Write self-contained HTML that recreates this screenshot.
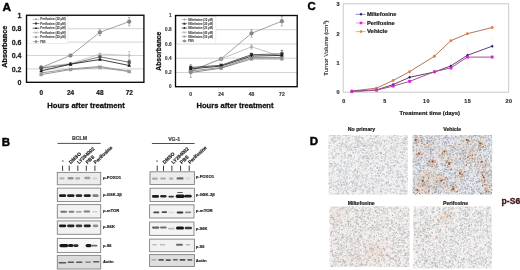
<!DOCTYPE html>
<html><head><meta charset="utf-8"><style>
html,body{margin:0;padding:0;background:#fff;width:520px;height:270px;overflow:hidden}
svg{display:block;opacity:0.999}
text{font-family:"Liberation Sans", sans-serif}
</style></head><body>
<svg width="520" height="270" viewBox="0 0 520 270" font-family='"Liberation Sans", sans-serif'>
<defs><filter id="bl" x="-30%" y="-80%" width="160%" height="260%"><feGaussianBlur stdDeviation="0.45"/></filter><filter id="bl4" x="-5%" y="-5%" width="110%" height="110%"><feGaussianBlur stdDeviation="0.3"/></filter><filter id="bl3" x="-50%" y="-50%" width="200%" height="200%"><feGaussianBlur stdDeviation="3"/></filter><filter id="bl2" x="-50%" y="-50%" width="200%" height="200%"><feGaussianBlur stdDeviation="1.2"/></filter></defs>
<rect width="520" height="270" fill="#fff"/>
<text x="2.6" y="11" font-size="11.8" font-weight="bold" text-anchor="start" fill="#000" stroke="#000" stroke-width="0.44" >A</text>
<text x="1.8" y="146" font-size="11.5" font-weight="bold" text-anchor="start" fill="#000" stroke="#000" stroke-width="0.43" >B</text>
<text x="307.5" y="9.9" font-size="11.4" font-weight="bold" text-anchor="start" fill="#000" stroke="#000" stroke-width="0.43" >C</text>
<text x="309.8" y="144.6" font-size="11.5" font-weight="bold" text-anchor="start" fill="#000" stroke="#000" stroke-width="0.43" >D</text>
<line x1="26.5" y1="68.9" x2="143.9" y2="68.9" stroke="#c8c8c8" stroke-width="0.8"/>
<line x1="26.5" y1="55.5" x2="143.9" y2="55.5" stroke="#c8c8c8" stroke-width="0.8"/>
<line x1="26.5" y1="42.1" x2="143.9" y2="42.1" stroke="#c8c8c8" stroke-width="0.8"/>
<line x1="26.5" y1="28.7" x2="143.9" y2="28.7" stroke="#c8c8c8" stroke-width="0.8"/>
<rect x="27.8" y="16.6" width="40.2" height="27" fill="#fff" stroke="#dadada" stroke-width="0.5"/>
<line x1="32.6" y1="19.3" x2="39.4" y2="19.3" stroke="#999" stroke-width="0.6"/>
<path d="M36.0,18.0L37.0,19.3L36.0,20.6L35.0,19.3Z" fill="#999"/>
<text x="40.2" y="20.4" font-size="3.3" font-weight="bold" fill="#4a4a4a" stroke="#4a4a4a" stroke-width="0.1" textLength="25.5" lengthAdjust="spacingAndGlyphs">Perifosine (10 µM)</text>
<line x1="32.6" y1="23.5" x2="39.4" y2="23.5" stroke="#333" stroke-width="0.6"/>
<rect x="35.0" y="22.5" width="2.0" height="2.0" fill="#333"/>
<text x="40.2" y="24.6" font-size="3.3" font-weight="bold" fill="#4a4a4a" stroke="#4a4a4a" stroke-width="0.1" textLength="25.5" lengthAdjust="spacingAndGlyphs">Perifosine (20 µM)</text>
<line x1="32.6" y1="28.2" x2="39.4" y2="28.2" stroke="#111" stroke-width="0.6"/>
<path d="M36.0,26.9L37.2,28.9L34.8,28.9Z" fill="#111"/>
<text x="40.2" y="29.3" font-size="3.3" font-weight="bold" fill="#4a4a4a" stroke="#4a4a4a" stroke-width="0.1" textLength="25.5" lengthAdjust="spacingAndGlyphs">Perifosine (25 µM)</text>
<line x1="32.6" y1="32.6" x2="39.4" y2="32.6" stroke="#aaa" stroke-width="0.6"/>
<path d="M35.0,31.6L37.0,33.6M37.0,31.6L35.0,33.6" stroke="#aaa" stroke-width="0.9"/>
<text x="40.2" y="33.8" font-size="3.3" font-weight="bold" fill="#4a4a4a" stroke="#4a4a4a" stroke-width="0.1" textLength="25.5" lengthAdjust="spacingAndGlyphs">Perifosine (40 µM)</text>
<line x1="32.6" y1="37.0" x2="39.4" y2="37.0" stroke="#999" stroke-width="0.6"/>
<rect x="35.0" y="36.0" width="2.0" height="2.0" fill="#999"/>
<text x="40.2" y="38.1" font-size="3.3" font-weight="bold" fill="#4a4a4a" stroke="#4a4a4a" stroke-width="0.1" textLength="25.5" lengthAdjust="spacingAndGlyphs">Perifosine (50 µM)</text>
<line x1="32.6" y1="41.6" x2="39.4" y2="41.6" stroke="#999" stroke-width="0.6"/>
<circle cx="36.0" cy="41.6" r="1.15" fill="#999" stroke="#666" stroke-width="0.4"/>
<text x="40.2" y="42.8" font-size="3.3" font-weight="bold" fill="#4a4a4a" stroke="#4a4a4a" stroke-width="0.1" textLength="5.4" lengthAdjust="spacingAndGlyphs">PBS</text>
<polyline points="41.2,67.5 70.5,55.5 99.9,32.3 129.2,21.6" fill="none" stroke="#8a8a8a" stroke-width="0.8"/>
<polyline points="41.2,66.9 70.5,63.5 99.9,54.1 129.2,55.5" fill="none" stroke="#b4b4b4" stroke-width="0.7"/>
<polyline points="41.2,68.2 70.5,64.2 99.9,56.8 129.2,62.2" fill="none" stroke="#555" stroke-width="0.8"/>
<polyline points="41.2,70.9 70.5,64.2 99.9,59.5 129.2,65.5" fill="none" stroke="#111" stroke-width="0.8"/>
<polyline points="41.2,72.9 70.5,68.9 99.9,66.5 129.2,71.2" fill="none" stroke="#9a9a9a" stroke-width="1.0"/>
<polyline points="41.2,74.6 70.5,69.6 99.9,67.5 129.2,71.6" fill="none" stroke="#9a9a9a" stroke-width="1.0"/>
<circle cx="41.2" cy="67.5" r="1.84" fill="#8a8a8a" stroke="#666" stroke-width="0.4"/>
<circle cx="70.5" cy="55.5" r="1.84" fill="#8a8a8a" stroke="#666" stroke-width="0.4"/>
<path d="M99.9,29.1V35.6M98.7,29.1h2.4M98.7,35.6h2.4" stroke="#8a8a8a" stroke-width="0.6"/>
<circle cx="99.9" cy="32.3" r="1.84" fill="#8a8a8a" stroke="#666" stroke-width="0.4"/>
<path d="M129.2,17.4V25.8M128.0,17.4h2.4M128.0,25.8h2.4" stroke="#8a8a8a" stroke-width="0.6"/>
<circle cx="129.2" cy="21.6" r="1.84" fill="#8a8a8a" stroke="#666" stroke-width="0.4"/>
<path d="M41.2,65.0L42.8,66.9L41.2,68.8L39.6,66.9Z" fill="#b4b4b4"/>
<path d="M70.5,61.6L72.1,63.5L70.5,65.4L68.9,63.5Z" fill="#b4b4b4"/>
<path d="M99.9,52.2L101.5,54.1L99.9,56.0L98.3,54.1Z" fill="#b4b4b4"/>
<path d="M129.2,51.5V59.5M128.0,51.5h2.4M128.0,59.5h2.4" stroke="#b4b4b4" stroke-width="0.6"/>
<path d="M129.2,53.6L130.8,55.5L129.2,57.4L127.6,55.5Z" fill="#b4b4b4"/>
<path d="M41.2,66.2V70.2M40.0,66.2h2.4M40.0,70.2h2.4" stroke="#555" stroke-width="0.6"/>
<rect x="39.6" y="66.6" width="3.2" height="3.2" fill="#555"/>
<rect x="68.9" y="62.6" width="3.2" height="3.2" fill="#555"/>
<rect x="98.3" y="55.2" width="3.2" height="3.2" fill="#555"/>
<path d="M129.2,60.2V64.2M128.0,60.2h2.4M128.0,64.2h2.4" stroke="#555" stroke-width="0.6"/>
<rect x="127.6" y="60.6" width="3.2" height="3.2" fill="#555"/>
<path d="M41.2,69.0L43.0,72.2L39.4,72.2Z" fill="#111"/>
<path d="M70.5,62.3L72.3,65.5L68.7,65.5Z" fill="#111"/>
<path d="M99.9,57.6L101.7,60.8L98.1,60.8Z" fill="#111"/>
<path d="M129.2,63.6L131.0,66.8L127.4,66.8Z" fill="#111"/>
<path d="M39.6,71.3L42.8,74.5M42.8,71.3L39.6,74.5" stroke="#9a9a9a" stroke-width="0.9"/>
<path d="M68.9,67.3L72.1,70.5M72.1,67.3L68.9,70.5" stroke="#9a9a9a" stroke-width="0.9"/>
<path d="M98.3,64.9L101.5,68.1M101.5,64.9L98.3,68.1" stroke="#9a9a9a" stroke-width="0.9"/>
<path d="M127.6,69.6L130.8,72.8M130.8,69.6L127.6,72.8" stroke="#9a9a9a" stroke-width="0.9"/>
<rect x="39.6" y="73.0" width="3.2" height="3.2" fill="#9a9a9a"/>
<rect x="68.9" y="68.0" width="3.2" height="3.2" fill="#9a9a9a"/>
<rect x="98.3" y="65.9" width="3.2" height="3.2" fill="#9a9a9a"/>
<rect x="127.6" y="70.0" width="3.2" height="3.2" fill="#9a9a9a"/>
<rect x="26.5" y="15.25" width="117.4" height="67.05" fill="none" stroke="#0a0a0a" stroke-width="1.35"/>
<text x="21.4" y="84.9" font-size="7.0" font-weight="bold" text-anchor="end" fill="#222" stroke="#222" stroke-width="0.26" >0</text>
<text x="21.4" y="71.5" font-size="7.0" font-weight="bold" text-anchor="end" fill="#222" stroke="#222" stroke-width="0.26" >0.2</text>
<text x="21.4" y="58.1" font-size="7.0" font-weight="bold" text-anchor="end" fill="#222" stroke="#222" stroke-width="0.26" >0.4</text>
<text x="21.4" y="44.7" font-size="7.0" font-weight="bold" text-anchor="end" fill="#222" stroke="#222" stroke-width="0.26" >0.6</text>
<text x="21.4" y="31.2" font-size="7.0" font-weight="bold" text-anchor="end" fill="#222" stroke="#222" stroke-width="0.26" >0.8</text>
<text x="21.4" y="17.8" font-size="7.0" font-weight="bold" text-anchor="end" fill="#222" stroke="#222" stroke-width="0.26" >1</text>
<text x="41.2" y="95.0" font-size="6.4" font-weight="bold" text-anchor="middle" fill="#222" stroke="#222" stroke-width="0.24" >0</text>
<text x="70.5" y="95.0" font-size="6.4" font-weight="bold" text-anchor="middle" fill="#222" stroke="#222" stroke-width="0.24" >24</text>
<text x="99.9" y="95.0" font-size="6.4" font-weight="bold" text-anchor="middle" fill="#222" stroke="#222" stroke-width="0.24" >48</text>
<text x="129.2" y="95.0" font-size="6.4" font-weight="bold" text-anchor="middle" fill="#222" stroke="#222" stroke-width="0.24" >72</text>
<text x="86" y="107.5" font-size="8.0" font-weight="bold" text-anchor="middle" fill="#111" textLength="77.5" lengthAdjust="spacingAndGlyphs" stroke="#111" stroke-width="0.30" >Hours after treatment</text>
<text x="0" y="0" font-size="7.2" font-weight="bold" text-anchor="middle" fill="#111" textLength="42" lengthAdjust="spacingAndGlyphs" stroke="#111" stroke-width="0.27" transform="translate(6.6,46.7) rotate(-90)">Absorbance</text>
<line x1="175.5" y1="72.5" x2="297.2" y2="72.5" stroke="#c8c8c8" stroke-width="0.8"/>
<line x1="175.5" y1="58.2" x2="297.2" y2="58.2" stroke="#c8c8c8" stroke-width="0.8"/>
<line x1="175.5" y1="44.0" x2="297.2" y2="44.0" stroke="#c8c8c8" stroke-width="0.8"/>
<line x1="175.5" y1="29.7" x2="297.2" y2="29.7" stroke="#c8c8c8" stroke-width="0.8"/>
<rect x="176.3" y="16.5" width="39.6" height="27.3" fill="#fff" stroke="#dadada" stroke-width="0.5"/>
<line x1="181.6" y1="19.5" x2="187.2" y2="19.5" stroke="#999" stroke-width="0.6"/>
<path d="M184.4,18.2L185.4,19.5L184.4,20.8L183.4,19.5Z" fill="#999"/>
<text x="188.2" y="20.6" font-size="3.3" font-weight="bold" fill="#4a4a4a" stroke="#4a4a4a" stroke-width="0.1" textLength="24.7" lengthAdjust="spacingAndGlyphs">Miltefosine (10 µM)</text>
<line x1="181.6" y1="23.7" x2="187.2" y2="23.7" stroke="#333" stroke-width="0.6"/>
<rect x="183.4" y="22.7" width="2.0" height="2.0" fill="#333"/>
<text x="188.2" y="24.8" font-size="3.3" font-weight="bold" fill="#4a4a4a" stroke="#4a4a4a" stroke-width="0.1" textLength="24.7" lengthAdjust="spacingAndGlyphs">Miltefosine (20 µM)</text>
<line x1="181.6" y1="28.0" x2="187.2" y2="28.0" stroke="#111" stroke-width="0.6"/>
<path d="M184.4,26.7L185.6,28.7L183.2,28.7Z" fill="#111"/>
<text x="188.2" y="29.1" font-size="3.3" font-weight="bold" fill="#4a4a4a" stroke="#4a4a4a" stroke-width="0.1" textLength="24.7" lengthAdjust="spacingAndGlyphs">Miltefosine (25 µM)</text>
<line x1="181.6" y1="32.4" x2="187.2" y2="32.4" stroke="#aaa" stroke-width="0.6"/>
<path d="M183.4,31.4L185.4,33.4M185.4,31.4L183.4,33.4" stroke="#aaa" stroke-width="0.9"/>
<text x="188.2" y="33.5" font-size="3.3" font-weight="bold" fill="#4a4a4a" stroke="#4a4a4a" stroke-width="0.1" textLength="24.7" lengthAdjust="spacingAndGlyphs">Miltefosine (40 µM)</text>
<line x1="181.6" y1="36.6" x2="187.2" y2="36.6" stroke="#999" stroke-width="0.6"/>
<rect x="183.4" y="35.6" width="2.0" height="2.0" fill="#999"/>
<text x="188.2" y="37.8" font-size="3.3" font-weight="bold" fill="#4a4a4a" stroke="#4a4a4a" stroke-width="0.1" textLength="24.7" lengthAdjust="spacingAndGlyphs">Miltefosine (50 µM)</text>
<line x1="181.6" y1="41.0" x2="187.2" y2="41.0" stroke="#999" stroke-width="0.6"/>
<circle cx="184.4" cy="41.0" r="1.15" fill="#999" stroke="#666" stroke-width="0.4"/>
<text x="188.2" y="42.1" font-size="3.3" font-weight="bold" fill="#4a4a4a" stroke="#4a4a4a" stroke-width="0.1" textLength="5.8" lengthAdjust="spacingAndGlyphs">PBS</text>
<polyline points="190.7,71.0 221.1,58.9 251.5,33.3 281.9,21.2" fill="none" stroke="#8a8a8a" stroke-width="0.8"/>
<polyline points="190.7,71.0 221.1,58.9 251.5,46.8 281.9,56.8" fill="none" stroke="#a8a8a8" stroke-width="0.7"/>
<polyline points="190.7,67.5 221.1,65.3 251.5,54.7 281.9,53.9" fill="none" stroke="#333" stroke-width="0.8"/>
<polyline points="190.7,68.9 221.1,66.1 251.5,56.1 281.9,55.4" fill="none" stroke="#111" stroke-width="0.8"/>
<polyline points="190.7,71.0 221.1,67.5 251.5,57.5 281.9,57.5" fill="none" stroke="#999" stroke-width="1.0"/>
<polyline points="190.7,72.5 221.1,68.2 251.5,58.9 281.9,58.9" fill="none" stroke="#8c8c8c" stroke-width="1.0"/>
<path d="M190.7,64.6V77.4M189.5,64.6h2.4M189.5,77.4h2.4" stroke="#8a8a8a" stroke-width="0.6"/>
<circle cx="190.7" cy="71.0" r="1.84" fill="#8a8a8a" stroke="#666" stroke-width="0.4"/>
<circle cx="221.1" cy="58.9" r="1.84" fill="#8a8a8a" stroke="#666" stroke-width="0.4"/>
<path d="M251.5,29.6V37.0M250.3,29.6h2.4M250.3,37.0h2.4" stroke="#8a8a8a" stroke-width="0.6"/>
<circle cx="251.5" cy="33.3" r="1.84" fill="#8a8a8a" stroke="#666" stroke-width="0.4"/>
<path d="M281.9,16.4V26.0M280.7,16.4h2.4M280.7,26.0h2.4" stroke="#8a8a8a" stroke-width="0.6"/>
<circle cx="281.9" cy="21.2" r="1.84" fill="#8a8a8a" stroke="#666" stroke-width="0.4"/>
<path d="M190.7,69.1L192.3,71.0L190.7,72.9L189.1,71.0Z" fill="#a8a8a8"/>
<path d="M221.1,57.0L222.7,58.9L221.1,60.8L219.5,58.9Z" fill="#a8a8a8"/>
<path d="M251.5,44.7V49.0M250.3,44.7h2.4M250.3,49.0h2.4" stroke="#a8a8a8" stroke-width="0.6"/>
<path d="M251.5,44.9L253.1,46.8L251.5,48.7L249.9,46.8Z" fill="#a8a8a8"/>
<path d="M281.9,54.9L283.5,56.8L281.9,58.7L280.3,56.8Z" fill="#a8a8a8"/>
<path d="M190.7,66.1V68.9M189.5,66.1h2.4M189.5,68.9h2.4" stroke="#333" stroke-width="0.6"/>
<rect x="189.1" y="65.9" width="3.2" height="3.2" fill="#333"/>
<rect x="219.5" y="63.7" width="3.2" height="3.2" fill="#333"/>
<path d="M251.5,53.2V56.1M250.3,53.2h2.4M250.3,56.1h2.4" stroke="#333" stroke-width="0.6"/>
<rect x="249.9" y="53.1" width="3.2" height="3.2" fill="#333"/>
<path d="M281.9,50.4V57.5M280.7,50.4h2.4M280.7,57.5h2.4" stroke="#333" stroke-width="0.6"/>
<rect x="280.3" y="52.3" width="3.2" height="3.2" fill="#333"/>
<path d="M190.7,67.0L192.5,70.2L188.9,70.2Z" fill="#111"/>
<path d="M221.1,64.2L222.9,67.4L219.3,67.4Z" fill="#111"/>
<path d="M251.5,54.2L253.3,57.4L249.7,57.4Z" fill="#111"/>
<path d="M281.9,53.5L283.7,56.7L280.1,56.7Z" fill="#111"/>
<path d="M189.1,69.4L192.3,72.6M192.3,69.4L189.1,72.6" stroke="#999" stroke-width="0.9"/>
<path d="M219.5,65.9L222.7,69.1M222.7,65.9L219.5,69.1" stroke="#999" stroke-width="0.9"/>
<path d="M249.9,55.9L253.1,59.1M253.1,55.9L249.9,59.1" stroke="#999" stroke-width="0.9"/>
<path d="M280.3,55.9L283.5,59.1M283.5,55.9L280.3,59.1" stroke="#999" stroke-width="0.9"/>
<rect x="189.1" y="70.9" width="3.2" height="3.2" fill="#8c8c8c"/>
<rect x="219.5" y="66.6" width="3.2" height="3.2" fill="#8c8c8c"/>
<rect x="249.9" y="57.3" width="3.2" height="3.2" fill="#8c8c8c"/>
<rect x="280.3" y="57.3" width="3.2" height="3.2" fill="#8c8c8c"/>
<rect x="175.5" y="15.5" width="121.7" height="71.2" fill="none" stroke="#0a0a0a" stroke-width="1.35"/>
<text x="171.5" y="88.4" font-size="4.6" font-weight="bold" text-anchor="end" fill="#444" stroke="#444" stroke-width="0.17" >0</text>
<text x="171.5" y="74.2" font-size="4.6" font-weight="bold" text-anchor="end" fill="#444" stroke="#444" stroke-width="0.17" >0.2</text>
<text x="171.5" y="59.9" font-size="4.6" font-weight="bold" text-anchor="end" fill="#444" stroke="#444" stroke-width="0.17" >0.4</text>
<text x="171.5" y="45.7" font-size="4.6" font-weight="bold" text-anchor="end" fill="#444" stroke="#444" stroke-width="0.17" >0.6</text>
<text x="171.5" y="31.4" font-size="4.6" font-weight="bold" text-anchor="end" fill="#444" stroke="#444" stroke-width="0.17" >0.8</text>
<text x="171.5" y="17.2" font-size="4.6" font-weight="bold" text-anchor="end" fill="#444" stroke="#444" stroke-width="0.17" >1</text>
<text x="190.7" y="96.4" font-size="5.0" font-weight="bold" text-anchor="middle" fill="#444" stroke="#444" stroke-width="0.19" >0</text>
<text x="221.1" y="96.4" font-size="5.0" font-weight="bold" text-anchor="middle" fill="#444" stroke="#444" stroke-width="0.19" >24</text>
<text x="251.5" y="96.4" font-size="5.0" font-weight="bold" text-anchor="middle" fill="#444" stroke="#444" stroke-width="0.19" >48</text>
<text x="281.9" y="96.4" font-size="5.0" font-weight="bold" text-anchor="middle" fill="#444" stroke="#444" stroke-width="0.19" >72</text>
<text x="235" y="107.7" font-size="8.0" font-weight="bold" text-anchor="middle" fill="#111" textLength="77" lengthAdjust="spacingAndGlyphs" stroke="#111" stroke-width="0.30" >Hours after treatment</text>
<text x="0" y="0" font-size="6.8" font-weight="bold" text-anchor="middle" fill="#111" textLength="39" lengthAdjust="spacingAndGlyphs" stroke="#111" stroke-width="0.26" transform="translate(161.0,51.2) rotate(-90)">Absorbance</text>
<rect x="343.2" y="3.8" width="165.5" height="88.4" fill="none" stroke="#c4c4c4" stroke-width="0.9"/>
<line x1="450.9" y1="55.6" x2="450.9" y2="76.1" stroke="#ece8e0" stroke-width="0.5"/>
<line x1="467.4" y1="43.6" x2="467.4" y2="67.0" stroke="#ece8e0" stroke-width="0.5"/>
<line x1="492.2" y1="36.0" x2="492.2" y2="56.5" stroke="#ece8e0" stroke-width="0.5"/>
<line x1="409.6" y1="72.9" x2="409.6" y2="81.7" stroke="#ece8e0" stroke-width="0.5"/>
<line x1="434.4" y1="53.3" x2="434.4" y2="59.1" stroke="#ece8e0" stroke-width="0.5"/>
<polyline points="351.9,91.0 376.6,88.1 393.1,80.5 409.6,71.7 434.4,56.2 450.9,40.7 467.4,33.7 492.2,27.5" fill="none" stroke="#b07858" stroke-width="1.0"/>
<polyline points="351.9,91.3 376.6,89.9 393.1,84.6 409.6,77.3 434.4,72.0 450.9,65.9 467.4,55.3 492.2,46.2" fill="none" stroke="#604070" stroke-width="1.0"/>
<polyline points="351.9,91.6 376.6,90.2 393.1,86.1 409.6,81.4 434.4,71.7 450.9,67.9 467.4,57.1 492.2,57.1" fill="none" stroke="#a85090" stroke-width="1.0"/>
<circle cx="351.9" cy="91.0" r="1.45" fill="#e4803a"/>
<circle cx="376.6" cy="88.1" r="1.45" fill="#e4803a"/>
<circle cx="393.1" cy="80.5" r="1.45" fill="#e4803a"/>
<circle cx="409.6" cy="71.7" r="1.45" fill="#e4803a"/>
<circle cx="434.4" cy="56.2" r="1.45" fill="#e4803a"/>
<circle cx="450.9" cy="40.7" r="1.45" fill="#e4803a"/>
<circle cx="467.4" cy="33.7" r="1.45" fill="#e4803a"/>
<circle cx="492.2" cy="27.5" r="1.45" fill="#e4803a"/>
<path d="M351.9,89.8l1.5,1.5l-1.5,1.5l-1.5,-1.5z" fill="#1a1a7a"/>
<path d="M376.6,88.4l1.5,1.5l-1.5,1.5l-1.5,-1.5z" fill="#1a1a7a"/>
<path d="M393.1,83.1l1.5,1.5l-1.5,1.5l-1.5,-1.5z" fill="#1a1a7a"/>
<path d="M409.6,75.8l1.5,1.5l-1.5,1.5l-1.5,-1.5z" fill="#1a1a7a"/>
<path d="M434.4,70.5l1.5,1.5l-1.5,1.5l-1.5,-1.5z" fill="#1a1a7a"/>
<path d="M450.9,64.4l1.5,1.5l-1.5,1.5l-1.5,-1.5z" fill="#1a1a7a"/>
<path d="M467.4,53.8l1.5,1.5l-1.5,1.5l-1.5,-1.5z" fill="#1a1a7a"/>
<path d="M492.2,44.7l1.5,1.5l-1.5,1.5l-1.5,-1.5z" fill="#1a1a7a"/>
<rect x="350.4" y="90.2" width="2.9" height="2.9" fill="#dd22dd"/>
<rect x="375.2" y="88.7" width="2.9" height="2.9" fill="#dd22dd"/>
<rect x="391.7" y="84.6" width="2.9" height="2.9" fill="#dd22dd"/>
<rect x="408.2" y="79.9" width="2.9" height="2.9" fill="#dd22dd"/>
<rect x="433.0" y="70.3" width="2.9" height="2.9" fill="#dd22dd"/>
<rect x="449.5" y="66.5" width="2.9" height="2.9" fill="#dd22dd"/>
<rect x="466.0" y="55.6" width="2.9" height="2.9" fill="#dd22dd"/>
<rect x="490.7" y="55.6" width="2.9" height="2.9" fill="#dd22dd"/>
<text x="339.5" y="94.2" font-size="5.5" font-weight="bold" text-anchor="end" fill="#333" stroke="#333" stroke-width="0.21" >0</text>
<text x="339.5" y="64.9" font-size="5.5" font-weight="bold" text-anchor="end" fill="#333" stroke="#333" stroke-width="0.21" >1</text>
<text x="339.5" y="35.6" font-size="5.5" font-weight="bold" text-anchor="end" fill="#333" stroke="#333" stroke-width="0.21" >2</text>
<text x="339.5" y="6.3" font-size="5.5" font-weight="bold" text-anchor="end" fill="#333" stroke="#333" stroke-width="0.21" >3</text>
<text x="343.9" y="102.9" font-size="5.4" font-weight="bold" text-anchor="middle" fill="#333" stroke="#333" stroke-width="0.20" letter-spacing="0.5">0</text>
<text x="385.1" y="102.9" font-size="5.4" font-weight="bold" text-anchor="middle" fill="#333" stroke="#333" stroke-width="0.20" letter-spacing="0.5">5</text>
<text x="426.4" y="102.9" font-size="5.4" font-weight="bold" text-anchor="middle" fill="#333" stroke="#333" stroke-width="0.20" letter-spacing="0.5">10</text>
<text x="467.7" y="102.9" font-size="5.4" font-weight="bold" text-anchor="middle" fill="#333" stroke="#333" stroke-width="0.20" letter-spacing="0.5">15</text>
<text x="509.0" y="102.9" font-size="5.4" font-weight="bold" text-anchor="middle" fill="#333" stroke="#333" stroke-width="0.20" letter-spacing="0.5">20</text>
<line x1="355.8" y1="14.3" x2="365.6" y2="14.3" stroke="#6a5aa0" stroke-width="0.7"/>
<path d="M361,12.8l1.5,1.5l-1.5,1.5l-1.5,-1.5z" fill="#1a1a7a"/>
<text x="366.9" y="16.1" font-size="5.6" font-weight="bold" text-anchor="start" fill="#222" textLength="29.5" lengthAdjust="spacingAndGlyphs" stroke="#222" stroke-width="0.21" >Miltefosine</text>
<line x1="355.8" y1="23.0" x2="365.6" y2="23.0" stroke="#e070e0" stroke-width="0.7"/>
<rect x="359.7" y="21.7" width="2.6" height="2.6" fill="#dd22dd"/>
<text x="366.9" y="24.8" font-size="5.6" font-weight="bold" text-anchor="start" fill="#222" textLength="27.8" lengthAdjust="spacingAndGlyphs" stroke="#222" stroke-width="0.21" >Perifosine</text>
<line x1="355.8" y1="31.6" x2="365.6" y2="31.6" stroke="#d09070" stroke-width="0.7"/>
<circle cx="361" cy="31.6" r="1.3" fill="#e4803a"/>
<text x="366.9" y="33.4" font-size="5.6" font-weight="bold" text-anchor="start" fill="#222" textLength="20.7" lengthAdjust="spacingAndGlyphs" stroke="#222" stroke-width="0.21" >Vehicle</text>
<text x="0" y="0" font-size="6.1" font-weight="normal" text-anchor="middle" fill="#222" stroke="#222" stroke-width="0.12" transform="translate(327.9,48.1) rotate(-90)">Tumor Volume (cm<tspan font-size="3.8" dy="-2.2">3</tspan><tspan dy="2.2">)</tspan></text>
<text x="429.8" y="114.5" font-size="5.7" font-weight="bold" text-anchor="middle" fill="#222" textLength="60.5" lengthAdjust="spacingAndGlyphs" stroke="#222" stroke-width="0.21" >Treatment time (days)</text>
<text x="79.5" y="140.1" font-size="5.2" font-weight="bold" text-anchor="middle" fill="#444" textLength="15.2" lengthAdjust="spacingAndGlyphs" stroke="#444" stroke-width="0.20" >BCLM</text>
<line x1="57.5" y1="143.4" x2="100.7" y2="143.4" stroke="#222" stroke-width="0.8"/>
<line x1="62.6" y1="165.6" x2="62.6" y2="170.9" stroke="#222" stroke-width="0.9"/>
<line x1="69.2" y1="165.6" x2="69.2" y2="170.9" stroke="#222" stroke-width="0.9"/>
<line x1="77.8" y1="165.6" x2="77.8" y2="170.9" stroke="#222" stroke-width="0.9"/>
<line x1="86.3" y1="165.6" x2="86.3" y2="170.9" stroke="#222" stroke-width="0.9"/>
<line x1="94.9" y1="165.6" x2="94.9" y2="170.9" stroke="#222" stroke-width="0.9"/>
<rect x="61.9" y="160.6" width="1.7" height="0.9" fill="#333"/>
<text x="0" y="0" font-size="4.85" font-weight="bold" text-anchor="start" fill="#222" stroke="#222" stroke-width="0.18" transform="translate(70.8,164.2) rotate(-43)">DMSO</text>
<text x="0" y="0" font-size="4.85" font-weight="bold" text-anchor="start" fill="#222" stroke="#222" stroke-width="0.18" transform="translate(78.9,164.2) rotate(-43)">LY294002</text>
<text x="0" y="0" font-size="4.85" font-weight="bold" text-anchor="start" fill="#222" stroke="#222" stroke-width="0.18" transform="translate(87.5,164.2) rotate(-43)">PBS</text>
<text x="0" y="0" font-size="4.85" font-weight="bold" text-anchor="start" fill="#222" stroke="#222" stroke-width="0.18" transform="translate(95.6,164.2) rotate(-43)">Perifosine</text>
<rect x="57.3" y="172.4" width="43.4" height="12.4" fill="#ececec" stroke="#808080" stroke-width="0.9"/>
<rect x="59.4" y="177.3" width="5.2" height="2.2" rx="1.1" fill="#b5b5b5" filter="url(#bl)"/>
<rect x="67.6" y="177.0" width="6.0" height="2.4" rx="1.2" fill="#959595" filter="url(#bl)"/>
<rect x="75.2" y="177.3" width="5.0" height="2.2" rx="1.1" fill="#aaaaaa" filter="url(#bl)"/>
<rect x="84.2" y="176.8" width="6.2" height="2.4" rx="1.2" fill="#9f9f9f" filter="url(#bl)"/>
<rect x="92.5" y="177.4" width="5.0" height="2.0" rx="1.0" fill="#d1d1d1" filter="url(#bl)"/>
<rect x="57.3" y="188.1" width="43.4" height="13.5" fill="#f4f4f4" stroke="#808080" stroke-width="0.9"/>
<rect x="59.0" y="194.2" width="7.2" height="2.9" rx="1.4" fill="#1e1e1e" filter="url(#bl)"/>
<rect x="67.1" y="194.2" width="7.4" height="2.9" rx="1.4" fill="#232323" filter="url(#bl)"/>
<rect x="75.7" y="194.2" width="6.6" height="2.9" rx="1.4" fill="#2d2d2d" filter="url(#bl)"/>
<rect x="83.8" y="194.2" width="7.0" height="2.9" rx="1.4" fill="#232323" filter="url(#bl)"/>
<rect x="92.4" y="194.2" width="6.2" height="2.9" rx="1.4" fill="#7f7f7f" filter="url(#bl)"/>
<rect x="57.3" y="204.6" width="43.4" height="13.4" fill="#f2f2f2" stroke="#808080" stroke-width="0.9"/>
<rect x="60.3" y="210.8" width="6.7" height="2.0" rx="1.0" fill="#747474" filter="url(#bl)"/>
<rect x="68.6" y="210.8" width="5.8" height="2.0" rx="1.0" fill="#7f7f7f" filter="url(#bl)"/>
<rect x="75.9" y="210.9" width="5.9" height="1.8" rx="0.9" fill="#a6a6a6" filter="url(#bl)"/>
<rect x="83.6" y="210.6" width="6.5" height="2.0" rx="1.0" fill="#7f7f7f" filter="url(#bl)"/>
<rect x="92.0" y="211.0" width="5.5" height="1.6" rx="0.8" fill="#d1d1d1" filter="url(#bl)"/>
<rect x="57.3" y="220.9" width="43.4" height="13.4" fill="#f2f2f2" stroke="#808080" stroke-width="0.9"/>
<rect x="58.9" y="224.4" width="7.4" height="2.8" rx="1.4" fill="#1e1e1e" filter="url(#bl)"/>
<rect x="67.1" y="224.4" width="7.4" height="2.8" rx="1.4" fill="#252525" filter="url(#bl)"/>
<rect x="75.7" y="224.4" width="6.6" height="2.8" rx="1.4" fill="#3a3a3a" filter="url(#bl)"/>
<rect x="83.7" y="224.4" width="7.2" height="2.8" rx="1.4" fill="#232323" filter="url(#bl)"/>
<rect x="92.75" y="224.4" width="5.5" height="2.8" rx="1.4" fill="#909090" filter="url(#bl)"/>
<rect x="57.3" y="238.4" width="43.4" height="14.2" fill="#f8f8f8" stroke="#808080" stroke-width="0.9"/>
<rect x="59.4" y="243.9" width="8.9" height="3.4" rx="1.7" fill="#141414" filter="url(#bl)"/>
<rect x="68.0" y="244.1" width="5.5" height="3.0" rx="1.5" fill="#1e1e1e" filter="url(#bl)"/>
<rect x="73.3" y="244.3" width="5.2" height="2.6" rx="1.3" fill="#2d2d2d" filter="url(#bl)"/>
<rect x="85.6" y="244.0" width="6.0" height="3.2" rx="1.6" fill="#1e1e1e" filter="url(#bl)"/>
<rect x="91.4" y="244.7" width="6.0" height="1.9" rx="0.9" fill="#6a6a6a" filter="url(#bl)"/>
<rect x="57.3" y="255.4" width="43.4" height="13.6" fill="#dcdcdc" stroke="#808080" stroke-width="0.9"/>
<rect x="58.5" y="261.9" width="7.8" height="1.5" rx="0.8" fill="#545454" filter="url(#bl)"/>
<rect x="67.6" y="261.6" width="6.5" height="1.5" rx="0.8" fill="#545454" filter="url(#bl)"/>
<rect x="76.0" y="261.4" width="6.5" height="1.5" rx="0.8" fill="#545454" filter="url(#bl)"/>
<rect x="85.1" y="261.4" width="5.9" height="1.3" rx="0.7" fill="#747474" filter="url(#bl)"/>
<rect x="92.9" y="261.1" width="6.5" height="1.5" rx="0.8" fill="#5f5f5f" filter="url(#bl)"/>
<text x="102.9" y="178.8" font-size="4.2" font-weight="bold" text-anchor="start" fill="#222" textLength="18.3" lengthAdjust="spacingAndGlyphs" stroke="#222" stroke-width="0.16" >p-FOXO1</text>
<text x="102.9" y="195.9" font-size="4.2" font-weight="bold" text-anchor="start" fill="#222" textLength="18.9" lengthAdjust="spacingAndGlyphs" stroke="#222" stroke-width="0.16" >p-GSK-3β</text>
<text x="102.9" y="211.8" font-size="4.2" font-weight="bold" text-anchor="start" fill="#222" textLength="16.5" lengthAdjust="spacingAndGlyphs" stroke="#222" stroke-width="0.16" >p-mTOR</text>
<text x="102.9" y="228.4" font-size="4.2" font-weight="bold" text-anchor="start" fill="#222" textLength="12.0" lengthAdjust="spacingAndGlyphs" stroke="#222" stroke-width="0.16" >p-S6K</text>
<text x="102.9" y="246.5" font-size="4.2" font-weight="bold" text-anchor="start" fill="#222" textLength="8.7" lengthAdjust="spacingAndGlyphs" stroke="#222" stroke-width="0.16" >p-S6</text>
<text x="102.9" y="263.0" font-size="4.2" font-weight="bold" text-anchor="start" fill="#222" textLength="10.6" lengthAdjust="spacingAndGlyphs" stroke="#222" stroke-width="0.16" >Actin</text>
<text x="174.2" y="141.0" font-size="5.2" font-weight="bold" text-anchor="middle" fill="#444" textLength="12.1" lengthAdjust="spacingAndGlyphs" stroke="#444" stroke-width="0.20" >VG-1</text>
<line x1="151.9" y1="143.5" x2="194.6" y2="143.5" stroke="#222" stroke-width="0.8"/>
<line x1="157.2" y1="165.6" x2="157.2" y2="170.9" stroke="#222" stroke-width="0.9"/>
<line x1="163.5" y1="165.6" x2="163.5" y2="170.9" stroke="#222" stroke-width="0.9"/>
<line x1="171.9" y1="165.6" x2="171.9" y2="170.9" stroke="#222" stroke-width="0.9"/>
<line x1="180.6" y1="165.6" x2="180.6" y2="170.9" stroke="#222" stroke-width="0.9"/>
<line x1="189.2" y1="165.6" x2="189.2" y2="170.9" stroke="#222" stroke-width="0.9"/>
<rect x="156.2" y="160.6" width="1.7" height="0.9" fill="#333"/>
<text x="0" y="0" font-size="4.85" font-weight="bold" text-anchor="start" fill="#222" stroke="#222" stroke-width="0.18" transform="translate(164.5,164.2) rotate(-43)">DMSO</text>
<text x="0" y="0" font-size="4.85" font-weight="bold" text-anchor="start" fill="#222" stroke="#222" stroke-width="0.18" transform="translate(173.2,164.2) rotate(-43)">LY294002</text>
<text x="0" y="0" font-size="4.85" font-weight="bold" text-anchor="start" fill="#222" stroke="#222" stroke-width="0.18" transform="translate(181.8,164.2) rotate(-43)">PBS</text>
<text x="0" y="0" font-size="4.85" font-weight="bold" text-anchor="start" fill="#222" stroke="#222" stroke-width="0.18" transform="translate(189.9,164.2) rotate(-43)">Perifosine</text>
<rect x="150.0" y="171.8" width="44.4" height="12.7" fill="#ececec" stroke="#808080" stroke-width="0.9"/>
<rect x="152" y="177.4" width="5.7" height="2.4" rx="1.2" fill="#aaaaaa" filter="url(#bl)"/>
<rect x="160.2" y="177.6" width="5.7" height="2.0" rx="1.0" fill="#aaaaaa" filter="url(#bl)"/>
<rect x="169" y="177.5" width="4.4" height="2.2" rx="1.1" fill="#aeaeae" filter="url(#bl)"/>
<rect x="176.6" y="177.2" width="6.9" height="2.4" rx="1.2" fill="#6a6a6a" filter="url(#bl)"/>
<rect x="185.5" y="177.6" width="5.0" height="2.0" rx="1.0" fill="#d5d5d5" filter="url(#bl)"/>
<rect x="150.0" y="188.2" width="44.4" height="13.3" fill="#f4f4f4" stroke="#808080" stroke-width="0.9"/>
<rect x="152" y="195.1" width="7.0" height="2.6" rx="1.3" fill="#1e1e1e" filter="url(#bl)"/>
<rect x="160.2" y="195.0" width="6.3" height="2.4" rx="1.2" fill="#292929" filter="url(#bl)"/>
<rect x="168.4" y="195.7" width="5.6" height="1.8" rx="0.9" fill="#343434" filter="url(#bl)"/>
<rect x="175.7" y="194.5" width="9.1" height="3.4" rx="1.7" fill="#141414" filter="url(#bl)"/>
<rect x="184.5" y="194.8" width="7.2" height="2.8" rx="1.4" fill="#1e1e1e" filter="url(#bl)"/>
<rect x="177.2" y="192.0" width="5.7" height="0.9" rx="0.5" fill="#545454" filter="url(#bl)"/>
<rect x="149.6" y="204.8" width="44.4" height="13.2" fill="#f2f2f2" stroke="#808080" stroke-width="0.9"/>
<rect x="153.3" y="211.5" width="6.0" height="1.8" rx="0.9" fill="#494949" filter="url(#bl)"/>
<rect x="161.7" y="211.3" width="5.3" height="1.8" rx="0.9" fill="#494949" filter="url(#bl)"/>
<rect x="168.7" y="211.8" width="6.0" height="1.5" rx="0.8" fill="#d9d9d9" filter="url(#bl)"/>
<rect x="176.7" y="211.5" width="6.6" height="1.9" rx="0.9" fill="#343434" filter="url(#bl)"/>
<rect x="185" y="211.6" width="6.3" height="1.6" rx="0.8" fill="#8a8a8a" filter="url(#bl)"/>
<rect x="149.6" y="222.0" width="44.4" height="13.4" fill="#f4f4f4" stroke="#808080" stroke-width="0.9"/>
<rect x="152" y="226.5" width="7.3" height="2.2" rx="1.1" fill="#656565" filter="url(#bl)"/>
<rect x="160" y="226.5" width="6.7" height="2.1" rx="1.1" fill="#6e6e6e" filter="url(#bl)"/>
<rect x="168" y="227.7" width="6.7" height="1.8" rx="0.9" fill="#bbbbbb" filter="url(#bl)"/>
<rect x="176" y="226.5" width="8.0" height="3.0" rx="1.5" fill="#141414" filter="url(#bl)"/>
<rect x="184.7" y="226.8" width="7.3" height="2.4" rx="1.2" fill="#3a3a3a" filter="url(#bl)"/>
<rect x="149.6" y="239.1" width="44.8" height="12.6" fill="#f2f2f2" stroke="#808080" stroke-width="0.9"/>
<rect x="152" y="244.0" width="5.0" height="1.6" rx="0.8" fill="#c0c0c0" filter="url(#bl)"/>
<rect x="159.6" y="244.0" width="5.7" height="1.6" rx="0.8" fill="#bbbbbb" filter="url(#bl)"/>
<rect x="176" y="243.8" width="6.9" height="2.0" rx="1.0" fill="#6a6a6a" filter="url(#bl)"/>
<rect x="185.4" y="244.0" width="5.1" height="1.6" rx="0.8" fill="#bbbbbb" filter="url(#bl)"/>
<rect x="149.6" y="254.6" width="44.8" height="11.9" fill="#dedede" stroke="#808080" stroke-width="0.9"/>
<rect x="151.4" y="259.2" width="5.0" height="1.4" rx="0.7" fill="#9f9f9f" filter="url(#bl)"/>
<rect x="158.3" y="259.1" width="5.7" height="1.6" rx="0.8" fill="#545454" filter="url(#bl)"/>
<rect x="165.6" y="259.3" width="5.3" height="1.6" rx="0.8" fill="#545454" filter="url(#bl)"/>
<rect x="172.8" y="259.1" width="5.1" height="1.5" rx="0.8" fill="#5f5f5f" filter="url(#bl)"/>
<rect x="179.5" y="259.1" width="5.9" height="1.6" rx="0.8" fill="#505050" filter="url(#bl)"/>
<rect x="187.3" y="259.1" width="5.0" height="1.6" rx="0.8" fill="#5f5f5f" filter="url(#bl)"/>
<text x="195.8" y="178.1" font-size="4.2" font-weight="bold" text-anchor="start" fill="#222" textLength="18.2" lengthAdjust="spacingAndGlyphs" stroke="#222" stroke-width="0.16" >p-FOXO1</text>
<text x="195.8" y="196.1" font-size="4.2" font-weight="bold" text-anchor="start" fill="#222" textLength="18.9" lengthAdjust="spacingAndGlyphs" stroke="#222" stroke-width="0.16" >p-GSK-3β</text>
<text x="195.8" y="212.2" font-size="4.2" font-weight="bold" text-anchor="start" fill="#222" textLength="16.9" lengthAdjust="spacingAndGlyphs" stroke="#222" stroke-width="0.16" >p-mTOR</text>
<text x="195.8" y="229.8" font-size="4.2" font-weight="bold" text-anchor="start" fill="#222" textLength="11.7" lengthAdjust="spacingAndGlyphs" stroke="#222" stroke-width="0.16" >p-S6K</text>
<text x="195.8" y="247.8" font-size="4.2" font-weight="bold" text-anchor="start" fill="#222" textLength="8.7" lengthAdjust="spacingAndGlyphs" stroke="#222" stroke-width="0.16" >p-S6</text>
<text x="195.8" y="262.4" font-size="4.2" font-weight="bold" text-anchor="start" fill="#222" textLength="10.9" lengthAdjust="spacingAndGlyphs" stroke="#222" stroke-width="0.16" >Actin</text>
<text x="361.5" y="131.0" font-size="5.2" font-weight="bold" text-anchor="middle" fill="#222" stroke="#222" stroke-width="0.20" >No primary</text>
<text x="452.2" y="131.0" font-size="5.2" font-weight="bold" text-anchor="middle" fill="#222" stroke="#222" stroke-width="0.20" >Vehicle</text>
<text x="361.2" y="204.6" font-size="5.2" font-weight="bold" text-anchor="middle" fill="#222" stroke="#222" stroke-width="0.20" >Miltefosine</text>
<text x="455.5" y="205.2" font-size="5.2" font-weight="bold" text-anchor="middle" fill="#222" stroke="#222" stroke-width="0.20" >Perifosine</text>
<text x="501.6" y="203.6" font-size="9.0" font-weight="bold" text-anchor="start" fill="#3e1a1a" textLength="18.6" lengthAdjust="spacingAndGlyphs" stroke="#3e1a1a" stroke-width="0.34" >p-S6</text>
<rect x="328.5" y="135.1" width="79.5" height="59.4" fill="#f2f2f2"/>
<svg x="328.5" y="135.1" width="79.5" height="59.4" overflow="hidden">
<path d="M38.9 26.1h0.8v0.8h-0.8zM32.5 54.3h0.9v0.9h-0.9zM67.1 29.5h1.1v1.1h-1.1zM18.5 47.2h1v1h-1zM49.2 36.0h0.9v0.9h-0.9zM50.1 32.3h1.3v1.3h-1.3zM8.2 17.8h1v1h-1zM7.8 53.3h1.3v1.3h-1.3zM9.1 11.8h0.8v0.8h-0.8zM19.3 -0.5h1.3v1.3h-1.3zM65.0 57.1h1.3v1.3h-1.3zM40.0 21.8h1.3v1.3h-1.3zM53.3 25.2h1.1v1.1h-1.1zM17.9 42.8h0.9v0.9h-0.9zM29.6 58.9h1v1h-1zM8.2 34.5h1.3v1.3h-1.3zM6.4 6.0h0.9v0.9h-0.9zM18.3 58.7h1.1v1.1h-1.1zM12.5 13.6h1.1v1.1h-1.1zM24.8 22.6h1v1h-1zM77.1 57.6h1.3v1.3h-1.3zM19.9 31.7h1v1h-1zM18.7 0.2h1v1h-1zM22.4 46.8h0.8v0.8h-0.8zM70.9 7.6h1v1h-1zM19.1 25.5h1.1v1.1h-1.1zM18.2 28.9h1.1v1.1h-1.1zM64.0 37.0h0.9v0.9h-0.9zM76.3 30.9h1.3v1.3h-1.3zM18.5 14.7h1.3v1.3h-1.3zM15.5 48.0h0.8v0.8h-0.8zM53.5 44.8h1.1v1.1h-1.1zM38.6 38.1h1.3v1.3h-1.3zM23.4 26.9h1.1v1.1h-1.1zM4.6 3.0h1.3v1.3h-1.3zM62.2 10.5h1.3v1.3h-1.3zM38.6 5.0h1.3v1.3h-1.3zM38.8 21.8h0.9v0.9h-0.9zM65.0 26.9h1.1v1.1h-1.1zM56.6 18.9h0.8v0.8h-0.8zM67.3 16.3h0.9v0.9h-0.9zM71.9 1.1h0.8v0.8h-0.8zM74.1 46.2h0.8v0.8h-0.8zM39.2 6.9h1.1v1.1h-1.1zM18.8 34.5h1v1h-1zM33.5 41.2h1v1h-1zM19.3 58.0h1.1v1.1h-1.1zM39.3 5.0h1.3v1.3h-1.3zM58.2 14.7h1v1h-1zM6.6 49.8h1v1h-1zM67.8 47.0h1.3v1.3h-1.3zM16.7 11.1h1.1v1.1h-1.1zM35.4 21.2h1.1v1.1h-1.1zM33.3 20.3h0.9v0.9h-0.9zM56.7 4.5h0.9v0.9h-0.9zM57.8 5.2h1.1v1.1h-1.1zM13.4 47.6h0.9v0.9h-0.9zM22.7 29.7h1.3v1.3h-1.3zM68.9 37.3h1.3v1.3h-1.3zM31.8 37.1h1.3v1.3h-1.3zM47.2 13.6h1.3v1.3h-1.3zM54.6 38.0h1v1h-1zM49.1 28.0h1v1h-1zM17.1 37.4h1.3v1.3h-1.3zM52.1 17.6h1v1h-1zM20.7 42.4h1v1h-1zM26.9 5.8h1.3v1.3h-1.3zM2.3 3.7h1v1h-1zM24.5 15.3h0.8v0.8h-0.8zM27.4 47.5h1.3v1.3h-1.3zM71.3 37.2h1.3v1.3h-1.3zM11.5 54.2h1.1v1.1h-1.1zM31.7 26.9h0.8v0.8h-0.8zM7.5 56.5h0.8v0.8h-0.8zM51.9 59.1h1.3v1.3h-1.3zM63.3 13.4h0.8v0.8h-0.8zM37.7 11.6h1.1v1.1h-1.1zM66.6 8.1h0.8v0.8h-0.8zM42.3 22.6h1.1v1.1h-1.1zM72.0 39.0h0.8v0.8h-0.8zM61.4 55.5h1.1v1.1h-1.1zM46.1 30.0h1.3v1.3h-1.3zM12.5 22.9h1.1v1.1h-1.1zM21.5 27.3h1v1h-1zM42.7 42.3h1.3v1.3h-1.3zM36.1 42.0h0.9v0.9h-0.9zM52.3 58.6h0.9v0.9h-0.9zM40.4 17.1h1v1h-1zM64.4 56.8h0.8v0.8h-0.8zM67.7 37.3h1.3v1.3h-1.3zM65.0 22.2h1.3v1.3h-1.3zM19.5 -0.8h1.3v1.3h-1.3zM20.9 4.9h0.9v0.9h-0.9zM44.0 26.4h1.1v1.1h-1.1zM65.2 31.5h0.8v0.8h-0.8zM30.7 53.7h1.3v1.3h-1.3zM25.9 54.5h1v1h-1zM67.6 35.8h0.9v0.9h-0.9zM45.2 36.4h1v1h-1zM17.9 5.0h1.3v1.3h-1.3zM1.8 48.2h0.8v0.8h-0.8zM12.2 53.3h0.8v0.8h-0.8zM41.2 9.5h0.9v0.9h-0.9zM75.0 3.4h1.3v1.3h-1.3zM71.9 45.4h1v1h-1zM42.4 14.4h1.1v1.1h-1.1zM35.8 20.5h1.1v1.1h-1.1zM3.4 5.7h1v1h-1zM59.5 43.8h1v1h-1zM26.2 34.6h0.9v0.9h-0.9zM17.7 57.1h1.3v1.3h-1.3zM73.6 57.8h0.9v0.9h-0.9zM31.8 13.0h0.9v0.9h-0.9zM18.6 22.8h1v1h-1zM40.4 8.8h0.8v0.8h-0.8zM45.8 30.5h0.9v0.9h-0.9zM39.7 4.7h0.9v0.9h-0.9zM76.4 2.5h0.9v0.9h-0.9zM29.8 40.0h1.1v1.1h-1.1zM69.6 54.0h0.9v0.9h-0.9zM9.9 3.8h1v1h-1zM33.5 32.2h0.9v0.9h-0.9zM26.5 6.3h1v1h-1zM70.3 42.0h0.9v0.9h-0.9zM66.4 17.4h1v1h-1zM68.4 25.5h1.3v1.3h-1.3zM17.4 7.6h0.9v0.9h-0.9zM38.1 10.1h1.3v1.3h-1.3zM16.5 52.7h1v1h-1zM75.5 16.8h0.8v0.8h-0.8zM38.8 16.0h1v1h-1zM55.1 10.6h1.1v1.1h-1.1zM77.2 13.7h0.8v0.8h-0.8zM40.0 58.6h1v1h-1zM20.1 58.9h1.3v1.3h-1.3zM46.7 46.6h0.8v0.8h-0.8zM28.3 11.5h0.8v0.8h-0.8zM38.3 16.6h1.3v1.3h-1.3zM21.0 52.0h0.8v0.8h-0.8zM21.4 23.7h0.9v0.9h-0.9zM39.7 18.3h1.3v1.3h-1.3zM7.3 5.2h1v1h-1zM30.2 50.3h1.1v1.1h-1.1zM13.5 8.3h1.3v1.3h-1.3zM12.4 31.4h0.8v0.8h-0.8zM15.8 53.5h1v1h-1zM31.0 41.2h0.8v0.8h-0.8zM64.1 4.6h0.8v0.8h-0.8zM77.4 55.9h0.9v0.9h-0.9zM77.1 8.7h1.1v1.1h-1.1zM62.9 41.4h0.8v0.8h-0.8zM44.5 7.6h1v1h-1zM41.6 52.6h0.8v0.8h-0.8zM4.8 5.4h1.1v1.1h-1.1zM76.7 54.7h0.9v0.9h-0.9zM2.6 50.6h0.9v0.9h-0.9zM46.1 20.1h0.8v0.8h-0.8zM34.2 8.0h0.9v0.9h-0.9zM22.2 27.5h1.3v1.3h-1.3zM33.7 27.4h0.9v0.9h-0.9zM37.4 43.3h0.9v0.9h-0.9zM46.6 51.3h1v1h-1zM6.0 29.9h0.8v0.8h-0.8zM4.1 7.9h1v1h-1zM46.4 40.0h1.3v1.3h-1.3zM12.0 8.1h1.3v1.3h-1.3zM33.0 49.8h0.8v0.8h-0.8zM74.7 29.9h0.9v0.9h-0.9zM63.3 40.6h1.1v1.1h-1.1zM6.9 13.6h1.1v1.1h-1.1zM31.2 57.7h1.1v1.1h-1.1zM46.9 15.0h1v1h-1zM20.3 4.7h1.1v1.1h-1.1zM61.4 32.8h1.3v1.3h-1.3zM1.3 47.5h0.9v0.9h-0.9zM27.0 1.6h1.3v1.3h-1.3zM69.6 14.1h0.9v0.9h-0.9zM24.5 53.9h1.1v1.1h-1.1zM26.1 3.1h1.3v1.3h-1.3zM35.9 31.6h1v1h-1zM18.9 51.5h0.9v0.9h-0.9zM49.2 40.4h1.1v1.1h-1.1zM66.4 56.3h0.8v0.8h-0.8zM0.3 7.3h1.3v1.3h-1.3zM30.7 53.5h1.3v1.3h-1.3zM14.4 30.5h0.9v0.9h-0.9zM0.2 47.4h1.3v1.3h-1.3zM33.6 56.7h1.3v1.3h-1.3zM33.6 17.8h1.1v1.1h-1.1zM59.4 0.7h1v1h-1zM0.4 51.8h1v1h-1zM15.0 8.2h1.1v1.1h-1.1zM0.3 48.6h0.8v0.8h-0.8zM41.5 36.8h1v1h-1zM27.2 46.1h1v1h-1zM75.3 4.5h1v1h-1zM69.0 41.8h1v1h-1zM22.4 45.6h1.3v1.3h-1.3zM36.7 8.1h0.8v0.8h-0.8zM45.6 5.9h1v1h-1zM65.1 8.6h1v1h-1zM25.2 50.7h0.8v0.8h-0.8zM64.1 17.0h0.8v0.8h-0.8zM35.9 6.1h1v1h-1zM21.1 21.5h1v1h-1zM17.5 49.7h1.1v1.1h-1.1zM52.9 24.8h1v1h-1zM3.3 16.8h0.9v0.9h-0.9zM40.6 49.3h1.1v1.1h-1.1zM59.1 33.2h1v1h-1zM73.3 53.5h1v1h-1zM54.4 21.4h0.8v0.8h-0.8zM16.3 17.7h1v1h-1zM37.3 25.4h1v1h-1zM57.0 53.1h1.3v1.3h-1.3zM34.0 42.0h1v1h-1zM29.6 25.3h1v1h-1zM37.4 48.3h0.8v0.8h-0.8zM53.1 30.9h0.8v0.8h-0.8zM58.5 46.1h0.9v0.9h-0.9zM14.4 35.0h1v1h-1zM28.1 42.8h0.9v0.9h-0.9zM42.2 0.3h1v1h-1zM16.7 38.5h1.1v1.1h-1.1zM20.1 11.8h0.8v0.8h-0.8zM35.5 17.6h1.3v1.3h-1.3zM59.7 55.3h1.1v1.1h-1.1zM-0.6 16.2h1v1h-1zM51.9 7.9h1.3v1.3h-1.3zM32.7 45.2h0.9v0.9h-0.9zM47.6 47.5h0.9v0.9h-0.9zM18.7 10.4h1.3v1.3h-1.3zM52.9 59.3h1v1h-1zM16.2 49.6h1.1v1.1h-1.1zM52.6 22.5h1.3v1.3h-1.3zM49.5 57.3h1v1h-1zM64.0 13.2h1v1h-1zM8.9 45.5h1.3v1.3h-1.3zM5.5 42.6h0.9v0.9h-0.9zM72.4 11.8h0.9v0.9h-0.9zM34.1 14.9h1.1v1.1h-1.1zM14.6 7.3h0.9v0.9h-0.9zM62.1 20.1h1v1h-1zM62.1 3.8h0.9v0.9h-0.9zM16.9 50.5h0.9v0.9h-0.9zM8.8 47.5h1v1h-1zM33.7 20.5h1.3v1.3h-1.3zM5.4 26.5h1v1h-1zM14.4 41.6h1.3v1.3h-1.3zM72.1 55.2h1.1v1.1h-1.1zM40.9 2.7h1v1h-1zM76.6 38.6h0.8v0.8h-0.8zM15.5 16.8h1.3v1.3h-1.3zM38.7 55.7h1.3v1.3h-1.3zM30.2 24.4h1.1v1.1h-1.1zM51.7 17.7h1.1v1.1h-1.1zM32.4 15.7h1v1h-1zM40.0 54.0h1v1h-1zM56.0 48.8h1.1v1.1h-1.1zM30.5 -0.5h1.1v1.1h-1.1zM52.3 40.2h1.3v1.3h-1.3zM26.3 47.5h1v1h-1zM0.3 22.2h1v1h-1zM62.1 2.1h1v1h-1zM64.3 52.8h1.1v1.1h-1.1zM69.1 11.3h1v1h-1zM66.4 55.4h1v1h-1zM13.3 37.6h0.9v0.9h-0.9zM37.4 39.5h1v1h-1zM49.5 39.7h0.9v0.9h-0.9zM11.3 35.3h1.3v1.3h-1.3zM30.7 39.5h0.8v0.8h-0.8zM52.6 48.4h1.3v1.3h-1.3zM52.3 20.5h1.1v1.1h-1.1zM73.3 59.4h0.9v0.9h-0.9zM31.8 53.8h0.8v0.8h-0.8zM62.5 26.3h0.8v0.8h-0.8zM49.2 0.4h0.9v0.9h-0.9zM39.2 54.7h0.9v0.9h-0.9zM51.5 9.3h1v1h-1zM17.7 48.9h1v1h-1zM10.2 49.0h1v1h-1zM69.5 40.9h0.9v0.9h-0.9zM37.4 51.6h1.3v1.3h-1.3zM56.7 28.7h1v1h-1zM9.5 55.2h1.1v1.1h-1.1zM23.5 47.2h1v1h-1zM35.6 49.7h1.3v1.3h-1.3zM59.1 23.2h0.8v0.8h-0.8zM52.9 45.0h1.1v1.1h-1.1zM14.4 11.2h1.1v1.1h-1.1zM32.9 14.3h1v1h-1zM18.3 57.1h1.1v1.1h-1.1zM65.1 0.0h0.9v0.9h-0.9zM12.2 43.9h0.8v0.8h-0.8zM77.5 28.9h1.1v1.1h-1.1zM41.7 0.1h1.3v1.3h-1.3zM46.9 41.1h0.9v0.9h-0.9zM72.0 7.0h1v1h-1zM25.3 52.5h0.9v0.9h-0.9zM54.0 33.0h1.1v1.1h-1.1zM49.4 17.4h1.1v1.1h-1.1zM64.8 24.8h1v1h-1zM74.7 49.9h1.1v1.1h-1.1zM25.9 43.7h1.1v1.1h-1.1zM65.1 11.3h1.3v1.3h-1.3zM78.0 55.0h0.9v0.9h-0.9zM16.6 45.5h1.3v1.3h-1.3zM36.1 21.1h1v1h-1zM70.2 27.3h1.1v1.1h-1.1zM47.1 43.0h1.3v1.3h-1.3zM74.3 5.1h1.3v1.3h-1.3zM44.0 21.6h1.1v1.1h-1.1zM74.1 23.0h1.1v1.1h-1.1zM20.3 38.8h0.8v0.8h-0.8zM69.2 22.9h1.3v1.3h-1.3zM10.2 33.2h0.9v0.9h-0.9zM46.4 42.9h0.9v0.9h-0.9zM65.7 15.1h1.3v1.3h-1.3zM67.7 5.6h1.1v1.1h-1.1zM34.4 21.7h1.1v1.1h-1.1zM56.6 40.8h1.1v1.1h-1.1zM71.8 59.0h1v1h-1zM65.2 -0.3h0.9v0.9h-0.9zM26.1 14.1h0.9v0.9h-0.9zM59.3 35.5h0.8v0.8h-0.8zM34.1 9.4h1.1v1.1h-1.1zM48.8 20.6h1.3v1.3h-1.3zM75.1 53.3h0.8v0.8h-0.8zM35.4 28.7h1v1h-1zM0.5 -0.7h0.8v0.8h-0.8zM25.3 1.6h0.8v0.8h-0.8zM35.1 36.1h0.9v0.9h-0.9zM8.8 49.2h1.3v1.3h-1.3zM21.8 52.4h0.9v0.9h-0.9zM56.6 11.8h0.8v0.8h-0.8zM25.2 37.5h1.1v1.1h-1.1zM20.4 47.8h1v1h-1zM48.5 16.2h1v1h-1zM24.2 44.8h1.1v1.1h-1.1zM0.9 22.0h0.9v0.9h-0.9zM79.3 1.8h1.3v1.3h-1.3zM26.3 55.7h1.1v1.1h-1.1zM62.1 30.9h1v1h-1zM55.6 47.6h0.9v0.9h-0.9zM63.9 44.8h0.9v0.9h-0.9zM28.6 41.2h1.1v1.1h-1.1zM31.9 29.7h0.8v0.8h-0.8zM43.8 43.9h1.1v1.1h-1.1zM38.1 58.3h1.1v1.1h-1.1zM5.9 27.4h0.9v0.9h-0.9zM47.9 31.9h1.3v1.3h-1.3zM44.0 49.2h1.3v1.3h-1.3zM9.7 39.5h1.3v1.3h-1.3zM44.6 21.8h1.3v1.3h-1.3zM43.5 17.8h1.1v1.1h-1.1zM38.1 21.2h1v1h-1zM45.3 0.3h1.3v1.3h-1.3zM53.1 57.5h0.8v0.8h-0.8zM1.4 13.1h0.9v0.9h-0.9zM41.6 32.2h1v1h-1zM73.9 9.8h1v1h-1zM32.4 21.9h0.9v0.9h-0.9zM13.8 34.6h1.3v1.3h-1.3zM47.6 44.4h1.1v1.1h-1.1zM58.6 28.7h1.1v1.1h-1.1zM26.8 54.7h1v1h-1zM53.2 21.6h1.1v1.1h-1.1zM30.7 44.0h0.8v0.8h-0.8zM52.1 7.2h1.3v1.3h-1.3zM68.9 44.5h1.1v1.1h-1.1zM30.1 30.3h1.1v1.1h-1.1zM61.1 31.8h1v1h-1zM25.4 20.5h1.1v1.1h-1.1zM18.4 47.4h1v1h-1zM77.3 28.7h0.8v0.8h-0.8zM60.9 13.7h1v1h-1zM39.5 57.0h1v1h-1zM42.9 5.6h1.3v1.3h-1.3zM37.6 35.2h1.3v1.3h-1.3zM51.9 42.8h0.8v0.8h-0.8zM48.7 50.1h1v1h-1zM37.5 28.1h0.8v0.8h-0.8zM53.2 31.0h0.8v0.8h-0.8zM47.8 46.0h0.8v0.8h-0.8zM58.9 28.6h1.1v1.1h-1.1zM62.1 22.2h0.9v0.9h-0.9zM3.0 17.6h0.9v0.9h-0.9zM10.1 18.2h1.1v1.1h-1.1zM44.0 27.1h1.3v1.3h-1.3zM26.6 51.7h0.9v0.9h-0.9zM38.3 40.7h0.8v0.8h-0.8zM42.8 37.6h1.3v1.3h-1.3zM73.1 6.9h1.3v1.3h-1.3zM36.0 33.2h1v1h-1zM27.6 3.9h1.3v1.3h-1.3zM-0.6 22.8h0.9v0.9h-0.9zM7.3 51.2h1.3v1.3h-1.3zM46.4 17.4h1v1h-1zM26.8 48.5h0.9v0.9h-0.9zM57.4 36.6h1.1v1.1h-1.1zM41.6 28.0h0.8v0.8h-0.8zM39.2 26.2h1v1h-1zM62.2 12.8h1.1v1.1h-1.1zM19.3 30.1h1v1h-1zM58.4 46.5h0.8v0.8h-0.8zM0.3 39.9h1.1v1.1h-1.1zM58.9 29.5h1.3v1.3h-1.3zM2.4 41.9h1v1h-1zM25.4 0.9h1.3v1.3h-1.3zM26.6 13.8h0.8v0.8h-0.8zM37.2 22.3h1.3v1.3h-1.3zM9.7 48.4h1v1h-1zM70.1 51.0h1v1h-1zM30.0 4.8h1.3v1.3h-1.3zM55.6 47.7h0.8v0.8h-0.8zM51.2 3.7h0.9v0.9h-0.9zM17.1 16.3h0.8v0.8h-0.8zM74.2 12.1h0.8v0.8h-0.8zM70.2 35.9h1.1v1.1h-1.1zM39.7 12.9h1.3v1.3h-1.3zM1.3 27.8h1.1v1.1h-1.1zM15.5 27.9h1.1v1.1h-1.1zM33.1 48.3h1.3v1.3h-1.3zM46.9 36.5h0.8v0.8h-0.8zM31.3 51.3h1.1v1.1h-1.1zM42.4 48.0h1.1v1.1h-1.1zM30.0 36.1h1.1v1.1h-1.1zM13.0 50.6h0.8v0.8h-0.8zM32.7 8.5h1.3v1.3h-1.3zM29.9 4.6h1.3v1.3h-1.3zM9.6 52.7h1v1h-1zM76.8 52.3h0.8v0.8h-0.8zM37.1 42.7h1.3v1.3h-1.3zM25.5 33.4h1.1v1.1h-1.1zM17.2 2.6h1.1v1.1h-1.1zM35.5 34.2h0.9v0.9h-0.9zM9.8 48.6h1.1v1.1h-1.1zM16.3 12.4h1.1v1.1h-1.1zM24.5 56.3h1.1v1.1h-1.1zM3.1 32.6h0.8v0.8h-0.8zM10.7 54.2h0.9v0.9h-0.9zM26.3 38.9h1.1v1.1h-1.1zM52.8 26.2h0.8v0.8h-0.8zM43.4 15.5h1v1h-1zM77.6 28.6h0.9v0.9h-0.9zM34.0 26.6h1.3v1.3h-1.3zM30.8 10.4h0.8v0.8h-0.8zM61.9 41.6h1v1h-1zM74.1 41.2h1.3v1.3h-1.3zM66.0 21.4h0.9v0.9h-0.9zM42.9 42.7h0.9v0.9h-0.9zM67.4 10.7h0.8v0.8h-0.8zM36.5 49.2h1.3v1.3h-1.3zM63.5 42.0h1v1h-1zM17.4 6.2h1v1h-1zM68.3 22.3h0.9v0.9h-0.9zM4.8 -0.3h1.3v1.3h-1.3zM62.1 43.6h1.3v1.3h-1.3zM45.7 7.0h0.9v0.9h-0.9zM58.4 40.2h0.8v0.8h-0.8zM60.7 1.3h0.9v0.9h-0.9zM43.7 48.2h0.9v0.9h-0.9zM68.7 39.3h1.3v1.3h-1.3zM58.6 54.2h0.9v0.9h-0.9zM79.4 44.0h0.8v0.8h-0.8zM34.4 9.7h1.1v1.1h-1.1zM3.7 4.7h1.1v1.1h-1.1zM12.2 33.6h0.9v0.9h-0.9zM29.5 16.0h0.9v0.9h-0.9zM75.4 37.0h1.1v1.1h-1.1zM77.3 58.5h0.8v0.8h-0.8zM5.8 57.7h1.1v1.1h-1.1zM11.5 34.0h1.3v1.3h-1.3zM60.5 15.2h1.1v1.1h-1.1zM3.2 58.1h0.9v0.9h-0.9zM76.3 6.6h1.1v1.1h-1.1zM4.0 35.6h0.9v0.9h-0.9zM54.9 32.3h1.1v1.1h-1.1zM4.2 50.5h0.9v0.9h-0.9zM25.9 42.6h0.8v0.8h-0.8zM5.3 11.6h1.1v1.1h-1.1zM10.3 34.3h1v1h-1zM40.0 29.5h0.8v0.8h-0.8zM8.6 18.0h1.3v1.3h-1.3zM58.4 26.1h1.1v1.1h-1.1zM26.6 6.5h1.3v1.3h-1.3zM18.6 13.6h0.9v0.9h-0.9zM54.2 46.0h0.9v0.9h-0.9zM34.1 40.1h0.9v0.9h-0.9zM31.6 50.5h1.1v1.1h-1.1zM49.1 13.5h1v1h-1zM1.6 6.9h1v1h-1zM67.5 26.1h0.9v0.9h-0.9zM79.1 20.6h1v1h-1zM73.8 42.6h1.1v1.1h-1.1zM49.9 24.2h0.8v0.8h-0.8zM77.3 1.6h1v1h-1zM15.4 26.2h1v1h-1zM71.7 20.7h0.8v0.8h-0.8zM3.8 27.7h1.1v1.1h-1.1zM41.2 34.2h0.8v0.8h-0.8zM16.2 26.3h1.3v1.3h-1.3zM49.3 37.9h1.1v1.1h-1.1zM8.0 28.5h1.3v1.3h-1.3zM13.2 5.3h1v1h-1zM13.0 40.5h1v1h-1zM40.9 3.0h1.3v1.3h-1.3zM4.6 48.3h0.8v0.8h-0.8zM57.9 40.4h0.8v0.8h-0.8zM7.2 45.3h1v1h-1zM22.7 14.3h1.3v1.3h-1.3zM13.3 24.5h1v1h-1zM17.0 52.0h0.8v0.8h-0.8zM78.1 14.1h0.8v0.8h-0.8zM21.8 43.1h1v1h-1zM70.8 21.8h0.9v0.9h-0.9zM16.8 20.2h0.8v0.8h-0.8zM70.2 4.2h0.9v0.9h-0.9zM41.2 58.5h0.9v0.9h-0.9zM24.2 45.8h1v1h-1zM6.5 54.9h1.1v1.1h-1.1zM44.9 58.0h1.1v1.1h-1.1zM-0.9 10.5h0.8v0.8h-0.8zM69.7 48.7h1v1h-1zM2.4 49.4h1.1v1.1h-1.1zM75.7 7.8h1.3v1.3h-1.3zM43.6 44.3h1.1v1.1h-1.1zM73.7 45.0h1.1v1.1h-1.1zM15.1 30.3h0.9v0.9h-0.9zM31.1 35.5h1v1h-1zM5.0 14.2h1v1h-1zM37.5 -0.4h1.1v1.1h-1.1zM6.7 2.2h0.8v0.8h-0.8zM11.6 2.4h0.8v0.8h-0.8zM63.5 7.5h0.8v0.8h-0.8zM5.7 30.9h1v1h-1zM41.4 32.6h1.1v1.1h-1.1zM11.2 2.2h1.1v1.1h-1.1zM68.4 46.2h1.1v1.1h-1.1zM29.4 1.1h1v1h-1zM28.6 6.5h1.3v1.3h-1.3zM77.6 25.9h1v1h-1zM51.8 54.1h1.1v1.1h-1.1zM9.6 38.8h0.8v0.8h-0.8zM52.4 43.6h1.3v1.3h-1.3zM8.4 4.3h0.8v0.8h-0.8zM68.5 38.8h0.8v0.8h-0.8zM16.2 9.5h1.3v1.3h-1.3zM59.4 48.0h1.1v1.1h-1.1zM31.8 21.6h1v1h-1zM33.2 48.7h1.3v1.3h-1.3zM48.4 27.8h1.3v1.3h-1.3zM75.7 35.1h1v1h-1zM58.3 43.0h1v1h-1zM37.6 -0.7h1.3v1.3h-1.3zM73.5 41.2h0.9v0.9h-0.9zM39.2 30.0h0.8v0.8h-0.8zM74.9 47.5h0.8v0.8h-0.8zM24.9 55.9h1v1h-1zM45.1 57.0h1.1v1.1h-1.1zM15.3 27.0h1.1v1.1h-1.1zM50.6 25.1h1.3v1.3h-1.3zM69.9 39.0h1v1h-1zM38.2 55.3h0.9v0.9h-0.9zM38.2 19.8h0.9v0.9h-0.9zM61.6 57.2h1v1h-1zM32.5 50.1h1.3v1.3h-1.3zM38.2 0.2h1v1h-1zM16.5 21.1h1.3v1.3h-1.3zM64.1 32.4h0.9v0.9h-0.9zM55.5 19.1h1v1h-1zM39.1 28.4h0.8v0.8h-0.8zM70.2 20.9h0.9v0.9h-0.9zM58.9 8.6h0.8v0.8h-0.8zM10.2 11.1h1.1v1.1h-1.1zM60.0 6.8h0.8v0.8h-0.8zM40.0 56.0h1.3v1.3h-1.3zM61.1 55.7h0.8v0.8h-0.8zM65.0 0.4h0.8v0.8h-0.8zM7.9 9.1h0.9v0.9h-0.9zM33.0 13.1h1.3v1.3h-1.3zM36.6 28.7h1.1v1.1h-1.1zM37.6 -0.6h1v1h-1zM36.5 45.2h1v1h-1zM53.8 13.7h0.9v0.9h-0.9zM71.8 31.0h1.3v1.3h-1.3zM45.4 14.8h1.1v1.1h-1.1zM53.0 8.6h1.1v1.1h-1.1zM16.4 39.2h1v1h-1zM26.6 30.2h0.9v0.9h-0.9zM14.1 26.8h1v1h-1zM12.9 6.1h0.8v0.8h-0.8zM48.8 9.8h0.9v0.9h-0.9zM10.8 10.3h0.9v0.9h-0.9zM0.1 11.8h0.8v0.8h-0.8zM16.5 27.1h1.1v1.1h-1.1zM19.7 12.6h0.8v0.8h-0.8zM27.8 11.7h1v1h-1zM60.2 35.3h1.3v1.3h-1.3zM4.5 6.5h1v1h-1zM9.6 53.2h0.9v0.9h-0.9zM22.1 30.2h1.3v1.3h-1.3zM73.3 9.6h0.8v0.8h-0.8zM44.8 6.7h1.1v1.1h-1.1zM17.6 3.0h1.1v1.1h-1.1zM66.2 5.7h0.9v0.9h-0.9zM67.0 0.1h0.9v0.9h-0.9zM48.9 0.0h1.3v1.3h-1.3zM58.3 16.9h1.1v1.1h-1.1zM7.0 58.6h1v1h-1zM34.3 3.5h0.9v0.9h-0.9zM33.9 10.5h1v1h-1zM3.4 15.0h1.1v1.1h-1.1zM16.3 36.7h0.8v0.8h-0.8zM59.6 47.8h0.8v0.8h-0.8zM46.9 51.0h0.9v0.9h-0.9zM57.0 15.8h1v1h-1zM14.6 37.4h1.1v1.1h-1.1zM67.7 1.9h0.9v0.9h-0.9zM35.5 9.4h1.3v1.3h-1.3zM10.3 58.4h1v1h-1zM19.3 59.4h1.3v1.3h-1.3zM70.8 41.2h1.3v1.3h-1.3zM-0.5 39.0h1.1v1.1h-1.1zM0.0 9.9h1v1h-1zM15.3 39.3h0.9v0.9h-0.9zM4.3 49.0h0.8v0.8h-0.8zM49.3 14.1h1.3v1.3h-1.3zM71.9 40.2h1.3v1.3h-1.3zM45.3 4.3h0.9v0.9h-0.9zM59.1 23.1h0.9v0.9h-0.9zM41.3 3.7h0.8v0.8h-0.8zM49.2 18.0h1v1h-1zM31.0 9.7h0.8v0.8h-0.8zM67.9 56.4h0.9v0.9h-0.9zM38.0 21.0h1v1h-1zM72.9 40.7h0.8v0.8h-0.8zM27.4 16.1h1.1v1.1h-1.1zM28.6 47.4h1v1h-1zM79.0 44.4h1.3v1.3h-1.3zM79.2 30.4h0.9v0.9h-0.9zM74.4 54.4h1.1v1.1h-1.1zM44.0 19.2h0.9v0.9h-0.9zM79.1 55.7h1.1v1.1h-1.1zM68.0 18.9h0.9v0.9h-0.9zM8.5 32.6h1.1v1.1h-1.1zM75.9 23.4h0.8v0.8h-0.8zM-0.8 6.4h0.9v0.9h-0.9zM58.4 38.4h0.8v0.8h-0.8zM47.6 1.3h1.3v1.3h-1.3zM4.5 2.3h0.8v0.8h-0.8zM4.9 31.5h1.3v1.3h-1.3zM33.6 58.6h1v1h-1zM8.5 29.0h1v1h-1zM44.7 47.8h0.9v0.9h-0.9zM18.0 36.8h1v1h-1zM17.6 34.1h0.9v0.9h-0.9zM16.0 27.7h0.8v0.8h-0.8zM63.9 11.5h0.9v0.9h-0.9zM64.7 1.7h0.9v0.9h-0.9zM59.7 23.8h0.9v0.9h-0.9zM67.4 11.5h0.8v0.8h-0.8zM3.1 49.5h1v1h-1zM72.8 19.2h1.1v1.1h-1.1zM58.4 27.7h0.8v0.8h-0.8zM49.7 40.1h1.1v1.1h-1.1zM9.0 9.8h0.8v0.8h-0.8zM49.8 17.4h1v1h-1zM20.5 13.3h0.8v0.8h-0.8zM61.4 51.2h0.8v0.8h-0.8zM38.9 30.4h0.8v0.8h-0.8zM15.0 34.6h0.8v0.8h-0.8zM16.2 20.8h1.3v1.3h-1.3zM51.0 9.4h0.8v0.8h-0.8zM2.8 37.7h1v1h-1zM41.0 7.8h1v1h-1zM17.5 48.0h1v1h-1zM57.2 57.0h1.1v1.1h-1.1zM27.1 15.3h1.1v1.1h-1.1zM58.8 14.8h1v1h-1zM40.6 10.9h0.8v0.8h-0.8zM15.3 48.2h0.9v0.9h-0.9zM67.4 10.0h0.9v0.9h-0.9zM19.3 27.1h0.9v0.9h-0.9zM25.5 58.4h1v1h-1zM51.7 3.2h1v1h-1zM43.9 40.1h1.1v1.1h-1.1zM55.4 6.5h1.1v1.1h-1.1zM48.9 32.7h0.8v0.8h-0.8zM41.5 20.5h1.3v1.3h-1.3zM61.3 -0.4h0.8v0.8h-0.8zM46.8 1.3h0.8v0.8h-0.8zM23.6 49.0h0.8v0.8h-0.8zM47.9 -0.1h0.9v0.9h-0.9zM50.6 31.8h1v1h-1zM29.5 9.2h0.9v0.9h-0.9zM0.7 48.0h1.1v1.1h-1.1zM78.6 25.5h1.1v1.1h-1.1zM73.2 39.2h1v1h-1zM5.1 2.0h1v1h-1z" fill="#caccce" filter="url(#bl4)"/>
<path d="M9.8 50.2h0.8v0.8h-0.8zM74.6 22.0h0.8v0.8h-0.8zM26.8 39.9h0.8v0.8h-0.8zM71.1 57.8h1.3v1.3h-1.3zM43.2 41.5h0.8v0.8h-0.8zM28.8 43.3h1.3v1.3h-1.3zM31.6 19.8h1.1v1.1h-1.1zM64.1 30.3h0.8v0.8h-0.8zM5.7 0.0h0.9v0.9h-0.9zM20.6 47.2h0.8v0.8h-0.8zM51.2 16.8h1.1v1.1h-1.1zM33.7 57.9h0.9v0.9h-0.9zM24.0 55.7h1.3v1.3h-1.3zM22.8 29.2h1v1h-1zM26.3 11.9h1.3v1.3h-1.3zM26.7 52.3h1.3v1.3h-1.3zM66.7 21.2h0.9v0.9h-0.9zM68.8 35.5h0.9v0.9h-0.9zM45.7 45.5h0.8v0.8h-0.8zM43.3 33.2h1v1h-1zM44.4 54.9h0.8v0.8h-0.8zM72.3 21.8h1.3v1.3h-1.3zM2.2 -0.4h1.3v1.3h-1.3zM61.6 52.8h1v1h-1zM5.6 16.0h0.8v0.8h-0.8zM51.5 37.9h1v1h-1zM13.5 8.0h1v1h-1zM7.6 30.1h0.9v0.9h-0.9zM19.3 2.9h1.3v1.3h-1.3zM46.8 7.4h1.1v1.1h-1.1zM44.4 9.4h0.8v0.8h-0.8zM13.3 18.2h0.9v0.9h-0.9zM11.8 45.3h1v1h-1zM38.8 22.8h1.3v1.3h-1.3zM34.8 54.8h1.1v1.1h-1.1zM76.2 6.2h0.8v0.8h-0.8zM5.1 21.6h1.3v1.3h-1.3zM56.8 20.2h1.3v1.3h-1.3zM53.6 34.0h1.3v1.3h-1.3zM47.7 11.6h1v1h-1zM36.7 32.7h1.3v1.3h-1.3zM12.9 46.7h0.9v0.9h-0.9zM67.6 51.5h0.9v0.9h-0.9zM56.8 17.5h1v1h-1zM0.9 44.4h1.3v1.3h-1.3zM64.6 57.2h1v1h-1zM8.5 40.8h0.9v0.9h-0.9zM2.7 47.2h1.1v1.1h-1.1zM3.6 21.9h1v1h-1zM1.0 30.7h0.8v0.8h-0.8zM23.3 50.9h1v1h-1zM55.5 31.4h0.9v0.9h-0.9zM15.1 22.5h1v1h-1zM24.2 17.0h1.3v1.3h-1.3zM62.2 33.6h1.1v1.1h-1.1zM35.6 21.0h0.8v0.8h-0.8zM3.0 5.0h0.8v0.8h-0.8zM68.4 0.3h1v1h-1zM57.4 48.2h1.1v1.1h-1.1zM65.2 30.0h1.3v1.3h-1.3zM50.9 59.0h1.3v1.3h-1.3zM79.1 43.5h1.1v1.1h-1.1zM71.3 54.9h1v1h-1zM60.9 22.5h1v1h-1zM10.6 8.0h1v1h-1zM68.1 34.6h1v1h-1zM74.6 16.4h1.1v1.1h-1.1zM26.0 54.2h1.1v1.1h-1.1zM51.3 10.3h1.3v1.3h-1.3zM75.9 2.1h1v1h-1zM53.7 49.4h1v1h-1zM20.8 13.9h0.9v0.9h-0.9zM66.2 29.8h1v1h-1zM37.7 17.5h1v1h-1zM54.9 31.3h1.3v1.3h-1.3zM65.2 12.3h1v1h-1zM6.6 18.9h0.8v0.8h-0.8zM57.4 27.7h1v1h-1zM39.9 9.6h1v1h-1zM37.1 23.4h0.8v0.8h-0.8zM66.7 50.2h0.9v0.9h-0.9zM11.5 47.0h0.8v0.8h-0.8zM29.6 32.9h0.8v0.8h-0.8zM61.7 35.2h1.1v1.1h-1.1zM72.8 17.9h1v1h-1zM34.0 21.7h1.1v1.1h-1.1zM56.7 5.0h0.9v0.9h-0.9zM62.2 26.9h0.9v0.9h-0.9zM33.8 23.1h1v1h-1zM51.5 55.9h1.3v1.3h-1.3zM30.2 32.8h0.8v0.8h-0.8zM77.7 13.4h1.1v1.1h-1.1zM61.0 37.4h1.3v1.3h-1.3zM26.1 7.6h1.1v1.1h-1.1zM62.3 2.5h1.1v1.1h-1.1zM5.0 13.6h0.9v0.9h-0.9zM23.0 7.7h0.8v0.8h-0.8zM63.4 36.6h1.1v1.1h-1.1zM19.5 2.5h0.9v0.9h-0.9zM29.4 28.1h0.8v0.8h-0.8zM67.9 57.5h1.1v1.1h-1.1zM5.2 44.1h0.9v0.9h-0.9zM70.7 50.6h0.8v0.8h-0.8zM75.3 51.7h1.3v1.3h-1.3zM4.3 35.7h1.1v1.1h-1.1zM2.0 31.0h1v1h-1zM74.1 44.3h1.3v1.3h-1.3zM31.5 51.4h1v1h-1zM77.4 29.6h0.9v0.9h-0.9zM16.7 55.3h0.8v0.8h-0.8zM34.7 13.7h1.1v1.1h-1.1zM22.9 55.4h1v1h-1zM53.4 30.7h1.3v1.3h-1.3zM73.5 41.1h1.1v1.1h-1.1zM59.4 37.7h1.1v1.1h-1.1zM34.8 9.3h1.1v1.1h-1.1zM43.6 51.8h1.3v1.3h-1.3zM4.3 -0.5h0.8v0.8h-0.8zM48.2 32.8h1v1h-1zM23.5 47.7h0.9v0.9h-0.9zM6.0 46.5h1v1h-1zM73.1 55.2h1.1v1.1h-1.1zM35.7 20.3h1.3v1.3h-1.3zM69.2 42.0h0.9v0.9h-0.9zM50.9 9.4h0.8v0.8h-0.8zM78.3 42.9h1v1h-1zM68.6 10.8h0.9v0.9h-0.9zM18.1 41.0h0.9v0.9h-0.9zM52.5 55.4h1.3v1.3h-1.3zM24.6 46.3h1.1v1.1h-1.1zM0.5 9.9h1v1h-1zM66.2 14.2h1.1v1.1h-1.1zM33.7 55.0h1.3v1.3h-1.3zM23.4 4.3h0.9v0.9h-0.9zM12.0 25.7h1.3v1.3h-1.3zM26.1 47.8h0.8v0.8h-0.8zM45.4 52.4h0.9v0.9h-0.9zM41.7 13.1h1.1v1.1h-1.1zM42.3 7.3h1.1v1.1h-1.1zM77.5 32.2h1.1v1.1h-1.1zM14.6 46.5h0.9v0.9h-0.9zM44.1 55.6h1.1v1.1h-1.1zM61.8 53.7h1.1v1.1h-1.1zM30.0 41.9h0.8v0.8h-0.8zM42.0 43.3h0.9v0.9h-0.9zM46.1 6.8h1.3v1.3h-1.3zM27.9 9.5h1.3v1.3h-1.3zM70.9 20.1h0.8v0.8h-0.8zM56.2 28.2h1v1h-1zM51.2 55.3h1v1h-1zM55.0 38.9h1.3v1.3h-1.3zM30.6 1.5h1.3v1.3h-1.3zM37.5 12.2h1.1v1.1h-1.1zM47.0 27.8h0.8v0.8h-0.8zM10.2 29.3h0.8v0.8h-0.8zM9.1 58.0h1.3v1.3h-1.3zM57.4 29.3h0.8v0.8h-0.8zM8.4 1.6h0.9v0.9h-0.9zM27.4 40.7h1.3v1.3h-1.3zM3.6 58.9h1.1v1.1h-1.1zM73.9 58.3h1v1h-1zM17.5 55.9h1v1h-1zM37.0 14.9h0.9v0.9h-0.9zM35.8 51.2h0.8v0.8h-0.8zM75.1 7.5h1.1v1.1h-1.1zM48.6 37.6h1.1v1.1h-1.1zM62.0 8.2h0.8v0.8h-0.8zM44.2 43.3h1.1v1.1h-1.1zM24.0 58.9h1v1h-1zM10.9 13.6h1.1v1.1h-1.1zM16.4 46.7h0.9v0.9h-0.9zM16.2 35.6h1v1h-1zM2.4 3.6h0.8v0.8h-0.8zM77.7 0.7h0.9v0.9h-0.9zM42.4 10.8h1v1h-1zM41.9 15.8h1.3v1.3h-1.3zM3.2 18.2h0.8v0.8h-0.8zM42.8 34.7h1.1v1.1h-1.1zM6.1 28.0h1v1h-1zM69.3 2.8h1.1v1.1h-1.1zM67.2 25.8h1.1v1.1h-1.1zM13.6 51.4h0.8v0.8h-0.8zM1.1 51.9h0.8v0.8h-0.8zM49.4 45.2h1v1h-1zM40.2 52.6h1.3v1.3h-1.3zM16.6 43.7h1.1v1.1h-1.1zM52.5 50.1h1.3v1.3h-1.3zM5.7 39.5h0.8v0.8h-0.8zM58.2 54.6h1.3v1.3h-1.3zM12.1 49.6h1.3v1.3h-1.3zM32.0 29.9h1.3v1.3h-1.3zM57.7 36.6h1.1v1.1h-1.1zM22.0 20.0h1.3v1.3h-1.3zM17.2 0.2h1.1v1.1h-1.1zM11.9 59.2h1.1v1.1h-1.1zM62.2 2.5h0.9v0.9h-0.9zM27.6 25.4h1.1v1.1h-1.1zM46.3 10.3h1v1h-1zM76.9 3.1h1.3v1.3h-1.3zM41.8 27.8h1.3v1.3h-1.3zM12.8 44.3h1.1v1.1h-1.1zM21.0 35.0h1v1h-1zM9.8 35.5h0.8v0.8h-0.8zM34.3 34.3h1.1v1.1h-1.1zM67.8 40.7h0.8v0.8h-0.8zM32.1 38.0h1v1h-1zM61.7 22.6h0.9v0.9h-0.9zM11.8 37.3h0.8v0.8h-0.8zM28.5 41.8h0.9v0.9h-0.9zM17.5 43.4h0.8v0.8h-0.8zM79.3 45.6h0.8v0.8h-0.8zM12.0 15.5h1v1h-1zM76.5 55.3h1.1v1.1h-1.1zM26.6 34.5h1.3v1.3h-1.3zM21.2 20.3h0.9v0.9h-0.9zM61.2 31.3h1.1v1.1h-1.1zM66.8 27.6h0.8v0.8h-0.8zM2.2 29.3h1.1v1.1h-1.1zM23.1 8.6h0.9v0.9h-0.9zM9.4 -0.4h1.3v1.3h-1.3zM63.7 36.3h1v1h-1zM61.8 13.2h0.8v0.8h-0.8zM63.6 24.3h0.8v0.8h-0.8zM59.9 40.9h0.8v0.8h-0.8zM53.2 32.3h0.8v0.8h-0.8zM41.7 42.6h0.8v0.8h-0.8zM16.9 35.9h1v1h-1zM68.5 42.5h1v1h-1zM31.7 50.8h1v1h-1zM10.4 2.7h0.9v0.9h-0.9zM38.9 25.1h1.1v1.1h-1.1zM8.1 12.8h0.9v0.9h-0.9zM54.2 12.3h1v1h-1zM39.7 47.9h1.1v1.1h-1.1zM47.5 12.1h0.9v0.9h-0.9zM16.8 6.6h1.1v1.1h-1.1zM28.6 25.8h1v1h-1zM68.5 27.0h1.3v1.3h-1.3zM29.0 8.4h1.3v1.3h-1.3zM21.7 11.6h0.8v0.8h-0.8zM66.0 4.3h1.3v1.3h-1.3zM15.4 41.2h1.3v1.3h-1.3zM16.0 -0.2h1.1v1.1h-1.1zM75.2 55.3h1.1v1.1h-1.1zM35.4 7.7h0.8v0.8h-0.8zM40.3 3.3h1v1h-1zM15.9 31.0h0.9v0.9h-0.9zM12.6 10.9h1v1h-1zM24.4 46.9h1.3v1.3h-1.3zM24.7 39.3h0.9v0.9h-0.9zM70.9 27.0h1v1h-1zM6.6 47.1h0.9v0.9h-0.9zM47.4 18.6h1.3v1.3h-1.3zM70.0 51.2h1v1h-1zM20.7 52.3h0.8v0.8h-0.8zM56.0 54.8h0.8v0.8h-0.8zM61.4 35.0h0.8v0.8h-0.8zM71.3 41.3h1.1v1.1h-1.1zM56.5 17.7h1v1h-1zM-0.4 12.9h0.8v0.8h-0.8zM12.0 52.5h0.8v0.8h-0.8zM7.2 50.9h1.3v1.3h-1.3zM25.4 49.7h1.3v1.3h-1.3zM49.0 38.3h1v1h-1zM41.4 29.0h1v1h-1zM8.0 9.9h1.3v1.3h-1.3zM63.8 20.7h0.8v0.8h-0.8zM33.5 2.8h1.3v1.3h-1.3zM18.1 41.9h1.3v1.3h-1.3zM24.1 17.1h1v1h-1zM18.8 54.2h0.9v0.9h-0.9zM45.1 29.8h0.8v0.8h-0.8zM16.8 54.7h1.1v1.1h-1.1zM33.9 39.4h1v1h-1zM31.0 7.2h1.3v1.3h-1.3zM57.5 47.0h1.3v1.3h-1.3zM38.2 25.2h1v1h-1zM23.7 58.5h0.8v0.8h-0.8zM71.2 1.2h1v1h-1zM0.4 37.5h1.3v1.3h-1.3zM14.2 -0.5h1.1v1.1h-1.1zM30.1 30.6h0.9v0.9h-0.9zM73.1 46.7h1.3v1.3h-1.3zM43.1 22.8h1.3v1.3h-1.3zM76.0 29.4h1v1h-1zM48.1 7.5h1.1v1.1h-1.1zM22.0 45.8h1v1h-1zM19.2 11.6h1v1h-1zM5.5 6.0h1.3v1.3h-1.3zM41.1 45.6h0.8v0.8h-0.8zM58.4 31.3h0.9v0.9h-0.9zM15.0 58.5h0.9v0.9h-0.9zM23.4 48.2h0.9v0.9h-0.9zM57.7 8.3h1.1v1.1h-1.1zM27.3 4.0h0.9v0.9h-0.9zM22.2 21.5h0.8v0.8h-0.8zM74.1 5.9h0.8v0.8h-0.8zM66.7 12.3h1v1h-1zM32.1 27.2h1.3v1.3h-1.3zM32.3 5.5h0.8v0.8h-0.8zM68.3 35.3h1.3v1.3h-1.3zM28.4 37.0h1.1v1.1h-1.1zM50.4 41.0h1v1h-1zM28.8 17.7h1v1h-1zM55.4 14.1h1.1v1.1h-1.1zM75.8 8.1h0.8v0.8h-0.8zM27.8 49.2h1.1v1.1h-1.1zM10.9 43.4h0.9v0.9h-0.9zM5.5 0.6h1v1h-1zM18.8 48.9h1v1h-1zM65.3 44.1h0.8v0.8h-0.8zM64.6 14.6h0.8v0.8h-0.8zM31.1 26.8h0.9v0.9h-0.9zM38.6 5.3h0.8v0.8h-0.8zM24.2 11.3h1v1h-1zM79.2 7.6h1.1v1.1h-1.1zM68.2 50.2h1.1v1.1h-1.1zM47.7 22.4h0.9v0.9h-0.9zM-0.6 18.7h1.1v1.1h-1.1zM48.8 0.0h0.8v0.8h-0.8zM38.1 22.6h1.3v1.3h-1.3zM38.4 57.6h1.1v1.1h-1.1zM67.4 45.1h0.8v0.8h-0.8zM70.8 58.7h1.1v1.1h-1.1zM13.6 3.4h1.3v1.3h-1.3zM64.0 17.3h1.1v1.1h-1.1zM53.8 53.2h1.3v1.3h-1.3zM35.6 6.6h0.9v0.9h-0.9zM74.4 8.1h0.8v0.8h-0.8zM62.3 7.7h1.1v1.1h-1.1zM6.7 4.3h0.8v0.8h-0.8zM33.9 22.0h1v1h-1zM47.4 59.3h1.1v1.1h-1.1zM8.4 52.8h1.1v1.1h-1.1zM9.8 29.1h1v1h-1zM61.8 29.9h0.8v0.8h-0.8zM17.6 57.2h1v1h-1zM48.1 5.0h1.1v1.1h-1.1zM66.3 42.1h0.9v0.9h-0.9zM78.9 7.3h1.3v1.3h-1.3zM27.1 41.7h1.1v1.1h-1.1zM4.7 53.8h1v1h-1zM6.4 30.1h1v1h-1zM20.9 12.5h1v1h-1zM43.9 47.1h0.8v0.8h-0.8zM32.6 40.1h1.3v1.3h-1.3zM17.1 11.1h1.3v1.3h-1.3zM59.4 31.8h0.9v0.9h-0.9zM68.2 4.5h0.9v0.9h-0.9zM38.8 40.6h0.8v0.8h-0.8zM52.7 8.2h0.8v0.8h-0.8zM61.7 17.6h1.1v1.1h-1.1zM4.2 58.9h0.8v0.8h-0.8zM51.3 37.0h0.9v0.9h-0.9zM46.6 46.4h1.3v1.3h-1.3zM50.3 34.4h1v1h-1zM72.0 10.0h1v1h-1zM51.4 50.6h0.9v0.9h-0.9zM56.7 13.2h1.1v1.1h-1.1zM63.9 26.7h0.8v0.8h-0.8zM50.2 39.9h1v1h-1zM75.9 3.5h1.1v1.1h-1.1zM71.4 16.9h1.1v1.1h-1.1zM24.4 7.6h0.9v0.9h-0.9zM76.8 5.8h0.8v0.8h-0.8zM75.8 56.2h1.1v1.1h-1.1zM15.2 42.9h0.9v0.9h-0.9zM32.6 1.9h1.1v1.1h-1.1zM54.9 10.1h1.3v1.3h-1.3zM71.2 16.2h1.3v1.3h-1.3zM17.8 47.7h1.3v1.3h-1.3zM6.1 28.8h0.9v0.9h-0.9zM2.2 28.1h1.3v1.3h-1.3zM75.2 31.3h1.1v1.1h-1.1zM33.2 10.3h0.9v0.9h-0.9zM18.6 28.2h1v1h-1zM5.3 50.9h0.9v0.9h-0.9zM65.5 -0.1h1.1v1.1h-1.1zM71.9 44.6h0.8v0.8h-0.8zM49.8 7.4h1.3v1.3h-1.3zM42.4 19.5h1.1v1.1h-1.1zM74.2 5.7h0.8v0.8h-0.8zM10.3 41.3h1v1h-1zM31.1 9.8h1v1h-1zM36.0 51.2h1.1v1.1h-1.1zM19.7 20.1h1.3v1.3h-1.3zM60.5 2.1h1.1v1.1h-1.1zM14.1 49.7h0.8v0.8h-0.8zM18.8 53.7h1.3v1.3h-1.3zM44.2 25.2h0.8v0.8h-0.8zM26.7 16.7h1v1h-1zM54.6 19.0h1v1h-1zM59.7 -0.6h0.8v0.8h-0.8zM8.3 58.5h1.1v1.1h-1.1zM50.3 45.6h0.9v0.9h-0.9zM39.8 27.3h0.8v0.8h-0.8zM76.3 14.8h0.9v0.9h-0.9zM42.1 2.7h1.1v1.1h-1.1zM38.2 20.0h1.3v1.3h-1.3zM1.7 51.5h1.3v1.3h-1.3zM52.6 56.7h0.9v0.9h-0.9zM19.4 40.2h0.8v0.8h-0.8zM72.8 22.0h1v1h-1zM36.2 45.9h0.8v0.8h-0.8zM34.0 22.8h1.3v1.3h-1.3zM48.7 6.7h0.8v0.8h-0.8zM0.4 37.8h0.8v0.8h-0.8zM25.7 56.1h0.9v0.9h-0.9zM47.7 40.2h0.9v0.9h-0.9zM39.4 26.1h1.1v1.1h-1.1zM72.1 55.4h0.8v0.8h-0.8zM31.2 14.8h1.1v1.1h-1.1zM14.8 37.3h0.8v0.8h-0.8zM29.9 41.4h0.8v0.8h-0.8zM32.8 16.8h0.9v0.9h-0.9zM51.6 17.9h1.3v1.3h-1.3zM59.0 21.3h0.9v0.9h-0.9zM75.7 41.3h0.9v0.9h-0.9zM22.9 50.3h0.8v0.8h-0.8zM34.9 10.7h1.1v1.1h-1.1zM40.9 0.1h0.8v0.8h-0.8zM52.5 25.1h1v1h-1zM22.8 13.3h1v1h-1zM60.3 49.5h1.3v1.3h-1.3zM40.1 23.3h1v1h-1zM17.9 10.9h0.8v0.8h-0.8zM29.2 5.5h1.3v1.3h-1.3zM76.3 46.4h0.9v0.9h-0.9zM25.4 10.5h0.9v0.9h-0.9zM7.9 34.2h0.9v0.9h-0.9zM29.8 22.3h0.9v0.9h-0.9zM19.9 15.2h0.9v0.9h-0.9zM14.1 55.9h1v1h-1zM42.4 37.9h0.9v0.9h-0.9zM41.0 55.0h1.1v1.1h-1.1zM13.2 53.7h1v1h-1zM27.5 54.3h1.1v1.1h-1.1zM14.8 49.0h0.9v0.9h-0.9zM26.3 5.2h0.8v0.8h-0.8zM47.2 11.2h0.8v0.8h-0.8zM51.0 34.7h1.3v1.3h-1.3zM9.1 17.8h1.3v1.3h-1.3zM66.4 25.0h1v1h-1zM44.0 34.4h1.1v1.1h-1.1zM56.8 41.6h1v1h-1zM9.6 56.3h1.1v1.1h-1.1zM12.7 9.2h1v1h-1zM0.5 31.5h0.9v0.9h-0.9zM60.3 16.3h0.8v0.8h-0.8zM31.9 27.4h1.1v1.1h-1.1zM19.4 57.4h0.8v0.8h-0.8zM4.1 33.5h1.1v1.1h-1.1zM71.6 30.6h1v1h-1zM65.6 20.5h1.3v1.3h-1.3zM55.3 25.3h1.3v1.3h-1.3zM50.8 5.8h1v1h-1zM27.4 2.4h1.1v1.1h-1.1zM27.5 50.2h0.8v0.8h-0.8zM13.9 34.8h0.8v0.8h-0.8zM44.0 9.3h1.3v1.3h-1.3zM12.5 20.9h1.3v1.3h-1.3zM33.6 53.7h0.8v0.8h-0.8zM53.7 5.0h0.9v0.9h-0.9zM55.2 5.2h1.1v1.1h-1.1zM35.5 14.6h1.1v1.1h-1.1zM41.6 32.7h1v1h-1zM27.9 0.7h1v1h-1zM28.7 39.6h0.8v0.8h-0.8zM28.1 4.0h1.1v1.1h-1.1zM25.4 35.1h1.3v1.3h-1.3zM4.5 22.8h1v1h-1zM-0.3 47.3h1.3v1.3h-1.3zM3.1 38.3h1.1v1.1h-1.1zM48.6 12.7h0.9v0.9h-0.9zM48.3 20.8h1v1h-1zM41.8 19.5h0.9v0.9h-0.9zM20.1 25.4h0.9v0.9h-0.9zM2.5 -0.8h1.1v1.1h-1.1zM77.0 41.5h1v1h-1zM51.8 53.0h0.8v0.8h-0.8zM59.6 45.8h0.9v0.9h-0.9zM21.5 -0.6h1.1v1.1h-1.1zM14.5 46.5h1.3v1.3h-1.3zM12.3 33.9h1.1v1.1h-1.1zM4.2 53.5h1.1v1.1h-1.1zM59.0 29.4h1.1v1.1h-1.1zM34.2 42.8h1v1h-1zM23.5 36.6h0.9v0.9h-0.9zM10.5 36.5h1.3v1.3h-1.3zM0.9 27.9h1.3v1.3h-1.3zM7.8 58.6h0.9v0.9h-0.9zM51.1 22.3h0.8v0.8h-0.8zM52.5 35.6h1v1h-1zM47.0 1.2h1.3v1.3h-1.3zM18.4 51.7h1v1h-1zM6.7 1.9h0.9v0.9h-0.9zM36.4 10.1h1.3v1.3h-1.3zM47.4 27.3h1.1v1.1h-1.1zM72.4 24.8h1.1v1.1h-1.1zM20.7 42.5h1v1h-1zM48.9 55.8h0.8v0.8h-0.8zM71.6 53.4h0.9v0.9h-0.9zM25.3 11.9h1v1h-1zM48.3 44.5h1v1h-1zM15.6 54.8h0.9v0.9h-0.9zM2.3 19.1h0.9v0.9h-0.9zM28.4 35.9h1.1v1.1h-1.1zM79.3 37.6h1.3v1.3h-1.3zM27.0 42.3h0.9v0.9h-0.9zM59.7 5.6h1.1v1.1h-1.1zM15.7 19.5h0.8v0.8h-0.8zM76.3 20.2h1v1h-1zM38.3 40.5h0.9v0.9h-0.9zM16.0 8.8h0.8v0.8h-0.8zM63.2 14.7h0.8v0.8h-0.8zM73.0 45.0h1.1v1.1h-1.1zM17.9 35.1h0.8v0.8h-0.8zM71.4 30.8h0.8v0.8h-0.8zM75.8 45.7h1.3v1.3h-1.3zM15.1 18.3h1v1h-1zM60.1 31.7h1v1h-1zM24.6 37.0h0.9v0.9h-0.9zM46.1 17.7h1v1h-1zM37.5 51.9h0.9v0.9h-0.9zM47.6 12.0h0.8v0.8h-0.8zM78.3 33.9h0.8v0.8h-0.8zM39.2 9.5h0.8v0.8h-0.8zM23.8 15.6h0.8v0.8h-0.8zM15.5 49.2h1v1h-1zM55.5 7.1h0.8v0.8h-0.8zM75.9 59.0h1.1v1.1h-1.1zM9.0 2.2h0.9v0.9h-0.9zM42.9 9.5h1.3v1.3h-1.3zM25.9 13.9h0.9v0.9h-0.9zM49.7 48.0h1v1h-1zM18.2 14.5h1v1h-1zM50.4 45.4h0.8v0.8h-0.8zM25.7 22.3h0.8v0.8h-0.8zM0.5 54.5h0.9v0.9h-0.9zM61.6 12.0h1.3v1.3h-1.3zM73.8 33.8h0.8v0.8h-0.8zM79.3 19.9h1.1v1.1h-1.1zM20.2 20.5h0.9v0.9h-0.9zM29.1 10.9h1.3v1.3h-1.3zM43.2 15.2h0.9v0.9h-0.9zM30.3 16.7h1v1h-1zM48.5 31.4h1.3v1.3h-1.3zM37.3 44.9h1.1v1.1h-1.1zM56.9 21.5h0.8v0.8h-0.8zM57.9 46.5h1.3v1.3h-1.3zM63.7 3.8h0.8v0.8h-0.8zM13.7 57.0h1.3v1.3h-1.3zM61.7 49.6h1.3v1.3h-1.3zM67.0 45.3h1.1v1.1h-1.1zM77.0 13.4h1.3v1.3h-1.3zM2.0 42.0h0.8v0.8h-0.8zM22.8 23.1h1v1h-1zM4.2 20.7h1v1h-1zM69.1 7.4h1v1h-1zM-0.6 11.8h1.1v1.1h-1.1zM31.6 28.5h0.8v0.8h-0.8zM4.2 36.9h0.9v0.9h-0.9zM18.7 22.6h1v1h-1zM15.3 22.2h0.9v0.9h-0.9zM77.4 40.4h0.8v0.8h-0.8zM46.3 35.7h0.9v0.9h-0.9zM65.8 53.7h1.1v1.1h-1.1zM46.6 1.4h1.1v1.1h-1.1zM12.3 48.7h1.3v1.3h-1.3zM55.3 58.3h0.9v0.9h-0.9zM21.6 19.0h0.8v0.8h-0.8zM31.0 6.0h0.9v0.9h-0.9zM78.9 2.0h0.8v0.8h-0.8zM32.6 7.4h1.3v1.3h-1.3zM56.9 56.6h0.8v0.8h-0.8zM52.2 16.8h1.3v1.3h-1.3zM61.4 25.1h0.9v0.9h-0.9zM50.9 29.3h1.1v1.1h-1.1zM37.6 56.6h0.9v0.9h-0.9zM47.7 9.1h0.9v0.9h-0.9zM77.4 37.6h0.9v0.9h-0.9zM21.9 10.4h1v1h-1zM3.3 2.5h1.1v1.1h-1.1zM35.4 24.6h0.8v0.8h-0.8zM41.2 20.5h0.8v0.8h-0.8zM21.6 55.1h0.8v0.8h-0.8zM37.5 56.4h1.1v1.1h-1.1zM37.6 16.9h1.1v1.1h-1.1zM41.3 11.7h0.9v0.9h-0.9zM60.1 49.5h1v1h-1zM29.1 17.4h0.8v0.8h-0.8zM21.2 9.6h1.3v1.3h-1.3zM53.7 38.5h0.9v0.9h-0.9zM29.7 23.7h0.9v0.9h-0.9zM28.1 52.4h1.1v1.1h-1.1zM59.6 26.7h0.8v0.8h-0.8zM27.8 53.0h1v1h-1zM8.3 45.9h1.1v1.1h-1.1zM36.0 10.4h1.3v1.3h-1.3zM49.3 46.6h0.9v0.9h-0.9zM47.3 42.8h0.8v0.8h-0.8zM1.0 58.8h0.9v0.9h-0.9zM13.1 58.5h0.8v0.8h-0.8zM78.9 31.4h1v1h-1zM7.0 20.5h1.1v1.1h-1.1zM37.5 40.2h1.1v1.1h-1.1zM77.0 46.7h1v1h-1zM65.0 2.0h0.8v0.8h-0.8zM10.5 37.2h0.9v0.9h-0.9zM19.9 1.8h1.1v1.1h-1.1zM68.9 50.4h1.3v1.3h-1.3zM19.9 19.1h1.3v1.3h-1.3zM73.3 16.5h1.1v1.1h-1.1zM75.6 12.0h1.1v1.1h-1.1zM2.0 -0.8h1.1v1.1h-1.1zM17.5 30.7h1.1v1.1h-1.1zM55.4 57.9h0.8v0.8h-0.8zM69.9 30.8h0.8v0.8h-0.8zM57.7 40.1h1v1h-1zM44.1 52.6h1.1v1.1h-1.1zM12.6 34.5h0.8v0.8h-0.8zM29.4 50.3h0.9v0.9h-0.9zM44.0 20.4h1.1v1.1h-1.1zM46.8 22.3h1.1v1.1h-1.1zM43.2 54.2h1.1v1.1h-1.1zM48.9 23.1h0.9v0.9h-0.9zM22.3 13.8h1.3v1.3h-1.3zM44.6 51.2h1v1h-1zM74.8 16.1h1.3v1.3h-1.3zM25.4 27.6h1v1h-1zM28.0 12.1h0.9v0.9h-0.9zM43.5 3.5h1v1h-1zM63.1 5.0h1.1v1.1h-1.1zM68.6 7.7h1.1v1.1h-1.1zM76.7 34.8h1.1v1.1h-1.1zM28.9 34.0h0.9v0.9h-0.9zM15.9 29.1h0.9v0.9h-0.9zM52.4 45.6h0.9v0.9h-0.9zM76.8 3.7h1.3v1.3h-1.3zM-0.1 42.0h0.8v0.8h-0.8zM33.1 2.5h1v1h-1zM76.1 34.4h0.8v0.8h-0.8zM74.6 13.5h1.3v1.3h-1.3zM45.7 2.8h1.1v1.1h-1.1zM72.5 39.0h1.1v1.1h-1.1zM2.8 44.0h0.8v0.8h-0.8zM34.4 4.5h0.9v0.9h-0.9zM11.6 30.2h1.1v1.1h-1.1zM38.3 28.9h1.1v1.1h-1.1zM56.7 59.3h1.3v1.3h-1.3zM64.7 29.8h0.8v0.8h-0.8zM68.0 53.9h0.8v0.8h-0.8zM12.9 27.5h0.8v0.8h-0.8zM3.2 4.7h1.1v1.1h-1.1zM34.3 17.0h0.8v0.8h-0.8zM33.5 2.4h1.1v1.1h-1.1zM21.8 52.5h0.8v0.8h-0.8zM66.4 5.0h0.9v0.9h-0.9zM11.3 10.9h1v1h-1zM4.1 30.2h1v1h-1zM49.3 34.8h1.3v1.3h-1.3zM10.9 0.6h1.1v1.1h-1.1zM22.6 8.9h0.8v0.8h-0.8zM38.0 30.9h1v1h-1zM20.6 2.3h1v1h-1zM29.5 46.0h0.8v0.8h-0.8zM79.2 37.8h0.8v0.8h-0.8zM56.1 22.6h1.3v1.3h-1.3zM24.9 40.2h0.8v0.8h-0.8z" fill="#b8babe" filter="url(#bl4)"/>
<path d="M38.3 53.0h0.8v0.8h-0.8zM55.0 15.1h0.8v0.8h-0.8zM71.6 0.8h0.8v0.8h-0.8zM41.5 45.1h0.9v0.9h-0.9zM49.7 42.7h1v1h-1zM65.8 39.5h1.1v1.1h-1.1zM34.3 29.7h1.1v1.1h-1.1zM46.8 22.8h0.9v0.9h-0.9zM78.1 45.5h0.9v0.9h-0.9zM72.2 38.8h0.8v0.8h-0.8zM29.9 50.8h1.3v1.3h-1.3zM37.7 21.0h1.1v1.1h-1.1zM38.0 20.6h1.3v1.3h-1.3zM63.2 48.3h0.8v0.8h-0.8zM12.5 14.4h1v1h-1zM1.8 57.0h1.1v1.1h-1.1zM42.8 12.3h1.3v1.3h-1.3zM35.3 30.6h1.3v1.3h-1.3zM63.7 38.9h1v1h-1zM0.5 11.1h0.9v0.9h-0.9zM72.3 11.9h1.3v1.3h-1.3zM62.4 49.0h0.8v0.8h-0.8zM19.4 27.8h1v1h-1zM2.3 10.3h1v1h-1zM18.8 5.1h0.8v0.8h-0.8zM43.4 3.3h0.8v0.8h-0.8zM39.4 47.0h0.9v0.9h-0.9zM65.1 36.7h0.9v0.9h-0.9zM13.3 25.1h0.9v0.9h-0.9zM66.3 9.4h1.1v1.1h-1.1zM77.6 0.1h0.9v0.9h-0.9zM26.1 35.9h1v1h-1zM77.3 12.3h1v1h-1zM54.8 50.3h1.1v1.1h-1.1zM46.9 50.7h1.3v1.3h-1.3zM29.4 8.4h0.8v0.8h-0.8zM67.1 31.9h0.8v0.8h-0.8zM77.0 36.3h0.8v0.8h-0.8zM31.0 54.0h1.1v1.1h-1.1zM52.2 15.8h0.8v0.8h-0.8zM15.1 17.8h1.1v1.1h-1.1zM62.7 47.8h1v1h-1zM38.5 50.7h1.1v1.1h-1.1zM44.8 -0.2h0.9v0.9h-0.9zM-0.7 15.8h1.3v1.3h-1.3zM15.0 54.8h1.1v1.1h-1.1zM74.5 42.0h0.9v0.9h-0.9zM35.2 39.4h0.8v0.8h-0.8zM46.0 43.3h0.8v0.8h-0.8zM38.7 44.0h1v1h-1zM49.7 23.6h1.1v1.1h-1.1zM62.0 50.1h0.8v0.8h-0.8zM27.1 15.0h1.3v1.3h-1.3zM40.1 15.4h1.1v1.1h-1.1zM56.2 8.8h1v1h-1zM4.5 41.2h1v1h-1zM20.7 35.8h1.1v1.1h-1.1zM19.8 35.8h0.8v0.8h-0.8zM34.7 54.2h1v1h-1zM36.0 8.8h1.1v1.1h-1.1zM28.1 44.4h0.9v0.9h-0.9zM62.9 0.8h1.3v1.3h-1.3zM30.4 37.1h0.9v0.9h-0.9zM43.0 31.5h1.1v1.1h-1.1zM73.1 3.2h0.8v0.8h-0.8zM67.6 2.2h1.1v1.1h-1.1zM1.7 39.1h1.1v1.1h-1.1zM73.3 29.8h1.1v1.1h-1.1zM7.4 38.4h1.3v1.3h-1.3zM9.2 2.9h1.3v1.3h-1.3zM39.3 30.8h1v1h-1zM73.2 47.4h1.1v1.1h-1.1zM45.3 58.9h1.3v1.3h-1.3zM59.1 20.8h1v1h-1zM31.4 27.1h1.3v1.3h-1.3zM12.5 8.0h0.9v0.9h-0.9zM72.0 10.1h1.3v1.3h-1.3zM15.4 3.0h0.8v0.8h-0.8zM15.2 44.1h1.1v1.1h-1.1zM5.2 36.2h1.3v1.3h-1.3zM76.3 41.0h0.8v0.8h-0.8zM74.6 55.0h1.3v1.3h-1.3zM23.8 17.2h0.9v0.9h-0.9zM43.3 58.0h0.8v0.8h-0.8zM31.4 55.6h0.8v0.8h-0.8zM36.4 47.1h1.1v1.1h-1.1zM2.8 38.4h1.3v1.3h-1.3zM53.5 4.3h1.1v1.1h-1.1zM67.7 5.4h0.9v0.9h-0.9zM12.5 14.6h1v1h-1zM26.1 28.4h1v1h-1zM73.5 57.5h1.1v1.1h-1.1zM23.1 53.6h1v1h-1zM12.9 6.0h1.3v1.3h-1.3zM10.2 23.1h0.9v0.9h-0.9zM73.6 15.4h1.3v1.3h-1.3zM42.9 14.1h1v1h-1zM51.7 31.9h1.3v1.3h-1.3zM54.1 0.8h0.9v0.9h-0.9zM77.6 7.8h1.3v1.3h-1.3zM75.7 31.5h0.9v0.9h-0.9zM64.4 49.2h1.3v1.3h-1.3zM60.4 32.3h1v1h-1zM63.6 48.5h0.9v0.9h-0.9zM26.5 5.9h1.1v1.1h-1.1zM71.0 44.8h0.8v0.8h-0.8zM63.2 16.4h0.8v0.8h-0.8zM75.2 0.1h0.9v0.9h-0.9zM57.3 41.3h1.3v1.3h-1.3zM5.2 23.0h0.8v0.8h-0.8zM21.4 24.1h1v1h-1zM64.8 20.7h1v1h-1zM67.0 46.1h1v1h-1zM17.2 3.3h0.9v0.9h-0.9zM53.9 34.7h1.3v1.3h-1.3zM39.9 6.3h0.9v0.9h-0.9zM50.4 39.6h0.9v0.9h-0.9zM76.0 35.0h1.1v1.1h-1.1zM41.0 10.9h0.8v0.8h-0.8zM26.5 2.1h0.9v0.9h-0.9zM46.0 2.9h1.1v1.1h-1.1zM6.4 23.2h1v1h-1zM59.3 47.0h1v1h-1zM30.5 30.4h0.8v0.8h-0.8zM5.0 53.1h1.1v1.1h-1.1zM28.0 7.8h0.8v0.8h-0.8zM65.0 15.0h1v1h-1zM32.3 6.6h1v1h-1zM23.3 51.8h0.8v0.8h-0.8zM43.3 19.5h0.9v0.9h-0.9zM78.6 24.2h0.8v0.8h-0.8zM55.9 41.4h1.1v1.1h-1.1zM13.8 53.6h0.9v0.9h-0.9zM61.9 20.8h1v1h-1zM0.9 0.2h1.3v1.3h-1.3zM52.5 56.5h1.3v1.3h-1.3zM26.7 3.5h1.3v1.3h-1.3zM63.7 56.5h1.3v1.3h-1.3zM74.7 50.6h1.3v1.3h-1.3zM56.7 18.8h0.8v0.8h-0.8zM9.3 40.7h1v1h-1zM58.9 52.1h1v1h-1zM8.0 38.0h1v1h-1zM33.6 49.9h1.1v1.1h-1.1zM8.3 12.3h1v1h-1zM34.2 46.4h1.3v1.3h-1.3zM16.6 39.6h0.8v0.8h-0.8zM30.5 2.6h1.1v1.1h-1.1zM1.8 18.7h0.9v0.9h-0.9zM4.1 25.8h1v1h-1zM52.5 6.2h0.8v0.8h-0.8zM41.4 51.6h1v1h-1zM60.6 18.7h1.3v1.3h-1.3zM4.8 47.2h1v1h-1zM0.4 6.7h0.9v0.9h-0.9zM54.1 3.2h0.8v0.8h-0.8zM39.9 51.6h1v1h-1zM61.2 13.0h0.8v0.8h-0.8zM14.7 57.9h1v1h-1zM10.3 12.8h1.3v1.3h-1.3zM71.5 31.6h1.1v1.1h-1.1zM47.4 9.0h0.8v0.8h-0.8zM39.2 20.1h1v1h-1zM67.5 14.8h1v1h-1zM10.5 4.7h1.3v1.3h-1.3zM58.7 1.3h1.1v1.1h-1.1zM55.3 54.4h1.1v1.1h-1.1zM31.0 22.3h1.1v1.1h-1.1zM12.3 34.6h1v1h-1zM65.1 25.4h1.3v1.3h-1.3zM40.1 17.8h1v1h-1zM64.5 19.6h1.3v1.3h-1.3zM58.1 36.3h1.1v1.1h-1.1zM41.0 34.9h1.1v1.1h-1.1zM26.0 44.1h1.1v1.1h-1.1zM31.3 51.3h1.1v1.1h-1.1zM56.7 17.2h1.3v1.3h-1.3zM24.6 59.1h1.3v1.3h-1.3zM74.3 19.6h1.3v1.3h-1.3zM63.3 18.5h0.9v0.9h-0.9zM74.9 19.8h1.1v1.1h-1.1zM30.3 53.5h1.3v1.3h-1.3zM66.6 12.4h1v1h-1zM29.2 18.7h1.3v1.3h-1.3zM38.3 54.7h1.1v1.1h-1.1zM57.2 17.4h0.9v0.9h-0.9zM25.7 25.9h1.3v1.3h-1.3zM18.3 13.6h1.1v1.1h-1.1zM44.7 2.3h0.8v0.8h-0.8zM59.2 29.6h1v1h-1zM42.4 39.7h1.3v1.3h-1.3zM42.9 23.8h1.1v1.1h-1.1zM7.5 53.7h1.3v1.3h-1.3zM23.7 35.9h1v1h-1zM34.6 2.3h1.1v1.1h-1.1zM35.7 34.3h1.1v1.1h-1.1zM60.2 39.3h1.3v1.3h-1.3zM19.9 49.7h1v1h-1zM34.9 43.1h1v1h-1zM64.2 46.4h1v1h-1zM6.9 18.5h1.3v1.3h-1.3zM73.7 26.0h1v1h-1zM9.8 33.9h1v1h-1zM64.5 12.2h1.3v1.3h-1.3zM29.7 27.8h0.8v0.8h-0.8zM70.3 41.4h1v1h-1zM27.9 37.8h1.1v1.1h-1.1zM55.8 22.0h0.9v0.9h-0.9zM53.2 53.4h0.8v0.8h-0.8zM23.7 17.6h1v1h-1zM67.5 50.7h1v1h-1zM46.3 38.7h0.9v0.9h-0.9zM15.3 9.0h0.8v0.8h-0.8zM57.1 16.5h1.1v1.1h-1.1zM36.3 49.0h0.9v0.9h-0.9zM20.4 1.9h1.1v1.1h-1.1zM19.8 31.8h1.3v1.3h-1.3zM69.9 43.0h0.8v0.8h-0.8zM63.3 1.1h1.1v1.1h-1.1zM76.1 53.9h1v1h-1zM36.7 38.9h1.1v1.1h-1.1zM40.2 21.2h0.9v0.9h-0.9zM79.0 33.2h0.8v0.8h-0.8zM41.2 36.1h0.9v0.9h-0.9zM19.9 33.2h0.9v0.9h-0.9zM50.3 46.0h1.1v1.1h-1.1zM20.6 9.6h1v1h-1zM2.3 18.3h1.3v1.3h-1.3zM77.2 25.4h1.1v1.1h-1.1zM73.5 3.7h1.1v1.1h-1.1zM12.0 25.0h1.3v1.3h-1.3zM29.3 13.5h1.3v1.3h-1.3zM29.9 9.4h1.1v1.1h-1.1zM74.4 22.5h1.1v1.1h-1.1zM44.2 58.8h1.1v1.1h-1.1zM71.7 9.7h0.8v0.8h-0.8zM19.0 11.9h1.3v1.3h-1.3zM5.5 35.9h1.1v1.1h-1.1zM14.6 26.8h1v1h-1zM55.2 50.9h1.1v1.1h-1.1zM54.9 44.8h1.1v1.1h-1.1zM68.0 59.1h1.3v1.3h-1.3zM31.9 57.7h0.8v0.8h-0.8zM10.5 55.8h1.3v1.3h-1.3zM45.9 58.0h0.8v0.8h-0.8zM25.1 26.4h0.9v0.9h-0.9zM39.5 37.8h1.1v1.1h-1.1zM20.0 28.5h1v1h-1zM19.6 -0.5h0.8v0.8h-0.8zM17.1 5.5h0.8v0.8h-0.8zM8.2 49.9h1.3v1.3h-1.3zM65.7 23.0h0.9v0.9h-0.9zM58.7 32.1h1v1h-1zM50.6 46.0h0.8v0.8h-0.8zM73.2 7.5h0.8v0.8h-0.8zM31.6 5.9h0.9v0.9h-0.9zM0.4 55.6h0.9v0.9h-0.9zM19.9 53.9h1v1h-1zM48.3 52.2h0.8v0.8h-0.8zM7.5 31.1h0.9v0.9h-0.9zM49.0 3.1h0.9v0.9h-0.9zM32.0 46.3h1.1v1.1h-1.1zM22.6 7.4h1v1h-1zM19.8 52.2h1.1v1.1h-1.1zM15.6 55.2h1v1h-1zM2.2 47.0h1v1h-1zM0.5 25.8h1v1h-1zM49.7 1.7h0.8v0.8h-0.8zM32.8 33.8h1.3v1.3h-1.3zM53.3 19.3h0.9v0.9h-0.9zM21.7 14.7h1v1h-1zM57.5 19.5h0.9v0.9h-0.9zM4.8 46.1h1.1v1.1h-1.1zM48.9 53.0h1v1h-1zM63.4 15.0h1v1h-1zM68.4 16.5h0.9v0.9h-0.9zM55.8 54.2h1.1v1.1h-1.1zM8.9 51.8h0.9v0.9h-0.9zM44.3 10.1h0.9v0.9h-0.9zM60.4 6.2h0.8v0.8h-0.8zM19.9 2.9h1v1h-1zM78.7 20.5h1.3v1.3h-1.3zM36.8 46.3h1.3v1.3h-1.3zM18.6 5.4h1.1v1.1h-1.1zM28.7 50.8h1.3v1.3h-1.3zM1.9 50.2h0.9v0.9h-0.9zM73.8 48.9h1.3v1.3h-1.3zM-0.2 11.8h0.8v0.8h-0.8zM23.1 57.3h1v1h-1zM41.3 52.8h0.9v0.9h-0.9zM23.6 24.3h1.3v1.3h-1.3zM75.8 58.4h1.3v1.3h-1.3zM11.4 7.0h1v1h-1zM9.7 22.7h1.1v1.1h-1.1zM63.0 31.4h0.8v0.8h-0.8zM-0.3 56.6h0.9v0.9h-0.9zM24.0 59.1h1.3v1.3h-1.3zM44.6 6.8h0.9v0.9h-0.9zM32.4 46.4h1.3v1.3h-1.3zM10.5 15.1h0.9v0.9h-0.9zM6.5 52.1h0.8v0.8h-0.8zM43.2 50.6h1v1h-1zM62.8 28.1h0.8v0.8h-0.8zM56.5 24.6h0.8v0.8h-0.8zM72.2 16.3h1.3v1.3h-1.3zM58.1 3.5h1.1v1.1h-1.1zM73.3 22.8h1.1v1.1h-1.1zM57.2 39.5h1.1v1.1h-1.1zM33.2 30.7h0.9v0.9h-0.9zM2.6 45.9h1.1v1.1h-1.1zM67.9 45.4h1.1v1.1h-1.1zM45.5 27.6h1.3v1.3h-1.3zM35.0 40.2h0.9v0.9h-0.9zM21.7 39.5h0.8v0.8h-0.8zM26.7 32.8h1v1h-1zM12.6 16.3h0.8v0.8h-0.8zM65.5 48.3h1.3v1.3h-1.3zM68.1 22.5h1.3v1.3h-1.3zM46.1 49.0h1v1h-1zM49.8 5.1h1v1h-1zM28.1 34.8h0.8v0.8h-0.8zM61.1 11.6h1.3v1.3h-1.3zM75.7 28.6h1.1v1.1h-1.1zM68.8 53.5h0.8v0.8h-0.8zM25.3 47.6h1v1h-1zM19.6 38.5h1.1v1.1h-1.1zM11.7 40.0h1.1v1.1h-1.1zM73.3 -0.8h1v1h-1zM1.4 48.0h0.8v0.8h-0.8zM4.4 1.6h1.1v1.1h-1.1zM35.2 48.4h1.3v1.3h-1.3zM51.6 26.1h1v1h-1zM66.5 18.8h0.9v0.9h-0.9zM78.7 40.0h1v1h-1zM76.1 32.0h1v1h-1zM24.6 41.6h1.3v1.3h-1.3zM76.1 1.7h1v1h-1zM1.3 31.8h0.8v0.8h-0.8zM48.2 40.1h0.8v0.8h-0.8zM76.3 27.5h1.1v1.1h-1.1zM26.7 6.9h1.1v1.1h-1.1zM36.8 30.5h0.9v0.9h-0.9zM75.3 35.5h1.1v1.1h-1.1zM74.7 18.6h1.1v1.1h-1.1zM64.0 7.0h0.9v0.9h-0.9zM72.5 48.2h1.3v1.3h-1.3zM16.6 7.9h0.8v0.8h-0.8zM41.8 58.0h1.1v1.1h-1.1zM19.7 52.4h1v1h-1zM19.3 6.3h0.8v0.8h-0.8zM56.3 23.5h1.3v1.3h-1.3zM51.2 31.8h1v1h-1zM27.7 -0.8h0.9v0.9h-0.9zM19.7 36.9h0.8v0.8h-0.8zM68.0 16.2h0.8v0.8h-0.8zM57.4 28.1h1.1v1.1h-1.1zM26.2 4.4h0.8v0.8h-0.8zM70.4 34.4h1v1h-1zM36.9 18.6h1.1v1.1h-1.1zM30.1 22.8h1.1v1.1h-1.1zM47.5 43.2h1.3v1.3h-1.3zM19.3 57.6h1v1h-1zM72.5 28.5h0.8v0.8h-0.8zM16.9 19.4h1v1h-1zM3.2 30.0h1v1h-1zM4.9 27.2h0.8v0.8h-0.8zM41.8 20.0h1.3v1.3h-1.3zM6.3 13.7h1.1v1.1h-1.1zM42.6 -0.1h1.1v1.1h-1.1zM10.6 18.1h1.1v1.1h-1.1zM33.1 45.5h1.1v1.1h-1.1zM28.5 48.7h0.9v0.9h-0.9zM63.5 13.7h0.9v0.9h-0.9zM7.1 16.6h1v1h-1zM76.3 56.9h0.8v0.8h-0.8zM27.2 13.6h0.9v0.9h-0.9zM64.4 41.5h1v1h-1zM17.7 31.6h0.8v0.8h-0.8zM60.3 55.2h1.1v1.1h-1.1zM6.6 11.2h0.9v0.9h-0.9zM33.8 49.7h1.3v1.3h-1.3zM67.9 52.0h0.9v0.9h-0.9zM72.8 8.1h1.3v1.3h-1.3zM31.2 29.8h1.1v1.1h-1.1zM37.5 44.0h1.3v1.3h-1.3zM16.0 10.7h1.1v1.1h-1.1zM40.5 54.7h0.9v0.9h-0.9zM69.3 39.6h0.8v0.8h-0.8zM10.0 20.9h0.8v0.8h-0.8zM23.5 0.5h1v1h-1zM12.2 12.9h1.1v1.1h-1.1zM50.5 43.8h1.3v1.3h-1.3zM63.0 24.0h1.1v1.1h-1.1zM1.7 24.8h1v1h-1zM45.0 30.6h1.3v1.3h-1.3zM17.2 38.6h1.1v1.1h-1.1zM49.8 57.0h0.9v0.9h-0.9zM66.9 35.3h0.8v0.8h-0.8zM3.0 2.7h0.9v0.9h-0.9zM15.0 21.5h0.9v0.9h-0.9zM36.0 33.7h0.8v0.8h-0.8zM1.5 7.5h0.9v0.9h-0.9zM3.6 3.3h1.3v1.3h-1.3zM72.6 41.9h1.1v1.1h-1.1zM50.0 48.9h0.9v0.9h-0.9zM29.8 20.7h1.1v1.1h-1.1zM2.9 51.3h0.8v0.8h-0.8zM72.6 4.9h0.8v0.8h-0.8zM45.0 31.5h1v1h-1zM34.4 44.7h1.1v1.1h-1.1zM75.0 48.5h1v1h-1zM18.6 31.6h0.9v0.9h-0.9zM23.2 4.3h0.8v0.8h-0.8zM41.0 46.2h0.8v0.8h-0.8zM6.4 19.8h1.1v1.1h-1.1zM74.4 44.1h0.9v0.9h-0.9zM31.5 5.5h1.1v1.1h-1.1zM61.5 28.4h0.9v0.9h-0.9zM2.2 17.2h1.3v1.3h-1.3zM66.4 17.6h1.3v1.3h-1.3zM10.5 45.5h1.1v1.1h-1.1zM17.0 32.6h1.3v1.3h-1.3zM76.5 23.8h0.9v0.9h-0.9zM13.1 20.2h0.9v0.9h-0.9zM4.7 50.7h1.3v1.3h-1.3zM43.8 14.9h0.9v0.9h-0.9zM3.6 20.5h0.9v0.9h-0.9zM23.5 1.5h0.8v0.8h-0.8zM13.0 32.8h1.1v1.1h-1.1zM56.4 21.1h1v1h-1zM2.5 33.4h0.8v0.8h-0.8zM13.4 5.6h0.9v0.9h-0.9zM31.3 25.4h1v1h-1zM64.4 37.4h1.1v1.1h-1.1zM17.7 47.2h0.9v0.9h-0.9zM72.9 46.7h1v1h-1zM68.3 9.5h1.1v1.1h-1.1zM59.4 53.3h0.9v0.9h-0.9zM43.8 43.7h1v1h-1zM47.2 53.9h0.9v0.9h-0.9zM56.2 47.2h1.3v1.3h-1.3zM15.3 46.0h0.9v0.9h-0.9zM56.0 14.9h1.1v1.1h-1.1zM0.5 10.6h1.3v1.3h-1.3zM60.7 32.1h1v1h-1zM77.8 24.9h0.9v0.9h-0.9zM68.3 15.7h1.3v1.3h-1.3zM45.2 55.9h1.1v1.1h-1.1zM24.1 41.3h0.9v0.9h-0.9zM13.2 38.7h1.1v1.1h-1.1zM-0.8 37.5h1v1h-1zM15.1 38.3h0.9v0.9h-0.9zM20.1 31.3h0.9v0.9h-0.9zM3.2 44.8h0.8v0.8h-0.8zM58.8 50.9h0.9v0.9h-0.9zM14.4 53.4h0.8v0.8h-0.8zM39.7 50.5h0.8v0.8h-0.8zM53.7 28.8h0.9v0.9h-0.9zM2.7 36.5h1.3v1.3h-1.3zM31.4 52.8h1.1v1.1h-1.1zM78.9 44.3h1.3v1.3h-1.3zM11.8 16.4h0.9v0.9h-0.9zM63.9 33.6h1v1h-1zM36.4 15.1h1.1v1.1h-1.1zM67.3 46.6h0.8v0.8h-0.8zM59.5 27.2h0.9v0.9h-0.9zM76.6 9.6h1v1h-1zM25.4 45.1h0.9v0.9h-0.9zM12.7 16.7h0.8v0.8h-0.8zM33.3 -0.7h1.3v1.3h-1.3zM76.4 23.2h1.3v1.3h-1.3zM38.9 42.3h1v1h-1zM8.8 44.2h1.3v1.3h-1.3zM49.4 26.6h0.8v0.8h-0.8zM69.9 14.4h1v1h-1zM32.3 43.2h0.8v0.8h-0.8zM22.4 34.9h1v1h-1zM73.9 20.2h1v1h-1zM42.2 53.6h0.9v0.9h-0.9zM49.6 36.7h1v1h-1zM73.8 25.7h1.1v1.1h-1.1zM-1.0 55.9h0.9v0.9h-0.9zM11.1 48.3h0.9v0.9h-0.9zM64.0 28.5h0.9v0.9h-0.9zM54.3 4.6h0.9v0.9h-0.9zM54.4 26.1h1v1h-1zM48.4 16.0h1v1h-1zM17.3 34.7h0.8v0.8h-0.8zM44.7 3.0h0.9v0.9h-0.9zM0.2 32.0h1v1h-1zM2.0 47.0h0.8v0.8h-0.8zM46.7 20.3h1.1v1.1h-1.1zM29.3 2.1h1.3v1.3h-1.3zM59.4 15.8h1v1h-1zM36.6 43.1h1.1v1.1h-1.1zM71.1 55.5h0.9v0.9h-0.9zM16.1 12.1h1.1v1.1h-1.1zM54.9 20.9h1.1v1.1h-1.1zM68.9 32.3h0.9v0.9h-0.9zM61.3 3.7h0.9v0.9h-0.9zM79.1 38.6h1v1h-1zM55.0 24.0h1v1h-1zM17.8 43.7h1.3v1.3h-1.3zM2.1 45.6h0.8v0.8h-0.8zM39.5 38.4h0.9v0.9h-0.9zM6.5 -0.1h0.8v0.8h-0.8zM14.2 36.6h0.8v0.8h-0.8zM4.1 19.9h1.1v1.1h-1.1zM0.1 26.0h1.1v1.1h-1.1zM-0.8 0.9h0.9v0.9h-0.9zM41.6 9.5h0.8v0.8h-0.8zM39.6 44.1h1v1h-1zM29.0 33.8h1.3v1.3h-1.3zM26.1 17.8h0.8v0.8h-0.8zM66.5 2.7h1v1h-1zM61.7 9.6h1v1h-1zM25.1 39.9h1.3v1.3h-1.3zM28.9 1.9h0.9v0.9h-0.9zM15.2 45.3h0.9v0.9h-0.9zM28.9 12.0h0.8v0.8h-0.8zM24.3 31.9h1.1v1.1h-1.1zM49.5 42.8h1.1v1.1h-1.1zM11.6 28.5h1v1h-1zM71.8 28.2h0.8v0.8h-0.8zM62.8 41.3h0.9v0.9h-0.9zM37.1 22.2h0.8v0.8h-0.8zM39.6 -0.9h0.9v0.9h-0.9zM35.4 42.1h1.3v1.3h-1.3zM52.6 0.9h1.3v1.3h-1.3zM16.3 43.9h1.3v1.3h-1.3zM50.4 5.2h1.1v1.1h-1.1zM0.6 17.8h0.8v0.8h-0.8zM15.3 40.4h1.3v1.3h-1.3zM72.1 45.0h1.1v1.1h-1.1zM58.3 32.6h0.9v0.9h-0.9zM54.6 -0.2h0.9v0.9h-0.9zM10.9 48.9h1.3v1.3h-1.3zM46.2 30.3h1.1v1.1h-1.1zM55.1 4.7h0.8v0.8h-0.8zM41.4 8.3h1v1h-1zM57.9 58.3h0.8v0.8h-0.8zM25.7 16.7h0.8v0.8h-0.8zM15.4 52.5h1.1v1.1h-1.1zM3.4 22.7h1.1v1.1h-1.1zM14.2 35.1h1v1h-1zM49.2 14.5h0.9v0.9h-0.9zM30.9 29.2h0.9v0.9h-0.9zM36.4 53.2h0.8v0.8h-0.8zM62.8 59.3h1.3v1.3h-1.3zM21.2 42.5h1.3v1.3h-1.3zM25.7 25.2h1.1v1.1h-1.1zM4.5 36.0h1.3v1.3h-1.3zM59.6 54.8h0.8v0.8h-0.8zM5.1 5.6h1v1h-1zM31.5 7.7h0.9v0.9h-0.9zM30.4 10.4h1.3v1.3h-1.3zM7.0 17.6h1.1v1.1h-1.1zM70.5 31.6h1v1h-1zM39.7 4.9h1.1v1.1h-1.1zM23.9 54.7h0.9v0.9h-0.9zM31.6 45.2h1.1v1.1h-1.1zM13.1 41.0h1v1h-1zM74.0 9.8h1v1h-1zM12.4 10.1h1.1v1.1h-1.1zM50.4 46.1h1.3v1.3h-1.3zM71.6 13.5h1v1h-1zM39.9 4.1h1.3v1.3h-1.3zM46.2 30.6h1.3v1.3h-1.3zM36.8 40.1h1v1h-1zM70.7 8.7h0.9v0.9h-0.9zM17.7 9.1h1v1h-1zM18.6 12.1h0.8v0.8h-0.8zM50.0 3.6h1v1h-1zM59.5 7.0h0.8v0.8h-0.8zM11.8 13.1h1v1h-1zM41.2 24.2h1v1h-1zM9.5 31.1h1v1h-1zM64.1 10.3h0.9v0.9h-0.9zM55.9 59.4h1.1v1.1h-1.1zM-0.0 22.9h1v1h-1zM70.4 49.7h1v1h-1zM55.0 11.6h0.9v0.9h-0.9zM76.5 -0.0h0.9v0.9h-0.9zM57.1 12.3h1v1h-1zM49.7 37.2h1v1h-1zM74.2 56.0h1v1h-1zM69.6 27.7h0.9v0.9h-0.9zM64.7 12.3h1v1h-1zM58.1 49.5h1.1v1.1h-1.1zM27.6 35.1h0.9v0.9h-0.9zM73.5 42.6h0.8v0.8h-0.8zM7.2 31.2h1v1h-1zM8.3 48.7h0.9v0.9h-0.9zM36.0 12.8h1v1h-1zM9.3 31.8h1v1h-1zM39.4 33.9h1.3v1.3h-1.3zM36.5 26.5h1.3v1.3h-1.3zM78.1 5.7h1.1v1.1h-1.1zM72.5 28.5h1v1h-1zM15.1 42.8h1v1h-1zM4.6 49.7h1v1h-1zM30.3 21.9h0.9v0.9h-0.9zM5.9 14.7h1v1h-1zM46.2 0.5h0.8v0.8h-0.8zM23.5 40.0h1.3v1.3h-1.3zM12.9 31.6h0.9v0.9h-0.9zM50.2 1.9h1v1h-1zM70.5 27.1h1v1h-1zM58.6 54.4h1v1h-1zM66.8 19.7h1v1h-1zM37.4 55.0h1.3v1.3h-1.3zM46.2 11.5h1.1v1.1h-1.1zM65.0 6.6h1.1v1.1h-1.1zM26.8 53.2h1.1v1.1h-1.1zM62.3 35.3h1v1h-1zM7.2 19.6h1.1v1.1h-1.1zM31.5 42.2h0.9v0.9h-0.9zM44.9 20.4h0.9v0.9h-0.9zM12.5 12.5h0.9v0.9h-0.9zM42.0 53.8h1.3v1.3h-1.3zM11.0 34.4h0.9v0.9h-0.9zM9.1 7.7h1.1v1.1h-1.1zM70.0 35.9h1.1v1.1h-1.1zM21.4 1.2h0.8v0.8h-0.8zM11.2 50.8h1v1h-1zM9.0 38.2h0.9v0.9h-0.9zM48.1 57.3h0.8v0.8h-0.8zM11.8 51.7h1v1h-1zM34.1 46.3h1.1v1.1h-1.1zM29.4 16.7h0.9v0.9h-0.9zM58.2 25.9h1.1v1.1h-1.1zM19.5 21.8h1v1h-1zM30.2 41.3h1.1v1.1h-1.1zM25.3 38.5h0.9v0.9h-0.9zM23.8 44.6h0.8v0.8h-0.8zM51.5 45.4h0.8v0.8h-0.8zM16.8 33.5h1.1v1.1h-1.1zM-0.5 34.2h1.1v1.1h-1.1zM43.7 5.1h1.3v1.3h-1.3zM63.0 14.0h1.1v1.1h-1.1zM26.6 48.2h1v1h-1zM27.6 38.9h0.9v0.9h-0.9zM18.7 37.2h1v1h-1zM77.9 17.7h1.3v1.3h-1.3zM32.5 32.1h0.8v0.8h-0.8zM72.7 31.2h1v1h-1zM63.9 56.6h0.8v0.8h-0.8zM48.4 51.4h1v1h-1zM42.5 35.2h0.8v0.8h-0.8zM30.0 58.6h1v1h-1zM-0.4 5.9h1v1h-1zM38.1 8.4h1.3v1.3h-1.3zM62.6 58.0h0.8v0.8h-0.8zM38.6 16.1h1.3v1.3h-1.3zM52.7 6.5h0.8v0.8h-0.8zM37.1 7.3h1.3v1.3h-1.3zM71.6 59.1h1.1v1.1h-1.1zM26.8 52.5h0.8v0.8h-0.8zM60.0 14.5h1.3v1.3h-1.3zM30.4 1.1h1v1h-1zM29.0 32.0h1.1v1.1h-1.1zM53.9 43.7h1.3v1.3h-1.3zM78.8 49.5h0.9v0.9h-0.9zM76.3 23.7h0.9v0.9h-0.9zM67.4 39.0h1v1h-1zM29.5 3.1h1.3v1.3h-1.3zM72.2 40.3h1.1v1.1h-1.1zM78.6 43.4h0.9v0.9h-0.9zM76.8 26.6h0.9v0.9h-0.9zM64.0 34.8h1.1v1.1h-1.1zM6.1 15.5h0.9v0.9h-0.9zM50.7 18.3h0.9v0.9h-0.9zM1.9 30.5h0.8v0.8h-0.8zM31.5 47.2h1.3v1.3h-1.3zM48.6 39.5h1.1v1.1h-1.1zM28.6 43.3h1.1v1.1h-1.1zM67.0 55.6h0.8v0.8h-0.8zM72.0 35.6h1.1v1.1h-1.1zM62.1 23.3h1.1v1.1h-1.1zM72.9 24.9h0.9v0.9h-0.9zM23.2 11.8h0.9v0.9h-0.9zM39.6 6.5h1.1v1.1h-1.1zM49.0 39.3h1v1h-1zM68.1 9.0h1v1h-1zM19.1 7.6h1.1v1.1h-1.1zM51.7 9.8h1.1v1.1h-1.1zM28.1 43.8h0.9v0.9h-0.9zM9.7 34.2h0.9v0.9h-0.9zM44.7 3.5h1v1h-1zM70.2 28.2h0.9v0.9h-0.9zM23.2 46.9h0.8v0.8h-0.8zM28.1 33.9h0.8v0.8h-0.8zM73.3 7.4h0.9v0.9h-0.9zM61.6 36.9h0.8v0.8h-0.8zM60.2 5.5h1.1v1.1h-1.1zM33.8 10.4h1.1v1.1h-1.1zM10.6 20.5h1v1h-1zM30.4 11.7h0.9v0.9h-0.9zM24.0 23.6h1v1h-1zM13.3 5.8h1.1v1.1h-1.1zM60.0 18.8h1v1h-1zM55.6 31.6h0.9v0.9h-0.9zM-0.1 48.7h1.1v1.1h-1.1zM50.0 48.5h0.9v0.9h-0.9zM22.0 30.8h1.3v1.3h-1.3zM31.8 27.7h0.9v0.9h-0.9zM46.1 24.2h1v1h-1z" fill="#d8d9dc" filter="url(#bl4)"/>
</svg>
<rect x="412.6" y="135.1" width="79.6" height="59.4" fill="#eaecf0"/>
<svg x="412.6" y="135.1" width="79.6" height="59.4" overflow="hidden">
<circle cx="3.3" cy="5.0" r="5.5" fill="#d8b090" opacity="0.35" filter="url(#bl3)"/>
<circle cx="6.7" cy="18.5" r="5.5" fill="#d8b090" opacity="0.35" filter="url(#bl3)"/>
<circle cx="20.1" cy="26.9" r="5.5" fill="#d8b090" opacity="0.35" filter="url(#bl3)"/>
<circle cx="37.0" cy="28.6" r="5.5" fill="#d8b090" opacity="0.35" filter="url(#bl3)"/>
<circle cx="31.9" cy="16.8" r="5.5" fill="#d8b090" opacity="0.35" filter="url(#bl3)"/>
<circle cx="53.8" cy="5.0" r="5.5" fill="#d8b090" opacity="0.35" filter="url(#bl3)"/>
<circle cx="67.3" cy="8.4" r="5.5" fill="#d8b090" opacity="0.35" filter="url(#bl3)"/>
<circle cx="69.0" cy="26.9" r="5.5" fill="#d8b090" opacity="0.35" filter="url(#bl3)"/>
<circle cx="10.0" cy="45.4" r="5.5" fill="#d8b090" opacity="0.35" filter="url(#bl3)"/>
<circle cx="28.6" cy="45.4" r="5.5" fill="#d8b090" opacity="0.35" filter="url(#bl3)"/>
<circle cx="47.1" cy="38.7" r="5.5" fill="#d8b090" opacity="0.35" filter="url(#bl3)"/>
<circle cx="70.7" cy="42.0" r="5.5" fill="#d8b090" opacity="0.35" filter="url(#bl3)"/>
<circle cx="5.0" cy="55.5" r="5.5" fill="#d8b090" opacity="0.35" filter="url(#bl3)"/>
<circle cx="40.4" cy="53.8" r="5.5" fill="#d8b090" opacity="0.35" filter="url(#bl3)"/>
<circle cx="17.4" cy="9.9" r="5.5" fill="#d8b090" opacity="0.35" filter="url(#bl3)"/>
<circle cx="57.4" cy="19.9" r="5.5" fill="#d8b090" opacity="0.35" filter="url(#bl3)"/>
<circle cx="75.4" cy="52.9" r="5.5" fill="#d8b090" opacity="0.35" filter="url(#bl3)"/>
<circle cx="17.4" cy="46.9" r="12" fill="#e0c0a0" opacity="0.35" filter="url(#bl3)"/>
<circle cx="47.4" cy="14.9" r="10" fill="#e0c0a0" opacity="0.2" filter="url(#bl3)"/>
<path d="M47.8 35.7h1.1v1.1h-1.1zM42.9 25.9h0.8v0.8h-0.8zM52.1 55.8h1.3v1.3h-1.3zM79.4 5.4h1v1h-1zM19.1 0.4h0.8v0.8h-0.8zM63.0 14.0h1v1h-1zM76.3 39.5h0.9v0.9h-0.9zM50.7 11.8h1.1v1.1h-1.1zM8.3 21.6h1v1h-1zM30.8 6.4h1.3v1.3h-1.3zM79.4 7.8h0.8v0.8h-0.8zM72.5 40.2h0.9v0.9h-0.9zM47.9 53.7h1.1v1.1h-1.1zM45.8 28.6h1.3v1.3h-1.3zM53.7 28.1h1.1v1.1h-1.1zM72.0 31.2h1.3v1.3h-1.3zM11.6 16.1h1v1h-1zM1.7 50.3h1v1h-1zM51.7 22.7h1.3v1.3h-1.3zM50.0 22.6h1.3v1.3h-1.3zM17.7 15.8h1.1v1.1h-1.1zM77.0 5.3h1.1v1.1h-1.1zM15.3 29.1h1v1h-1zM51.2 35.9h0.8v0.8h-0.8zM69.2 31.9h1.3v1.3h-1.3zM12.7 22.3h1.1v1.1h-1.1zM19.4 39.4h0.9v0.9h-0.9zM44.0 7.4h0.8v0.8h-0.8zM32.9 7.3h0.8v0.8h-0.8zM42.5 43.5h0.9v0.9h-0.9zM47.2 1.3h0.9v0.9h-0.9zM50.2 31.9h1.1v1.1h-1.1zM57.7 34.8h1.1v1.1h-1.1zM60.9 38.5h1v1h-1zM69.1 31.3h0.8v0.8h-0.8zM62.6 0.8h1v1h-1zM50.0 26.0h1.1v1.1h-1.1zM76.5 16.2h1.3v1.3h-1.3zM1.4 1.5h1v1h-1zM50.7 31.7h1.1v1.1h-1.1zM63.9 53.1h0.8v0.8h-0.8zM48.1 25.3h0.9v0.9h-0.9zM53.3 16.8h0.9v0.9h-0.9zM7.9 35.1h1.3v1.3h-1.3zM58.3 2.2h1.3v1.3h-1.3zM72.1 13.9h1.1v1.1h-1.1zM22.2 55.5h1.3v1.3h-1.3zM72.6 32.6h0.9v0.9h-0.9zM31.9 29.1h1.1v1.1h-1.1zM53.0 39.3h0.9v0.9h-0.9zM41.5 28.0h1.1v1.1h-1.1zM28.2 21.5h1.3v1.3h-1.3zM53.6 42.9h1.1v1.1h-1.1zM48.6 46.8h0.9v0.9h-0.9zM-0.9 4.1h0.9v0.9h-0.9zM23.6 33.5h0.8v0.8h-0.8zM22.1 0.6h0.8v0.8h-0.8zM67.5 8.4h1v1h-1zM57.0 51.0h1.1v1.1h-1.1zM4.1 36.8h0.8v0.8h-0.8zM73.6 38.5h1.3v1.3h-1.3zM42.3 17.9h1.1v1.1h-1.1zM53.3 26.5h1v1h-1zM43.7 19.4h0.9v0.9h-0.9zM76.4 55.3h1.1v1.1h-1.1zM-0.4 24.5h0.9v0.9h-0.9zM41.5 33.7h1.3v1.3h-1.3zM78.3 25.2h1.3v1.3h-1.3zM71.4 32.0h1.1v1.1h-1.1zM57.0 -0.3h1.1v1.1h-1.1zM67.3 45.5h0.9v0.9h-0.9zM42.8 1.0h1.3v1.3h-1.3zM49.3 48.1h1.3v1.3h-1.3zM50.1 33.4h1v1h-1zM79.3 24.7h1.3v1.3h-1.3zM29.3 28.0h1.1v1.1h-1.1zM18.9 14.6h0.8v0.8h-0.8zM60.2 11.5h0.8v0.8h-0.8zM12.9 54.0h0.8v0.8h-0.8zM58.3 4.2h0.8v0.8h-0.8zM53.2 13.5h0.9v0.9h-0.9zM64.2 23.6h1.3v1.3h-1.3zM78.5 44.6h0.9v0.9h-0.9zM55.9 1.6h1v1h-1zM55.9 59.0h0.8v0.8h-0.8zM59.4 26.3h0.8v0.8h-0.8zM77.7 35.0h1.3v1.3h-1.3zM48.4 51.7h1v1h-1zM70.5 11.2h0.9v0.9h-0.9zM20.4 14.1h1.3v1.3h-1.3zM51.8 44.9h1.3v1.3h-1.3zM50.0 45.8h1.1v1.1h-1.1zM47.5 13.3h1.3v1.3h-1.3zM55.0 48.5h1.3v1.3h-1.3zM77.0 4.7h1.1v1.1h-1.1zM1.2 31.9h0.9v0.9h-0.9zM42.9 26.9h0.8v0.8h-0.8zM61.3 5.2h0.9v0.9h-0.9zM8.3 1.4h1.3v1.3h-1.3zM41.2 16.2h0.9v0.9h-0.9zM23.4 28.5h1.3v1.3h-1.3zM6.4 36.1h1.3v1.3h-1.3zM11.9 0.9h1v1h-1zM14.0 56.3h1v1h-1zM73.3 17.5h0.8v0.8h-0.8zM24.5 1.2h0.8v0.8h-0.8zM-0.1 26.2h0.9v0.9h-0.9zM66.8 16.4h0.9v0.9h-0.9zM38.5 14.1h0.8v0.8h-0.8zM22.9 47.0h1.3v1.3h-1.3zM52.1 3.7h1v1h-1zM59.5 57.8h1v1h-1zM49.4 27.6h1.3v1.3h-1.3zM15.6 52.2h1.1v1.1h-1.1zM60.9 22.4h1v1h-1zM50.9 28.9h0.9v0.9h-0.9zM33.9 27.4h0.8v0.8h-0.8zM61.1 26.2h1.3v1.3h-1.3zM69.2 58.2h0.9v0.9h-0.9zM5.8 27.6h1.1v1.1h-1.1zM15.0 16.4h1v1h-1zM34.5 46.7h0.8v0.8h-0.8zM47.0 17.6h1.3v1.3h-1.3zM41.1 49.3h1v1h-1zM11.1 19.1h0.8v0.8h-0.8zM56.1 25.5h1.1v1.1h-1.1zM9.1 30.4h1v1h-1zM33.2 8.3h1.1v1.1h-1.1zM72.1 33.8h1.1v1.1h-1.1zM51.6 48.1h0.8v0.8h-0.8zM38.6 34.4h1v1h-1zM24.6 46.7h1.1v1.1h-1.1zM0.4 14.0h0.9v0.9h-0.9zM9.7 51.3h0.8v0.8h-0.8zM27.4 48.4h1v1h-1zM28.6 24.0h0.8v0.8h-0.8zM78.8 -0.1h1.1v1.1h-1.1zM66.5 7.8h1.1v1.1h-1.1zM15.2 18.6h0.9v0.9h-0.9zM41.8 47.9h0.8v0.8h-0.8zM37.1 5.1h0.8v0.8h-0.8zM71.4 9.8h1v1h-1zM45.5 26.9h1.3v1.3h-1.3zM40.2 19.8h0.8v0.8h-0.8zM16.4 53.5h1.1v1.1h-1.1zM19.6 3.8h0.9v0.9h-0.9zM39.5 15.5h1v1h-1zM78.6 4.8h1.1v1.1h-1.1zM42.6 49.5h1.1v1.1h-1.1zM11.9 29.5h0.9v0.9h-0.9zM3.0 38.9h0.8v0.8h-0.8zM33.0 5.9h0.8v0.8h-0.8zM64.1 25.3h0.8v0.8h-0.8zM71.2 36.5h1.1v1.1h-1.1zM47.5 46.2h0.8v0.8h-0.8zM72.1 -0.1h1.3v1.3h-1.3zM17.3 22.5h0.9v0.9h-0.9zM59.8 6.9h0.9v0.9h-0.9zM64.8 22.3h1v1h-1zM-0.4 19.6h0.8v0.8h-0.8zM26.6 11.1h1.1v1.1h-1.1zM43.0 0.9h1v1h-1zM53.4 28.9h0.9v0.9h-0.9zM0.4 25.4h1v1h-1zM35.9 21.5h1v1h-1zM15.0 42.5h1.1v1.1h-1.1zM48.6 47.3h0.8v0.8h-0.8zM75.4 15.5h0.9v0.9h-0.9zM63.7 4.7h0.9v0.9h-0.9zM77.6 19.5h1v1h-1zM62.7 27.2h1.1v1.1h-1.1zM33.6 26.7h1v1h-1zM42.1 42.2h0.9v0.9h-0.9zM25.7 20.6h1.1v1.1h-1.1zM26.2 34.4h0.8v0.8h-0.8zM13.3 12.1h1v1h-1zM3.1 40.4h1v1h-1zM32.3 10.0h0.9v0.9h-0.9zM70.2 28.7h1v1h-1zM62.2 36.6h0.8v0.8h-0.8zM74.9 4.1h1.1v1.1h-1.1zM50.4 25.9h0.8v0.8h-0.8zM4.6 33.5h0.8v0.8h-0.8zM22.1 41.2h1v1h-1zM59.6 24.9h0.8v0.8h-0.8zM12.5 49.7h0.9v0.9h-0.9zM21.7 44.8h1v1h-1zM55.2 1.6h0.9v0.9h-0.9zM75.6 47.6h1.3v1.3h-1.3zM10.1 50.2h1.1v1.1h-1.1zM50.1 9.5h1v1h-1zM77.8 9.3h1.1v1.1h-1.1zM22.6 16.1h1.1v1.1h-1.1zM51.0 16.5h0.8v0.8h-0.8zM26.8 20.0h0.9v0.9h-0.9zM7.9 48.6h1v1h-1zM16.2 3.1h1v1h-1zM39.3 16.5h0.9v0.9h-0.9zM51.6 17.4h0.8v0.8h-0.8zM23.7 54.2h1.1v1.1h-1.1zM31.3 33.4h1.3v1.3h-1.3zM76.0 29.3h1.3v1.3h-1.3zM78.1 42.5h0.8v0.8h-0.8zM60.2 15.9h1.3v1.3h-1.3zM27.1 59.4h0.9v0.9h-0.9zM27.3 23.1h0.9v0.9h-0.9zM60.7 16.0h1v1h-1zM4.4 4.3h0.9v0.9h-0.9zM73.3 2.5h1v1h-1zM48.5 17.9h1.1v1.1h-1.1zM34.1 34.9h1.3v1.3h-1.3zM13.3 23.0h1.3v1.3h-1.3zM37.2 23.7h0.8v0.8h-0.8zM24.2 10.9h0.8v0.8h-0.8zM9.4 49.7h0.8v0.8h-0.8zM32.0 7.2h1v1h-1zM42.6 35.2h1.3v1.3h-1.3zM48.4 44.3h1v1h-1zM65.2 24.2h1v1h-1zM34.0 37.3h0.8v0.8h-0.8zM59.9 31.5h0.8v0.8h-0.8zM36.4 2.7h1.3v1.3h-1.3zM14.6 29.4h1v1h-1zM33.6 0.2h0.8v0.8h-0.8zM41.0 9.6h0.8v0.8h-0.8zM40.7 16.2h0.9v0.9h-0.9zM19.0 18.4h1.1v1.1h-1.1zM50.4 10.0h0.8v0.8h-0.8zM51.4 43.4h1v1h-1zM52.9 46.8h0.9v0.9h-0.9zM25.2 33.7h1.3v1.3h-1.3zM25.0 55.1h1.3v1.3h-1.3zM60.2 23.8h1.1v1.1h-1.1zM65.7 0.7h1.1v1.1h-1.1zM52.4 46.0h1.1v1.1h-1.1zM58.4 42.9h0.8v0.8h-0.8zM24.3 58.9h0.9v0.9h-0.9zM24.0 47.0h1v1h-1zM19.2 15.0h1.1v1.1h-1.1zM53.7 17.8h0.8v0.8h-0.8zM73.5 35.6h1.3v1.3h-1.3zM37.3 38.1h0.9v0.9h-0.9zM25.1 1.7h1v1h-1zM63.8 50.9h1.3v1.3h-1.3zM10.1 54.4h1.1v1.1h-1.1zM77.5 7.6h0.8v0.8h-0.8zM29.7 21.5h1.1v1.1h-1.1zM3.0 1.8h1v1h-1zM-0.8 47.1h0.8v0.8h-0.8zM42.0 10.6h1v1h-1zM56.3 53.6h1.1v1.1h-1.1zM9.6 41.6h0.9v0.9h-0.9zM28.5 13.3h0.9v0.9h-0.9zM29.7 17.9h1.3v1.3h-1.3zM7.1 32.2h0.9v0.9h-0.9zM73.7 31.6h0.8v0.8h-0.8zM66.6 23.0h1.1v1.1h-1.1zM1.7 37.2h1.1v1.1h-1.1zM42.2 47.1h0.8v0.8h-0.8zM71.5 45.6h1.1v1.1h-1.1zM77.9 20.6h1.3v1.3h-1.3zM14.8 4.8h1.3v1.3h-1.3zM44.2 33.9h1.1v1.1h-1.1zM14.4 51.2h0.8v0.8h-0.8zM43.1 39.8h1v1h-1zM4.0 3.7h1v1h-1zM54.4 22.0h1v1h-1zM53.3 48.6h1.1v1.1h-1.1zM6.5 43.4h1.3v1.3h-1.3zM47.6 19.8h0.8v0.8h-0.8zM12.6 37.2h0.9v0.9h-0.9zM30.4 35.0h0.8v0.8h-0.8zM74.7 30.3h1.1v1.1h-1.1zM36.6 15.7h0.9v0.9h-0.9zM35.7 41.5h1.1v1.1h-1.1zM12.0 25.2h0.8v0.8h-0.8zM20.3 40.5h1.3v1.3h-1.3zM8.8 12.1h0.8v0.8h-0.8zM25.7 55.5h0.8v0.8h-0.8zM17.6 49.8h1.3v1.3h-1.3zM31.9 24.9h1.3v1.3h-1.3zM78.2 8.8h1.3v1.3h-1.3zM66.1 9.4h1.1v1.1h-1.1zM22.4 39.2h1.3v1.3h-1.3zM75.4 59.0h1.3v1.3h-1.3zM68.1 36.8h1.3v1.3h-1.3zM72.0 8.0h0.9v0.9h-0.9zM2.6 43.2h0.9v0.9h-0.9zM60.3 49.5h0.9v0.9h-0.9zM74.8 47.2h1.1v1.1h-1.1zM62.4 2.1h0.8v0.8h-0.8zM60.2 -0.2h1v1h-1zM60.7 45.7h0.8v0.8h-0.8zM56.1 50.4h0.9v0.9h-0.9zM73.9 23.5h1.1v1.1h-1.1zM51.2 40.5h1.1v1.1h-1.1zM42.5 28.8h1.1v1.1h-1.1zM9.1 32.5h1.3v1.3h-1.3zM62.9 47.5h0.9v0.9h-0.9zM59.4 48.1h1.3v1.3h-1.3zM36.7 41.1h1.1v1.1h-1.1zM26.5 13.4h1.3v1.3h-1.3zM6.9 1.8h1.3v1.3h-1.3zM41.9 7.1h0.9v0.9h-0.9zM59.2 1.7h0.8v0.8h-0.8zM18.4 26.2h1v1h-1zM53.4 -0.9h1.1v1.1h-1.1zM77.5 35.2h1.1v1.1h-1.1zM12.3 15.4h1.3v1.3h-1.3zM55.4 42.6h1v1h-1zM63.0 9.0h1.1v1.1h-1.1zM3.3 9.9h1.1v1.1h-1.1zM66.3 33.3h0.9v0.9h-0.9zM15.7 25.5h1.3v1.3h-1.3zM14.8 22.2h1.3v1.3h-1.3zM36.2 34.5h0.8v0.8h-0.8zM72.6 39.3h0.9v0.9h-0.9zM25.6 1.7h0.9v0.9h-0.9zM57.6 0.5h1v1h-1zM4.6 43.5h1.3v1.3h-1.3zM73.1 58.9h0.9v0.9h-0.9zM47.7 46.5h1v1h-1zM68.8 7.5h0.9v0.9h-0.9zM56.7 32.6h1.3v1.3h-1.3zM34.7 6.7h0.8v0.8h-0.8zM50.3 21.3h0.9v0.9h-0.9zM44.4 32.2h1v1h-1zM70.6 57.2h1v1h-1zM36.3 52.1h1v1h-1zM10.5 32.6h1.3v1.3h-1.3zM8.1 10.4h1.3v1.3h-1.3zM57.6 9.1h0.8v0.8h-0.8zM63.4 47.4h1.3v1.3h-1.3zM15.6 55.4h1.3v1.3h-1.3zM64.1 15.1h1.3v1.3h-1.3zM53.7 11.7h1.1v1.1h-1.1zM49.2 12.3h0.8v0.8h-0.8zM35.9 54.3h0.9v0.9h-0.9zM55.8 17.0h1v1h-1zM49.5 14.9h1.1v1.1h-1.1zM33.9 48.5h0.8v0.8h-0.8zM57.5 58.4h0.9v0.9h-0.9zM2.9 21.3h1.3v1.3h-1.3zM34.5 22.4h1.3v1.3h-1.3zM48.2 20.8h0.9v0.9h-0.9zM10.7 16.8h0.9v0.9h-0.9zM61.5 12.2h1.1v1.1h-1.1zM23.6 52.9h1.3v1.3h-1.3zM79.6 6.4h0.9v0.9h-0.9zM72.5 20.1h1.1v1.1h-1.1zM-0.7 45.1h0.8v0.8h-0.8zM10.0 7.5h1v1h-1zM40.7 19.7h0.9v0.9h-0.9zM41.8 37.1h1.1v1.1h-1.1zM75.4 18.4h0.9v0.9h-0.9zM70.4 1.1h0.9v0.9h-0.9zM34.7 49.6h1v1h-1zM23.6 34.0h0.8v0.8h-0.8zM27.9 28.4h1.1v1.1h-1.1zM4.3 43.1h0.9v0.9h-0.9zM4.3 39.1h0.9v0.9h-0.9zM2.5 32.4h1v1h-1zM66.2 34.8h1.3v1.3h-1.3zM13.8 53.7h0.8v0.8h-0.8zM28.8 4.2h0.9v0.9h-0.9zM11.0 50.9h0.8v0.8h-0.8zM26.7 6.2h0.9v0.9h-0.9zM41.3 37.3h1.3v1.3h-1.3zM58.9 53.0h1v1h-1zM68.1 7.6h1.1v1.1h-1.1zM77.7 24.5h0.8v0.8h-0.8zM55.6 13.7h0.9v0.9h-0.9zM7.7 32.0h0.8v0.8h-0.8zM48.4 18.4h1.3v1.3h-1.3zM46.2 31.9h1.3v1.3h-1.3zM17.6 12.3h1.3v1.3h-1.3zM76.9 17.8h0.8v0.8h-0.8zM29.0 28.6h1v1h-1zM25.9 7.4h1v1h-1zM42.3 22.6h0.8v0.8h-0.8zM41.2 47.2h1.1v1.1h-1.1zM54.2 39.7h1.3v1.3h-1.3zM37.6 34.9h1.1v1.1h-1.1zM42.8 14.9h0.8v0.8h-0.8zM72.1 11.6h0.8v0.8h-0.8zM68.1 33.8h1v1h-1zM2.6 25.3h1.1v1.1h-1.1zM52.5 17.5h1v1h-1zM73.6 20.6h1.1v1.1h-1.1zM69.8 37.4h1v1h-1zM3.3 29.7h1v1h-1zM40.0 2.7h1.3v1.3h-1.3zM6.4 31.8h1.1v1.1h-1.1zM1.9 18.9h1.3v1.3h-1.3zM19.2 7.0h1.3v1.3h-1.3zM33.4 6.6h1.1v1.1h-1.1zM77.3 23.3h0.8v0.8h-0.8zM60.3 44.9h1v1h-1zM42.2 40.1h1.1v1.1h-1.1zM20.6 33.1h1.1v1.1h-1.1zM69.7 47.7h1v1h-1zM14.0 27.5h1.1v1.1h-1.1zM13.7 25.0h1.3v1.3h-1.3zM10.6 1.5h0.8v0.8h-0.8zM21.0 5.5h0.9v0.9h-0.9zM1.5 54.9h1.3v1.3h-1.3zM66.3 53.7h0.9v0.9h-0.9zM58.6 12.7h1v1h-1zM76.7 39.8h1.3v1.3h-1.3zM61.1 52.3h1.1v1.1h-1.1zM-0.5 50.6h1.1v1.1h-1.1zM58.9 13.5h1.3v1.3h-1.3zM35.4 52.9h1v1h-1zM44.0 52.0h0.8v0.8h-0.8zM1.4 47.5h1.1v1.1h-1.1zM28.4 51.5h1.1v1.1h-1.1zM42.8 23.7h1.1v1.1h-1.1zM49.5 22.1h1v1h-1zM57.4 47.8h1v1h-1zM20.8 2.7h0.8v0.8h-0.8zM20.0 9.1h0.8v0.8h-0.8zM13.4 35.1h0.8v0.8h-0.8zM23.8 32.2h0.8v0.8h-0.8zM2.7 25.0h1v1h-1zM45.2 14.9h0.9v0.9h-0.9zM0.1 44.2h1.3v1.3h-1.3zM54.2 39.6h1.1v1.1h-1.1zM54.2 50.1h1.3v1.3h-1.3zM72.4 25.4h1.3v1.3h-1.3zM26.4 37.3h0.8v0.8h-0.8zM21.2 30.7h0.9v0.9h-0.9zM75.9 22.1h0.8v0.8h-0.8zM56.4 27.5h1v1h-1zM56.2 27.6h1.3v1.3h-1.3zM78.9 47.8h1.3v1.3h-1.3zM77.7 31.3h1.3v1.3h-1.3zM47.0 -0.5h1.1v1.1h-1.1zM58.7 11.9h0.8v0.8h-0.8zM71.2 6.4h0.9v0.9h-0.9zM6.3 47.1h1.3v1.3h-1.3zM35.7 14.8h0.9v0.9h-0.9zM19.6 21.3h1.1v1.1h-1.1zM76.2 30.5h1.3v1.3h-1.3zM42.4 46.2h1.3v1.3h-1.3zM21.5 57.1h0.9v0.9h-0.9zM51.3 34.0h0.9v0.9h-0.9zM65.7 35.1h0.8v0.8h-0.8zM75.6 12.7h0.9v0.9h-0.9zM58.5 33.3h1v1h-1zM5.5 6.7h1.3v1.3h-1.3zM65.4 26.3h1v1h-1zM6.4 43.4h1.1v1.1h-1.1zM64.4 33.4h0.9v0.9h-0.9zM50.1 54.2h1.1v1.1h-1.1zM5.4 47.3h1v1h-1zM35.3 1.9h1v1h-1zM4.7 29.6h1v1h-1zM68.5 23.5h1.1v1.1h-1.1zM55.3 50.7h1.3v1.3h-1.3zM37.0 20.2h1.3v1.3h-1.3zM76.3 9.2h1.1v1.1h-1.1zM66.4 52.3h1.3v1.3h-1.3zM-0.5 9.0h0.8v0.8h-0.8zM54.1 43.8h1v1h-1zM1.6 25.8h1.1v1.1h-1.1zM33.5 27.6h1.1v1.1h-1.1zM76.2 10.4h1.1v1.1h-1.1zM25.6 58.3h0.9v0.9h-0.9zM39.3 16.9h1v1h-1zM31.3 32.7h1v1h-1zM39.5 24.1h1v1h-1zM51.6 51.3h1.3v1.3h-1.3zM25.0 0.1h0.9v0.9h-0.9zM8.6 41.8h0.9v0.9h-0.9zM43.8 9.9h0.8v0.8h-0.8zM39.7 22.2h1v1h-1zM10.9 36.6h1v1h-1zM74.6 15.4h0.9v0.9h-0.9zM43.8 23.1h0.8v0.8h-0.8zM31.1 8.8h1.1v1.1h-1.1zM13.3 56.3h1.3v1.3h-1.3zM7.5 23.6h1.3v1.3h-1.3zM14.2 49.9h1.3v1.3h-1.3zM61.2 10.5h1v1h-1zM63.8 46.3h1.1v1.1h-1.1zM60.4 12.4h1v1h-1zM76.6 34.4h1.3v1.3h-1.3zM59.8 8.4h0.8v0.8h-0.8zM55.7 9.1h0.9v0.9h-0.9zM6.6 28.5h0.9v0.9h-0.9zM49.7 24.7h0.9v0.9h-0.9zM59.4 56.1h1.1v1.1h-1.1zM19.1 5.6h0.8v0.8h-0.8zM61.9 19.9h1.3v1.3h-1.3zM61.3 50.9h1.1v1.1h-1.1zM38.5 45.7h0.9v0.9h-0.9zM47.5 19.2h1.3v1.3h-1.3zM78.4 0.6h0.9v0.9h-0.9zM11.2 48.9h0.9v0.9h-0.9zM47.2 55.7h1v1h-1zM38.9 1.8h1.3v1.3h-1.3zM41.2 25.4h1.1v1.1h-1.1zM7.6 36.0h0.9v0.9h-0.9zM5.4 38.6h1.1v1.1h-1.1zM0.0 42.2h0.8v0.8h-0.8zM57.2 27.1h1.3v1.3h-1.3zM75.1 28.6h1v1h-1zM36.4 34.6h0.9v0.9h-0.9zM67.6 5.2h0.9v0.9h-0.9zM44.2 43.8h1.1v1.1h-1.1zM37.3 12.9h0.8v0.8h-0.8zM60.9 33.1h0.8v0.8h-0.8zM75.0 11.0h0.9v0.9h-0.9zM71.9 29.9h0.8v0.8h-0.8zM33.2 32.2h1v1h-1zM44.9 14.9h1v1h-1zM28.6 39.4h0.9v0.9h-0.9zM44.8 11.4h0.9v0.9h-0.9zM20.2 22.4h1.3v1.3h-1.3zM44.1 58.9h1.1v1.1h-1.1zM32.5 33.8h1v1h-1zM76.4 33.5h0.8v0.8h-0.8zM58.5 22.7h1.1v1.1h-1.1zM5.9 35.5h1.3v1.3h-1.3zM36.5 7.9h0.8v0.8h-0.8zM30.7 58.8h0.8v0.8h-0.8zM20.3 39.9h1.3v1.3h-1.3zM20.8 14.0h1.3v1.3h-1.3zM70.5 39.7h1.3v1.3h-1.3zM42.8 25.0h1v1h-1zM28.2 46.9h0.9v0.9h-0.9zM76.9 59.1h1v1h-1zM50.3 27.4h1.1v1.1h-1.1zM51.4 29.3h1.3v1.3h-1.3zM45.0 46.5h0.9v0.9h-0.9zM47.4 33.8h0.8v0.8h-0.8zM61.4 3.9h1.3v1.3h-1.3zM59.4 48.9h0.9v0.9h-0.9zM40.4 12.2h1.1v1.1h-1.1zM33.8 2.0h1.3v1.3h-1.3zM63.5 52.7h1.3v1.3h-1.3zM76.4 9.6h1v1h-1zM51.1 32.3h1v1h-1zM38.8 17.0h1v1h-1zM24.0 39.5h1v1h-1zM20.5 4.7h1v1h-1zM76.2 58.6h0.8v0.8h-0.8zM55.9 37.5h1.1v1.1h-1.1zM47.7 0.1h0.8v0.8h-0.8zM39.6 48.0h1.3v1.3h-1.3zM16.3 3.8h0.8v0.8h-0.8zM21.2 47.2h0.9v0.9h-0.9zM48.3 25.4h1.3v1.3h-1.3zM51.5 56.8h1.3v1.3h-1.3zM2.0 29.5h1.1v1.1h-1.1zM13.1 19.7h0.9v0.9h-0.9zM33.2 10.3h1.1v1.1h-1.1zM10.1 3.0h1.1v1.1h-1.1zM23.4 30.2h0.8v0.8h-0.8zM79.4 17.4h1.3v1.3h-1.3zM29.5 49.3h1.3v1.3h-1.3zM15.8 48.5h0.8v0.8h-0.8zM75.4 24.8h0.9v0.9h-0.9zM37.1 34.7h0.8v0.8h-0.8zM30.4 36.7h0.8v0.8h-0.8zM50.2 1.4h1v1h-1zM5.1 41.3h1v1h-1zM54.6 37.2h0.9v0.9h-0.9zM52.5 39.6h1.3v1.3h-1.3zM0.6 38.0h1v1h-1zM21.9 24.6h1.3v1.3h-1.3zM6.4 14.0h1.3v1.3h-1.3zM70.9 46.1h1.3v1.3h-1.3zM21.4 33.2h1.3v1.3h-1.3zM14.3 36.0h0.8v0.8h-0.8zM0.5 11.1h0.8v0.8h-0.8zM72.6 0.9h0.8v0.8h-0.8zM37.0 47.8h1v1h-1zM24.0 17.2h0.8v0.8h-0.8zM0.3 43.1h1v1h-1zM14.4 40.0h1.3v1.3h-1.3zM75.2 24.9h0.9v0.9h-0.9zM24.4 7.2h0.8v0.8h-0.8zM13.1 11.0h1.3v1.3h-1.3zM43.6 34.1h1.1v1.1h-1.1zM9.5 58.0h0.9v0.9h-0.9zM64.9 14.2h0.9v0.9h-0.9zM32.3 26.9h0.8v0.8h-0.8z" fill="#b2b8c4" filter="url(#bl4)"/>
<path d="M66.3 43.5h1v1h-1zM28.3 55.3h1.3v1.3h-1.3zM72.1 45.1h1v1h-1zM51.8 14.1h1.3v1.3h-1.3zM40.5 47.1h1.1v1.1h-1.1zM27.3 42.8h1.1v1.1h-1.1zM44.3 29.6h1v1h-1zM74.6 36.9h1v1h-1zM37.1 12.6h0.8v0.8h-0.8zM62.0 28.4h1v1h-1zM79.2 13.0h0.8v0.8h-0.8zM16.5 30.5h1.3v1.3h-1.3zM33.3 0.3h1.3v1.3h-1.3zM45.9 54.6h1v1h-1zM64.5 2.6h0.9v0.9h-0.9zM22.4 57.0h1v1h-1zM46.2 48.4h0.9v0.9h-0.9zM6.8 30.2h0.9v0.9h-0.9zM71.1 26.8h1v1h-1zM62.1 33.6h0.8v0.8h-0.8zM64.3 22.1h1.3v1.3h-1.3zM55.9 27.5h0.8v0.8h-0.8zM24.2 30.6h0.9v0.9h-0.9zM56.4 57.7h0.8v0.8h-0.8zM38.1 39.8h1.3v1.3h-1.3zM36.1 58.6h0.9v0.9h-0.9zM60.2 55.7h0.9v0.9h-0.9zM49.7 17.6h1.3v1.3h-1.3zM28.2 29.1h0.9v0.9h-0.9zM73.3 25.7h1v1h-1zM50.0 23.2h1v1h-1zM38.0 14.6h1.1v1.1h-1.1zM42.6 27.3h1v1h-1zM18.9 13.5h1v1h-1zM17.4 2.3h1.3v1.3h-1.3zM40.1 39.1h1.1v1.1h-1.1zM54.0 51.9h0.8v0.8h-0.8zM37.1 16.2h0.9v0.9h-0.9zM47.5 44.4h1.3v1.3h-1.3zM49.7 57.2h1v1h-1zM75.1 -0.0h1.3v1.3h-1.3zM61.2 40.9h1.1v1.1h-1.1zM23.9 9.3h0.9v0.9h-0.9zM42.0 46.9h0.8v0.8h-0.8zM9.6 8.1h0.8v0.8h-0.8zM7.1 29.8h1.3v1.3h-1.3zM4.7 26.8h0.8v0.8h-0.8zM18.4 1.9h0.8v0.8h-0.8zM56.0 1.0h1.1v1.1h-1.1zM47.8 5.5h1v1h-1zM2.6 25.2h1.3v1.3h-1.3zM12.1 34.9h0.9v0.9h-0.9zM44.9 14.1h0.9v0.9h-0.9zM8.4 35.1h0.8v0.8h-0.8zM20.3 17.9h1v1h-1zM35.7 5.9h1v1h-1zM70.3 35.4h1.1v1.1h-1.1zM15.4 43.7h1v1h-1zM61.9 22.6h1.1v1.1h-1.1zM60.5 4.2h0.9v0.9h-0.9zM76.2 9.6h0.8v0.8h-0.8zM32.6 6.6h0.9v0.9h-0.9zM24.0 45.0h0.9v0.9h-0.9zM78.1 39.9h1v1h-1zM11.2 5.3h1.1v1.1h-1.1zM34.0 10.6h0.9v0.9h-0.9zM-0.4 55.0h0.8v0.8h-0.8zM30.4 48.1h1.1v1.1h-1.1zM39.5 14.4h0.9v0.9h-0.9zM3.5 28.6h0.8v0.8h-0.8zM77.5 25.8h0.8v0.8h-0.8zM54.6 28.0h0.8v0.8h-0.8zM52.0 9.5h0.8v0.8h-0.8zM77.0 34.1h0.9v0.9h-0.9zM77.7 38.4h1.1v1.1h-1.1zM38.6 10.3h0.8v0.8h-0.8zM74.9 5.3h0.9v0.9h-0.9zM71.4 15.9h0.8v0.8h-0.8zM61.3 47.7h0.9v0.9h-0.9zM52.8 53.7h1.1v1.1h-1.1zM76.4 4.1h1.1v1.1h-1.1zM79.0 15.5h1.1v1.1h-1.1zM16.7 59.1h1.1v1.1h-1.1zM77.0 15.2h1.1v1.1h-1.1zM32.7 13.8h0.8v0.8h-0.8zM65.1 55.7h1.3v1.3h-1.3zM48.3 35.7h1v1h-1zM14.4 2.7h1.1v1.1h-1.1zM47.8 41.6h0.8v0.8h-0.8zM24.9 31.0h1v1h-1zM26.6 42.5h0.9v0.9h-0.9zM58.5 54.6h1.1v1.1h-1.1zM1.3 59.0h0.9v0.9h-0.9zM25.2 45.2h1.1v1.1h-1.1zM5.5 24.0h1.1v1.1h-1.1zM64.2 15.2h0.8v0.8h-0.8zM32.2 6.2h0.9v0.9h-0.9zM78.3 57.3h1.1v1.1h-1.1zM50.6 26.9h1.3v1.3h-1.3zM15.8 27.7h0.8v0.8h-0.8zM17.5 17.2h1.1v1.1h-1.1zM34.9 52.3h0.9v0.9h-0.9zM73.1 13.0h1v1h-1zM34.8 53.3h0.8v0.8h-0.8zM63.6 39.9h1.3v1.3h-1.3zM15.1 -0.3h0.9v0.9h-0.9zM30.9 35.2h1v1h-1zM60.9 54.4h0.9v0.9h-0.9zM17.0 17.4h0.8v0.8h-0.8zM16.4 40.7h0.9v0.9h-0.9zM65.8 13.7h1v1h-1zM73.9 55.8h1.3v1.3h-1.3zM29.0 41.4h0.8v0.8h-0.8zM57.9 44.8h0.8v0.8h-0.8zM42.1 8.3h1.3v1.3h-1.3zM22.9 54.7h0.8v0.8h-0.8zM63.0 13.7h1.3v1.3h-1.3zM78.0 37.0h1v1h-1zM69.0 55.9h0.8v0.8h-0.8zM46.7 49.1h0.9v0.9h-0.9zM26.9 39.7h0.8v0.8h-0.8zM61.5 57.4h0.8v0.8h-0.8zM45.7 8.7h1v1h-1zM7.5 32.5h0.8v0.8h-0.8zM58.2 54.0h1.1v1.1h-1.1zM32.5 27.8h0.8v0.8h-0.8zM10.0 30.2h1v1h-1zM12.8 51.6h1.1v1.1h-1.1zM3.9 48.4h1.3v1.3h-1.3zM55.7 56.8h1.3v1.3h-1.3zM46.7 18.3h1v1h-1zM41.3 10.8h0.9v0.9h-0.9zM74.5 10.4h1.3v1.3h-1.3zM68.6 0.6h1.1v1.1h-1.1zM66.0 38.7h0.9v0.9h-0.9zM72.1 34.6h1.1v1.1h-1.1zM49.5 6.2h0.9v0.9h-0.9zM57.4 43.2h0.8v0.8h-0.8zM12.0 20.0h1.1v1.1h-1.1zM61.7 10.2h1.1v1.1h-1.1zM26.9 54.0h0.9v0.9h-0.9zM37.3 30.7h0.9v0.9h-0.9zM21.1 11.4h1.3v1.3h-1.3zM78.1 42.1h1v1h-1zM25.9 57.2h0.9v0.9h-0.9zM67.0 13.4h1.3v1.3h-1.3zM39.0 47.0h1.1v1.1h-1.1zM59.8 58.7h1.3v1.3h-1.3zM69.8 1.9h1.3v1.3h-1.3zM18.7 2.0h1.1v1.1h-1.1zM44.0 19.1h1.3v1.3h-1.3zM63.7 -0.4h0.9v0.9h-0.9zM28.8 22.2h1.3v1.3h-1.3zM53.1 37.5h1v1h-1zM5.0 6.5h1.1v1.1h-1.1zM34.5 50.4h1.1v1.1h-1.1zM39.0 13.8h1.3v1.3h-1.3zM66.2 31.1h1.1v1.1h-1.1zM75.4 20.9h1.1v1.1h-1.1zM16.5 55.4h0.9v0.9h-0.9zM65.4 53.3h1.3v1.3h-1.3zM62.3 36.7h0.9v0.9h-0.9zM36.1 37.6h1.3v1.3h-1.3zM32.0 51.2h1.3v1.3h-1.3zM21.8 1.1h0.9v0.9h-0.9zM30.7 57.4h0.8v0.8h-0.8zM19.4 58.7h0.8v0.8h-0.8zM7.0 24.3h0.9v0.9h-0.9zM57.4 19.9h0.8v0.8h-0.8zM1.5 4.9h1.1v1.1h-1.1zM41.7 34.0h0.8v0.8h-0.8zM48.8 13.6h1v1h-1zM42.5 8.3h1v1h-1zM23.0 48.8h0.8v0.8h-0.8zM69.4 50.4h1.3v1.3h-1.3zM62.7 28.8h1.3v1.3h-1.3zM17.8 18.3h1.3v1.3h-1.3zM43.7 17.8h1.1v1.1h-1.1zM40.1 47.9h1.3v1.3h-1.3zM34.4 3.8h1.3v1.3h-1.3zM14.5 14.5h0.8v0.8h-0.8zM55.7 31.4h0.8v0.8h-0.8zM0.2 12.2h0.8v0.8h-0.8zM37.2 42.8h1.1v1.1h-1.1zM28.5 -0.6h1.3v1.3h-1.3zM35.9 22.0h1v1h-1zM61.6 5.3h0.8v0.8h-0.8zM72.9 37.4h0.8v0.8h-0.8zM-0.1 10.3h0.8v0.8h-0.8zM3.3 39.2h1v1h-1zM46.2 17.4h1.3v1.3h-1.3zM48.5 8.2h0.9v0.9h-0.9zM8.3 7.5h1.3v1.3h-1.3zM30.6 2.5h1.1v1.1h-1.1zM5.2 27.9h1.3v1.3h-1.3zM50.5 47.7h1v1h-1zM26.0 11.8h1.1v1.1h-1.1zM78.9 42.6h0.8v0.8h-0.8zM60.5 40.3h1.1v1.1h-1.1zM78.1 22.3h1.3v1.3h-1.3zM38.2 43.1h0.8v0.8h-0.8zM72.6 5.1h0.9v0.9h-0.9zM41.8 12.6h1v1h-1zM76.4 4.4h1v1h-1zM26.0 1.7h0.9v0.9h-0.9zM52.1 24.7h0.8v0.8h-0.8zM67.2 54.3h1v1h-1zM0.3 14.3h1.3v1.3h-1.3zM56.5 13.3h0.8v0.8h-0.8zM24.6 27.4h0.8v0.8h-0.8zM65.8 17.2h0.8v0.8h-0.8zM54.0 13.8h0.8v0.8h-0.8zM53.1 26.0h1.1v1.1h-1.1zM15.8 5.7h1.1v1.1h-1.1zM34.0 16.3h0.8v0.8h-0.8zM63.2 45.9h1.1v1.1h-1.1zM55.5 35.2h1.3v1.3h-1.3zM56.7 16.2h1.3v1.3h-1.3zM79.0 15.6h1v1h-1zM32.8 35.8h1v1h-1zM3.7 14.6h0.8v0.8h-0.8zM27.4 50.9h1.3v1.3h-1.3zM65.6 55.7h1.1v1.1h-1.1zM48.8 30.8h1v1h-1zM58.7 45.4h1.3v1.3h-1.3zM34.0 48.8h0.9v0.9h-0.9zM38.9 37.9h1.3v1.3h-1.3zM59.6 12.7h0.9v0.9h-0.9zM57.8 6.1h0.9v0.9h-0.9zM52.1 15.0h0.9v0.9h-0.9zM30.9 20.4h1v1h-1zM2.4 39.0h0.8v0.8h-0.8zM13.1 23.1h0.9v0.9h-0.9zM61.3 25.5h1.3v1.3h-1.3zM5.2 5.3h1.1v1.1h-1.1zM12.9 50.2h0.9v0.9h-0.9zM31.2 55.1h1.3v1.3h-1.3zM42.8 22.4h0.8v0.8h-0.8zM44.8 25.5h0.8v0.8h-0.8zM20.6 38.0h0.9v0.9h-0.9zM18.7 49.9h0.8v0.8h-0.8zM10.7 41.9h1.3v1.3h-1.3zM16.8 21.0h1.1v1.1h-1.1zM37.2 20.9h1.3v1.3h-1.3zM38.0 12.4h0.8v0.8h-0.8zM14.7 31.1h0.8v0.8h-0.8zM41.3 28.8h1v1h-1zM55.0 40.4h1.3v1.3h-1.3zM19.7 27.2h1.1v1.1h-1.1zM-0.3 26.2h0.8v0.8h-0.8zM63.7 5.0h1.3v1.3h-1.3zM65.2 12.3h0.8v0.8h-0.8zM27.1 20.1h1.3v1.3h-1.3zM60.4 56.3h0.9v0.9h-0.9zM58.5 14.4h0.8v0.8h-0.8zM74.7 41.2h0.9v0.9h-0.9zM6.9 35.9h1.3v1.3h-1.3zM33.9 3.5h0.8v0.8h-0.8zM56.4 57.8h0.9v0.9h-0.9zM33.5 48.7h1v1h-1zM61.3 23.2h1.1v1.1h-1.1zM76.2 42.7h0.8v0.8h-0.8zM50.8 48.7h0.8v0.8h-0.8zM33.1 7.9h1.3v1.3h-1.3zM68.0 1.7h1.1v1.1h-1.1zM48.5 57.3h0.8v0.8h-0.8zM18.0 50.7h1.1v1.1h-1.1zM6.6 37.1h0.8v0.8h-0.8zM70.5 57.3h0.8v0.8h-0.8zM60.2 42.8h1.3v1.3h-1.3zM39.2 54.1h1v1h-1zM3.2 29.6h1.3v1.3h-1.3zM21.9 37.6h1.1v1.1h-1.1zM73.2 52.8h1v1h-1zM57.5 45.7h0.8v0.8h-0.8zM68.2 26.4h1.3v1.3h-1.3zM13.3 2.0h0.9v0.9h-0.9zM5.8 -0.8h1.3v1.3h-1.3zM75.9 8.0h1v1h-1zM-0.6 31.2h0.8v0.8h-0.8zM21.6 57.5h0.9v0.9h-0.9zM74.4 19.1h1.1v1.1h-1.1zM17.5 16.5h1.1v1.1h-1.1zM3.3 32.7h1v1h-1zM6.2 28.6h1.1v1.1h-1.1zM58.8 26.2h1v1h-1zM61.7 18.7h0.9v0.9h-0.9zM41.3 14.5h0.8v0.8h-0.8zM-0.9 17.8h0.9v0.9h-0.9zM48.2 50.3h1v1h-1zM63.4 38.7h1.3v1.3h-1.3zM25.2 50.8h0.8v0.8h-0.8zM68.3 58.5h0.8v0.8h-0.8zM43.6 26.5h1.3v1.3h-1.3zM79.4 24.7h0.8v0.8h-0.8zM35.9 18.6h1.3v1.3h-1.3zM67.3 57.5h1.1v1.1h-1.1zM36.6 46.8h0.9v0.9h-0.9zM30.4 38.0h1.3v1.3h-1.3zM39.4 47.0h1v1h-1zM37.9 42.2h1.1v1.1h-1.1zM65.7 10.0h1v1h-1zM53.5 57.3h0.8v0.8h-0.8zM43.4 14.2h0.8v0.8h-0.8zM71.4 54.5h0.8v0.8h-0.8zM6.8 22.8h1.1v1.1h-1.1zM8.7 2.0h1.3v1.3h-1.3zM52.1 23.8h1.1v1.1h-1.1zM4.7 26.6h0.8v0.8h-0.8zM36.7 47.2h1v1h-1zM51.5 51.9h1.3v1.3h-1.3zM27.0 38.6h1v1h-1zM26.1 37.6h0.8v0.8h-0.8zM77.8 21.3h0.8v0.8h-0.8zM59.7 54.1h1.3v1.3h-1.3zM21.7 35.6h0.8v0.8h-0.8zM33.9 4.5h1v1h-1zM74.2 23.2h0.9v0.9h-0.9zM10.3 35.3h1.3v1.3h-1.3zM19.2 31.5h0.9v0.9h-0.9zM41.8 7.7h0.8v0.8h-0.8zM56.9 17.7h1.1v1.1h-1.1zM48.2 29.4h1v1h-1zM77.0 38.8h1v1h-1zM11.5 26.3h1.1v1.1h-1.1zM12.1 48.8h1.1v1.1h-1.1zM31.3 50.7h0.8v0.8h-0.8zM51.8 19.9h1.1v1.1h-1.1zM70.5 1.8h1.3v1.3h-1.3zM58.6 57.5h1.3v1.3h-1.3zM27.7 35.0h0.8v0.8h-0.8zM77.4 59.1h1.1v1.1h-1.1zM52.1 53.0h0.9v0.9h-0.9zM11.7 49.6h1.1v1.1h-1.1zM69.5 29.7h1.3v1.3h-1.3zM71.0 44.4h1.1v1.1h-1.1zM25.4 51.6h1.1v1.1h-1.1zM28.2 36.8h1v1h-1zM15.6 46.5h0.8v0.8h-0.8zM75.7 8.5h0.9v0.9h-0.9zM63.5 -0.2h0.8v0.8h-0.8zM19.3 0.6h0.9v0.9h-0.9zM77.8 45.6h0.8v0.8h-0.8zM4.6 36.6h0.8v0.8h-0.8zM74.8 46.5h1v1h-1zM44.7 14.6h0.8v0.8h-0.8zM24.9 8.1h1v1h-1zM36.7 37.1h1.3v1.3h-1.3zM26.6 46.9h1.3v1.3h-1.3zM78.8 26.4h0.8v0.8h-0.8zM65.7 45.5h1v1h-1zM22.9 17.9h0.8v0.8h-0.8zM51.7 23.5h1.1v1.1h-1.1zM5.0 24.9h1.3v1.3h-1.3zM71.4 52.6h0.8v0.8h-0.8zM27.3 56.7h1.3v1.3h-1.3zM65.2 33.2h1.1v1.1h-1.1zM4.8 34.2h1v1h-1zM54.9 39.2h0.9v0.9h-0.9zM12.0 40.4h0.9v0.9h-0.9zM-0.8 15.8h1.1v1.1h-1.1zM76.4 27.5h0.9v0.9h-0.9zM3.0 29.4h0.9v0.9h-0.9zM69.4 36.9h1.1v1.1h-1.1zM29.3 33.6h1.1v1.1h-1.1zM17.1 27.2h0.8v0.8h-0.8zM49.1 0.3h0.9v0.9h-0.9zM43.9 2.4h0.9v0.9h-0.9zM1.0 52.4h1.1v1.1h-1.1zM47.2 26.3h0.9v0.9h-0.9zM73.9 43.4h0.8v0.8h-0.8zM9.6 54.5h0.9v0.9h-0.9zM17.1 12.7h1v1h-1zM12.1 30.2h1v1h-1zM29.7 44.9h0.9v0.9h-0.9zM44.8 17.4h0.8v0.8h-0.8zM20.6 51.5h1.3v1.3h-1.3zM74.9 2.1h0.8v0.8h-0.8zM2.4 28.5h0.9v0.9h-0.9zM73.1 5.6h1.1v1.1h-1.1zM42.3 1.2h1.3v1.3h-1.3zM15.5 10.1h1.1v1.1h-1.1zM4.0 54.7h1v1h-1zM63.4 54.1h1v1h-1zM32.9 57.5h1.3v1.3h-1.3zM66.3 6.2h1.3v1.3h-1.3zM22.8 3.5h0.8v0.8h-0.8zM75.5 3.2h1.3v1.3h-1.3zM20.7 8.2h1.1v1.1h-1.1zM56.2 31.1h1.3v1.3h-1.3zM26.2 3.6h1.3v1.3h-1.3zM76.8 45.1h1.3v1.3h-1.3zM65.7 20.3h1v1h-1zM21.8 52.7h1v1h-1zM16.2 6.0h0.8v0.8h-0.8zM19.0 20.1h0.9v0.9h-0.9zM46.8 34.4h1.1v1.1h-1.1zM37.7 23.8h0.8v0.8h-0.8zM35.6 10.0h0.9v0.9h-0.9zM55.5 11.2h1v1h-1zM77.4 -0.3h1.1v1.1h-1.1zM15.3 19.2h0.8v0.8h-0.8zM1.8 35.6h1v1h-1zM66.6 0.9h1.1v1.1h-1.1zM16.1 6.0h1.3v1.3h-1.3zM58.6 1.7h1.3v1.3h-1.3zM11.6 12.2h1.3v1.3h-1.3zM28.5 37.6h0.9v0.9h-0.9zM46.8 23.1h1.1v1.1h-1.1zM50.7 11.5h0.9v0.9h-0.9zM33.3 -0.3h1.3v1.3h-1.3zM54.3 52.6h1v1h-1zM25.5 5.6h0.8v0.8h-0.8zM14.0 58.1h1.3v1.3h-1.3zM43.7 22.7h0.8v0.8h-0.8zM4.2 28.1h1.3v1.3h-1.3zM76.1 58.3h0.8v0.8h-0.8zM36.8 32.6h0.9v0.9h-0.9zM57.4 40.3h0.8v0.8h-0.8zM15.9 7.0h1v1h-1zM68.1 17.0h0.9v0.9h-0.9zM25.7 10.3h1v1h-1zM26.5 48.5h0.8v0.8h-0.8zM73.9 45.0h0.9v0.9h-0.9zM1.2 45.8h1.1v1.1h-1.1zM58.4 1.4h1v1h-1zM44.0 19.3h1v1h-1zM65.0 4.6h0.9v0.9h-0.9zM37.4 2.8h0.9v0.9h-0.9zM73.9 58.6h1.1v1.1h-1.1zM56.6 44.9h1v1h-1zM69.9 31.4h1.3v1.3h-1.3zM41.7 58.6h0.8v0.8h-0.8zM42.9 6.2h0.9v0.9h-0.9zM70.5 14.4h1.3v1.3h-1.3zM8.4 56.8h0.8v0.8h-0.8zM1.5 51.6h1.1v1.1h-1.1zM34.2 56.9h0.9v0.9h-0.9zM36.8 18.0h1.3v1.3h-1.3zM35.1 34.2h1v1h-1zM41.5 24.7h0.9v0.9h-0.9zM18.9 52.2h1.3v1.3h-1.3zM28.4 39.4h1.3v1.3h-1.3zM58.1 30.2h1.1v1.1h-1.1zM11.1 4.0h0.8v0.8h-0.8zM67.7 36.4h0.8v0.8h-0.8zM73.2 57.0h1.1v1.1h-1.1zM67.0 57.0h0.8v0.8h-0.8zM0.4 15.1h1v1h-1zM71.6 22.0h1v1h-1zM23.2 30.6h1v1h-1zM66.8 -0.5h1v1h-1zM38.8 49.1h1v1h-1zM38.3 0.4h1.1v1.1h-1.1zM65.9 56.7h1v1h-1zM67.9 14.4h0.9v0.9h-0.9zM11.5 26.8h0.9v0.9h-0.9zM25.7 55.7h1v1h-1zM72.6 -0.8h1.1v1.1h-1.1zM18.5 31.3h1.1v1.1h-1.1zM11.4 11.5h0.9v0.9h-0.9zM31.5 50.4h0.8v0.8h-0.8zM45.9 14.5h0.8v0.8h-0.8zM25.4 57.5h1.3v1.3h-1.3zM31.1 35.9h1.3v1.3h-1.3zM64.4 15.4h0.9v0.9h-0.9zM57.5 8.7h1.3v1.3h-1.3zM35.3 31.5h1v1h-1zM34.7 -0.7h0.8v0.8h-0.8zM3.8 18.3h1.3v1.3h-1.3zM39.0 34.1h1v1h-1zM2.1 58.1h1.3v1.3h-1.3zM55.1 3.8h0.9v0.9h-0.9zM30.9 2.8h1v1h-1zM59.0 38.1h0.9v0.9h-0.9zM60.7 15.5h1.3v1.3h-1.3zM17.9 5.2h0.9v0.9h-0.9zM32.2 -0.6h1v1h-1zM62.9 -0.1h1v1h-1zM55.4 37.5h0.9v0.9h-0.9zM26.3 1.7h0.8v0.8h-0.8zM47.6 0.8h0.9v0.9h-0.9zM1.0 23.4h1.3v1.3h-1.3zM75.9 41.4h0.8v0.8h-0.8zM56.7 31.8h0.8v0.8h-0.8zM72.7 13.9h1v1h-1zM50.0 17.5h1v1h-1zM53.8 43.9h1.1v1.1h-1.1zM45.5 9.0h0.9v0.9h-0.9zM64.4 29.7h0.9v0.9h-0.9zM35.2 58.6h1.1v1.1h-1.1zM15.0 51.8h0.8v0.8h-0.8zM24.3 31.5h1v1h-1zM61.1 56.2h1.3v1.3h-1.3zM43.1 28.4h1v1h-1zM50.1 57.2h0.9v0.9h-0.9zM25.8 19.1h1.3v1.3h-1.3zM39.2 7.6h1v1h-1zM72.3 30.2h1.3v1.3h-1.3zM49.4 51.6h0.8v0.8h-0.8zM14.5 5.5h0.8v0.8h-0.8zM31.6 8.2h0.8v0.8h-0.8zM0.6 45.4h0.9v0.9h-0.9zM23.1 48.6h1.1v1.1h-1.1zM50.2 24.5h0.8v0.8h-0.8zM11.5 48.7h1v1h-1zM1.2 -0.3h1v1h-1zM22.5 -0.1h0.9v0.9h-0.9zM61.7 8.5h0.9v0.9h-0.9zM42.3 0.7h1.3v1.3h-1.3zM22.6 6.0h0.9v0.9h-0.9zM72.2 28.8h1.3v1.3h-1.3zM58.2 51.7h1.1v1.1h-1.1zM35.5 2.1h1v1h-1zM14.7 48.5h1.1v1.1h-1.1zM36.0 57.5h1v1h-1zM51.9 17.3h0.9v0.9h-0.9zM8.8 13.2h0.9v0.9h-0.9zM64.7 47.0h1.1v1.1h-1.1zM18.4 29.6h1.3v1.3h-1.3zM57.4 15.5h1.3v1.3h-1.3zM37.7 9.9h1.1v1.1h-1.1zM30.1 53.0h1.3v1.3h-1.3zM38.6 23.9h1v1h-1zM44.1 48.5h0.8v0.8h-0.8zM9.5 11.0h0.9v0.9h-0.9zM72.4 54.4h1.3v1.3h-1.3zM24.9 40.3h0.9v0.9h-0.9zM76.5 17.2h1v1h-1zM6.2 44.7h1.1v1.1h-1.1zM60.2 0.9h0.9v0.9h-0.9zM75.1 40.0h1.3v1.3h-1.3zM18.4 39.2h1.3v1.3h-1.3zM46.9 41.6h0.8v0.8h-0.8zM42.7 45.1h1v1h-1zM40.5 3.4h1.3v1.3h-1.3zM48.1 13.2h1.1v1.1h-1.1zM9.0 40.9h0.9v0.9h-0.9zM0.8 38.2h1.3v1.3h-1.3zM52.4 57.8h1.3v1.3h-1.3zM49.1 16.0h1.3v1.3h-1.3zM73.7 -1.0h1v1h-1zM48.4 57.8h1.1v1.1h-1.1zM40.0 18.9h1.3v1.3h-1.3zM5.3 24.6h0.9v0.9h-0.9zM76.1 28.8h0.8v0.8h-0.8zM47.6 0.4h1.3v1.3h-1.3zM14.1 29.8h1.1v1.1h-1.1zM20.8 52.3h1v1h-1zM3.5 5.9h0.8v0.8h-0.8zM20.4 43.8h1v1h-1zM10.6 30.9h1.3v1.3h-1.3zM73.1 23.6h1.1v1.1h-1.1zM9.9 3.3h1.3v1.3h-1.3zM35.3 7.1h1v1h-1zM3.8 13.6h1.1v1.1h-1.1zM61.9 -0.3h1.3v1.3h-1.3zM72.4 58.4h1v1h-1zM32.6 6.9h0.9v0.9h-0.9zM29.2 28.2h0.9v0.9h-0.9zM53.4 11.5h0.9v0.9h-0.9zM22.4 11.6h1v1h-1zM29.4 15.5h0.9v0.9h-0.9zM24.0 0.7h0.9v0.9h-0.9zM78.2 35.3h1.3v1.3h-1.3zM53.9 53.4h0.9v0.9h-0.9zM32.5 30.2h1.1v1.1h-1.1zM75.1 13.2h1.1v1.1h-1.1zM21.7 49.1h1v1h-1zM64.5 50.0h0.9v0.9h-0.9zM35.6 5.8h1.3v1.3h-1.3zM29.1 8.2h1.3v1.3h-1.3zM48.6 25.5h0.8v0.8h-0.8zM62.9 8.3h0.9v0.9h-0.9zM73.6 28.4h1.1v1.1h-1.1zM18.0 36.9h1.1v1.1h-1.1zM51.2 20.5h1.1v1.1h-1.1zM26.5 38.2h1.1v1.1h-1.1zM5.6 47.7h1.1v1.1h-1.1zM48.7 -0.4h0.9v0.9h-0.9zM58.5 58.2h0.9v0.9h-0.9zM50.7 59.2h1v1h-1zM59.8 10.4h1.1v1.1h-1.1zM-0.2 57.2h1v1h-1zM72.2 11.4h1.3v1.3h-1.3zM24.7 11.7h1v1h-1zM72.2 1.9h1v1h-1zM19.1 56.8h0.8v0.8h-0.8zM1.4 48.7h1.1v1.1h-1.1zM14.8 3.3h0.9v0.9h-0.9zM63.3 17.1h0.9v0.9h-0.9zM29.2 29.8h1.3v1.3h-1.3zM41.5 56.0h1v1h-1zM61.0 -0.7h1.3v1.3h-1.3zM14.1 16.6h1v1h-1zM26.3 0.1h1v1h-1zM21.7 56.3h1.3v1.3h-1.3zM4.7 34.7h1v1h-1zM0.2 30.5h0.8v0.8h-0.8zM61.9 9.4h0.8v0.8h-0.8zM51.3 42.2h1v1h-1zM31.4 29.9h0.9v0.9h-0.9zM73.4 4.3h0.8v0.8h-0.8zM59.2 25.7h0.9v0.9h-0.9zM26.0 2.2h0.9v0.9h-0.9zM67.1 14.6h1.1v1.1h-1.1zM79.1 17.0h1.1v1.1h-1.1zM78.1 2.0h1v1h-1zM66.6 0.5h1.1v1.1h-1.1zM41.8 39.4h0.8v0.8h-0.8zM17.1 1.8h0.8v0.8h-0.8zM48.0 1.3h1v1h-1z" fill="#a0a8b4" filter="url(#bl4)"/>
<path d="M50.5 47.5h1v1h-1zM13.0 29.8h1.3v1.3h-1.3zM13.7 53.0h1.3v1.3h-1.3zM20.6 54.0h1.3v1.3h-1.3zM57.9 28.5h1.3v1.3h-1.3zM46.7 40.2h0.9v0.9h-0.9zM38.4 17.6h0.8v0.8h-0.8zM71.7 44.6h0.9v0.9h-0.9zM1.0 46.6h1.3v1.3h-1.3zM20.1 57.6h1.3v1.3h-1.3zM12.8 26.4h0.8v0.8h-0.8zM46.7 36.7h1v1h-1zM1.9 23.7h0.8v0.8h-0.8zM54.6 55.3h1.1v1.1h-1.1zM7.2 17.5h0.8v0.8h-0.8zM67.5 37.7h0.8v0.8h-0.8zM1.0 38.8h1.1v1.1h-1.1zM38.0 51.3h1.1v1.1h-1.1zM38.4 14.7h0.8v0.8h-0.8zM77.5 22.6h1v1h-1zM60.4 50.5h0.9v0.9h-0.9zM31.5 39.3h0.8v0.8h-0.8zM64.8 0.0h1.3v1.3h-1.3zM64.7 45.3h1.3v1.3h-1.3zM3.4 29.2h1v1h-1zM39.2 7.1h1v1h-1zM5.2 48.8h1v1h-1zM11.8 52.6h1v1h-1zM69.8 54.9h1v1h-1zM58.9 44.4h1v1h-1zM-0.3 18.4h1.1v1.1h-1.1zM67.1 19.4h1.1v1.1h-1.1zM79.2 6.7h1.3v1.3h-1.3zM72.8 3.7h0.8v0.8h-0.8zM33.4 58.4h1.1v1.1h-1.1zM15.1 54.5h1v1h-1zM31.1 47.2h0.8v0.8h-0.8zM35.7 38.8h1v1h-1zM77.2 22.1h0.9v0.9h-0.9zM45.8 25.9h1v1h-1zM37.6 46.6h1v1h-1zM67.4 50.7h1v1h-1zM44.2 14.8h1.1v1.1h-1.1zM3.3 41.7h1v1h-1zM2.8 32.6h0.8v0.8h-0.8zM56.7 51.1h1.3v1.3h-1.3zM48.5 -0.0h1v1h-1zM14.3 -0.6h1v1h-1zM45.9 12.4h1.1v1.1h-1.1zM64.9 56.1h1.1v1.1h-1.1zM0.9 41.6h1.1v1.1h-1.1zM77.4 32.1h1v1h-1zM18.9 42.0h1.1v1.1h-1.1zM54.2 13.8h1.1v1.1h-1.1zM76.6 57.4h1v1h-1zM64.4 42.6h1.1v1.1h-1.1zM18.2 51.1h0.9v0.9h-0.9zM-0.9 45.3h0.9v0.9h-0.9zM20.5 51.6h1v1h-1zM8.6 5.3h1.3v1.3h-1.3zM9.9 6.9h0.9v0.9h-0.9zM65.2 53.2h0.9v0.9h-0.9zM75.5 45.9h0.9v0.9h-0.9zM63.9 58.7h1.1v1.1h-1.1zM10.7 45.3h1v1h-1zM57.1 9.7h0.8v0.8h-0.8zM13.1 50.5h0.9v0.9h-0.9zM70.9 50.3h1v1h-1zM11.7 12.2h0.9v0.9h-0.9zM10.4 30.1h0.9v0.9h-0.9zM62.8 53.1h0.9v0.9h-0.9zM1.1 36.4h0.8v0.8h-0.8zM7.3 -0.6h1.3v1.3h-1.3zM32.2 13.3h1.1v1.1h-1.1zM18.6 12.0h0.9v0.9h-0.9zM5.8 48.5h1v1h-1zM22.5 45.8h0.8v0.8h-0.8zM60.7 57.9h0.9v0.9h-0.9zM48.0 20.4h1.1v1.1h-1.1zM14.0 35.5h0.9v0.9h-0.9zM8.0 5.8h1.1v1.1h-1.1zM49.5 56.3h0.8v0.8h-0.8zM8.1 22.7h0.8v0.8h-0.8zM36.0 24.9h0.9v0.9h-0.9zM30.4 25.1h0.9v0.9h-0.9zM24.0 50.1h0.9v0.9h-0.9zM65.1 5.0h0.9v0.9h-0.9zM43.9 17.1h1.3v1.3h-1.3zM19.1 34.4h1v1h-1zM3.4 47.8h0.8v0.8h-0.8zM25.6 -0.8h1.3v1.3h-1.3zM16.4 48.6h1v1h-1zM7.6 22.8h1.3v1.3h-1.3zM0.6 29.0h1.1v1.1h-1.1zM13.8 46.4h1v1h-1zM26.5 11.7h1.3v1.3h-1.3zM73.4 9.3h0.9v0.9h-0.9zM11.9 21.4h1.3v1.3h-1.3zM76.6 34.2h0.9v0.9h-0.9zM44.7 13.9h0.9v0.9h-0.9zM35.0 37.5h0.8v0.8h-0.8zM79.6 56.9h0.8v0.8h-0.8zM6.0 27.1h0.9v0.9h-0.9zM77.8 43.7h1.3v1.3h-1.3zM24.9 14.2h1.3v1.3h-1.3zM35.9 46.6h0.9v0.9h-0.9zM0.9 23.9h1v1h-1zM68.2 58.7h1.1v1.1h-1.1zM18.2 20.2h0.8v0.8h-0.8zM60.0 6.2h1.1v1.1h-1.1zM7.3 27.0h1.3v1.3h-1.3zM6.6 50.4h0.8v0.8h-0.8zM27.8 36.9h0.9v0.9h-0.9zM60.2 13.5h1v1h-1zM4.8 30.0h0.9v0.9h-0.9zM50.7 20.9h0.8v0.8h-0.8zM10.7 34.3h1.3v1.3h-1.3zM11.8 14.3h0.8v0.8h-0.8zM64.3 53.6h1.1v1.1h-1.1zM65.1 32.1h0.9v0.9h-0.9zM50.4 30.7h1v1h-1zM44.5 30.5h0.8v0.8h-0.8zM3.4 23.4h0.9v0.9h-0.9zM35.1 45.5h1.3v1.3h-1.3zM39.6 41.9h1v1h-1zM44.5 21.1h1v1h-1zM69.3 35.6h1.3v1.3h-1.3zM15.2 26.6h1.1v1.1h-1.1zM25.6 21.5h1.3v1.3h-1.3zM34.9 56.5h1.3v1.3h-1.3zM55.5 45.1h0.8v0.8h-0.8zM46.2 3.4h1v1h-1zM78.9 11.2h0.8v0.8h-0.8zM28.0 48.9h0.9v0.9h-0.9zM56.1 34.1h0.8v0.8h-0.8zM15.2 43.2h0.8v0.8h-0.8zM77.2 47.3h1.1v1.1h-1.1zM16.8 47.8h1.1v1.1h-1.1zM13.8 14.1h0.8v0.8h-0.8zM70.4 18.4h1.1v1.1h-1.1zM74.1 40.1h1v1h-1zM20.8 52.1h1.1v1.1h-1.1zM22.7 7.3h0.8v0.8h-0.8zM16.8 17.3h1v1h-1zM72.6 35.2h1.1v1.1h-1.1zM44.1 40.0h1.3v1.3h-1.3zM26.0 45.5h1.3v1.3h-1.3zM68.3 20.8h1.1v1.1h-1.1zM48.6 47.8h1.1v1.1h-1.1zM17.7 21.6h0.8v0.8h-0.8zM62.4 35.5h1v1h-1zM79.5 9.6h1.1v1.1h-1.1zM27.6 58.6h1.3v1.3h-1.3zM63.1 32.9h1.1v1.1h-1.1zM63.9 13.8h1.3v1.3h-1.3zM-1.0 37.8h1.1v1.1h-1.1zM8.4 19.8h1.3v1.3h-1.3zM17.0 20.5h1.1v1.1h-1.1zM66.1 50.3h1v1h-1zM5.6 41.7h0.8v0.8h-0.8zM6.6 40.5h1.3v1.3h-1.3zM42.5 42.6h0.8v0.8h-0.8zM38.6 24.7h1.1v1.1h-1.1zM46.7 50.1h1.1v1.1h-1.1zM65.1 36.9h1.3v1.3h-1.3zM0.1 55.4h1.3v1.3h-1.3zM48.9 53.1h1v1h-1zM45.4 23.8h1v1h-1zM38.3 48.6h0.9v0.9h-0.9zM71.8 42.9h0.9v0.9h-0.9zM64.4 55.1h1.3v1.3h-1.3zM48.9 40.9h1v1h-1zM50.1 22.0h1v1h-1zM24.1 -0.9h1.3v1.3h-1.3zM44.3 2.5h1.3v1.3h-1.3zM49.0 14.6h1v1h-1zM47.9 13.5h0.9v0.9h-0.9zM2.8 26.9h1v1h-1zM8.4 42.9h1.3v1.3h-1.3zM39.5 58.2h1v1h-1zM64.6 41.0h0.8v0.8h-0.8zM9.9 41.8h1v1h-1zM45.5 4.8h0.8v0.8h-0.8zM50.7 2.0h0.9v0.9h-0.9zM56.9 34.4h1v1h-1zM36.8 44.2h0.8v0.8h-0.8zM51.6 -0.2h0.8v0.8h-0.8zM38.6 27.4h0.8v0.8h-0.8zM78.6 15.7h0.9v0.9h-0.9zM35.7 35.0h1.1v1.1h-1.1zM33.0 2.0h1.1v1.1h-1.1zM46.7 27.0h1.3v1.3h-1.3zM32.3 26.2h1v1h-1zM0.3 43.0h1.3v1.3h-1.3zM5.1 43.0h1.1v1.1h-1.1zM13.3 13.6h1.3v1.3h-1.3zM54.5 35.1h1.1v1.1h-1.1zM66.1 28.9h1v1h-1zM45.7 28.5h1.1v1.1h-1.1zM44.3 3.1h0.9v0.9h-0.9zM24.0 52.4h1v1h-1zM46.6 31.5h0.8v0.8h-0.8zM59.4 34.3h0.9v0.9h-0.9zM71.0 21.0h1v1h-1zM27.0 46.6h1.1v1.1h-1.1zM23.8 48.1h1v1h-1zM73.0 5.8h0.8v0.8h-0.8zM65.4 43.4h1.3v1.3h-1.3zM55.8 41.7h1.1v1.1h-1.1zM17.9 24.7h1.3v1.3h-1.3zM39.0 53.6h1.1v1.1h-1.1zM37.6 47.2h1v1h-1zM47.3 23.8h1.3v1.3h-1.3zM71.6 19.3h1.1v1.1h-1.1zM38.0 11.1h1.3v1.3h-1.3zM54.1 36.3h0.9v0.9h-0.9zM62.4 44.0h1v1h-1zM4.0 32.6h1v1h-1zM78.1 12.9h0.8v0.8h-0.8zM75.0 6.5h0.9v0.9h-0.9zM78.9 14.3h1.1v1.1h-1.1zM29.0 7.0h1.1v1.1h-1.1zM72.7 39.6h0.8v0.8h-0.8zM19.0 39.9h0.9v0.9h-0.9zM4.2 45.2h1.3v1.3h-1.3zM31.1 56.3h1.3v1.3h-1.3zM58.0 7.9h1.1v1.1h-1.1zM19.8 42.1h1v1h-1zM7.2 16.1h1v1h-1zM21.5 2.3h0.9v0.9h-0.9zM38.9 10.1h1.3v1.3h-1.3zM70.1 3.8h1.1v1.1h-1.1zM26.3 1.9h1.3v1.3h-1.3zM15.0 34.4h1.3v1.3h-1.3zM24.7 32.3h0.8v0.8h-0.8zM19.9 14.3h0.9v0.9h-0.9zM18.2 0.6h0.9v0.9h-0.9zM50.6 59.1h1.1v1.1h-1.1zM72.1 49.6h1.1v1.1h-1.1zM7.8 34.3h1v1h-1zM1.6 53.9h1v1h-1zM8.2 10.4h0.9v0.9h-0.9zM57.4 33.1h1.1v1.1h-1.1zM59.3 36.0h1.1v1.1h-1.1zM59.0 35.1h0.9v0.9h-0.9zM63.0 48.0h0.8v0.8h-0.8zM62.6 14.1h1.3v1.3h-1.3zM45.6 10.8h1.3v1.3h-1.3zM78.0 18.9h0.8v0.8h-0.8zM22.6 15.3h0.8v0.8h-0.8zM6.9 30.7h0.8v0.8h-0.8zM0.5 15.7h0.9v0.9h-0.9zM13.3 16.3h1v1h-1zM59.9 16.5h1v1h-1zM50.9 4.6h1.3v1.3h-1.3zM38.8 21.6h0.9v0.9h-0.9zM58.9 59.3h1.3v1.3h-1.3zM-0.6 35.5h0.9v0.9h-0.9zM14.8 23.1h1.1v1.1h-1.1zM11.6 54.1h1v1h-1zM1.3 40.8h1.3v1.3h-1.3zM30.6 2.4h0.9v0.9h-0.9zM30.0 28.5h1.1v1.1h-1.1zM78.5 38.0h1v1h-1zM29.1 12.1h0.9v0.9h-0.9zM29.5 51.9h1.1v1.1h-1.1zM41.6 33.5h1.3v1.3h-1.3zM10.7 4.0h1.1v1.1h-1.1zM37.5 48.3h1.3v1.3h-1.3zM49.9 51.2h1v1h-1zM2.5 25.0h1v1h-1zM63.0 -0.9h0.9v0.9h-0.9zM-0.3 36.0h0.8v0.8h-0.8zM78.6 6.9h1.3v1.3h-1.3zM78.6 20.5h1v1h-1zM26.3 16.1h0.9v0.9h-0.9zM22.7 15.4h0.8v0.8h-0.8zM45.6 2.2h0.8v0.8h-0.8zM49.4 35.1h1v1h-1zM5.0 11.1h1.1v1.1h-1.1zM17.2 42.1h0.9v0.9h-0.9zM57.1 24.5h0.8v0.8h-0.8zM34.5 17.8h0.8v0.8h-0.8zM30.1 35.6h1.1v1.1h-1.1zM62.5 46.0h0.8v0.8h-0.8zM62.7 49.5h1.1v1.1h-1.1zM15.1 57.8h1.1v1.1h-1.1zM29.0 13.9h1v1h-1zM0.9 37.3h1.3v1.3h-1.3zM14.8 6.6h1.3v1.3h-1.3zM51.7 38.3h1v1h-1zM7.6 25.6h0.9v0.9h-0.9zM20.4 39.8h0.9v0.9h-0.9zM23.4 17.5h1.3v1.3h-1.3zM14.2 46.3h1v1h-1zM13.7 18.3h1.1v1.1h-1.1zM30.5 49.4h1.1v1.1h-1.1zM15.9 49.5h0.9v0.9h-0.9zM50.6 5.8h1.1v1.1h-1.1zM78.7 53.7h1.1v1.1h-1.1zM78.1 38.5h1.1v1.1h-1.1zM75.6 34.8h1.3v1.3h-1.3zM5.8 37.5h1.1v1.1h-1.1zM64.7 8.6h0.8v0.8h-0.8zM48.7 46.0h0.8v0.8h-0.8zM73.4 22.6h0.8v0.8h-0.8zM73.0 15.1h0.8v0.8h-0.8zM13.2 25.3h0.9v0.9h-0.9zM18.5 41.3h0.9v0.9h-0.9zM50.0 4.8h1v1h-1zM69.8 18.7h0.8v0.8h-0.8zM34.1 0.1h1.1v1.1h-1.1zM51.7 49.6h1.3v1.3h-1.3zM39.7 1.9h1.3v1.3h-1.3zM15.1 58.9h1v1h-1zM0.6 35.4h1.3v1.3h-1.3zM54.0 47.7h0.9v0.9h-0.9zM61.7 41.2h1.3v1.3h-1.3zM8.5 24.6h1.3v1.3h-1.3zM46.7 20.1h0.9v0.9h-0.9zM33.4 2.1h0.8v0.8h-0.8zM7.3 33.1h0.9v0.9h-0.9zM58.2 26.5h0.8v0.8h-0.8zM54.0 58.7h1.1v1.1h-1.1zM32.6 51.9h1.1v1.1h-1.1zM31.4 3.3h0.8v0.8h-0.8zM2.8 24.1h1.1v1.1h-1.1zM51.9 57.3h1.1v1.1h-1.1zM45.1 24.6h1.1v1.1h-1.1zM41.5 28.3h1.3v1.3h-1.3zM45.5 51.9h1.1v1.1h-1.1zM27.5 25.0h1v1h-1zM1.4 5.8h1.3v1.3h-1.3zM38.2 57.4h1.1v1.1h-1.1zM34.1 35.0h1v1h-1zM25.0 28.8h1v1h-1zM16.3 0.7h1.3v1.3h-1.3zM7.6 33.4h0.9v0.9h-0.9zM29.8 5.0h0.9v0.9h-0.9zM61.4 5.1h0.8v0.8h-0.8zM50.4 20.1h1v1h-1zM39.6 28.2h0.8v0.8h-0.8zM29.6 8.8h1.3v1.3h-1.3zM23.6 16.6h0.8v0.8h-0.8zM5.8 29.8h0.8v0.8h-0.8zM62.4 18.7h1.3v1.3h-1.3zM78.0 4.2h0.9v0.9h-0.9zM57.9 36.5h1.3v1.3h-1.3zM64.0 30.8h1.1v1.1h-1.1zM6.8 25.0h1v1h-1zM18.6 41.0h1.1v1.1h-1.1zM48.6 8.2h1v1h-1zM22.5 31.0h1.3v1.3h-1.3zM68.5 57.0h1.1v1.1h-1.1zM5.2 20.7h0.8v0.8h-0.8zM0.7 35.2h0.9v0.9h-0.9zM5.2 22.2h0.8v0.8h-0.8zM8.6 -0.7h0.8v0.8h-0.8zM33.7 1.7h0.9v0.9h-0.9zM50.4 58.8h1v1h-1zM8.3 5.7h0.9v0.9h-0.9zM62.3 30.2h1.3v1.3h-1.3zM6.5 32.0h0.8v0.8h-0.8zM47.8 45.9h0.9v0.9h-0.9zM18.4 1.0h0.9v0.9h-0.9zM54.5 55.5h1.1v1.1h-1.1zM63.1 33.2h1.3v1.3h-1.3zM49.4 1.8h1.3v1.3h-1.3zM33.2 33.7h1.3v1.3h-1.3zM22.4 5.9h0.9v0.9h-0.9zM29.6 10.1h1v1h-1zM15.8 -0.9h1v1h-1zM51.4 31.4h0.8v0.8h-0.8zM1.1 21.2h1.1v1.1h-1.1zM41.3 28.8h1v1h-1zM29.7 40.1h0.9v0.9h-0.9zM61.7 4.9h1.3v1.3h-1.3zM75.5 11.6h0.8v0.8h-0.8zM47.9 28.4h1v1h-1zM15.0 28.1h1.3v1.3h-1.3zM3.4 22.5h1.1v1.1h-1.1zM-0.7 13.8h1v1h-1zM74.4 31.0h1.1v1.1h-1.1zM0.7 31.8h0.9v0.9h-0.9zM73.2 12.0h1v1h-1zM39.9 0.8h0.8v0.8h-0.8zM54.8 43.0h1.3v1.3h-1.3zM7.3 33.7h1v1h-1zM60.2 26.3h0.9v0.9h-0.9zM71.4 -0.5h1.1v1.1h-1.1zM30.1 3.1h1v1h-1zM37.7 38.4h1.1v1.1h-1.1zM65.2 23.8h0.8v0.8h-0.8zM40.6 38.2h0.8v0.8h-0.8zM75.5 31.3h0.9v0.9h-0.9zM13.3 46.5h1.3v1.3h-1.3zM56.2 41.9h1v1h-1zM75.5 2.5h0.8v0.8h-0.8zM75.3 43.6h0.9v0.9h-0.9zM23.6 20.0h1v1h-1zM22.6 34.1h1.1v1.1h-1.1zM72.3 9.6h0.8v0.8h-0.8zM21.8 3.4h1.1v1.1h-1.1zM48.5 12.0h1.3v1.3h-1.3zM41.2 51.5h1.3v1.3h-1.3zM6.7 35.3h0.9v0.9h-0.9zM24.5 0.0h0.8v0.8h-0.8zM55.5 53.5h1.1v1.1h-1.1zM6.9 10.0h1.3v1.3h-1.3zM65.8 20.2h1.1v1.1h-1.1zM24.2 7.8h0.9v0.9h-0.9zM31.0 3.8h0.8v0.8h-0.8zM7.9 40.5h0.8v0.8h-0.8zM3.3 4.0h1v1h-1zM6.9 40.7h1v1h-1zM28.1 2.8h1.1v1.1h-1.1zM59.5 35.1h1v1h-1zM9.4 57.2h0.9v0.9h-0.9zM47.3 22.0h0.8v0.8h-0.8zM79.2 50.7h1.1v1.1h-1.1zM34.9 10.2h1.1v1.1h-1.1zM59.0 43.0h1.3v1.3h-1.3zM70.3 37.1h0.9v0.9h-0.9zM17.6 29.5h1.3v1.3h-1.3zM8.6 56.8h1.3v1.3h-1.3zM54.4 23.5h1.1v1.1h-1.1zM67.5 45.2h0.8v0.8h-0.8zM55.8 44.9h1.1v1.1h-1.1zM14.8 0.3h1.3v1.3h-1.3zM45.7 3.0h1v1h-1zM71.3 33.7h0.9v0.9h-0.9zM0.1 29.9h0.9v0.9h-0.9zM69.8 19.4h1v1h-1zM30.2 10.1h0.9v0.9h-0.9zM60.1 55.3h0.8v0.8h-0.8zM30.6 4.0h0.9v0.9h-0.9zM27.6 27.9h0.9v0.9h-0.9zM78.5 23.6h0.8v0.8h-0.8zM49.4 52.8h1.3v1.3h-1.3zM64.4 55.4h1.3v1.3h-1.3zM12.1 52.8h0.9v0.9h-0.9zM72.9 20.1h1.1v1.1h-1.1zM58.3 20.3h0.8v0.8h-0.8zM56.8 59.0h1.1v1.1h-1.1zM41.1 8.3h0.8v0.8h-0.8zM22.5 12.7h1.3v1.3h-1.3zM36.2 47.8h0.9v0.9h-0.9zM1.2 41.5h1.1v1.1h-1.1zM75.0 43.9h1.3v1.3h-1.3zM4.9 39.1h1v1h-1zM33.5 1.6h0.8v0.8h-0.8zM57.0 47.8h0.8v0.8h-0.8zM28.4 5.1h1v1h-1zM52.1 -0.2h1.3v1.3h-1.3zM53.7 41.0h1.1v1.1h-1.1zM37.1 20.7h1.1v1.1h-1.1zM63.7 31.0h1.3v1.3h-1.3zM10.2 40.8h0.8v0.8h-0.8zM54.0 50.0h1v1h-1zM70.4 16.2h0.8v0.8h-0.8zM63.0 35.0h1v1h-1zM40.8 4.8h1.1v1.1h-1.1zM16.6 6.8h1v1h-1zM47.6 53.0h0.8v0.8h-0.8zM45.2 1.4h1.3v1.3h-1.3zM40.0 55.7h0.9v0.9h-0.9zM79.5 31.8h1.1v1.1h-1.1zM53.3 52.8h1.1v1.1h-1.1zM57.0 23.9h1.3v1.3h-1.3zM44.3 11.9h1v1h-1zM12.0 56.9h1v1h-1zM10.3 28.5h0.8v0.8h-0.8zM43.0 21.9h1.3v1.3h-1.3zM66.2 33.3h0.8v0.8h-0.8zM66.7 22.4h1v1h-1zM51.1 42.0h1.1v1.1h-1.1zM50.3 48.8h1.1v1.1h-1.1zM75.1 -0.6h1v1h-1zM26.7 2.4h1v1h-1zM48.1 45.2h1.3v1.3h-1.3zM67.9 45.9h1.1v1.1h-1.1zM9.5 3.7h0.9v0.9h-0.9zM74.0 56.0h1.3v1.3h-1.3zM26.5 50.6h1.1v1.1h-1.1zM42.1 39.1h1.1v1.1h-1.1zM67.1 58.6h0.8v0.8h-0.8zM61.1 52.1h0.9v0.9h-0.9zM50.8 32.3h0.9v0.9h-0.9zM48.4 47.4h1v1h-1zM19.0 2.3h1.3v1.3h-1.3zM13.3 0.1h1.3v1.3h-1.3zM44.4 58.8h0.9v0.9h-0.9zM57.1 27.9h1v1h-1zM75.5 39.0h0.9v0.9h-0.9zM50.8 58.3h0.9v0.9h-0.9zM32.8 2.6h0.9v0.9h-0.9zM71.1 48.9h0.8v0.8h-0.8zM34.1 36.6h1v1h-1zM10.1 14.2h1.3v1.3h-1.3zM46.1 16.6h1.1v1.1h-1.1zM51.7 57.1h1.1v1.1h-1.1zM70.6 40.4h1v1h-1zM59.9 32.4h0.8v0.8h-0.8zM64.7 45.6h1.3v1.3h-1.3zM49.3 52.8h1.3v1.3h-1.3zM11.9 38.6h1v1h-1zM44.9 45.9h1v1h-1zM11.7 37.7h1.3v1.3h-1.3zM36.4 22.6h1v1h-1zM55.3 59.1h1v1h-1zM18.1 37.1h1.1v1.1h-1.1zM11.5 21.2h1.3v1.3h-1.3zM1.0 22.6h0.8v0.8h-0.8zM0.5 48.6h0.9v0.9h-0.9zM0.3 33.3h0.8v0.8h-0.8zM56.0 42.4h0.8v0.8h-0.8zM26.4 7.4h0.8v0.8h-0.8zM24.0 7.3h1.3v1.3h-1.3zM25.3 36.4h0.9v0.9h-0.9zM21.2 32.9h1.1v1.1h-1.1zM19.3 54.7h1.3v1.3h-1.3zM78.0 58.0h0.9v0.9h-0.9zM58.0 46.0h0.9v0.9h-0.9zM40.1 -0.6h1v1h-1zM1.4 22.4h0.8v0.8h-0.8zM31.6 7.3h0.8v0.8h-0.8zM59.2 53.9h1v1h-1zM59.2 42.4h1v1h-1zM53.3 2.4h0.9v0.9h-0.9zM41.9 56.0h1v1h-1zM57.9 24.8h1.3v1.3h-1.3zM10.4 2.9h0.9v0.9h-0.9zM38.6 1.5h1v1h-1zM58.5 59.0h1.1v1.1h-1.1zM63.0 9.6h1.1v1.1h-1.1zM63.3 22.5h1v1h-1zM-0.2 38.6h1v1h-1zM72.8 26.3h0.8v0.8h-0.8zM21.2 21.5h0.9v0.9h-0.9zM43.3 58.8h0.9v0.9h-0.9zM6.6 21.8h1.3v1.3h-1.3zM56.8 37.0h0.9v0.9h-0.9zM11.6 29.6h1.1v1.1h-1.1zM65.6 56.6h0.8v0.8h-0.8zM39.8 47.7h1.1v1.1h-1.1zM46.6 55.1h0.9v0.9h-0.9zM16.7 37.1h1v1h-1zM43.1 4.4h0.9v0.9h-0.9zM28.7 25.4h1.3v1.3h-1.3zM61.8 34.4h0.8v0.8h-0.8zM3.1 13.3h1.1v1.1h-1.1zM25.9 11.9h1.3v1.3h-1.3zM72.1 37.5h0.9v0.9h-0.9zM36.0 31.7h1v1h-1zM74.4 5.4h1.1v1.1h-1.1zM21.3 1.3h1v1h-1zM18.8 32.2h0.8v0.8h-0.8zM21.4 12.9h0.8v0.8h-0.8zM18.9 32.6h1v1h-1zM65.5 17.1h1v1h-1zM17.9 16.0h1.3v1.3h-1.3zM64.5 24.5h0.9v0.9h-0.9zM6.7 12.7h0.9v0.9h-0.9zM69.7 25.6h1.3v1.3h-1.3zM55.2 7.1h0.8v0.8h-0.8zM18.5 20.4h0.8v0.8h-0.8zM67.6 18.6h1.1v1.1h-1.1zM40.9 42.3h0.8v0.8h-0.8zM-0.9 58.5h0.8v0.8h-0.8zM49.1 50.1h0.9v0.9h-0.9zM73.9 58.8h1.1v1.1h-1.1zM75.1 0.6h1.3v1.3h-1.3zM5.4 3.2h1.1v1.1h-1.1zM26.8 0.7h1.3v1.3h-1.3zM23.3 21.7h0.9v0.9h-0.9zM23.1 26.2h1.1v1.1h-1.1zM10.2 38.6h0.8v0.8h-0.8zM40.1 38.8h1.1v1.1h-1.1zM63.2 53.0h0.9v0.9h-0.9zM15.7 51.2h1v1h-1zM75.9 46.8h1.3v1.3h-1.3zM43.7 51.7h1.1v1.1h-1.1zM20.3 21.2h1v1h-1zM48.7 47.2h1.1v1.1h-1.1zM63.3 19.1h1v1h-1zM40.2 43.6h0.8v0.8h-0.8zM56.0 12.1h0.8v0.8h-0.8z" fill="#c4c8d0" filter="url(#bl4)"/>
<path d="M76.1 56.2h1v1h-1zM12.3 9.7h1v1h-1zM70.1 46.4h0.9v0.9h-0.9zM67.8 13.8h1.1v1.1h-1.1zM2.3 54.5h0.9v0.9h-0.9zM19.7 24.6h0.9v0.9h-0.9zM18.4 5.0h0.8v0.8h-0.8zM70.7 36.1h1v1h-1zM74.1 49.5h0.9v0.9h-0.9zM9.6 6.0h0.8v0.8h-0.8zM40.2 49.3h0.9v0.9h-0.9zM46.7 41.4h0.9v0.9h-0.9zM44.6 55.4h1v1h-1zM33.4 46.3h1.1v1.1h-1.1zM68.1 41.1h0.9v0.9h-0.9zM15.1 13.6h0.9v0.9h-0.9zM4.2 3.9h0.9v0.9h-0.9zM0.4 53.0h1v1h-1zM66.2 14.8h1.1v1.1h-1.1zM20.3 51.3h0.9v0.9h-0.9zM70.6 34.4h0.9v0.9h-0.9zM73.1 37.3h0.9v0.9h-0.9zM19.5 26.4h0.9v0.9h-0.9zM71.5 13.9h1v1h-1zM50.3 5.3h1.1v1.1h-1.1zM49.5 43.8h0.9v0.9h-0.9zM34.0 24.9h1.3v1.3h-1.3zM58.3 4.1h0.8v0.8h-0.8zM53.5 8.6h0.8v0.8h-0.8zM53.1 35.7h0.9v0.9h-0.9zM38.2 54.8h1.1v1.1h-1.1zM49.8 44.0h1.1v1.1h-1.1zM17.4 14.0h1.3v1.3h-1.3zM66.1 10.2h0.9v0.9h-0.9zM55.9 5.5h1.3v1.3h-1.3zM28.7 18.5h1.3v1.3h-1.3zM14.5 45.7h0.9v0.9h-0.9zM23.0 3.6h1.1v1.1h-1.1zM54.5 5.2h1.1v1.1h-1.1zM46.4 37.1h1v1h-1zM17.9 16.0h0.9v0.9h-0.9zM72.2 57.2h1.1v1.1h-1.1zM9.1 22.1h1.1v1.1h-1.1zM17.7 17.6h1.1v1.1h-1.1zM30.8 43.8h1v1h-1zM25.3 40.2h0.8v0.8h-0.8zM71.8 53.6h1.1v1.1h-1.1zM4.2 20.3h0.9v0.9h-0.9zM8.2 4.0h1.3v1.3h-1.3zM29.9 51.9h0.8v0.8h-0.8zM52.1 20.8h1v1h-1zM40.0 52.4h0.9v0.9h-0.9zM27.0 50.0h0.8v0.8h-0.8zM51.1 40.6h0.9v0.9h-0.9zM55.1 4.6h1.1v1.1h-1.1zM59.3 11.2h0.8v0.8h-0.8zM4.5 55.0h0.8v0.8h-0.8zM20.2 7.5h1.1v1.1h-1.1zM71.0 36.2h1.1v1.1h-1.1zM47.5 37.8h1.3v1.3h-1.3zM71.5 20.6h1v1h-1zM7.3 58.9h0.8v0.8h-0.8zM66.1 45.3h1v1h-1zM22.9 52.1h0.9v0.9h-0.9zM41.9 13.1h1.3v1.3h-1.3zM29.2 19.0h1.3v1.3h-1.3zM34.3 31.7h1v1h-1zM55.7 5.0h1v1h-1zM40.7 51.4h0.9v0.9h-0.9zM16.0 14.4h1v1h-1zM67.2 9.9h1v1h-1zM63.1 31.5h0.8v0.8h-0.8zM16.3 26.6h0.9v0.9h-0.9zM17.6 26.3h0.8v0.8h-0.8zM21.2 51.2h1.1v1.1h-1.1zM38.1 4.3h0.9v0.9h-0.9zM52.5 22.8h1.1v1.1h-1.1zM8.8 48.2h1v1h-1zM35.4 27.4h1v1h-1zM19.0 30.6h1.3v1.3h-1.3zM67.5 3.1h1v1h-1zM68.6 22.0h0.8v0.8h-0.8zM24.1 50.4h0.8v0.8h-0.8zM64.5 38.3h0.9v0.9h-0.9zM10.0 44.0h0.9v0.9h-0.9zM26.9 44.6h1v1h-1zM39.0 26.7h1v1h-1zM70.0 32.5h0.8v0.8h-0.8zM28.9 43.7h1.3v1.3h-1.3zM68.8 36.4h1v1h-1zM2.8 0.0h1.3v1.3h-1.3zM46.3 58.3h1v1h-1zM44.4 41.5h0.9v0.9h-0.9zM38.6 49.1h1.1v1.1h-1.1zM50.3 40.2h0.8v0.8h-0.8zM47.0 54.7h0.8v0.8h-0.8zM6.1 5.1h1v1h-1zM42.9 51.9h1v1h-1zM58.8 20.6h1.1v1.1h-1.1zM36.6 29.2h0.8v0.8h-0.8zM50.4 37.4h1v1h-1zM2.8 -1.0h0.8v0.8h-0.8zM52.0 44.9h0.9v0.9h-0.9zM66.9 10.7h0.9v0.9h-0.9zM39.2 55.6h0.9v0.9h-0.9zM7.3 50.9h1v1h-1zM20.3 21.6h0.8v0.8h-0.8zM57.1 19.8h1.3v1.3h-1.3zM48.2 40.6h1.3v1.3h-1.3zM68.5 44.5h1.3v1.3h-1.3zM71.1 46.6h0.9v0.9h-0.9zM16.1 9.4h0.9v0.9h-0.9zM68.2 7.5h0.9v0.9h-0.9zM71.5 46.1h1.3v1.3h-1.3zM71.7 43.5h1.1v1.1h-1.1zM22.9 32.0h0.9v0.9h-0.9zM2.9 5.3h1.1v1.1h-1.1zM31.9 30.4h0.8v0.8h-0.8zM21.1 24.9h1v1h-1zM17.0 24.0h1.1v1.1h-1.1zM65.5 10.1h1.1v1.1h-1.1zM3.8 18.8h1.3v1.3h-1.3zM6.9 16.3h1.3v1.3h-1.3zM8.1 19.2h0.9v0.9h-0.9zM69.9 12.0h1v1h-1zM68.1 37.0h1.1v1.1h-1.1zM54.8 5.4h1.3v1.3h-1.3zM18.5 26.2h1.1v1.1h-1.1zM34.7 44.1h1v1h-1zM20.6 28.6h0.8v0.8h-0.8zM72.4 29.7h0.8v0.8h-0.8zM64.9 36.5h1.3v1.3h-1.3zM74.4 44.8h0.9v0.9h-0.9zM76.0 49.9h0.8v0.8h-0.8zM35.0 26.5h1.1v1.1h-1.1zM34.0 17.3h0.9v0.9h-0.9zM19.6 13.8h1.3v1.3h-1.3zM68.8 46.2h1v1h-1zM18.0 9.0h1.1v1.1h-1.1zM31.7 17.7h0.9v0.9h-0.9zM43.6 51.0h1.1v1.1h-1.1zM52.5 16.5h0.9v0.9h-0.9zM36.0 28.7h0.8v0.8h-0.8zM46.5 8.9h1.3v1.3h-1.3zM27.6 42.8h0.8v0.8h-0.8zM18.8 5.4h0.8v0.8h-0.8zM25.0 49.1h0.8v0.8h-0.8zM67.2 26.4h0.8v0.8h-0.8zM36.3 27.2h1.1v1.1h-1.1zM30.5 23.1h0.8v0.8h-0.8z" fill="#b89078" filter="url(#bl4)"/>
<path d="M78.1 57.1h1.1v1.1h-1.1zM71.4 44.9h0.9v0.9h-0.9zM0.6 57.0h1v1h-1zM23.6 42.7h0.9v0.9h-0.9zM68.0 11.9h1.1v1.1h-1.1zM13.9 7.5h1.3v1.3h-1.3zM41.9 37.5h1.1v1.1h-1.1zM6.1 54.8h0.9v0.9h-0.9zM19.2 24.4h0.9v0.9h-0.9zM3.0 53.3h0.9v0.9h-0.9zM29.4 17.0h0.9v0.9h-0.9zM2.2 7.3h1.1v1.1h-1.1zM67.5 30.3h0.8v0.8h-0.8zM65.5 6.2h1.1v1.1h-1.1zM65.2 36.5h0.8v0.8h-0.8zM47.8 43.3h0.8v0.8h-0.8zM10.3 41.7h1.1v1.1h-1.1zM51.5 36.0h1.3v1.3h-1.3zM21.0 36.3h0.8v0.8h-0.8zM78.2 50.5h0.8v0.8h-0.8zM15.9 38.2h1.1v1.1h-1.1zM7.6 0.1h1v1h-1zM39.2 51.2h1.1v1.1h-1.1zM36.7 10.1h1v1h-1zM-0.4 11.5h1.3v1.3h-1.3zM42.4 49.5h0.8v0.8h-0.8zM22.7 53.9h1v1h-1zM13.6 38.8h1.1v1.1h-1.1zM40.3 50.9h1.3v1.3h-1.3zM72.7 24.8h1v1h-1zM10.2 48.7h1.3v1.3h-1.3zM64.9 26.3h1.3v1.3h-1.3zM73.7 55.2h0.8v0.8h-0.8zM50.3 15.0h1v1h-1zM5.8 50.3h0.9v0.9h-0.9zM49.1 37.3h0.8v0.8h-0.8zM30.5 40.6h0.8v0.8h-0.8zM10.9 8.7h1.3v1.3h-1.3zM54.2 7.0h1.1v1.1h-1.1zM72.9 55.9h1v1h-1zM4.7 20.7h1v1h-1zM32.9 15.3h1.3v1.3h-1.3zM74.9 54.5h0.9v0.9h-0.9zM32.1 42.3h1.3v1.3h-1.3zM9.6 45.4h0.9v0.9h-0.9zM34.0 48.3h0.8v0.8h-0.8zM30.9 47.2h1.3v1.3h-1.3zM33.2 41.4h0.8v0.8h-0.8zM55.3 21.1h0.8v0.8h-0.8zM43.8 55.9h1.1v1.1h-1.1zM8.8 18.5h1.1v1.1h-1.1zM75.6 36.2h0.9v0.9h-0.9zM35.2 27.2h0.8v0.8h-0.8zM55.1 8.4h1v1h-1zM37.8 33.5h1.3v1.3h-1.3zM74.1 37.9h0.8v0.8h-0.8zM44.3 56.0h1.1v1.1h-1.1zM39.7 53.1h0.9v0.9h-0.9zM62.8 18.6h1v1h-1zM23.6 46.2h0.9v0.9h-0.9zM17.1 28.3h1.1v1.1h-1.1zM-0.8 54.6h0.8v0.8h-0.8zM40.3 52.1h1v1h-1zM72.6 52.5h0.9v0.9h-0.9zM78.4 53.9h0.8v0.8h-0.8zM59.1 19.2h1.1v1.1h-1.1zM13.9 5.2h1.1v1.1h-1.1zM61.3 30.3h1.1v1.1h-1.1zM48.2 34.5h0.8v0.8h-0.8zM4.3 56.7h1v1h-1zM33.8 55.2h0.8v0.8h-0.8zM67.8 28.4h0.8v0.8h-0.8zM40.2 54.5h0.9v0.9h-0.9zM69.3 39.5h1.3v1.3h-1.3zM2.9 59.1h0.9v0.9h-0.9zM69.9 11.0h1.3v1.3h-1.3zM3.7 9.9h1.1v1.1h-1.1zM72.9 28.5h0.9v0.9h-0.9zM36.5 26.9h0.8v0.8h-0.8zM54.9 25.0h1v1h-1zM78.6 49.4h1v1h-1zM59.1 22.9h1.3v1.3h-1.3zM-0.4 51.6h0.9v0.9h-0.9zM35.9 30.8h0.8v0.8h-0.8zM23.3 56.3h1v1h-1zM73.5 49.4h1v1h-1zM32.1 11.3h0.9v0.9h-0.9zM6.4 57.9h1.1v1.1h-1.1zM66.0 12.4h1v1h-1zM59.1 5.4h1v1h-1zM55.2 4.6h1v1h-1zM32.9 34.0h1v1h-1zM48.8 4.5h0.8v0.8h-0.8zM14.0 28.0h1.1v1.1h-1.1zM30.3 22.6h0.8v0.8h-0.8zM6.3 35.0h0.8v0.8h-0.8zM30.7 47.8h0.8v0.8h-0.8zM79.3 54.6h1.3v1.3h-1.3zM21.3 26.7h0.9v0.9h-0.9zM42.6 41.5h1v1h-1zM15.5 42.2h1.1v1.1h-1.1zM37.3 27.3h1v1h-1zM39.9 11.4h1.3v1.3h-1.3zM39.1 54.1h0.9v0.9h-0.9zM9.8 49.7h1v1h-1zM69.0 38.4h1v1h-1zM23.7 28.9h1v1h-1zM8.4 5.5h1v1h-1zM37.2 50.0h1.1v1.1h-1.1zM34.4 29.8h0.8v0.8h-0.8zM20.3 47.3h0.8v0.8h-0.8zM10.5 43.6h0.9v0.9h-0.9zM69.7 57.9h1v1h-1zM32.7 44.5h1v1h-1zM21.7 30.1h1v1h-1zM66.1 46.1h1v1h-1zM16.9 6.4h0.8v0.8h-0.8zM45.3 40.1h0.8v0.8h-0.8zM34.5 43.2h1.3v1.3h-1.3zM3.4 7.3h1v1h-1zM46.1 35.6h1v1h-1zM-0.2 2.1h0.9v0.9h-0.9zM32.1 1.6h1.3v1.3h-1.3zM12.6 57.5h0.8v0.8h-0.8zM76.5 52.0h1v1h-1zM49.2 38.9h1.3v1.3h-1.3zM15.8 50.9h1.3v1.3h-1.3zM56.1 19.4h0.8v0.8h-0.8zM56.3 23.2h1v1h-1zM59.5 20.0h1v1h-1zM5.5 16.8h0.9v0.9h-0.9zM3.5 18.4h1v1h-1zM33.1 26.2h1.3v1.3h-1.3zM2.8 2.9h0.9v0.9h-0.9zM67.7 58.5h1.3v1.3h-1.3zM29.9 44.5h1v1h-1zM15.3 56.1h1.3v1.3h-1.3zM25.0 39.1h1.1v1.1h-1.1zM54.7 21.0h1.3v1.3h-1.3zM53.1 29.5h1.3v1.3h-1.3zM69.4 8.3h0.9v0.9h-0.9zM31.8 29.3h1v1h-1zM55.0 21.7h1.1v1.1h-1.1zM46.9 23.2h1.3v1.3h-1.3zM73.5 55.9h0.8v0.8h-0.8zM73.8 37.4h0.8v0.8h-0.8zM22.4 26.5h1v1h-1zM34.6 26.3h0.9v0.9h-0.9zM73.4 55.1h1.1v1.1h-1.1zM-0.0 26.6h1v1h-1zM4.2 1.3h0.8v0.8h-0.8zM15.6 29.7h1v1h-1zM69.3 49.7h1.3v1.3h-1.3zM15.7 11.3h1v1h-1zM48.3 39.1h1.1v1.1h-1.1zM16.0 25.5h1.3v1.3h-1.3zM75.2 56.1h1.3v1.3h-1.3zM71.6 49.0h0.8v0.8h-0.8zM11.0 46.9h1.3v1.3h-1.3zM23.7 45.6h0.9v0.9h-0.9zM8.8 22.0h0.8v0.8h-0.8zM35.4 23.2h0.9v0.9h-0.9zM37.1 26.7h0.8v0.8h-0.8zM16.0 54.8h1v1h-1zM9.0 50.4h1.1v1.1h-1.1zM72.5 10.1h0.8v0.8h-0.8zM1.1 7.7h0.8v0.8h-0.8zM23.3 51.4h0.9v0.9h-0.9zM67.0 19.7h1.1v1.1h-1.1zM76.5 50.5h1v1h-1zM38.1 54.1h0.9v0.9h-0.9zM33.4 42.1h1v1h-1z" fill="#a07058" filter="url(#bl4)"/>
<path d="M58.2 30.6h0.8v0.8h-0.8zM34.4 30.6h1.1v1.1h-1.1zM3.3 15.5h1.1v1.1h-1.1zM33.6 46.0h1.3v1.3h-1.3zM48.7 36.8h1.1v1.1h-1.1zM71.9 42.3h0.9v0.9h-0.9zM32.8 49.3h1.3v1.3h-1.3zM41.3 52.5h0.8v0.8h-0.8zM33.1 15.3h0.8v0.8h-0.8zM6.2 55.2h0.9v0.9h-0.9zM76.1 38.7h1.1v1.1h-1.1zM48.6 41.4h1.3v1.3h-1.3zM76.8 56.2h1.1v1.1h-1.1zM13.0 47.6h1.1v1.1h-1.1zM16.7 46.5h0.8v0.8h-0.8zM74.8 53.8h1v1h-1zM1.3 14.4h0.8v0.8h-0.8zM73.9 53.3h0.9v0.9h-0.9zM69.1 44.4h0.9v0.9h-0.9zM67.6 30.2h0.8v0.8h-0.8zM64.5 4.1h0.9v0.9h-0.9zM61.7 23.0h1.1v1.1h-1.1zM11.5 56.0h1.3v1.3h-1.3zM4.8 50.0h0.9v0.9h-0.9zM10.1 17.7h1.1v1.1h-1.1zM72.7 31.0h0.9v0.9h-0.9zM34.3 26.0h1.3v1.3h-1.3zM24.8 17.5h0.9v0.9h-0.9zM38.9 26.7h0.8v0.8h-0.8zM65.4 6.6h0.8v0.8h-0.8zM66.7 23.3h1v1h-1zM54.2 27.1h1.3v1.3h-1.3zM7.4 44.3h0.8v0.8h-0.8zM57.4 29.7h1v1h-1zM41.3 55.0h1.3v1.3h-1.3zM14.5 33.7h1v1h-1zM76.7 50.3h1v1h-1zM59.3 26.7h0.9v0.9h-0.9zM66.8 12.7h1.1v1.1h-1.1zM69.2 6.4h0.8v0.8h-0.8zM9.0 54.6h1.3v1.3h-1.3zM42.6 36.7h1v1h-1zM78.4 40.4h1v1h-1zM15.6 36.9h1v1h-1zM20.1 28.8h1.1v1.1h-1.1zM53.5 9.8h0.9v0.9h-0.9zM67.4 11.5h1.3v1.3h-1.3zM50.2 18.9h1.3v1.3h-1.3zM27.8 40.1h1v1h-1zM21.8 30.8h0.8v0.8h-0.8zM41.9 41.9h1.3v1.3h-1.3zM57.0 14.4h1.1v1.1h-1.1zM30.9 44.1h1v1h-1zM39.0 51.8h0.9v0.9h-0.9zM8.4 44.6h1v1h-1zM33.5 18.1h1v1h-1zM70.6 41.8h1.1v1.1h-1.1zM55.9 31.2h0.9v0.9h-0.9zM10.0 44.4h1.1v1.1h-1.1zM68.7 8.5h1.3v1.3h-1.3zM6.9 38.9h1v1h-1zM1.7 44.5h1v1h-1zM13.3 45.7h1.3v1.3h-1.3zM65.6 12.3h1.1v1.1h-1.1zM7.1 17.7h0.8v0.8h-0.8zM29.2 13.2h0.9v0.9h-0.9zM44.3 34.8h1.3v1.3h-1.3zM28.5 27.8h1v1h-1zM52.3 17.8h0.8v0.8h-0.8zM24.0 44.8h1v1h-1zM16.0 27.0h0.8v0.8h-0.8zM52.7 30.9h0.8v0.8h-0.8zM8.8 54.1h0.8v0.8h-0.8zM38.0 49.7h1.1v1.1h-1.1zM70.5 42.1h0.9v0.9h-0.9zM19.3 28.6h0.8v0.8h-0.8zM32.0 14.1h0.9v0.9h-0.9zM-0.1 7.7h1v1h-1zM3.4 58.0h1v1h-1zM20.7 53.3h0.8v0.8h-0.8zM0.2 7.8h1v1h-1zM72.4 49.0h1.1v1.1h-1.1zM68.7 11.3h1.3v1.3h-1.3zM30.4 5.8h1.3v1.3h-1.3zM38.1 55.3h1v1h-1zM34.2 19.0h1.3v1.3h-1.3zM26.2 42.7h0.9v0.9h-0.9zM28.4 18.0h1.3v1.3h-1.3zM18.2 25.1h0.9v0.9h-0.9zM15.2 11.1h0.8v0.8h-0.8zM31.2 19.1h1.3v1.3h-1.3zM49.5 40.7h1.3v1.3h-1.3zM68.8 6.8h0.9v0.9h-0.9zM40.4 52.0h1.3v1.3h-1.3zM68.3 9.6h0.8v0.8h-0.8zM26.2 15.3h1.1v1.1h-1.1zM65.0 28.7h1.3v1.3h-1.3zM10.3 13.9h0.8v0.8h-0.8zM47.2 37.4h1.3v1.3h-1.3zM12.3 57.3h1v1h-1zM43.9 11.9h0.8v0.8h-0.8zM45.3 54.1h0.9v0.9h-0.9zM34.2 25.9h1v1h-1zM5.9 55.9h0.9v0.9h-0.9zM70.0 48.3h0.8v0.8h-0.8zM59.2 14.5h1.3v1.3h-1.3zM74.9 28.2h0.9v0.9h-0.9zM42.8 56.5h1.3v1.3h-1.3zM3.2 4.5h1v1h-1zM4.2 8.4h1.3v1.3h-1.3zM19.3 58.0h1.1v1.1h-1.1zM34.1 50.7h1.1v1.1h-1.1zM56.0 19.7h0.8v0.8h-0.8zM13.9 45.2h0.9v0.9h-0.9zM14.4 45.1h1.3v1.3h-1.3zM22.2 26.5h1.1v1.1h-1.1zM14.3 12.2h0.9v0.9h-0.9zM58.4 32.6h0.9v0.9h-0.9zM47.6 54.0h0.9v0.9h-0.9zM59.2 17.9h0.8v0.8h-0.8zM13.5 36.9h0.8v0.8h-0.8zM17.7 35.6h1.1v1.1h-1.1zM57.2 32.7h1v1h-1zM6.7 35.1h1.3v1.3h-1.3zM10.8 23.6h1v1h-1zM61.9 19.5h0.9v0.9h-0.9zM73.7 26.8h0.8v0.8h-0.8zM75.9 36.0h0.8v0.8h-0.8zM4.4 18.3h1.1v1.1h-1.1zM72.5 14.3h1v1h-1zM2.2 26.4h0.9v0.9h-0.9zM69.8 8.6h1.3v1.3h-1.3zM29.2 3.1h0.9v0.9h-0.9zM72.5 37.9h1.1v1.1h-1.1zM39.1 25.1h1.1v1.1h-1.1zM61.4 24.2h1.3v1.3h-1.3zM40.6 52.7h1.1v1.1h-1.1zM65.6 10.8h1.1v1.1h-1.1zM33.7 54.5h0.8v0.8h-0.8zM23.1 53.5h0.8v0.8h-0.8zM10.1 48.7h1.1v1.1h-1.1zM1.6 -0.0h1.3v1.3h-1.3zM20.1 7.1h0.8v0.8h-0.8zM5.5 19.1h1v1h-1zM67.8 23.8h0.8v0.8h-0.8zM57.3 27.8h1.3v1.3h-1.3zM74.7 29.5h0.9v0.9h-0.9zM27.4 43.2h0.9v0.9h-0.9zM26.4 21.4h1v1h-1zM71.3 31.0h0.8v0.8h-0.8zM68.2 43.4h0.8v0.8h-0.8zM31.8 45.1h0.9v0.9h-0.9zM74.3 52.0h0.9v0.9h-0.9zM34.8 23.3h1.1v1.1h-1.1zM43.0 18.2h0.8v0.8h-0.8zM8.1 -0.3h1.3v1.3h-1.3zM21.5 4.6h1v1h-1zM3.2 1.8h1.3v1.3h-1.3zM37.3 55.3h0.9v0.9h-0.9zM33.4 15.8h1.3v1.3h-1.3z" fill="#c8a890" filter="url(#bl4)"/>
</svg>
<circle cx="415.6" cy="140.1" r="1.0" fill="#5a3020" opacity="0.75" filter="url(#bl)"/>
<circle cx="419.2" cy="153.7" r="1.0" fill="#5a3020" opacity="0.75" filter="url(#bl)"/>
<circle cx="432.8" cy="161.6" r="1.0" fill="#5a3020" opacity="0.75" filter="url(#bl)"/>
<circle cx="449.1" cy="164.0" r="1.0" fill="#5a3020" opacity="0.75" filter="url(#bl)"/>
<circle cx="444.3" cy="151.6" r="1.0" fill="#5a3020" opacity="0.75" filter="url(#bl)"/>
<circle cx="466.9" cy="140.1" r="1.0" fill="#5a3020" opacity="0.75" filter="url(#bl)"/>
<circle cx="480.2" cy="143.5" r="1.0" fill="#5a3020" opacity="0.75" filter="url(#bl)"/>
<circle cx="481.7" cy="161.7" r="1.0" fill="#5a3020" opacity="0.75" filter="url(#bl)"/>
<circle cx="422.7" cy="180.9" r="1.0" fill="#5a3020" opacity="0.75" filter="url(#bl)"/>
<circle cx="441.2" cy="180.7" r="1.0" fill="#5a3020" opacity="0.75" filter="url(#bl)"/>
<circle cx="459.9" cy="173.4" r="1.0" fill="#5a3020" opacity="0.75" filter="url(#bl)"/>
<circle cx="483.6" cy="177.2" r="1.0" fill="#5a3020" opacity="0.75" filter="url(#bl)"/>
<circle cx="417.4" cy="190.1" r="1.0" fill="#5a3020" opacity="0.75" filter="url(#bl)"/>
<circle cx="453.4" cy="188.9" r="1.0" fill="#5a3020" opacity="0.75" filter="url(#bl)"/>
<rect x="329.6" y="206.4" width="79.8" height="60.5" fill="#f4f0ee"/>
<svg x="329.6" y="206.4" width="79.8" height="60.5" overflow="hidden">
<circle cx="45.4" cy="45.6" r="10" fill="#e8c8b0" opacity="0.3" filter="url(#bl3)"/>
<circle cx="25.4" cy="51.6" r="8" fill="#e8c8b0" opacity="0.2" filter="url(#bl3)"/>
<circle cx="8.4" cy="8.6" r="6" fill="#e8c8b0" opacity="0.25" filter="url(#bl3)"/>
<path d="M11.9 57.9h1v1h-1zM30.9 48.3h1v1h-1zM68.2 59.9h1v1h-1zM50.1 59.8h0.8v0.8h-0.8zM30.2 52.3h1.3v1.3h-1.3zM20.3 47.4h1.3v1.3h-1.3zM7.2 18.8h1.1v1.1h-1.1zM70.5 26.7h0.8v0.8h-0.8zM68.8 19.9h1.3v1.3h-1.3zM34.1 57.4h0.8v0.8h-0.8zM27.4 11.1h0.9v0.9h-0.9zM18.3 15.8h0.8v0.8h-0.8zM61.7 -0.9h0.8v0.8h-0.8zM40.6 29.1h1v1h-1zM78.8 25.4h1.1v1.1h-1.1zM51.5 32.3h1.3v1.3h-1.3zM33.0 41.7h0.9v0.9h-0.9zM62.9 15.1h1.3v1.3h-1.3zM7.3 35.1h0.9v0.9h-0.9zM61.6 1.7h1.1v1.1h-1.1zM13.5 0.4h0.8v0.8h-0.8zM41.7 13.7h1.3v1.3h-1.3zM3.9 18.9h0.9v0.9h-0.9zM11.6 23.7h0.8v0.8h-0.8zM57.1 10.4h0.9v0.9h-0.9zM68.0 35.0h1v1h-1zM0.9 28.5h1.3v1.3h-1.3zM28.1 18.8h1.1v1.1h-1.1zM68.2 23.6h1.1v1.1h-1.1zM76.5 51.5h1v1h-1zM10.1 37.2h1v1h-1zM12.7 1.8h0.8v0.8h-0.8zM8.5 15.2h1v1h-1zM35.6 44.1h1v1h-1zM41.5 40.0h1v1h-1zM13.5 53.7h0.8v0.8h-0.8zM62.2 42.4h1.3v1.3h-1.3zM64.9 45.0h1.1v1.1h-1.1zM63.5 32.5h0.9v0.9h-0.9zM1.4 10.7h0.9v0.9h-0.9zM38.7 31.2h1.3v1.3h-1.3zM44.7 58.0h1.1v1.1h-1.1zM25.5 20.1h1.3v1.3h-1.3zM74.3 52.0h1.1v1.1h-1.1zM24.5 47.4h0.9v0.9h-0.9zM68.1 31.8h0.9v0.9h-0.9zM46.2 30.0h0.8v0.8h-0.8zM48.2 26.2h1.1v1.1h-1.1zM35.2 24.1h0.9v0.9h-0.9zM31.6 23.4h0.9v0.9h-0.9zM24.6 2.5h1.3v1.3h-1.3zM48.9 5.4h0.9v0.9h-0.9zM6.1 17.0h1.3v1.3h-1.3zM73.6 21.3h1.1v1.1h-1.1zM62.0 28.6h1.3v1.3h-1.3zM60.3 40.7h1.3v1.3h-1.3zM67.2 38.5h1.1v1.1h-1.1zM4.8 23.6h1v1h-1zM46.3 -0.3h0.9v0.9h-0.9zM62.7 31.9h1.3v1.3h-1.3zM5.4 49.8h0.8v0.8h-0.8zM33.2 38.9h0.9v0.9h-0.9zM5.8 12.4h0.9v0.9h-0.9zM22.6 56.5h0.8v0.8h-0.8zM7.4 17.4h0.9v0.9h-0.9zM11.0 0.3h0.9v0.9h-0.9zM72.7 48.7h1.1v1.1h-1.1zM32.5 30.9h0.8v0.8h-0.8zM21.6 42.6h1.1v1.1h-1.1zM32.4 54.3h0.8v0.8h-0.8zM55.4 6.1h0.8v0.8h-0.8zM13.1 28.9h0.9v0.9h-0.9zM54.8 27.7h0.9v0.9h-0.9zM78.8 16.3h1v1h-1zM9.3 20.7h0.9v0.9h-0.9zM4.2 32.6h1v1h-1zM31.9 32.1h1.3v1.3h-1.3zM66.9 7.0h1.1v1.1h-1.1zM48.6 9.9h0.8v0.8h-0.8zM6.5 32.2h1.3v1.3h-1.3zM16.1 3.6h1.3v1.3h-1.3zM58.6 49.9h1.1v1.1h-1.1zM37.4 53.8h0.8v0.8h-0.8zM65.5 35.8h1v1h-1zM70.4 11.4h0.8v0.8h-0.8zM15.4 17.4h1.3v1.3h-1.3zM38.9 51.5h1.1v1.1h-1.1zM8.7 55.2h1v1h-1zM15.8 17.7h0.9v0.9h-0.9zM5.4 32.0h1.3v1.3h-1.3zM14.9 24.1h0.8v0.8h-0.8zM17.6 15.0h1.1v1.1h-1.1zM7.0 42.3h1.1v1.1h-1.1zM26.0 6.1h0.9v0.9h-0.9zM2.4 29.2h1v1h-1zM46.3 22.9h1.1v1.1h-1.1zM67.5 43.7h1.3v1.3h-1.3zM44.5 58.4h0.9v0.9h-0.9zM18.1 -0.6h1.1v1.1h-1.1zM30.7 23.3h1.3v1.3h-1.3zM41.1 25.2h0.9v0.9h-0.9zM17.3 31.4h1.1v1.1h-1.1zM8.2 40.9h1.1v1.1h-1.1zM39.1 21.3h1.1v1.1h-1.1zM62.6 45.0h1v1h-1zM59.1 57.8h1v1h-1zM47.5 39.8h1.3v1.3h-1.3zM28.4 43.6h0.9v0.9h-0.9zM29.6 29.9h1.1v1.1h-1.1zM30.9 38.7h0.9v0.9h-0.9zM44.8 41.0h0.9v0.9h-0.9zM31.0 30.5h1.3v1.3h-1.3zM16.3 55.5h1.1v1.1h-1.1zM39.2 37.5h1v1h-1zM16.3 6.5h1.1v1.1h-1.1zM18.7 12.6h0.8v0.8h-0.8zM74.5 45.3h1v1h-1zM26.8 16.9h0.9v0.9h-0.9zM18.2 45.0h0.8v0.8h-0.8zM13.0 18.7h1v1h-1zM2.8 46.9h1.1v1.1h-1.1zM-0.2 3.6h1.3v1.3h-1.3zM78.2 2.3h1.3v1.3h-1.3zM69.7 32.7h0.8v0.8h-0.8zM63.6 2.0h1.3v1.3h-1.3zM23.5 18.8h1.3v1.3h-1.3zM22.6 20.2h1v1h-1zM35.8 58.4h0.8v0.8h-0.8zM64.7 47.1h0.9v0.9h-0.9zM-1.0 9.9h1.1v1.1h-1.1zM53.5 6.3h1.3v1.3h-1.3zM25.4 9.5h1.1v1.1h-1.1zM77.8 15.4h0.8v0.8h-0.8zM48.7 13.0h0.9v0.9h-0.9zM30.7 11.7h1.3v1.3h-1.3zM46.2 18.1h1.3v1.3h-1.3zM69.4 33.4h1.3v1.3h-1.3zM31.4 3.8h1v1h-1zM34.4 44.0h0.9v0.9h-0.9zM46.7 20.4h1.3v1.3h-1.3zM53.9 55.1h0.8v0.8h-0.8zM77.5 -0.9h0.8v0.8h-0.8zM15.2 9.4h1.1v1.1h-1.1zM29.9 54.4h0.8v0.8h-0.8zM13.8 10.3h1.1v1.1h-1.1zM21.4 53.6h1.3v1.3h-1.3zM11.9 37.2h0.8v0.8h-0.8zM44.0 25.2h1.1v1.1h-1.1zM6.2 56.1h0.9v0.9h-0.9zM72.9 27.2h1v1h-1zM59.4 22.3h1.3v1.3h-1.3zM56.5 36.2h0.8v0.8h-0.8zM53.8 16.9h0.8v0.8h-0.8zM7.5 9.9h1v1h-1zM70.1 56.9h1v1h-1zM45.9 3.3h1.1v1.1h-1.1zM4.5 52.3h0.9v0.9h-0.9zM54.8 18.2h1.1v1.1h-1.1zM29.8 50.5h1v1h-1zM29.1 19.5h1.1v1.1h-1.1zM5.8 50.5h0.9v0.9h-0.9zM7.0 3.1h1.3v1.3h-1.3zM18.5 18.5h0.9v0.9h-0.9zM63.0 45.5h1.1v1.1h-1.1zM26.2 34.4h1v1h-1zM68.0 34.2h0.9v0.9h-0.9zM15.9 23.6h0.8v0.8h-0.8zM52.6 4.4h1.3v1.3h-1.3zM33.6 58.4h1.1v1.1h-1.1zM72.1 20.6h0.9v0.9h-0.9zM59.2 29.6h1v1h-1zM21.0 26.9h1.3v1.3h-1.3zM33.3 5.1h1v1h-1zM19.9 57.5h1.3v1.3h-1.3zM59.4 8.8h0.8v0.8h-0.8zM73.2 44.0h0.9v0.9h-0.9zM50.6 29.5h1.3v1.3h-1.3zM74.2 58.2h1v1h-1zM58.2 27.1h1.3v1.3h-1.3zM44.2 52.2h1.1v1.1h-1.1zM69.0 18.3h1v1h-1zM8.0 30.4h1v1h-1zM5.1 57.7h0.9v0.9h-0.9zM0.6 26.1h0.8v0.8h-0.8zM73.2 38.5h1v1h-1zM41.4 42.7h1v1h-1zM-1.0 24.3h1.3v1.3h-1.3zM64.3 1.5h1.3v1.3h-1.3zM5.1 36.3h1.1v1.1h-1.1zM40.0 3.7h0.9v0.9h-0.9zM1.5 25.9h0.9v0.9h-0.9zM75.9 51.6h0.8v0.8h-0.8zM15.3 30.3h1v1h-1zM77.3 12.4h0.8v0.8h-0.8zM72.7 33.9h1v1h-1zM23.5 8.2h0.8v0.8h-0.8zM29.4 1.3h1v1h-1zM53.0 23.5h0.9v0.9h-0.9zM12.5 7.8h1.3v1.3h-1.3zM56.4 17.4h0.9v0.9h-0.9zM35.4 41.8h0.9v0.9h-0.9zM75.7 55.9h0.8v0.8h-0.8zM51.1 21.1h1v1h-1zM23.8 47.9h1.1v1.1h-1.1zM10.5 45.8h1.3v1.3h-1.3zM46.7 17.2h0.8v0.8h-0.8zM70.3 46.0h1.3v1.3h-1.3zM19.8 2.6h0.9v0.9h-0.9zM17.2 14.4h1.3v1.3h-1.3zM36.2 44.9h1.1v1.1h-1.1zM44.1 -0.3h1v1h-1zM14.8 42.1h1.1v1.1h-1.1zM57.3 46.7h1.3v1.3h-1.3zM64.5 49.4h1.3v1.3h-1.3zM20.4 30.4h0.8v0.8h-0.8zM0.3 14.0h0.9v0.9h-0.9zM62.8 50.9h1.1v1.1h-1.1zM53.7 53.1h1.3v1.3h-1.3zM31.0 38.4h1.1v1.1h-1.1zM66.4 9.8h0.8v0.8h-0.8zM39.8 5.4h1v1h-1zM56.1 1.5h1.1v1.1h-1.1zM33.6 49.6h1.1v1.1h-1.1zM12.0 26.4h1v1h-1zM70.4 55.7h1.1v1.1h-1.1zM5.9 57.9h1.1v1.1h-1.1zM70.7 31.0h1v1h-1zM1.2 53.8h0.9v0.9h-0.9zM1.3 35.5h1.3v1.3h-1.3zM52.8 19.4h0.8v0.8h-0.8zM65.5 53.1h1.3v1.3h-1.3zM28.2 35.8h0.9v0.9h-0.9zM65.2 17.6h0.8v0.8h-0.8zM52.6 10.7h1v1h-1zM62.5 45.0h0.8v0.8h-0.8zM12.2 45.5h1.3v1.3h-1.3zM18.9 48.3h1.1v1.1h-1.1zM40.9 11.1h0.8v0.8h-0.8zM9.7 55.2h1.1v1.1h-1.1zM75.9 8.6h0.9v0.9h-0.9zM28.9 38.8h0.9v0.9h-0.9zM65.8 45.8h1.3v1.3h-1.3zM40.0 51.1h1v1h-1zM65.5 50.4h0.9v0.9h-0.9zM1.5 39.9h0.8v0.8h-0.8zM43.1 47.0h0.8v0.8h-0.8zM42.0 4.8h0.9v0.9h-0.9zM28.4 35.3h1v1h-1zM26.2 34.0h1v1h-1zM10.6 6.5h0.8v0.8h-0.8zM33.0 5.0h1.1v1.1h-1.1zM10.5 14.1h0.9v0.9h-0.9zM-0.1 8.8h1v1h-1zM44.7 40.5h1v1h-1zM51.2 13.2h0.9v0.9h-0.9zM27.6 47.9h0.8v0.8h-0.8zM24.1 45.1h0.8v0.8h-0.8zM24.7 25.2h0.8v0.8h-0.8zM51.5 52.7h1.3v1.3h-1.3zM44.7 3.9h1.3v1.3h-1.3zM70.6 22.4h0.8v0.8h-0.8zM24.3 44.0h0.9v0.9h-0.9zM1.4 8.3h0.9v0.9h-0.9zM49.2 6.4h1.3v1.3h-1.3zM49.8 41.7h0.8v0.8h-0.8zM27.7 13.6h1.1v1.1h-1.1zM58.6 17.3h1v1h-1zM55.1 10.5h1.1v1.1h-1.1zM69.4 58.4h0.8v0.8h-0.8zM24.8 24.4h0.8v0.8h-0.8zM77.8 28.1h0.8v0.8h-0.8zM77.0 51.4h1.3v1.3h-1.3zM51.3 44.3h0.8v0.8h-0.8zM51.4 59.5h0.9v0.9h-0.9zM68.8 17.0h0.8v0.8h-0.8zM57.4 17.0h1.3v1.3h-1.3zM57.1 48.2h1.3v1.3h-1.3zM29.9 4.6h0.8v0.8h-0.8zM64.6 19.7h0.8v0.8h-0.8zM69.4 22.9h1.1v1.1h-1.1zM73.8 25.5h1v1h-1zM72.5 11.8h0.9v0.9h-0.9zM20.5 48.0h1.1v1.1h-1.1zM36.5 46.8h0.8v0.8h-0.8zM25.1 59.1h0.8v0.8h-0.8zM64.4 25.3h1.3v1.3h-1.3zM19.7 10.8h0.8v0.8h-0.8zM67.8 52.4h0.8v0.8h-0.8zM36.2 6.9h1.3v1.3h-1.3zM28.8 51.6h1.3v1.3h-1.3zM69.2 33.1h0.8v0.8h-0.8zM74.2 40.3h0.9v0.9h-0.9zM59.8 45.5h0.9v0.9h-0.9zM30.1 57.8h1.1v1.1h-1.1zM7.1 30.6h1.1v1.1h-1.1zM63.4 17.3h1v1h-1zM39.8 4.1h0.9v0.9h-0.9zM14.4 58.3h1.3v1.3h-1.3zM20.0 32.1h1v1h-1zM50.5 59.4h0.8v0.8h-0.8zM72.0 35.4h0.9v0.9h-0.9zM70.6 46.2h1.1v1.1h-1.1zM69.3 39.4h1.3v1.3h-1.3zM44.9 42.4h1v1h-1zM68.3 36.8h0.9v0.9h-0.9zM65.7 55.8h1.3v1.3h-1.3zM65.4 6.1h1.1v1.1h-1.1zM20.8 31.8h1.3v1.3h-1.3zM75.8 30.5h1.3v1.3h-1.3zM42.8 38.8h0.9v0.9h-0.9zM13.1 52.6h0.9v0.9h-0.9zM43.3 50.5h0.9v0.9h-0.9zM11.1 39.8h1v1h-1zM33.9 20.3h1v1h-1zM40.3 40.1h1.1v1.1h-1.1zM75.1 30.9h1v1h-1zM69.4 44.0h1v1h-1zM67.8 0.6h1.1v1.1h-1.1zM53.2 39.6h1.3v1.3h-1.3zM38.3 9.0h0.8v0.8h-0.8zM68.8 5.7h1v1h-1zM11.1 39.0h1.3v1.3h-1.3zM34.1 4.1h0.8v0.8h-0.8zM8.7 30.4h1.3v1.3h-1.3zM79.7 36.1h1v1h-1zM72.3 48.8h0.9v0.9h-0.9zM41.1 33.8h1.1v1.1h-1.1zM27.7 52.5h0.9v0.9h-0.9zM63.7 0.4h0.8v0.8h-0.8zM11.5 55.0h0.8v0.8h-0.8zM12.5 2.6h1v1h-1zM60.4 28.0h1v1h-1zM5.7 29.3h1v1h-1zM62.4 46.2h1.1v1.1h-1.1zM30.5 3.6h1.1v1.1h-1.1zM46.8 32.4h0.8v0.8h-0.8zM3.9 20.7h1.1v1.1h-1.1zM68.4 21.1h1.3v1.3h-1.3zM56.6 21.1h1.1v1.1h-1.1zM18.5 43.2h1v1h-1zM4.5 55.9h1.1v1.1h-1.1zM45.5 20.5h1.1v1.1h-1.1zM53.9 7.1h0.9v0.9h-0.9zM78.7 26.1h1.1v1.1h-1.1zM60.7 37.7h0.9v0.9h-0.9zM18.3 46.3h0.9v0.9h-0.9zM54.7 44.5h0.8v0.8h-0.8zM13.2 41.4h0.9v0.9h-0.9zM34.2 9.9h1.3v1.3h-1.3zM79.5 40.0h1.3v1.3h-1.3zM13.7 21.3h1.3v1.3h-1.3zM58.1 25.8h0.8v0.8h-0.8zM2.5 35.0h0.8v0.8h-0.8zM38.7 21.1h1v1h-1zM59.9 51.2h0.8v0.8h-0.8zM25.5 24.6h0.8v0.8h-0.8zM52.7 29.2h1v1h-1zM39.6 7.8h1.3v1.3h-1.3zM72.1 59.5h1v1h-1zM70.2 23.6h1.3v1.3h-1.3zM11.4 31.2h1v1h-1zM4.9 33.6h0.9v0.9h-0.9zM73.5 43.3h0.8v0.8h-0.8zM11.6 16.1h0.8v0.8h-0.8zM56.2 2.9h0.8v0.8h-0.8zM8.7 27.0h0.9v0.9h-0.9zM8.0 9.2h1v1h-1zM64.7 30.6h1.1v1.1h-1.1zM41.6 19.1h1v1h-1zM76.5 40.3h1.3v1.3h-1.3zM78.0 43.1h1v1h-1zM53.1 41.7h0.8v0.8h-0.8zM1.9 59.3h0.9v0.9h-0.9zM49.1 15.9h0.8v0.8h-0.8zM42.4 43.6h1.3v1.3h-1.3zM43.5 8.5h1.3v1.3h-1.3zM3.8 1.3h0.9v0.9h-0.9zM6.1 36.7h1.1v1.1h-1.1zM69.5 44.0h0.9v0.9h-0.9zM12.7 2.4h1v1h-1zM39.8 49.5h1.3v1.3h-1.3zM3.3 40.9h0.8v0.8h-0.8zM31.0 20.4h0.9v0.9h-0.9zM6.8 9.2h1.1v1.1h-1.1zM9.7 19.9h0.8v0.8h-0.8zM29.1 48.4h1.1v1.1h-1.1zM31.1 7.8h1v1h-1zM50.5 22.4h1v1h-1zM21.9 31.7h1.3v1.3h-1.3zM39.2 2.8h1.1v1.1h-1.1zM33.6 10.1h0.8v0.8h-0.8zM-0.7 35.3h0.8v0.8h-0.8zM63.9 41.9h1v1h-1zM28.3 34.4h1v1h-1zM8.0 34.4h1.3v1.3h-1.3zM6.0 55.3h0.9v0.9h-0.9zM11.1 55.0h0.8v0.8h-0.8zM35.5 58.6h1.3v1.3h-1.3zM25.1 28.8h1.3v1.3h-1.3zM7.5 15.2h0.9v0.9h-0.9zM8.5 40.6h1.3v1.3h-1.3zM36.2 1.0h1.1v1.1h-1.1zM30.1 37.3h1.1v1.1h-1.1zM33.3 36.3h1.3v1.3h-1.3zM28.5 4.2h1v1h-1zM39.3 22.4h0.8v0.8h-0.8zM60.5 55.3h1.1v1.1h-1.1zM69.7 26.7h0.8v0.8h-0.8zM75.7 1.1h1.3v1.3h-1.3zM15.9 27.7h1.3v1.3h-1.3zM28.2 26.1h1.3v1.3h-1.3zM31.9 10.1h1.3v1.3h-1.3zM37.9 30.9h1v1h-1zM38.1 22.9h1v1h-1zM69.1 18.6h0.9v0.9h-0.9zM74.6 48.9h1v1h-1zM69.6 17.7h1.1v1.1h-1.1zM39.7 56.0h1.1v1.1h-1.1zM68.2 36.0h1.1v1.1h-1.1zM25.4 59.0h1.3v1.3h-1.3zM47.1 35.1h1.1v1.1h-1.1zM24.7 24.2h1.3v1.3h-1.3zM30.1 10.2h1.1v1.1h-1.1zM55.1 5.0h0.9v0.9h-0.9zM8.9 25.0h1.3v1.3h-1.3zM66.1 28.9h0.9v0.9h-0.9zM49.8 1.8h0.8v0.8h-0.8zM33.8 12.6h1v1h-1zM61.3 29.6h0.8v0.8h-0.8zM52.6 30.3h1.3v1.3h-1.3zM47.9 52.0h1v1h-1zM6.6 46.3h0.9v0.9h-0.9zM64.5 20.3h0.9v0.9h-0.9zM28.4 29.0h1v1h-1zM7.2 0.8h1v1h-1zM43.7 29.2h1.3v1.3h-1.3zM35.2 47.2h1.1v1.1h-1.1zM3.2 57.2h1v1h-1zM7.8 26.4h1.1v1.1h-1.1zM46.7 14.1h1.3v1.3h-1.3zM76.4 4.3h1v1h-1zM58.1 14.4h0.8v0.8h-0.8zM3.4 12.3h1.1v1.1h-1.1zM-0.8 57.4h0.8v0.8h-0.8zM72.6 24.9h0.8v0.8h-0.8zM52.5 6.0h0.8v0.8h-0.8zM7.8 6.4h1.3v1.3h-1.3zM25.8 45.6h1.1v1.1h-1.1zM67.2 59.4h1.1v1.1h-1.1zM22.3 57.4h1.3v1.3h-1.3zM38.0 6.7h1.1v1.1h-1.1zM3.2 18.1h1.3v1.3h-1.3zM74.1 3.5h0.9v0.9h-0.9zM14.4 56.5h1v1h-1zM17.3 5.9h1.1v1.1h-1.1zM31.5 8.5h1v1h-1zM-0.8 14.1h0.9v0.9h-0.9zM28.3 31.2h1.3v1.3h-1.3zM63.6 59.3h0.8v0.8h-0.8zM44.7 54.7h0.8v0.8h-0.8zM40.1 13.6h0.8v0.8h-0.8zM24.2 4.3h1v1h-1zM56.4 1.5h0.9v0.9h-0.9zM58.1 40.5h0.9v0.9h-0.9zM48.0 57.0h1v1h-1zM51.5 17.0h1.3v1.3h-1.3zM28.9 46.3h1.1v1.1h-1.1zM5.4 26.0h0.8v0.8h-0.8zM17.8 30.2h1.3v1.3h-1.3zM41.2 13.3h1.3v1.3h-1.3zM25.4 50.9h0.8v0.8h-0.8zM40.4 19.6h0.8v0.8h-0.8zM32.1 6.4h1.3v1.3h-1.3zM8.5 48.4h1.3v1.3h-1.3zM30.6 42.3h1.3v1.3h-1.3zM3.6 11.3h1v1h-1zM40.7 50.0h0.9v0.9h-0.9zM39.4 41.4h1v1h-1zM5.5 30.6h0.8v0.8h-0.8zM22.0 17.2h0.8v0.8h-0.8zM23.5 50.9h1v1h-1zM6.4 23.8h1v1h-1zM49.2 51.5h0.9v0.9h-0.9zM12.3 18.8h0.8v0.8h-0.8zM15.1 7.8h0.8v0.8h-0.8zM31.2 3.8h0.9v0.9h-0.9zM22.5 33.5h0.9v0.9h-0.9zM48.6 17.8h0.9v0.9h-0.9zM18.4 39.3h0.9v0.9h-0.9zM79.2 3.6h1.1v1.1h-1.1zM56.9 24.7h1v1h-1zM43.4 32.9h0.8v0.8h-0.8zM20.5 42.6h1.3v1.3h-1.3zM16.3 5.5h1.3v1.3h-1.3zM44.8 1.8h0.9v0.9h-0.9zM36.4 33.2h1.3v1.3h-1.3zM26.9 12.3h0.8v0.8h-0.8zM21.9 35.7h1v1h-1zM55.9 47.6h1.3v1.3h-1.3zM47.2 56.2h1v1h-1zM48.2 56.9h0.8v0.8h-0.8zM12.6 50.8h0.9v0.9h-0.9zM11.0 42.9h0.9v0.9h-0.9zM66.8 48.6h0.9v0.9h-0.9zM78.2 4.9h1v1h-1zM59.8 51.8h1.1v1.1h-1.1zM14.2 35.8h1.3v1.3h-1.3zM47.1 40.6h1.1v1.1h-1.1zM68.4 10.4h0.8v0.8h-0.8zM65.6 42.6h1.1v1.1h-1.1zM65.6 36.3h1.3v1.3h-1.3zM63.7 58.6h1.1v1.1h-1.1zM23.3 10.5h1.3v1.3h-1.3zM61.4 34.3h1.1v1.1h-1.1zM58.0 57.2h1.1v1.1h-1.1zM2.1 58.6h1v1h-1zM13.7 40.8h1v1h-1zM73.2 1.6h1.1v1.1h-1.1zM33.6 44.5h1v1h-1zM53.2 25.8h1.1v1.1h-1.1zM30.7 23.5h1.1v1.1h-1.1zM5.8 54.4h0.8v0.8h-0.8zM62.1 22.6h1.1v1.1h-1.1zM61.6 51.0h1v1h-1zM19.1 14.8h1.1v1.1h-1.1zM16.6 48.8h0.9v0.9h-0.9zM15.4 60.0h1v1h-1zM67.1 0.3h1v1h-1zM5.6 38.1h1v1h-1zM76.2 -0.8h0.8v0.8h-0.8zM70.1 2.3h1.1v1.1h-1.1zM54.4 53.3h1v1h-1zM4.7 53.3h1.1v1.1h-1.1zM62.0 33.8h1.3v1.3h-1.3zM10.2 18.3h0.9v0.9h-0.9zM17.9 1.4h1.1v1.1h-1.1zM34.4 39.7h1.3v1.3h-1.3zM9.0 47.4h1v1h-1zM72.3 10.6h1.3v1.3h-1.3zM73.1 57.8h0.9v0.9h-0.9zM49.8 44.7h1v1h-1zM6.5 49.0h1v1h-1zM26.3 0.9h0.8v0.8h-0.8zM58.0 48.1h0.9v0.9h-0.9zM33.4 0.1h1.1v1.1h-1.1zM0.5 29.6h0.8v0.8h-0.8zM53.8 0.2h1v1h-1zM24.2 27.3h0.8v0.8h-0.8zM30.7 55.8h1.1v1.1h-1.1zM77.8 31.4h1.3v1.3h-1.3zM59.8 21.3h1.3v1.3h-1.3zM25.3 6.4h1.3v1.3h-1.3zM4.1 33.5h0.9v0.9h-0.9zM32.1 49.2h0.8v0.8h-0.8zM28.4 42.9h0.9v0.9h-0.9zM20.6 36.9h1.3v1.3h-1.3zM15.7 19.4h1.3v1.3h-1.3zM21.1 54.7h1.3v1.3h-1.3zM8.1 50.3h1.1v1.1h-1.1zM73.5 6.6h1v1h-1zM19.0 4.1h1.1v1.1h-1.1zM43.6 10.7h1.3v1.3h-1.3zM41.0 25.2h1v1h-1zM17.9 43.8h0.8v0.8h-0.8zM5.9 24.3h1v1h-1zM62.8 4.2h0.9v0.9h-0.9zM28.6 10.8h1v1h-1zM70.6 48.9h1v1h-1zM47.3 16.8h1v1h-1zM45.6 15.5h0.8v0.8h-0.8zM1.8 25.0h0.8v0.8h-0.8zM10.3 47.7h1.3v1.3h-1.3zM78.9 59.8h1.3v1.3h-1.3zM62.9 10.7h1v1h-1zM25.4 46.4h1.3v1.3h-1.3zM6.2 31.6h1.1v1.1h-1.1zM46.6 37.5h0.8v0.8h-0.8zM5.8 18.7h1.3v1.3h-1.3zM22.9 23.2h0.9v0.9h-0.9zM64.6 36.5h0.9v0.9h-0.9zM17.9 32.6h0.8v0.8h-0.8zM48.1 3.0h0.9v0.9h-0.9zM43.2 41.7h0.9v0.9h-0.9zM32.1 12.8h0.8v0.8h-0.8zM47.8 59.5h0.8v0.8h-0.8zM47.7 19.8h1.3v1.3h-1.3zM69.7 35.6h0.8v0.8h-0.8zM60.5 0.5h0.9v0.9h-0.9zM50.2 14.4h1v1h-1zM61.6 51.5h1.3v1.3h-1.3zM42.1 14.3h0.8v0.8h-0.8zM25.3 40.6h1.1v1.1h-1.1zM50.2 3.5h0.9v0.9h-0.9zM29.2 22.6h1.3v1.3h-1.3zM-0.5 10.5h0.9v0.9h-0.9zM69.2 32.3h0.9v0.9h-0.9zM77.6 51.9h1v1h-1zM67.9 58.7h0.8v0.8h-0.8zM32.4 48.6h1.1v1.1h-1.1zM17.5 5.5h0.8v0.8h-0.8zM2.5 47.7h1.3v1.3h-1.3zM40.3 16.2h0.9v0.9h-0.9zM11.6 30.9h1.3v1.3h-1.3zM39.8 49.1h0.8v0.8h-0.8zM4.1 1.2h1.1v1.1h-1.1zM69.7 14.9h0.9v0.9h-0.9zM9.9 12.4h1v1h-1zM55.5 32.1h0.8v0.8h-0.8zM40.1 13.1h1.3v1.3h-1.3zM19.6 29.9h0.9v0.9h-0.9zM39.6 7.4h1.1v1.1h-1.1zM41.7 14.6h0.8v0.8h-0.8zM-0.5 51.5h1.1v1.1h-1.1zM54.0 1.4h1v1h-1zM42.5 38.4h0.8v0.8h-0.8zM79.7 3.1h1.3v1.3h-1.3zM50.2 23.2h0.8v0.8h-0.8zM63.5 41.8h1.1v1.1h-1.1zM27.2 50.9h1.3v1.3h-1.3zM44.7 15.9h1.1v1.1h-1.1zM7.7 3.9h1.1v1.1h-1.1zM73.9 60.0h1v1h-1zM62.5 51.1h1v1h-1zM-0.5 12.5h1.3v1.3h-1.3zM28.9 26.0h1v1h-1zM70.3 38.6h1.3v1.3h-1.3zM54.9 14.4h0.9v0.9h-0.9zM59.8 48.7h0.8v0.8h-0.8zM5.3 25.5h0.8v0.8h-0.8zM15.8 54.5h0.9v0.9h-0.9zM38.3 22.4h1.1v1.1h-1.1zM18.4 7.0h1.3v1.3h-1.3zM42.6 41.3h1v1h-1zM9.4 7.6h1.1v1.1h-1.1zM33.8 34.5h1v1h-1zM61.9 41.0h1.3v1.3h-1.3zM67.9 7.4h1.1v1.1h-1.1zM27.1 59.0h0.8v0.8h-0.8zM35.5 16.1h1.1v1.1h-1.1zM79.3 20.4h0.9v0.9h-0.9zM72.3 27.8h1.3v1.3h-1.3zM4.9 22.2h0.8v0.8h-0.8zM44.6 4.1h0.9v0.9h-0.9zM16.9 44.0h1.3v1.3h-1.3zM16.5 4.8h0.9v0.9h-0.9zM57.4 18.7h1.3v1.3h-1.3zM59.8 12.5h1.3v1.3h-1.3zM24.7 46.5h1v1h-1zM20.3 50.0h0.8v0.8h-0.8zM9.2 41.4h1v1h-1zM12.4 23.1h1v1h-1zM0.8 38.8h1.1v1.1h-1.1zM69.5 44.4h0.9v0.9h-0.9zM46.9 6.2h1.1v1.1h-1.1zM74.0 34.4h0.8v0.8h-0.8zM13.3 52.9h1.3v1.3h-1.3zM8.3 6.6h0.8v0.8h-0.8zM55.9 25.6h0.9v0.9h-0.9zM39.6 39.3h0.8v0.8h-0.8zM9.1 42.0h1.3v1.3h-1.3zM77.7 59.4h0.8v0.8h-0.8zM61.3 14.1h1v1h-1zM17.9 11.2h0.8v0.8h-0.8zM13.0 44.4h0.9v0.9h-0.9zM2.4 48.7h0.8v0.8h-0.8zM35.1 40.4h1.3v1.3h-1.3zM8.6 14.3h0.8v0.8h-0.8zM10.3 52.7h1.3v1.3h-1.3zM65.7 50.1h1.3v1.3h-1.3zM25.3 14.3h1.1v1.1h-1.1zM34.0 0.1h1.1v1.1h-1.1zM78.0 22.4h0.9v0.9h-0.9zM71.5 8.9h0.8v0.8h-0.8zM20.6 56.6h1v1h-1zM14.3 45.5h0.8v0.8h-0.8zM47.9 21.5h1.3v1.3h-1.3zM2.4 17.7h0.9v0.9h-0.9zM39.7 42.4h0.9v0.9h-0.9zM53.1 48.4h1.3v1.3h-1.3zM38.7 0.2h1.1v1.1h-1.1zM10.0 28.0h1.1v1.1h-1.1zM37.0 7.6h1v1h-1zM38.4 3.0h0.9v0.9h-0.9zM14.7 0.7h0.8v0.8h-0.8zM73.4 50.5h1v1h-1zM32.2 57.7h1.1v1.1h-1.1zM39.8 27.6h1v1h-1zM47.9 9.5h0.8v0.8h-0.8zM-0.8 53.4h1.3v1.3h-1.3z" fill="#c8c6c8" filter="url(#bl4)"/>
<path d="M49.6 3.0h1v1h-1zM61.9 51.6h1.3v1.3h-1.3zM27.4 35.0h0.8v0.8h-0.8zM37.9 38.3h0.8v0.8h-0.8zM32.2 8.3h0.8v0.8h-0.8zM11.6 1.6h1v1h-1zM76.5 54.1h1.3v1.3h-1.3zM74.7 25.9h1.3v1.3h-1.3zM26.4 47.5h0.8v0.8h-0.8zM24.9 21.4h1.3v1.3h-1.3zM26.9 7.0h1.1v1.1h-1.1zM27.0 24.6h0.8v0.8h-0.8zM0.1 44.8h0.9v0.9h-0.9zM26.6 14.5h0.8v0.8h-0.8zM38.4 34.1h0.9v0.9h-0.9zM20.7 31.4h1v1h-1zM30.2 23.0h0.9v0.9h-0.9zM63.3 33.9h1.3v1.3h-1.3zM33.4 53.1h1.3v1.3h-1.3zM67.2 40.4h1.3v1.3h-1.3zM77.1 22.1h0.9v0.9h-0.9zM39.2 28.7h1.3v1.3h-1.3zM76.0 17.2h1.3v1.3h-1.3zM79.1 28.5h1.3v1.3h-1.3zM66.4 49.5h0.8v0.8h-0.8zM59.0 29.1h0.8v0.8h-0.8zM70.4 3.7h1.3v1.3h-1.3zM72.4 5.0h1v1h-1zM32.9 17.5h1v1h-1zM42.9 44.5h1v1h-1zM19.0 46.3h1.1v1.1h-1.1zM35.2 48.8h0.8v0.8h-0.8zM69.2 21.7h1.1v1.1h-1.1zM50.2 59.1h1.1v1.1h-1.1zM16.1 49.0h0.8v0.8h-0.8zM63.0 37.3h1.3v1.3h-1.3zM17.9 3.8h1v1h-1zM61.6 1.1h0.9v0.9h-0.9zM30.6 28.1h0.9v0.9h-0.9zM34.4 27.0h1v1h-1zM67.6 26.5h0.9v0.9h-0.9zM77.4 48.5h0.9v0.9h-0.9zM21.2 47.5h1.1v1.1h-1.1zM15.2 58.9h1v1h-1zM30.5 19.6h0.9v0.9h-0.9zM57.2 36.3h1.1v1.1h-1.1zM2.5 9.6h0.8v0.8h-0.8zM36.7 52.4h0.8v0.8h-0.8zM15.1 53.9h1.1v1.1h-1.1zM61.8 16.9h1.1v1.1h-1.1zM27.3 60.2h1.1v1.1h-1.1zM2.3 44.8h0.8v0.8h-0.8zM26.9 44.6h0.9v0.9h-0.9zM11.4 45.9h1v1h-1zM75.2 25.5h1.3v1.3h-1.3zM79.7 12.7h1v1h-1zM1.4 22.0h0.9v0.9h-0.9zM78.5 47.8h1.3v1.3h-1.3zM66.5 36.1h1v1h-1zM40.1 50.1h0.8v0.8h-0.8zM12.6 0.0h1.1v1.1h-1.1zM54.3 60.0h1v1h-1zM34.9 16.1h1.3v1.3h-1.3zM11.5 18.4h1.1v1.1h-1.1zM1.5 34.3h0.9v0.9h-0.9zM14.8 55.6h1.1v1.1h-1.1zM24.5 15.7h1v1h-1zM75.1 58.9h1v1h-1zM30.7 10.1h0.9v0.9h-0.9zM42.2 22.5h0.9v0.9h-0.9zM-0.4 21.8h0.9v0.9h-0.9zM37.2 44.5h1.3v1.3h-1.3zM35.9 22.6h0.9v0.9h-0.9zM23.3 51.8h1v1h-1zM47.5 18.9h1v1h-1zM68.7 50.4h1v1h-1zM13.7 36.0h0.9v0.9h-0.9zM21.8 58.5h1v1h-1zM34.7 37.0h1.3v1.3h-1.3zM67.5 46.8h1.1v1.1h-1.1zM38.9 6.2h1.3v1.3h-1.3zM28.2 17.5h1.1v1.1h-1.1zM10.3 4.0h0.9v0.9h-0.9zM26.4 34.9h0.9v0.9h-0.9zM29.9 29.1h1v1h-1zM4.2 52.9h0.8v0.8h-0.8zM45.4 4.2h1.3v1.3h-1.3zM15.4 2.7h0.9v0.9h-0.9zM14.1 1.3h0.8v0.8h-0.8zM18.1 21.6h1v1h-1zM38.0 11.9h1.3v1.3h-1.3zM33.3 9.9h0.8v0.8h-0.8zM13.3 31.0h0.9v0.9h-0.9zM30.4 29.8h1.3v1.3h-1.3zM38.0 10.0h0.9v0.9h-0.9zM46.1 5.6h1.1v1.1h-1.1zM49.8 8.3h1.1v1.1h-1.1zM73.6 25.0h1.1v1.1h-1.1zM24.8 43.6h1.1v1.1h-1.1zM8.6 32.9h1.3v1.3h-1.3zM40.7 23.4h1v1h-1zM19.0 14.9h0.8v0.8h-0.8zM16.6 57.7h1v1h-1zM56.2 33.0h1v1h-1zM12.8 1.0h1v1h-1zM74.6 43.4h1.1v1.1h-1.1zM52.9 14.0h0.8v0.8h-0.8zM4.5 48.4h0.8v0.8h-0.8zM23.6 28.1h0.9v0.9h-0.9zM52.9 19.5h1.1v1.1h-1.1zM26.7 56.7h1v1h-1zM72.8 26.8h1.3v1.3h-1.3zM45.6 22.2h1.1v1.1h-1.1zM57.8 5.4h1.1v1.1h-1.1zM44.3 23.5h0.9v0.9h-0.9zM72.9 33.3h1v1h-1zM3.5 54.6h1.3v1.3h-1.3zM7.6 54.2h1.3v1.3h-1.3zM71.1 33.2h1.1v1.1h-1.1zM67.4 22.1h0.8v0.8h-0.8zM8.3 52.3h1v1h-1zM5.3 32.3h0.8v0.8h-0.8zM35.5 44.8h1.1v1.1h-1.1zM15.3 5.4h0.8v0.8h-0.8zM70.9 43.5h1.3v1.3h-1.3zM51.2 -0.1h0.9v0.9h-0.9zM55.7 20.4h1.1v1.1h-1.1zM5.3 45.7h1.1v1.1h-1.1zM29.1 10.3h1.3v1.3h-1.3zM49.6 -0.5h0.8v0.8h-0.8zM48.9 29.5h0.9v0.9h-0.9zM53.2 -0.9h1.3v1.3h-1.3zM2.6 47.6h0.9v0.9h-0.9zM26.7 3.0h1.3v1.3h-1.3zM5.0 49.5h0.9v0.9h-0.9zM27.2 47.3h0.9v0.9h-0.9zM35.7 40.2h1.1v1.1h-1.1zM67.3 1.6h0.9v0.9h-0.9zM59.5 49.1h1v1h-1zM78.2 45.7h0.9v0.9h-0.9zM59.7 23.9h1.3v1.3h-1.3zM51.1 46.6h1.3v1.3h-1.3zM57.8 10.9h0.9v0.9h-0.9zM9.7 55.1h1.1v1.1h-1.1zM78.0 27.0h0.9v0.9h-0.9zM68.2 50.5h0.9v0.9h-0.9zM6.9 27.8h0.8v0.8h-0.8zM47.7 6.0h0.9v0.9h-0.9zM25.1 36.3h1.1v1.1h-1.1zM46.9 2.8h0.8v0.8h-0.8zM78.9 37.8h1.1v1.1h-1.1zM3.1 20.1h0.9v0.9h-0.9zM51.5 3.1h1.3v1.3h-1.3zM16.2 40.3h1v1h-1zM30.8 57.7h0.9v0.9h-0.9zM78.6 31.8h0.8v0.8h-0.8zM69.0 9.0h1.1v1.1h-1.1zM2.4 24.3h1.1v1.1h-1.1zM36.9 17.7h1.3v1.3h-1.3zM57.1 14.1h0.8v0.8h-0.8zM64.5 28.3h0.9v0.9h-0.9zM-0.8 13.5h0.9v0.9h-0.9zM47.7 40.6h1.3v1.3h-1.3zM69.8 25.1h0.9v0.9h-0.9zM40.6 29.0h1v1h-1zM12.0 30.1h1.3v1.3h-1.3zM66.2 33.1h0.9v0.9h-0.9zM9.2 12.3h0.8v0.8h-0.8zM34.8 58.0h0.9v0.9h-0.9zM19.6 45.9h1.1v1.1h-1.1zM65.7 26.5h1v1h-1zM11.5 13.7h0.8v0.8h-0.8zM50.6 0.4h1v1h-1zM42.3 41.8h0.9v0.9h-0.9zM32.8 21.2h0.8v0.8h-0.8zM5.6 -0.1h1.3v1.3h-1.3zM41.4 20.9h0.8v0.8h-0.8zM2.8 16.5h1.3v1.3h-1.3zM29.4 36.0h0.9v0.9h-0.9zM65.6 54.1h1.1v1.1h-1.1zM22.5 1.8h0.8v0.8h-0.8zM65.6 4.3h0.9v0.9h-0.9zM79.8 11.6h1.3v1.3h-1.3zM59.8 1.6h0.8v0.8h-0.8zM43.5 20.5h1.3v1.3h-1.3zM72.2 35.7h1v1h-1zM8.1 50.8h1.3v1.3h-1.3zM21.0 12.1h1.3v1.3h-1.3zM-0.2 10.6h1v1h-1zM76.9 53.3h1v1h-1zM50.5 57.4h1v1h-1zM79.3 42.3h1.3v1.3h-1.3zM20.8 45.6h0.9v0.9h-0.9zM20.7 31.7h1.3v1.3h-1.3zM13.0 30.2h1.3v1.3h-1.3zM35.7 26.8h1.1v1.1h-1.1zM74.9 9.8h0.8v0.8h-0.8zM60.1 51.0h1.3v1.3h-1.3zM20.9 39.0h0.9v0.9h-0.9zM46.3 10.4h1v1h-1zM64.8 30.6h1.1v1.1h-1.1zM43.1 18.5h1.1v1.1h-1.1zM3.0 17.3h0.8v0.8h-0.8zM26.0 9.8h1.3v1.3h-1.3zM20.0 40.5h0.8v0.8h-0.8zM52.7 20.0h1.1v1.1h-1.1zM3.2 58.4h0.9v0.9h-0.9zM77.1 48.6h0.8v0.8h-0.8zM25.6 25.2h1.3v1.3h-1.3zM59.3 57.9h1.1v1.1h-1.1zM76.7 19.8h1v1h-1zM48.5 53.7h1.3v1.3h-1.3zM34.5 9.9h0.9v0.9h-0.9zM52.4 13.8h0.9v0.9h-0.9zM1.0 48.3h0.8v0.8h-0.8zM78.0 52.5h1.3v1.3h-1.3zM37.1 52.2h1v1h-1zM18.1 16.7h1.3v1.3h-1.3zM66.2 25.3h1.3v1.3h-1.3zM78.8 57.1h1v1h-1zM4.8 51.8h0.9v0.9h-0.9zM12.5 28.0h1.3v1.3h-1.3zM4.1 22.0h0.9v0.9h-0.9zM12.1 38.6h1.3v1.3h-1.3zM1.6 10.0h0.9v0.9h-0.9zM27.4 31.8h1v1h-1zM70.5 44.7h1v1h-1zM26.9 29.8h0.9v0.9h-0.9zM32.2 0.5h0.8v0.8h-0.8zM35.1 51.8h1.1v1.1h-1.1zM66.3 -0.1h1.3v1.3h-1.3zM22.0 43.1h1v1h-1zM12.8 27.1h1v1h-1zM44.5 14.5h1.1v1.1h-1.1zM28.2 -0.6h0.9v0.9h-0.9zM69.2 52.4h1.3v1.3h-1.3zM50.9 48.7h1.1v1.1h-1.1zM2.4 59.6h0.8v0.8h-0.8zM33.4 3.3h1.3v1.3h-1.3zM43.2 20.8h0.9v0.9h-0.9zM38.4 60.3h0.9v0.9h-0.9zM9.1 43.3h0.8v0.8h-0.8zM25.5 2.5h1.1v1.1h-1.1zM57.3 16.6h1.3v1.3h-1.3zM56.0 30.7h1v1h-1zM43.2 57.8h0.8v0.8h-0.8zM22.7 23.6h1.3v1.3h-1.3zM27.3 32.0h1v1h-1zM19.1 48.6h1.3v1.3h-1.3zM61.3 22.1h1.1v1.1h-1.1zM48.2 50.5h0.9v0.9h-0.9zM39.0 50.2h1.3v1.3h-1.3zM-0.9 16.3h0.9v0.9h-0.9zM78.2 56.9h0.9v0.9h-0.9zM19.6 0.3h1v1h-1zM52.4 50.5h1v1h-1zM61.9 13.5h1v1h-1zM78.1 7.6h1.1v1.1h-1.1zM66.3 60.2h1.1v1.1h-1.1zM61.5 16.2h0.9v0.9h-0.9zM28.5 53.3h0.8v0.8h-0.8zM16.5 34.9h1.3v1.3h-1.3zM74.8 21.5h0.9v0.9h-0.9zM77.0 6.9h0.9v0.9h-0.9zM66.9 1.2h1v1h-1zM59.9 49.6h0.8v0.8h-0.8zM19.9 34.5h1.1v1.1h-1.1zM48.7 27.5h1v1h-1zM44.8 38.2h1.1v1.1h-1.1zM79.6 1.5h1.3v1.3h-1.3zM32.2 5.8h1v1h-1zM64.6 53.1h1.3v1.3h-1.3zM78.4 51.1h0.9v0.9h-0.9zM26.0 13.0h1.3v1.3h-1.3zM22.8 12.5h0.8v0.8h-0.8zM70.1 56.3h0.9v0.9h-0.9zM11.2 41.1h1.3v1.3h-1.3zM22.0 41.9h0.9v0.9h-0.9zM16.0 0.3h1.1v1.1h-1.1zM63.8 44.9h1.3v1.3h-1.3zM3.0 12.8h0.9v0.9h-0.9zM15.7 49.1h1.1v1.1h-1.1zM2.6 11.7h0.9v0.9h-0.9zM68.4 22.3h1v1h-1zM29.9 51.6h1.1v1.1h-1.1zM30.1 -0.1h0.8v0.8h-0.8zM46.2 37.0h1v1h-1zM22.0 38.1h0.8v0.8h-0.8zM31.4 56.7h1.3v1.3h-1.3zM3.9 21.0h0.9v0.9h-0.9zM75.8 59.7h1.1v1.1h-1.1zM-0.7 32.5h1.1v1.1h-1.1zM73.9 23.8h1v1h-1zM31.6 12.0h1.1v1.1h-1.1zM44.3 31.0h0.9v0.9h-0.9zM72.3 19.9h1.3v1.3h-1.3zM45.3 46.8h1.1v1.1h-1.1zM56.7 11.5h1.3v1.3h-1.3zM40.0 43.5h1.1v1.1h-1.1zM6.5 50.9h1v1h-1zM19.6 19.4h1.3v1.3h-1.3zM63.2 23.1h1v1h-1zM47.2 8.8h1.1v1.1h-1.1zM72.5 38.9h1v1h-1zM25.0 49.5h0.8v0.8h-0.8zM26.8 17.2h0.8v0.8h-0.8zM75.3 59.8h1.1v1.1h-1.1zM1.2 42.0h0.8v0.8h-0.8zM69.1 4.7h0.8v0.8h-0.8zM79.4 24.5h1.1v1.1h-1.1zM14.3 54.7h0.9v0.9h-0.9zM53.3 33.4h0.9v0.9h-0.9zM10.1 1.5h0.8v0.8h-0.8zM1.0 16.8h1v1h-1zM58.0 33.9h0.8v0.8h-0.8zM47.7 22.9h1.3v1.3h-1.3zM15.7 48.5h0.8v0.8h-0.8zM22.2 19.6h1v1h-1zM35.5 14.6h0.8v0.8h-0.8zM49.9 41.6h1v1h-1zM24.0 30.7h0.9v0.9h-0.9zM77.1 13.6h1v1h-1zM32.3 1.8h1.3v1.3h-1.3zM34.5 13.9h0.9v0.9h-0.9zM56.1 48.0h1v1h-1zM68.6 39.1h1v1h-1zM69.9 26.7h0.8v0.8h-0.8zM33.1 25.3h0.9v0.9h-0.9zM24.8 40.9h0.9v0.9h-0.9zM65.5 48.6h1.3v1.3h-1.3zM79.5 34.6h1.3v1.3h-1.3zM67.2 1.0h1.1v1.1h-1.1zM40.2 20.6h1.1v1.1h-1.1zM21.0 2.0h1.3v1.3h-1.3zM51.9 11.1h0.8v0.8h-0.8zM29.3 58.4h0.9v0.9h-0.9zM9.2 21.1h1.3v1.3h-1.3zM46.1 36.3h0.9v0.9h-0.9zM75.8 1.3h0.9v0.9h-0.9zM34.0 32.9h0.9v0.9h-0.9zM67.3 57.5h1v1h-1zM23.4 26.3h1v1h-1zM51.0 26.6h1.1v1.1h-1.1zM74.8 35.6h1.3v1.3h-1.3zM1.0 2.0h0.9v0.9h-0.9zM11.5 31.4h1.1v1.1h-1.1zM13.7 35.1h0.9v0.9h-0.9zM3.5 28.2h1.1v1.1h-1.1zM34.7 57.6h1.3v1.3h-1.3zM25.1 32.1h1.1v1.1h-1.1zM1.3 25.0h1.3v1.3h-1.3zM21.9 -0.4h1.1v1.1h-1.1zM57.4 7.6h1v1h-1zM26.8 40.4h1.1v1.1h-1.1zM38.7 16.0h1.1v1.1h-1.1zM35.8 42.7h0.8v0.8h-0.8zM31.5 28.6h1v1h-1zM49.4 2.8h1.1v1.1h-1.1zM9.8 54.4h0.9v0.9h-0.9zM57.5 2.0h1v1h-1zM68.9 35.4h0.8v0.8h-0.8zM64.5 39.6h1v1h-1zM57.1 3.5h0.8v0.8h-0.8zM31.3 27.0h1v1h-1zM53.0 41.8h1.1v1.1h-1.1zM39.5 7.9h0.8v0.8h-0.8zM24.9 41.5h1.1v1.1h-1.1zM43.0 5.5h1v1h-1zM18.1 53.0h1.1v1.1h-1.1zM67.3 0.7h0.8v0.8h-0.8zM50.9 24.4h0.8v0.8h-0.8zM48.1 34.0h1v1h-1zM19.5 28.8h0.8v0.8h-0.8zM57.1 17.2h0.9v0.9h-0.9zM64.0 5.4h1.1v1.1h-1.1zM63.4 52.8h0.9v0.9h-0.9zM8.0 25.5h1.1v1.1h-1.1zM73.9 43.6h1v1h-1zM79.5 13.7h1v1h-1zM5.9 54.9h0.8v0.8h-0.8zM62.3 19.0h1.3v1.3h-1.3zM64.5 53.2h1.1v1.1h-1.1zM1.6 59.6h1.3v1.3h-1.3zM5.6 48.2h1.3v1.3h-1.3zM44.9 58.3h1.1v1.1h-1.1zM36.3 55.4h1.3v1.3h-1.3zM52.2 36.5h1v1h-1zM47.5 51.6h1v1h-1zM27.0 44.6h0.8v0.8h-0.8zM53.6 51.8h1v1h-1zM-0.3 22.0h0.8v0.8h-0.8zM53.5 1.9h1.1v1.1h-1.1zM17.7 42.6h0.9v0.9h-0.9zM6.5 14.0h1.1v1.1h-1.1zM30.8 43.6h1.1v1.1h-1.1zM25.6 60.2h1.1v1.1h-1.1zM63.4 50.5h1v1h-1zM77.6 27.2h1.3v1.3h-1.3zM70.2 20.9h1.3v1.3h-1.3zM56.9 32.1h1.3v1.3h-1.3zM71.9 14.2h1.1v1.1h-1.1zM78.7 9.3h0.8v0.8h-0.8zM35.3 19.0h1v1h-1zM64.2 32.1h0.8v0.8h-0.8zM79.2 45.1h0.8v0.8h-0.8zM62.1 46.7h1v1h-1zM63.5 27.4h1.1v1.1h-1.1zM1.5 8.6h0.9v0.9h-0.9zM10.0 9.2h0.8v0.8h-0.8zM25.3 25.4h1.3v1.3h-1.3zM-0.3 4.0h0.9v0.9h-0.9zM26.4 15.4h0.8v0.8h-0.8zM8.7 8.1h1.3v1.3h-1.3zM21.6 52.1h1.3v1.3h-1.3zM10.6 27.3h0.9v0.9h-0.9zM46.6 -0.4h1.3v1.3h-1.3zM37.6 11.0h1.1v1.1h-1.1zM75.9 48.1h1.1v1.1h-1.1zM49.8 53.9h0.8v0.8h-0.8zM7.4 45.1h0.8v0.8h-0.8zM9.3 2.9h1.3v1.3h-1.3zM70.9 4.5h0.8v0.8h-0.8zM32.0 57.7h1.1v1.1h-1.1zM75.3 46.5h1.3v1.3h-1.3zM31.2 2.9h1v1h-1zM16.4 39.2h1.1v1.1h-1.1zM42.3 38.1h0.8v0.8h-0.8zM9.7 38.4h1v1h-1zM21.0 34.0h1.3v1.3h-1.3zM40.5 11.6h0.8v0.8h-0.8zM18.3 17.8h1.1v1.1h-1.1zM16.7 32.9h1.3v1.3h-1.3zM59.1 39.9h0.9v0.9h-0.9zM37.2 54.3h1.1v1.1h-1.1zM70.7 42.8h1v1h-1zM30.0 52.3h1.3v1.3h-1.3zM78.9 38.0h1.3v1.3h-1.3zM7.8 17.8h1.3v1.3h-1.3zM79.0 18.0h0.9v0.9h-0.9zM9.2 49.1h0.9v0.9h-0.9zM22.9 53.7h0.9v0.9h-0.9zM57.9 38.9h0.8v0.8h-0.8zM48.0 0.9h1.3v1.3h-1.3zM74.6 36.9h0.8v0.8h-0.8zM41.0 2.0h1v1h-1zM19.8 3.3h1.1v1.1h-1.1zM76.9 14.2h1.3v1.3h-1.3zM74.5 6.4h1.1v1.1h-1.1zM47.2 15.4h0.8v0.8h-0.8zM30.3 38.8h0.9v0.9h-0.9zM54.7 55.8h1v1h-1zM65.6 38.4h0.9v0.9h-0.9zM62.7 39.2h0.8v0.8h-0.8zM13.6 55.8h1.1v1.1h-1.1zM22.8 -0.5h1.3v1.3h-1.3zM4.2 24.4h1v1h-1zM41.6 37.6h1v1h-1zM32.6 4.2h1.3v1.3h-1.3zM27.6 33.1h0.8v0.8h-0.8zM13.7 55.1h1.1v1.1h-1.1zM26.3 54.0h1.1v1.1h-1.1zM7.8 -0.9h1.1v1.1h-1.1zM38.3 53.6h1.1v1.1h-1.1zM33.0 20.7h1.1v1.1h-1.1zM30.0 33.8h0.8v0.8h-0.8zM36.5 14.4h1v1h-1zM1.3 59.0h1.3v1.3h-1.3zM78.1 24.7h1v1h-1zM6.9 35.9h1.1v1.1h-1.1zM77.6 9.2h0.9v0.9h-0.9zM53.4 20.3h1.3v1.3h-1.3zM13.1 40.9h0.9v0.9h-0.9zM33.7 39.2h0.9v0.9h-0.9zM49.6 48.6h0.8v0.8h-0.8zM76.7 46.0h1.1v1.1h-1.1zM46.0 55.1h1v1h-1zM1.0 38.3h1.1v1.1h-1.1zM7.6 46.5h1.1v1.1h-1.1zM69.1 56.8h1v1h-1zM17.9 45.4h0.9v0.9h-0.9zM1.2 25.9h1.1v1.1h-1.1zM4.2 12.7h1.1v1.1h-1.1zM56.3 31.3h1.3v1.3h-1.3zM29.0 51.6h0.9v0.9h-0.9zM11.0 47.4h1v1h-1zM68.4 45.0h1.3v1.3h-1.3zM20.0 29.0h1.1v1.1h-1.1zM44.7 15.2h0.8v0.8h-0.8zM38.2 34.7h0.9v0.9h-0.9zM68.7 11.5h1.1v1.1h-1.1zM-0.7 4.6h1.3v1.3h-1.3zM29.4 58.1h1.1v1.1h-1.1zM65.7 21.3h1v1h-1zM0.5 27.5h1v1h-1zM36.1 46.1h1.1v1.1h-1.1zM46.7 0.1h1.3v1.3h-1.3zM35.6 1.9h0.8v0.8h-0.8zM2.1 2.6h0.8v0.8h-0.8zM45.0 53.0h1.3v1.3h-1.3zM71.7 2.3h0.8v0.8h-0.8zM30.3 20.1h1.3v1.3h-1.3zM48.5 11.5h1v1h-1zM50.7 27.9h0.9v0.9h-0.9zM-0.7 13.6h0.9v0.9h-0.9zM79.0 6.8h1v1h-1zM51.1 45.5h1v1h-1zM63.8 35.9h1.3v1.3h-1.3zM28.5 33.1h1v1h-1zM32.5 23.6h0.9v0.9h-0.9zM69.0 53.7h0.8v0.8h-0.8zM12.9 52.8h1.1v1.1h-1.1zM22.4 4.6h0.9v0.9h-0.9zM34.2 37.8h0.8v0.8h-0.8zM56.4 6.4h0.8v0.8h-0.8zM0.7 10.7h1.1v1.1h-1.1zM71.0 -0.9h0.9v0.9h-0.9zM27.5 49.4h1.1v1.1h-1.1zM3.7 33.6h1.1v1.1h-1.1zM20.3 19.0h1v1h-1zM50.6 17.8h1.1v1.1h-1.1zM73.9 33.5h1.1v1.1h-1.1zM8.2 42.4h1v1h-1zM49.1 47.7h1.1v1.1h-1.1zM2.7 0.5h1.1v1.1h-1.1zM52.2 48.2h0.9v0.9h-0.9zM77.0 39.7h1.3v1.3h-1.3zM2.2 43.2h1.3v1.3h-1.3zM64.0 20.5h0.8v0.8h-0.8zM71.1 29.0h1v1h-1zM42.3 18.7h1.1v1.1h-1.1zM55.7 13.7h0.8v0.8h-0.8zM10.9 37.5h1.1v1.1h-1.1zM37.7 10.1h1.3v1.3h-1.3zM64.2 23.5h0.8v0.8h-0.8zM55.0 36.3h0.9v0.9h-0.9zM41.5 57.2h0.8v0.8h-0.8zM31.3 58.6h0.9v0.9h-0.9zM33.7 39.4h1v1h-1zM42.9 47.0h1v1h-1zM4.6 18.1h1v1h-1zM23.7 48.7h0.8v0.8h-0.8zM16.2 34.1h1v1h-1zM21.2 57.5h0.9v0.9h-0.9zM25.2 36.8h1v1h-1zM59.9 31.5h1v1h-1zM27.5 32.9h1.1v1.1h-1.1zM6.0 43.5h0.8v0.8h-0.8zM45.4 -0.3h0.9v0.9h-0.9zM69.6 14.2h1v1h-1zM20.5 17.4h1.1v1.1h-1.1zM3.6 49.1h0.9v0.9h-0.9zM51.6 -0.9h1.3v1.3h-1.3zM54.5 52.7h0.8v0.8h-0.8zM61.7 3.5h1v1h-1zM43.2 21.2h0.9v0.9h-0.9zM69.3 17.7h0.8v0.8h-0.8zM76.0 56.2h1.1v1.1h-1.1zM69.5 44.2h1v1h-1zM31.6 15.1h1.1v1.1h-1.1zM75.0 12.6h1v1h-1zM-0.0 15.8h1.1v1.1h-1.1zM42.1 10.6h1.1v1.1h-1.1zM51.0 18.7h0.8v0.8h-0.8zM79.2 47.1h1.3v1.3h-1.3zM34.8 14.6h1.1v1.1h-1.1zM67.9 33.2h0.8v0.8h-0.8zM39.2 36.7h1v1h-1zM10.6 33.1h0.9v0.9h-0.9zM47.7 -0.3h0.9v0.9h-0.9zM3.0 8.0h0.8v0.8h-0.8zM72.2 31.0h0.8v0.8h-0.8zM3.1 49.9h1v1h-1zM53.4 4.4h0.8v0.8h-0.8zM25.6 51.0h1.3v1.3h-1.3zM44.5 25.7h0.9v0.9h-0.9zM21.8 4.5h0.9v0.9h-0.9zM53.6 41.5h1v1h-1zM30.5 60.0h0.9v0.9h-0.9zM42.2 22.1h1.3v1.3h-1.3zM3.6 17.9h0.8v0.8h-0.8zM77.5 29.6h1.1v1.1h-1.1zM41.0 23.6h1v1h-1zM22.9 0.6h1.3v1.3h-1.3zM57.0 39.7h1v1h-1zM12.7 49.4h0.8v0.8h-0.8zM62.8 25.8h1.1v1.1h-1.1zM66.1 54.3h1.1v1.1h-1.1zM22.4 11.1h1v1h-1zM13.8 41.0h0.8v0.8h-0.8zM29.6 44.5h1v1h-1zM73.4 18.8h0.9v0.9h-0.9zM68.0 54.0h1.3v1.3h-1.3zM61.6 14.8h1.3v1.3h-1.3zM27.4 9.5h1.1v1.1h-1.1zM12.0 57.6h1.3v1.3h-1.3zM25.5 6.2h0.9v0.9h-0.9zM28.6 49.2h1.1v1.1h-1.1zM64.6 30.1h1.1v1.1h-1.1zM35.7 20.5h0.8v0.8h-0.8zM64.7 2.8h0.8v0.8h-0.8zM12.7 54.5h1v1h-1zM29.5 36.4h0.9v0.9h-0.9zM69.8 51.2h0.9v0.9h-0.9zM3.1 10.6h1v1h-1zM10.1 45.9h1.3v1.3h-1.3zM59.3 60.0h0.8v0.8h-0.8zM37.0 34.6h0.8v0.8h-0.8zM30.1 -0.2h0.8v0.8h-0.8zM46.3 10.0h0.9v0.9h-0.9zM36.7 56.8h1v1h-1zM29.2 25.4h0.9v0.9h-0.9zM69.0 58.7h1.1v1.1h-1.1zM23.6 14.4h0.8v0.8h-0.8zM24.1 1.9h0.8v0.8h-0.8zM75.3 8.7h1.3v1.3h-1.3zM4.3 9.3h0.9v0.9h-0.9zM17.2 13.8h1.3v1.3h-1.3zM17.1 50.9h0.8v0.8h-0.8zM41.4 26.3h1v1h-1zM37.5 22.3h0.8v0.8h-0.8zM77.1 46.9h1v1h-1zM62.8 34.3h0.9v0.9h-0.9zM8.0 37.4h1.3v1.3h-1.3zM61.8 42.0h1.3v1.3h-1.3zM59.5 0.4h0.9v0.9h-0.9zM30.6 24.4h1v1h-1zM27.4 3.4h1.1v1.1h-1.1zM41.1 41.0h1.3v1.3h-1.3zM59.1 53.6h1v1h-1zM79.7 25.5h0.8v0.8h-0.8zM20.1 25.1h1v1h-1zM20.4 14.7h1.1v1.1h-1.1zM31.1 14.2h1.1v1.1h-1.1zM64.8 11.2h1.1v1.1h-1.1zM3.3 12.9h0.9v0.9h-0.9zM1.0 26.4h1.1v1.1h-1.1zM74.3 31.5h1v1h-1zM29.1 28.0h0.9v0.9h-0.9zM28.2 8.8h0.9v0.9h-0.9zM0.9 44.4h1.3v1.3h-1.3zM27.0 15.9h1.3v1.3h-1.3zM24.9 43.3h0.8v0.8h-0.8zM47.3 25.9h0.9v0.9h-0.9zM18.4 14.4h1.1v1.1h-1.1zM78.6 27.9h0.9v0.9h-0.9zM54.5 42.2h1.3v1.3h-1.3zM27.4 4.4h0.9v0.9h-0.9zM33.5 16.3h1v1h-1zM41.2 44.1h1.1v1.1h-1.1zM13.1 53.6h1.3v1.3h-1.3zM54.4 5.2h0.8v0.8h-0.8zM28.3 16.7h1.1v1.1h-1.1zM44.7 0.5h1v1h-1zM70.6 9.6h0.9v0.9h-0.9zM63.3 51.9h0.9v0.9h-0.9zM46.4 28.4h1v1h-1zM39.9 2.7h0.9v0.9h-0.9zM10.6 15.7h1.3v1.3h-1.3zM10.6 58.4h0.9v0.9h-0.9zM3.2 49.7h0.9v0.9h-0.9zM7.9 22.8h1.1v1.1h-1.1zM48.4 22.8h1.3v1.3h-1.3zM5.6 32.7h1v1h-1zM35.7 2.9h1v1h-1zM23.5 35.8h1.3v1.3h-1.3zM73.6 39.6h0.9v0.9h-0.9zM28.2 6.6h0.8v0.8h-0.8zM31.5 18.4h0.8v0.8h-0.8zM42.0 21.3h0.8v0.8h-0.8zM17.4 29.5h0.9v0.9h-0.9zM48.8 55.4h1v1h-1zM70.9 44.3h0.8v0.8h-0.8zM58.2 13.4h1.3v1.3h-1.3zM71.6 27.6h1.1v1.1h-1.1zM34.3 7.0h1.1v1.1h-1.1zM72.1 22.9h0.9v0.9h-0.9zM74.6 48.2h1.3v1.3h-1.3zM7.1 39.6h1.1v1.1h-1.1zM69.9 12.4h1v1h-1zM78.9 41.9h1v1h-1zM61.3 54.4h0.8v0.8h-0.8zM3.1 16.9h1.1v1.1h-1.1zM6.4 25.0h0.9v0.9h-0.9zM57.5 48.7h1.3v1.3h-1.3zM16.6 31.0h1.1v1.1h-1.1zM11.7 43.0h1.3v1.3h-1.3zM51.2 14.6h0.9v0.9h-0.9zM21.7 43.5h1.1v1.1h-1.1zM36.7 57.5h1.1v1.1h-1.1zM21.9 48.7h1.3v1.3h-1.3zM22.0 38.9h1.1v1.1h-1.1zM51.4 43.3h1v1h-1zM45.6 54.7h0.9v0.9h-0.9zM25.9 3.6h0.9v0.9h-0.9zM1.9 44.8h1.3v1.3h-1.3zM8.2 36.8h1.1v1.1h-1.1zM4.1 36.8h1.1v1.1h-1.1zM27.5 12.1h0.8v0.8h-0.8zM76.0 29.9h1.3v1.3h-1.3zM39.6 30.0h1v1h-1zM74.1 17.8h0.9v0.9h-0.9zM75.0 -0.6h0.8v0.8h-0.8zM7.5 18.1h1v1h-1zM11.5 22.5h1.1v1.1h-1.1zM54.9 56.0h0.9v0.9h-0.9z" fill="#b6b4b6" filter="url(#bl4)"/>
<path d="M18.2 32.5h1.1v1.1h-1.1zM43.5 10.8h1.3v1.3h-1.3zM37.5 38.3h0.9v0.9h-0.9zM69.1 31.2h0.8v0.8h-0.8zM37.2 43.2h1.1v1.1h-1.1zM6.9 7.4h1.1v1.1h-1.1zM76.9 54.6h0.9v0.9h-0.9zM2.6 36.8h1.3v1.3h-1.3zM25.7 53.2h0.9v0.9h-0.9zM79.7 18.0h1.3v1.3h-1.3zM1.5 11.1h1v1h-1zM77.6 48.9h0.9v0.9h-0.9zM29.4 35.2h1v1h-1zM36.7 40.8h1v1h-1zM58.6 0.4h0.8v0.8h-0.8zM76.8 14.4h1.3v1.3h-1.3zM54.2 7.1h1v1h-1zM18.3 10.5h0.8v0.8h-0.8zM64.4 58.1h0.9v0.9h-0.9zM41.8 10.7h0.9v0.9h-0.9zM59.2 50.5h1v1h-1zM42.9 53.7h1v1h-1zM73.6 54.1h0.8v0.8h-0.8zM52.6 31.3h0.8v0.8h-0.8zM9.1 3.2h0.8v0.8h-0.8zM70.6 2.3h1v1h-1zM63.0 40.1h1.3v1.3h-1.3zM23.2 4.5h1.3v1.3h-1.3zM79.7 38.7h1.1v1.1h-1.1zM19.4 35.9h1.1v1.1h-1.1zM32.6 34.0h1.1v1.1h-1.1zM46.3 18.4h1.3v1.3h-1.3zM72.6 53.8h0.8v0.8h-0.8zM25.8 22.4h1.3v1.3h-1.3zM60.2 17.2h1v1h-1zM7.7 57.1h1.3v1.3h-1.3zM53.8 33.8h0.9v0.9h-0.9zM74.3 7.7h1.3v1.3h-1.3zM30.0 52.7h1v1h-1zM11.2 35.3h0.8v0.8h-0.8zM13.9 10.6h1.1v1.1h-1.1zM75.7 22.6h1v1h-1zM51.5 17.7h1.1v1.1h-1.1zM6.6 28.2h0.8v0.8h-0.8zM27.0 6.6h1v1h-1zM19.2 15.3h1v1h-1zM39.6 28.6h1v1h-1zM75.0 1.1h1.1v1.1h-1.1zM66.7 52.2h1v1h-1zM45.0 5.8h0.9v0.9h-0.9zM18.4 2.0h0.9v0.9h-0.9zM67.7 30.7h1v1h-1zM17.0 50.0h1.1v1.1h-1.1zM60.5 52.6h1.1v1.1h-1.1zM15.6 32.2h0.8v0.8h-0.8zM26.6 10.8h1v1h-1zM69.7 59.7h1.3v1.3h-1.3zM67.9 21.6h1.1v1.1h-1.1zM38.1 46.6h0.8v0.8h-0.8zM57.4 17.1h1.1v1.1h-1.1zM74.2 31.0h1.3v1.3h-1.3zM20.1 40.3h1v1h-1zM26.4 0.8h0.9v0.9h-0.9zM41.1 45.4h1.3v1.3h-1.3zM67.8 49.9h1v1h-1zM53.0 21.8h1.1v1.1h-1.1zM78.5 27.4h0.8v0.8h-0.8zM51.4 7.0h0.9v0.9h-0.9zM63.2 60.0h1v1h-1zM46.8 42.2h1v1h-1zM41.9 52.8h1.3v1.3h-1.3zM29.1 39.1h1.1v1.1h-1.1zM10.8 12.5h0.8v0.8h-0.8zM1.4 32.1h1.1v1.1h-1.1zM10.3 11.5h1v1h-1zM34.2 5.0h0.8v0.8h-0.8zM67.7 18.9h0.8v0.8h-0.8zM65.8 19.4h0.9v0.9h-0.9zM50.8 0.6h0.9v0.9h-0.9zM31.0 20.1h0.9v0.9h-0.9zM42.0 37.1h1.3v1.3h-1.3zM26.9 2.3h0.8v0.8h-0.8zM17.8 41.1h1.3v1.3h-1.3zM2.4 20.4h0.8v0.8h-0.8zM55.7 59.0h1v1h-1zM42.8 59.8h1v1h-1zM37.7 33.9h0.9v0.9h-0.9zM44.5 22.7h0.9v0.9h-0.9zM48.0 42.2h0.9v0.9h-0.9zM29.0 8.1h0.9v0.9h-0.9zM20.4 47.0h0.9v0.9h-0.9zM71.7 26.1h1.3v1.3h-1.3zM33.6 48.5h1v1h-1zM50.7 12.0h0.9v0.9h-0.9zM11.1 32.5h0.9v0.9h-0.9zM19.9 4.3h0.9v0.9h-0.9zM6.7 41.9h1.1v1.1h-1.1zM13.2 49.8h1.1v1.1h-1.1zM7.2 48.3h1.1v1.1h-1.1zM46.5 12.7h1v1h-1zM50.7 59.6h0.9v0.9h-0.9zM63.2 29.8h1.3v1.3h-1.3zM11.0 30.9h0.9v0.9h-0.9zM-0.1 28.1h1.3v1.3h-1.3zM69.2 54.7h1v1h-1zM24.0 33.6h0.8v0.8h-0.8zM41.9 46.3h0.9v0.9h-0.9zM5.7 40.4h0.8v0.8h-0.8zM31.5 22.7h0.9v0.9h-0.9zM17.4 11.1h1.1v1.1h-1.1zM34.2 7.9h1.1v1.1h-1.1zM43.4 35.3h1.1v1.1h-1.1zM25.9 17.6h0.9v0.9h-0.9zM15.2 55.7h0.8v0.8h-0.8zM67.5 28.5h0.9v0.9h-0.9zM74.5 19.3h1.1v1.1h-1.1zM10.0 43.8h1v1h-1zM64.2 13.8h1v1h-1zM51.5 27.2h1v1h-1zM67.5 60.4h0.8v0.8h-0.8zM68.0 42.9h1v1h-1zM49.5 35.0h1.1v1.1h-1.1zM56.4 38.0h0.9v0.9h-0.9zM53.9 18.6h0.9v0.9h-0.9zM67.0 56.3h0.8v0.8h-0.8zM13.6 48.1h0.8v0.8h-0.8zM31.0 53.0h0.8v0.8h-0.8zM33.7 40.2h0.8v0.8h-0.8zM74.0 41.8h0.9v0.9h-0.9zM51.4 28.9h1.1v1.1h-1.1zM28.3 47.7h1.1v1.1h-1.1zM5.1 59.6h1v1h-1zM51.7 12.3h1v1h-1zM35.3 38.9h0.8v0.8h-0.8zM67.9 0.9h1.3v1.3h-1.3zM20.1 13.8h1.1v1.1h-1.1zM5.7 49.4h1.1v1.1h-1.1zM30.6 24.3h1.3v1.3h-1.3zM6.1 3.2h0.9v0.9h-0.9zM39.4 8.4h1.1v1.1h-1.1zM23.3 40.4h0.9v0.9h-0.9zM19.2 27.3h1.3v1.3h-1.3zM71.1 12.9h1v1h-1zM76.7 36.8h1.3v1.3h-1.3zM59.8 41.0h1.3v1.3h-1.3zM11.4 41.1h0.8v0.8h-0.8zM18.5 30.1h1.1v1.1h-1.1zM46.8 23.5h1v1h-1zM73.1 22.7h1.1v1.1h-1.1zM23.0 60.4h1.3v1.3h-1.3zM16.1 25.9h1v1h-1zM8.1 34.1h1v1h-1zM49.6 18.0h1.3v1.3h-1.3zM67.6 17.6h0.9v0.9h-0.9zM52.8 14.2h0.8v0.8h-0.8zM17.3 3.6h0.9v0.9h-0.9zM77.8 44.1h0.8v0.8h-0.8zM55.8 52.1h1v1h-1zM29.1 60.2h1v1h-1zM56.1 11.0h1.1v1.1h-1.1zM17.3 26.5h1v1h-1zM26.4 8.2h1v1h-1zM78.7 35.6h1v1h-1zM6.4 46.2h1v1h-1zM1.1 35.0h1.3v1.3h-1.3zM35.0 28.0h0.8v0.8h-0.8zM34.5 22.1h1.3v1.3h-1.3zM3.3 25.4h1v1h-1zM52.4 49.8h1.1v1.1h-1.1zM27.2 10.8h1.1v1.1h-1.1zM0.5 26.7h1v1h-1zM66.1 25.6h0.8v0.8h-0.8zM26.9 5.8h1.3v1.3h-1.3zM78.0 33.2h1.1v1.1h-1.1zM23.6 11.8h1v1h-1zM27.5 51.9h1.3v1.3h-1.3zM22.2 54.8h0.9v0.9h-0.9zM24.0 37.5h1.3v1.3h-1.3zM79.5 44.7h1.1v1.1h-1.1zM9.8 22.7h0.8v0.8h-0.8zM65.2 42.7h1.1v1.1h-1.1zM25.8 35.8h1v1h-1zM49.8 21.0h0.8v0.8h-0.8zM19.6 3.7h1.1v1.1h-1.1zM28.6 36.5h1.1v1.1h-1.1zM23.5 52.5h0.9v0.9h-0.9zM0.9 4.3h1.3v1.3h-1.3zM40.0 32.2h0.8v0.8h-0.8zM27.3 13.6h1.1v1.1h-1.1zM15.8 44.0h1v1h-1zM59.7 32.5h1v1h-1zM38.0 45.0h1.3v1.3h-1.3zM22.3 49.9h0.8v0.8h-0.8zM13.7 44.0h1.1v1.1h-1.1zM65.1 36.7h0.8v0.8h-0.8zM42.4 31.4h0.8v0.8h-0.8zM35.9 44.0h1v1h-1zM55.1 13.9h1.3v1.3h-1.3zM57.9 30.5h1.3v1.3h-1.3zM34.0 5.1h0.9v0.9h-0.9zM14.3 43.4h1v1h-1zM44.9 19.7h1v1h-1zM24.4 32.9h1.1v1.1h-1.1zM13.9 40.1h1.3v1.3h-1.3zM22.7 0.6h1.3v1.3h-1.3zM8.1 59.7h1.3v1.3h-1.3zM26.3 51.4h1v1h-1zM11.2 51.1h1v1h-1zM12.9 29.7h1v1h-1zM71.5 45.6h1.1v1.1h-1.1zM57.0 45.2h0.8v0.8h-0.8zM12.7 55.6h1.3v1.3h-1.3zM65.4 17.0h0.9v0.9h-0.9zM5.6 56.3h1v1h-1zM19.9 16.4h0.8v0.8h-0.8zM64.0 39.4h1.3v1.3h-1.3zM50.3 14.3h0.9v0.9h-0.9zM29.3 33.7h1.3v1.3h-1.3zM47.2 51.5h1.1v1.1h-1.1zM53.2 47.4h0.8v0.8h-0.8zM24.9 40.9h1.3v1.3h-1.3zM72.4 53.4h0.9v0.9h-0.9zM19.8 -0.3h0.8v0.8h-0.8zM8.7 13.8h1v1h-1zM10.0 59.8h1v1h-1zM5.3 23.6h1.3v1.3h-1.3zM28.5 26.6h1v1h-1zM50.7 33.9h1v1h-1zM67.2 18.7h1.1v1.1h-1.1zM35.0 51.0h0.9v0.9h-0.9zM11.0 27.3h1v1h-1zM44.0 27.3h1v1h-1zM16.0 28.3h1.3v1.3h-1.3zM6.3 20.6h1v1h-1zM47.5 17.4h0.9v0.9h-0.9zM66.7 9.4h1v1h-1zM74.3 23.3h1.3v1.3h-1.3zM75.1 9.1h1v1h-1zM77.6 -0.9h1v1h-1zM1.5 3.8h1.3v1.3h-1.3zM24.9 57.7h1v1h-1zM25.6 19.7h0.9v0.9h-0.9zM45.9 37.7h0.8v0.8h-0.8zM29.9 22.6h1v1h-1zM78.7 27.7h1v1h-1zM30.0 48.7h0.9v0.9h-0.9zM68.9 24.2h1v1h-1zM35.6 9.4h1.1v1.1h-1.1zM45.4 20.0h0.8v0.8h-0.8zM27.5 10.1h1.1v1.1h-1.1zM15.0 38.6h1.3v1.3h-1.3zM47.7 14.8h1.1v1.1h-1.1zM7.1 53.2h1.1v1.1h-1.1zM51.3 13.7h1.3v1.3h-1.3zM16.7 46.8h1v1h-1zM34.6 17.3h0.9v0.9h-0.9zM60.5 13.2h1v1h-1zM56.4 37.4h0.8v0.8h-0.8zM43.9 47.0h1v1h-1zM23.7 22.8h1.1v1.1h-1.1zM47.1 15.0h1.1v1.1h-1.1zM14.3 32.9h1.1v1.1h-1.1zM17.6 51.6h1.1v1.1h-1.1zM40.6 12.9h1.3v1.3h-1.3zM53.4 54.7h0.9v0.9h-0.9zM71.2 54.5h0.8v0.8h-0.8zM27.1 27.8h0.9v0.9h-0.9zM34.8 23.9h1.3v1.3h-1.3zM29.0 53.6h1v1h-1zM56.1 57.3h0.9v0.9h-0.9zM57.7 25.2h0.9v0.9h-0.9zM39.2 2.4h1v1h-1zM9.5 42.3h1.1v1.1h-1.1zM61.7 17.7h1v1h-1zM48.6 20.0h1.1v1.1h-1.1zM68.4 17.5h1v1h-1zM48.7 57.6h1.3v1.3h-1.3zM41.8 29.8h0.9v0.9h-0.9zM77.4 56.4h0.8v0.8h-0.8zM37.1 24.2h1v1h-1zM66.0 8.8h1.1v1.1h-1.1zM15.0 13.1h1.1v1.1h-1.1zM29.2 35.5h0.9v0.9h-0.9zM33.0 4.8h1.3v1.3h-1.3zM65.4 57.6h0.8v0.8h-0.8zM61.5 59.3h0.9v0.9h-0.9zM66.8 31.6h1.3v1.3h-1.3zM79.6 17.9h0.9v0.9h-0.9zM20.0 32.4h0.8v0.8h-0.8zM67.8 37.7h1v1h-1zM17.3 1.6h1.3v1.3h-1.3zM0.1 46.5h1v1h-1zM7.9 52.1h0.9v0.9h-0.9zM8.4 6.9h1.1v1.1h-1.1zM38.6 20.9h1.3v1.3h-1.3zM26.7 8.3h1v1h-1zM67.2 0.4h0.9v0.9h-0.9zM28.7 16.4h0.9v0.9h-0.9zM69.2 14.7h1.1v1.1h-1.1zM35.4 2.3h1v1h-1zM68.7 46.6h0.8v0.8h-0.8zM12.4 56.3h1.1v1.1h-1.1zM64.9 32.5h1.1v1.1h-1.1zM28.3 36.3h0.8v0.8h-0.8zM35.8 43.9h1.3v1.3h-1.3zM41.3 7.8h1.3v1.3h-1.3zM11.7 57.0h1.3v1.3h-1.3zM32.1 5.0h1.3v1.3h-1.3zM7.7 27.2h1.1v1.1h-1.1zM34.8 3.4h0.9v0.9h-0.9zM14.3 14.1h1v1h-1zM29.5 51.2h0.8v0.8h-0.8zM64.4 6.3h1v1h-1zM73.8 25.6h0.9v0.9h-0.9zM34.9 57.0h0.9v0.9h-0.9zM17.0 42.5h1v1h-1zM14.6 48.7h0.8v0.8h-0.8zM19.7 46.3h1.3v1.3h-1.3zM77.8 5.7h1v1h-1zM18.7 23.4h0.9v0.9h-0.9zM33.0 1.0h1v1h-1zM47.0 44.4h1.1v1.1h-1.1zM24.4 28.1h1.1v1.1h-1.1zM73.2 14.0h1v1h-1zM19.9 33.6h0.9v0.9h-0.9zM15.0 12.4h1v1h-1zM54.3 54.3h1v1h-1zM6.2 12.3h1v1h-1zM58.5 56.6h0.9v0.9h-0.9zM17.2 32.7h1.1v1.1h-1.1zM19.3 46.5h0.8v0.8h-0.8zM71.7 40.2h1.3v1.3h-1.3zM27.1 23.2h0.8v0.8h-0.8zM40.2 58.2h1.1v1.1h-1.1zM48.0 -0.5h1v1h-1zM29.2 13.3h0.8v0.8h-0.8zM23.5 21.2h0.9v0.9h-0.9zM44.4 25.0h1.1v1.1h-1.1zM14.7 19.9h1.1v1.1h-1.1zM25.5 7.1h1.3v1.3h-1.3zM21.3 60.2h1v1h-1zM70.1 31.2h0.9v0.9h-0.9zM12.7 59.1h1v1h-1zM13.4 22.4h0.8v0.8h-0.8zM16.1 30.8h0.8v0.8h-0.8zM18.7 60.4h1.3v1.3h-1.3zM66.3 2.3h1v1h-1zM10.2 39.2h0.9v0.9h-0.9zM63.0 51.2h0.9v0.9h-0.9zM4.2 0.1h1.3v1.3h-1.3zM27.5 10.3h0.8v0.8h-0.8zM56.0 -0.9h1v1h-1zM40.8 30.8h1.1v1.1h-1.1zM37.5 0.8h0.9v0.9h-0.9zM19.0 19.4h1.1v1.1h-1.1zM55.9 48.1h1.1v1.1h-1.1zM8.0 0.6h1.1v1.1h-1.1zM55.5 16.3h1.1v1.1h-1.1zM49.7 42.4h1.1v1.1h-1.1zM42.6 24.6h1.1v1.1h-1.1zM20.5 2.4h1.3v1.3h-1.3zM31.6 29.9h1.1v1.1h-1.1zM3.2 52.8h0.9v0.9h-0.9zM13.8 38.6h0.9v0.9h-0.9zM73.7 35.0h1.3v1.3h-1.3zM65.3 0.7h1.1v1.1h-1.1zM12.6 32.8h0.9v0.9h-0.9zM9.9 32.5h1.3v1.3h-1.3zM55.5 59.0h0.9v0.9h-0.9zM37.9 48.7h1.3v1.3h-1.3zM56.5 21.9h0.9v0.9h-0.9zM31.5 52.7h1.3v1.3h-1.3zM73.1 43.6h1v1h-1zM51.8 10.2h1.3v1.3h-1.3zM11.5 48.6h1.1v1.1h-1.1zM42.2 17.5h1.3v1.3h-1.3zM14.0 29.5h1.3v1.3h-1.3zM54.6 3.0h1v1h-1zM38.0 28.5h0.9v0.9h-0.9zM27.2 42.3h1.1v1.1h-1.1zM40.3 33.8h1.1v1.1h-1.1zM1.2 -0.2h0.8v0.8h-0.8zM60.3 55.9h0.9v0.9h-0.9zM58.7 0.8h0.8v0.8h-0.8zM27.4 51.0h1.1v1.1h-1.1zM33.7 13.2h1v1h-1zM66.3 10.5h1.1v1.1h-1.1zM62.8 58.6h1v1h-1zM51.3 58.8h1v1h-1zM58.4 22.4h1.1v1.1h-1.1zM69.1 40.0h1.3v1.3h-1.3zM74.5 26.3h1v1h-1zM17.7 19.5h1.1v1.1h-1.1zM43.9 36.8h1v1h-1zM54.7 17.1h1v1h-1zM43.6 7.5h1.1v1.1h-1.1zM30.2 11.8h0.8v0.8h-0.8zM19.3 20.2h1.1v1.1h-1.1zM55.3 7.4h1v1h-1zM3.2 48.3h1v1h-1zM33.3 21.1h1.1v1.1h-1.1zM28.6 22.2h0.8v0.8h-0.8zM78.2 55.3h0.9v0.9h-0.9zM59.5 1.0h0.9v0.9h-0.9zM79.2 13.1h1v1h-1zM25.8 19.4h1.1v1.1h-1.1zM28.1 54.7h1.3v1.3h-1.3zM16.8 37.8h0.8v0.8h-0.8zM1.2 56.3h0.9v0.9h-0.9zM74.3 27.3h0.9v0.9h-0.9zM12.5 4.5h0.9v0.9h-0.9zM4.8 36.8h0.8v0.8h-0.8zM62.5 56.0h1v1h-1zM50.6 7.3h0.8v0.8h-0.8zM43.5 44.3h0.9v0.9h-0.9zM17.5 24.7h1v1h-1zM52.6 30.1h1v1h-1zM9.2 23.3h0.9v0.9h-0.9zM29.0 26.7h0.9v0.9h-0.9zM48.9 41.4h1.3v1.3h-1.3zM44.7 54.8h1.3v1.3h-1.3zM5.6 38.0h0.8v0.8h-0.8zM27.7 22.5h0.9v0.9h-0.9zM16.8 0.7h1v1h-1zM59.6 56.2h0.8v0.8h-0.8zM38.9 40.6h1v1h-1zM30.4 52.6h1.3v1.3h-1.3zM15.8 16.3h0.8v0.8h-0.8zM45.5 20.0h1.3v1.3h-1.3zM6.3 14.9h1v1h-1zM27.2 33.5h1.3v1.3h-1.3zM78.4 57.0h0.8v0.8h-0.8zM42.5 43.7h1v1h-1zM33.0 -0.6h1v1h-1zM52.5 44.2h0.9v0.9h-0.9zM20.4 54.7h0.8v0.8h-0.8zM24.2 39.7h0.9v0.9h-0.9zM68.5 30.6h1v1h-1zM13.3 48.0h0.9v0.9h-0.9zM43.8 32.3h1.3v1.3h-1.3zM9.5 47.9h0.9v0.9h-0.9zM2.8 42.5h1v1h-1zM52.0 7.0h1.3v1.3h-1.3zM35.6 1.9h1.3v1.3h-1.3zM22.4 52.1h1.3v1.3h-1.3zM57.2 5.2h1.3v1.3h-1.3zM46.6 23.4h0.8v0.8h-0.8zM56.6 46.0h1.1v1.1h-1.1zM59.3 59.9h1.3v1.3h-1.3zM56.7 53.9h1.1v1.1h-1.1zM60.4 38.0h1.1v1.1h-1.1zM26.8 15.9h1v1h-1zM27.0 23.8h1.3v1.3h-1.3zM73.7 18.2h1.3v1.3h-1.3zM71.3 35.4h1.1v1.1h-1.1zM45.3 2.2h0.8v0.8h-0.8zM74.2 51.5h1v1h-1zM26.5 51.6h0.8v0.8h-0.8zM70.2 39.1h0.8v0.8h-0.8zM15.8 36.4h1.1v1.1h-1.1zM79.4 3.1h0.8v0.8h-0.8zM30.2 48.6h0.8v0.8h-0.8zM35.3 35.5h0.8v0.8h-0.8zM23.6 29.5h1.3v1.3h-1.3zM56.7 13.7h0.9v0.9h-0.9zM55.7 13.5h1.1v1.1h-1.1zM42.0 20.7h0.8v0.8h-0.8zM18.3 44.1h0.8v0.8h-0.8zM2.9 10.1h0.9v0.9h-0.9zM57.8 14.4h1.3v1.3h-1.3zM73.5 36.2h1.1v1.1h-1.1zM19.8 56.3h1.3v1.3h-1.3zM8.5 17.6h0.8v0.8h-0.8zM40.6 43.0h1.3v1.3h-1.3zM48.5 6.1h1v1h-1zM10.1 45.6h1v1h-1zM34.9 1.2h0.9v0.9h-0.9zM48.9 8.6h1v1h-1zM42.1 2.5h0.8v0.8h-0.8zM22.9 36.5h1v1h-1zM41.0 40.7h0.9v0.9h-0.9zM28.9 46.7h0.9v0.9h-0.9zM75.1 22.3h1v1h-1zM78.7 12.3h0.9v0.9h-0.9zM62.5 7.5h0.8v0.8h-0.8zM16.6 21.3h1.1v1.1h-1.1zM75.0 50.5h1.3v1.3h-1.3zM45.5 18.8h1.3v1.3h-1.3zM9.7 10.9h0.9v0.9h-0.9zM66.7 12.0h1.3v1.3h-1.3zM42.6 36.0h1v1h-1zM0.5 60.4h1.1v1.1h-1.1zM20.7 58.9h1.1v1.1h-1.1zM-0.8 6.5h1.1v1.1h-1.1zM33.5 53.5h0.9v0.9h-0.9zM63.7 56.5h0.8v0.8h-0.8zM71.8 17.1h1.3v1.3h-1.3zM70.4 12.6h1.3v1.3h-1.3zM69.4 59.8h1.1v1.1h-1.1zM56.1 40.5h1.1v1.1h-1.1zM23.8 35.8h1.1v1.1h-1.1zM1.3 23.8h0.9v0.9h-0.9zM25.4 43.6h1.3v1.3h-1.3zM9.2 27.8h1.1v1.1h-1.1zM25.2 16.0h1.3v1.3h-1.3zM78.4 33.5h0.8v0.8h-0.8zM4.0 32.6h1v1h-1zM29.6 58.8h1.1v1.1h-1.1zM37.4 4.1h1.3v1.3h-1.3zM26.9 14.9h1.1v1.1h-1.1zM5.0 17.2h0.9v0.9h-0.9zM1.7 7.0h1.3v1.3h-1.3zM51.8 23.6h1.3v1.3h-1.3zM15.2 46.0h0.8v0.8h-0.8zM25.1 35.1h0.9v0.9h-0.9zM67.4 7.4h1.3v1.3h-1.3zM79.4 45.7h1.1v1.1h-1.1zM74.9 44.9h0.8v0.8h-0.8zM20.4 21.1h1.3v1.3h-1.3zM5.7 4.6h0.9v0.9h-0.9zM16.1 58.7h1.3v1.3h-1.3zM74.7 4.0h0.8v0.8h-0.8zM32.0 54.7h1.1v1.1h-1.1zM46.8 10.2h0.9v0.9h-0.9zM73.7 57.0h1.1v1.1h-1.1zM69.8 21.8h0.8v0.8h-0.8zM54.9 10.4h0.9v0.9h-0.9zM47.8 0.3h1.3v1.3h-1.3zM29.0 57.2h1.3v1.3h-1.3zM3.4 37.8h1v1h-1zM59.7 50.1h0.8v0.8h-0.8zM5.0 59.2h1.1v1.1h-1.1zM23.0 22.4h1.3v1.3h-1.3zM28.2 40.1h1.1v1.1h-1.1zM78.0 11.8h0.8v0.8h-0.8zM35.5 17.7h1v1h-1zM62.7 59.5h0.9v0.9h-0.9zM19.3 10.2h1v1h-1zM12.7 55.6h1v1h-1zM2.4 54.1h1.3v1.3h-1.3zM64.5 46.5h1v1h-1zM31.9 2.7h1v1h-1zM77.6 24.5h0.8v0.8h-0.8zM4.5 36.1h1.3v1.3h-1.3zM16.2 34.3h0.8v0.8h-0.8zM59.2 28.3h0.9v0.9h-0.9zM46.3 56.1h0.9v0.9h-0.9zM2.4 46.3h1.1v1.1h-1.1zM61.7 17.9h0.8v0.8h-0.8zM21.3 34.2h0.8v0.8h-0.8zM38.4 15.2h1v1h-1zM26.3 46.2h1v1h-1zM60.0 12.9h1.1v1.1h-1.1zM63.3 15.3h1.3v1.3h-1.3zM61.7 12.9h1.3v1.3h-1.3zM46.9 33.7h0.9v0.9h-0.9zM24.1 44.1h1.1v1.1h-1.1zM52.1 26.7h0.9v0.9h-0.9zM13.3 55.1h1.3v1.3h-1.3zM77.0 58.5h0.9v0.9h-0.9zM49.2 22.1h1.3v1.3h-1.3zM19.2 33.7h1v1h-1zM33.7 37.7h1.1v1.1h-1.1zM41.9 19.8h0.8v0.8h-0.8zM27.7 59.2h1.1v1.1h-1.1zM53.0 26.3h0.8v0.8h-0.8zM62.7 46.2h0.8v0.8h-0.8zM62.1 25.8h0.8v0.8h-0.8zM7.3 37.4h0.8v0.8h-0.8zM59.2 21.8h1v1h-1zM52.0 34.4h0.9v0.9h-0.9zM71.0 11.4h1.1v1.1h-1.1zM74.0 7.2h1v1h-1zM37.6 28.0h1.3v1.3h-1.3zM58.4 52.8h1.3v1.3h-1.3zM72.1 10.7h0.8v0.8h-0.8zM66.5 18.6h1.3v1.3h-1.3zM78.0 41.3h0.8v0.8h-0.8zM67.7 48.4h0.9v0.9h-0.9zM55.2 6.5h0.8v0.8h-0.8zM77.7 51.5h0.9v0.9h-0.9zM28.5 38.1h0.9v0.9h-0.9zM56.1 3.1h1v1h-1zM32.7 30.0h1.1v1.1h-1.1zM77.2 50.0h1v1h-1zM12.5 15.9h0.9v0.9h-0.9zM39.5 1.8h0.9v0.9h-0.9zM52.3 14.8h1.1v1.1h-1.1zM19.5 36.3h0.9v0.9h-0.9zM42.9 52.2h1.3v1.3h-1.3zM13.2 19.7h1.3v1.3h-1.3zM14.5 12.1h0.8v0.8h-0.8zM29.4 35.9h1.3v1.3h-1.3zM46.5 56.3h1.3v1.3h-1.3zM71.7 6.4h0.9v0.9h-0.9zM56.0 12.2h1.1v1.1h-1.1zM71.2 22.8h1.3v1.3h-1.3zM28.3 37.4h1.3v1.3h-1.3zM44.0 52.3h0.9v0.9h-0.9zM9.3 30.5h1.1v1.1h-1.1zM72.8 7.7h0.8v0.8h-0.8zM73.1 31.9h1.3v1.3h-1.3zM41.1 35.6h0.8v0.8h-0.8zM14.7 38.9h1.1v1.1h-1.1zM31.1 38.5h1.1v1.1h-1.1zM3.6 6.1h1.3v1.3h-1.3zM39.2 60.1h0.8v0.8h-0.8zM35.1 45.1h1v1h-1zM44.2 55.3h1.1v1.1h-1.1zM78.2 19.0h1v1h-1zM19.0 38.6h0.8v0.8h-0.8zM79.8 29.2h1v1h-1zM17.9 26.7h0.9v0.9h-0.9zM35.5 36.9h0.8v0.8h-0.8zM3.9 15.9h1.1v1.1h-1.1zM18.0 23.2h1.1v1.1h-1.1zM37.6 20.7h0.8v0.8h-0.8zM65.6 56.2h1.3v1.3h-1.3zM4.7 20.3h1.3v1.3h-1.3zM14.1 6.7h0.8v0.8h-0.8zM19.3 4.5h1v1h-1zM37.9 4.9h1v1h-1zM73.8 27.9h0.9v0.9h-0.9zM47.3 20.6h1.1v1.1h-1.1zM17.9 34.6h1v1h-1zM69.5 44.0h0.8v0.8h-0.8zM60.2 46.0h1.3v1.3h-1.3zM28.5 19.5h0.9v0.9h-0.9zM28.4 28.6h1.3v1.3h-1.3zM41.1 21.2h0.9v0.9h-0.9zM6.8 25.1h1v1h-1zM30.0 37.1h1.1v1.1h-1.1zM75.7 8.2h1.1v1.1h-1.1zM52.1 24.5h1.1v1.1h-1.1zM52.0 46.4h1v1h-1zM20.9 23.9h1.3v1.3h-1.3zM27.9 37.6h1.1v1.1h-1.1zM11.3 33.5h1.3v1.3h-1.3zM29.4 44.7h1v1h-1zM36.5 3.8h0.8v0.8h-0.8zM6.7 35.5h0.8v0.8h-0.8zM8.8 48.5h1.1v1.1h-1.1zM33.0 14.6h1.1v1.1h-1.1zM61.6 17.4h0.9v0.9h-0.9zM36.2 40.0h0.9v0.9h-0.9zM58.1 59.8h0.8v0.8h-0.8zM33.2 39.3h0.8v0.8h-0.8zM27.7 37.6h0.9v0.9h-0.9zM29.6 53.8h1.3v1.3h-1.3zM69.3 -0.3h0.8v0.8h-0.8zM50.0 20.2h0.8v0.8h-0.8zM23.7 13.7h0.8v0.8h-0.8zM70.1 44.1h1.3v1.3h-1.3zM24.9 39.9h1.3v1.3h-1.3zM28.9 53.2h0.9v0.9h-0.9zM40.6 24.1h0.8v0.8h-0.8zM3.7 59.1h1.1v1.1h-1.1zM17.3 12.7h1.3v1.3h-1.3zM53.0 34.6h0.9v0.9h-0.9zM68.4 5.5h1v1h-1zM30.8 48.5h0.8v0.8h-0.8zM1.4 33.3h1v1h-1zM12.1 38.2h0.8v0.8h-0.8zM-0.2 23.9h0.9v0.9h-0.9zM15.7 -0.6h0.9v0.9h-0.9zM28.6 57.5h1v1h-1zM72.0 33.1h0.9v0.9h-0.9zM27.0 37.8h1v1h-1zM51.9 16.9h0.9v0.9h-0.9zM11.2 52.3h0.9v0.9h-0.9zM13.3 3.2h0.8v0.8h-0.8zM17.8 3.9h1.3v1.3h-1.3zM62.1 4.0h0.8v0.8h-0.8zM3.9 30.0h0.9v0.9h-0.9zM70.4 39.9h0.8v0.8h-0.8zM-0.6 46.3h1.1v1.1h-1.1zM48.5 17.2h0.9v0.9h-0.9zM39.0 4.6h1v1h-1zM48.8 16.9h0.8v0.8h-0.8zM16.9 25.5h0.9v0.9h-0.9zM72.4 39.0h1.1v1.1h-1.1zM-0.9 14.5h1.3v1.3h-1.3zM-0.8 1.3h0.9v0.9h-0.9zM65.8 -0.9h1v1h-1zM21.7 44.1h0.8v0.8h-0.8z" fill="#d8d6d6" filter="url(#bl4)"/>
<path d="M79.7 9.4h1v1h-1zM12.7 20.0h0.9v0.9h-0.9zM6.4 6.0h1v1h-1zM17.9 9.2h0.9v0.9h-0.9zM53.8 42.0h0.9v0.9h-0.9zM12.1 15.5h0.9v0.9h-0.9zM10.6 2.4h0.9v0.9h-0.9zM29.4 41.4h0.8v0.8h-0.8zM49.1 33.9h1.1v1.1h-1.1zM30.8 51.1h0.8v0.8h-0.8zM54.7 43.7h0.9v0.9h-0.9z" fill="#d0b0a0" filter="url(#bl4)"/>
<path d="M42.3 41.8h0.9v0.9h-0.9zM1.8 10.4h1v1h-1zM48.3 33.1h1v1h-1zM4.5 14.9h1.3v1.3h-1.3zM62.4 8.5h1.1v1.1h-1.1zM21.6 19.3h0.8v0.8h-0.8zM60.1 20.6h1.3v1.3h-1.3zM52.0 49.0h1v1h-1zM65.9 16.2h1.3v1.3h-1.3zM42.4 48.6h1v1h-1zM15.6 18.2h0.9v0.9h-0.9zM44.1 30.2h1v1h-1zM56.9 58.3h0.8v0.8h-0.8zM40.1 41.8h1v1h-1zM43.1 42.8h1.1v1.1h-1.1zM47.6 39.1h1.3v1.3h-1.3zM56.6 48.6h1v1h-1zM45.7 52.6h0.9v0.9h-0.9z" fill="#c4a090" filter="url(#bl4)"/>
<path d="M73.4 8.6h1.3v1.3h-1.3zM8.7 14.0h1.3v1.3h-1.3zM40.5 57.9h1.1v1.1h-1.1zM30.2 11.3h1v1h-1zM53.8 48.7h0.8v0.8h-0.8zM46.3 49.3h0.8v0.8h-0.8zM53.9 32.5h0.9v0.9h-0.9zM49.4 18.0h1.1v1.1h-1.1zM48.0 47.9h1.3v1.3h-1.3zM54.6 50.3h0.9v0.9h-0.9zM34.3 53.3h0.8v0.8h-0.8zM47.0 46.0h1.1v1.1h-1.1zM16.9 7.2h1v1h-1zM40.1 37.1h1.3v1.3h-1.3zM48.0 33.8h1.3v1.3h-1.3zM32.5 35.9h1.1v1.1h-1.1z" fill="#dcc0b0" filter="url(#bl4)"/>
</svg>
<rect x="413.3" y="206.4" width="78.4" height="61.9" fill="#f4f2f0"/>
<svg x="413.3" y="206.4" width="78.4" height="61.9" overflow="hidden">
<circle cx="32.7" cy="12.6" r="5" fill="#e0b090" opacity="0.4" filter="url(#bl3)"/>
<path d="M17.7 5.5h0.8v0.8h-0.8zM4.3 24.3h0.9v0.9h-0.9zM40.3 21.7h1v1h-1zM17.5 15.3h0.8v0.8h-0.8zM54.6 8.1h1.1v1.1h-1.1zM71.5 38.9h1v1h-1zM33.6 36.0h1v1h-1zM67.4 53.7h1v1h-1zM6.7 60.8h0.8v0.8h-0.8zM36.9 14.2h0.9v0.9h-0.9zM32.4 14.6h1.1v1.1h-1.1zM72.6 12.7h0.8v0.8h-0.8zM33.9 4.0h1.1v1.1h-1.1zM43.5 15.2h1v1h-1zM8.4 34.1h0.9v0.9h-0.9zM17.2 10.3h0.8v0.8h-0.8zM69.1 3.8h1v1h-1zM50.9 19.5h1.3v1.3h-1.3zM66.7 42.3h1.1v1.1h-1.1zM16.6 57.4h0.9v0.9h-0.9zM72.4 3.3h0.9v0.9h-0.9zM19.8 32.0h0.9v0.9h-0.9zM1.5 18.9h1v1h-1zM47.4 38.7h1.1v1.1h-1.1zM11.2 52.1h1.1v1.1h-1.1zM32.6 0.8h1v1h-1zM25.7 9.9h0.8v0.8h-0.8zM38.5 33.3h0.8v0.8h-0.8zM14.9 3.5h1v1h-1zM4.7 13.2h0.8v0.8h-0.8zM-0.2 42.9h1v1h-1zM58.6 12.2h0.8v0.8h-0.8zM47.7 18.7h1.3v1.3h-1.3zM35.2 61.3h1.3v1.3h-1.3zM70.4 46.0h0.9v0.9h-0.9zM66.0 61.0h0.8v0.8h-0.8zM74.9 58.8h1v1h-1zM54.9 41.0h0.9v0.9h-0.9zM24.7 26.0h0.8v0.8h-0.8zM76.9 12.4h1v1h-1zM74.5 49.3h0.9v0.9h-0.9zM78.0 37.8h1.1v1.1h-1.1zM15.8 19.8h0.8v0.8h-0.8zM37.2 60.2h1.3v1.3h-1.3zM14.6 9.0h1.3v1.3h-1.3zM65.5 32.9h0.8v0.8h-0.8zM3.5 28.9h1.1v1.1h-1.1zM59.4 32.3h0.9v0.9h-0.9zM62.6 48.6h0.9v0.9h-0.9zM64.0 11.7h0.8v0.8h-0.8zM4.1 26.4h1.3v1.3h-1.3zM8.4 39.3h0.9v0.9h-0.9zM42.2 35.5h1v1h-1zM67.3 9.4h1v1h-1zM39.3 20.6h0.8v0.8h-0.8zM30.2 4.4h0.8v0.8h-0.8zM69.6 23.9h1v1h-1zM36.3 45.7h1v1h-1zM26.6 31.0h1.1v1.1h-1.1zM24.0 19.6h1v1h-1zM62.1 41.0h0.9v0.9h-0.9zM12.8 -0.7h0.9v0.9h-0.9zM68.7 23.2h0.8v0.8h-0.8zM39.7 22.6h0.9v0.9h-0.9zM66.9 22.0h1v1h-1zM69.0 17.0h0.9v0.9h-0.9zM39.8 10.8h1.1v1.1h-1.1zM51.5 7.1h1.3v1.3h-1.3zM21.1 51.0h0.8v0.8h-0.8zM66.4 29.9h1v1h-1zM63.0 29.5h1v1h-1zM69.4 41.5h1v1h-1zM16.5 14.2h1.1v1.1h-1.1zM60.8 33.7h1.3v1.3h-1.3zM38.2 15.2h0.9v0.9h-0.9zM10.0 24.6h1.1v1.1h-1.1zM41.1 22.1h0.9v0.9h-0.9zM23.2 56.6h0.8v0.8h-0.8zM20.5 9.5h0.8v0.8h-0.8zM34.9 58.7h1v1h-1zM40.4 27.2h1.1v1.1h-1.1zM35.6 33.5h0.9v0.9h-0.9zM66.5 17.2h1.3v1.3h-1.3zM58.5 54.8h0.9v0.9h-0.9zM37.0 39.6h1v1h-1zM58.5 7.8h1.1v1.1h-1.1zM28.4 44.3h1v1h-1zM49.3 7.2h1.3v1.3h-1.3zM70.5 42.6h0.8v0.8h-0.8zM26.3 61.7h1v1h-1zM57.0 11.8h1.3v1.3h-1.3zM57.7 50.7h0.9v0.9h-0.9zM46.3 59.4h1.3v1.3h-1.3zM-0.6 61.4h1.3v1.3h-1.3zM27.7 43.4h1.3v1.3h-1.3zM41.7 52.8h1.1v1.1h-1.1zM56.9 54.8h0.9v0.9h-0.9zM22.7 48.3h1.1v1.1h-1.1zM54.8 16.3h1v1h-1zM14.0 29.6h1.1v1.1h-1.1zM24.6 8.0h1v1h-1zM17.6 55.3h1.3v1.3h-1.3zM36.2 47.7h1.3v1.3h-1.3zM23.6 46.9h0.9v0.9h-0.9zM26.3 39.9h1v1h-1zM32.8 59.7h0.9v0.9h-0.9zM49.4 21.6h1.1v1.1h-1.1zM25.0 7.1h1v1h-1zM27.7 33.4h1.1v1.1h-1.1zM5.0 20.9h1v1h-1zM69.1 25.6h0.9v0.9h-0.9zM66.7 26.3h1v1h-1zM43.7 35.5h1.1v1.1h-1.1zM58.6 59.6h0.8v0.8h-0.8zM9.6 10.6h1.1v1.1h-1.1zM58.8 15.1h0.8v0.8h-0.8zM28.3 53.5h1v1h-1zM75.2 6.5h0.9v0.9h-0.9zM23.2 17.3h1.3v1.3h-1.3zM71.8 55.5h1.3v1.3h-1.3zM69.2 49.8h0.8v0.8h-0.8zM73.2 7.8h1v1h-1zM19.2 58.3h1.1v1.1h-1.1zM67.8 50.4h1.3v1.3h-1.3zM12.1 52.4h0.9v0.9h-0.9zM10.2 32.1h1v1h-1zM52.8 12.3h0.9v0.9h-0.9zM45.1 50.3h0.8v0.8h-0.8zM21.5 10.0h1.1v1.1h-1.1zM3.5 36.0h0.9v0.9h-0.9zM43.7 56.7h0.9v0.9h-0.9zM56.4 29.2h0.9v0.9h-0.9zM45.4 25.4h0.9v0.9h-0.9zM32.8 28.9h1.3v1.3h-1.3zM69.2 9.9h0.8v0.8h-0.8zM11.5 22.0h1.1v1.1h-1.1zM30.1 3.9h0.8v0.8h-0.8zM78.3 14.7h1v1h-1zM14.6 46.9h0.9v0.9h-0.9zM67.4 28.7h1.3v1.3h-1.3zM73.9 28.0h1.1v1.1h-1.1zM52.9 21.8h1v1h-1zM14.0 50.9h1v1h-1zM27.5 54.6h0.8v0.8h-0.8zM-0.8 20.6h1v1h-1zM16.5 35.5h1v1h-1zM75.6 38.6h1.3v1.3h-1.3zM23.0 21.4h1.3v1.3h-1.3zM46.5 24.0h0.8v0.8h-0.8zM2.0 55.9h0.8v0.8h-0.8zM42.9 44.6h0.8v0.8h-0.8zM11.4 28.5h1.3v1.3h-1.3zM20.7 1.3h0.8v0.8h-0.8zM8.0 33.1h0.8v0.8h-0.8zM8.1 23.9h1.3v1.3h-1.3zM26.8 24.8h0.9v0.9h-0.9zM10.0 12.3h0.8v0.8h-0.8zM56.1 2.5h1.1v1.1h-1.1zM-0.9 15.6h1.3v1.3h-1.3zM72.7 51.7h0.8v0.8h-0.8zM55.8 39.8h0.9v0.9h-0.9zM5.2 61.7h1v1h-1zM13.4 35.8h0.9v0.9h-0.9zM23.5 60.7h1.3v1.3h-1.3zM57.9 45.1h1v1h-1zM16.8 38.7h0.9v0.9h-0.9zM37.0 42.8h0.9v0.9h-0.9zM78.2 25.1h1v1h-1zM9.5 34.6h1v1h-1zM35.8 2.8h1v1h-1zM77.7 33.2h0.9v0.9h-0.9zM70.7 32.1h1.1v1.1h-1.1zM72.8 36.4h0.9v0.9h-0.9zM56.9 36.6h0.8v0.8h-0.8zM10.8 53.6h1v1h-1zM21.2 47.1h0.9v0.9h-0.9zM60.2 53.8h1v1h-1zM69.2 31.2h0.8v0.8h-0.8zM55.5 17.7h1.3v1.3h-1.3zM52.2 20.3h1.3v1.3h-1.3zM33.3 43.5h0.8v0.8h-0.8zM41.3 25.2h0.8v0.8h-0.8zM48.8 23.4h0.8v0.8h-0.8zM20.1 56.3h1.1v1.1h-1.1zM43.6 41.1h0.9v0.9h-0.9zM9.2 32.2h0.8v0.8h-0.8zM50.3 15.3h1.1v1.1h-1.1zM51.7 47.1h1.1v1.1h-1.1zM47.1 12.1h1v1h-1zM21.6 17.5h1.3v1.3h-1.3zM39.3 6.3h0.8v0.8h-0.8zM10.5 57.3h1.1v1.1h-1.1zM2.2 44.5h1v1h-1zM4.9 46.8h0.9v0.9h-0.9zM19.0 42.8h0.9v0.9h-0.9zM55.8 55.8h1.3v1.3h-1.3zM38.1 15.5h1v1h-1zM44.3 -0.7h0.9v0.9h-0.9zM15.0 61.9h1v1h-1zM24.3 22.6h1.3v1.3h-1.3zM42.2 58.6h0.8v0.8h-0.8zM24.4 0.7h1v1h-1zM12.9 13.5h1.3v1.3h-1.3zM7.6 60.5h1.1v1.1h-1.1zM11.0 13.3h0.8v0.8h-0.8zM63.2 39.2h1.3v1.3h-1.3zM60.6 59.6h1.3v1.3h-1.3zM14.3 18.8h1.3v1.3h-1.3zM71.9 28.5h0.9v0.9h-0.9zM28.3 30.6h1.1v1.1h-1.1zM63.0 45.0h0.9v0.9h-0.9zM75.7 52.1h0.9v0.9h-0.9zM39.0 30.1h1.3v1.3h-1.3zM14.1 23.2h1.3v1.3h-1.3zM76.4 56.3h0.9v0.9h-0.9zM40.9 25.7h0.9v0.9h-0.9zM76.8 19.0h1v1h-1zM37.8 6.2h1.1v1.1h-1.1zM39.1 0.8h1.1v1.1h-1.1zM8.9 36.3h0.8v0.8h-0.8zM18.1 26.5h0.8v0.8h-0.8zM2.9 55.2h1.1v1.1h-1.1zM4.1 37.6h1.1v1.1h-1.1zM61.6 51.9h1.1v1.1h-1.1zM2.2 25.3h1.1v1.1h-1.1zM43.9 44.6h1.3v1.3h-1.3zM3.3 15.3h1.1v1.1h-1.1zM27.1 8.4h0.9v0.9h-0.9zM10.3 27.1h0.8v0.8h-0.8zM1.7 39.4h0.8v0.8h-0.8zM42.3 36.7h0.8v0.8h-0.8zM27.8 43.6h1.3v1.3h-1.3zM34.0 40.4h0.9v0.9h-0.9zM15.2 28.5h1v1h-1zM37.0 8.0h0.9v0.9h-0.9zM0.7 26.0h1.3v1.3h-1.3zM4.2 28.2h1v1h-1zM8.1 19.9h1v1h-1zM20.4 36.0h1v1h-1zM15.4 18.7h1.1v1.1h-1.1zM35.0 3.1h1.1v1.1h-1.1zM32.1 52.3h1v1h-1zM10.4 9.8h1v1h-1zM71.0 40.9h0.9v0.9h-0.9zM55.9 11.3h0.8v0.8h-0.8zM16.2 22.5h1v1h-1zM75.4 58.3h0.8v0.8h-0.8zM49.8 51.2h1.3v1.3h-1.3zM12.3 36.3h0.8v0.8h-0.8zM21.0 58.4h1v1h-1zM27.2 10.3h1.1v1.1h-1.1zM53.0 13.0h0.9v0.9h-0.9zM12.9 35.7h1.3v1.3h-1.3zM37.9 38.9h1.3v1.3h-1.3zM67.7 21.2h0.8v0.8h-0.8zM30.0 58.1h1.3v1.3h-1.3zM66.4 13.8h1.1v1.1h-1.1zM22.3 30.5h1.3v1.3h-1.3zM56.0 2.2h1.1v1.1h-1.1zM42.8 10.2h0.8v0.8h-0.8zM66.2 9.5h0.9v0.9h-0.9zM37.6 0.8h1.1v1.1h-1.1zM44.7 59.2h0.9v0.9h-0.9zM49.6 -0.1h1v1h-1zM47.2 10.9h0.9v0.9h-0.9zM49.4 45.2h1.1v1.1h-1.1zM70.1 30.0h1.3v1.3h-1.3zM40.3 8.9h1v1h-1zM40.8 43.9h0.8v0.8h-0.8zM30.4 58.0h0.9v0.9h-0.9zM18.8 19.2h0.9v0.9h-0.9zM18.3 12.1h1v1h-1zM42.2 17.8h1.1v1.1h-1.1zM11.7 24.0h0.8v0.8h-0.8zM16.2 60.8h0.8v0.8h-0.8zM14.5 8.9h0.9v0.9h-0.9zM10.6 19.0h1.3v1.3h-1.3zM41.5 20.9h1.3v1.3h-1.3zM14.3 19.3h0.9v0.9h-0.9zM65.9 33.7h1.1v1.1h-1.1zM56.8 44.3h1v1h-1zM66.0 14.0h0.9v0.9h-0.9zM40.4 7.7h0.9v0.9h-0.9zM8.8 32.4h1.1v1.1h-1.1zM37.1 61.8h1.1v1.1h-1.1zM49.6 11.4h0.9v0.9h-0.9zM49.5 4.2h1.1v1.1h-1.1zM32.7 17.8h0.9v0.9h-0.9zM55.5 18.6h1.3v1.3h-1.3zM37.0 25.2h0.8v0.8h-0.8zM17.1 20.7h0.8v0.8h-0.8zM45.4 1.8h1.1v1.1h-1.1zM8.7 26.5h1.3v1.3h-1.3zM55.6 0.1h1v1h-1zM70.7 53.0h1.1v1.1h-1.1zM54.9 25.9h1.1v1.1h-1.1zM59.6 23.4h1.3v1.3h-1.3zM26.7 24.0h1.1v1.1h-1.1zM36.9 22.1h1.3v1.3h-1.3zM12.4 43.0h0.8v0.8h-0.8zM26.0 32.0h1v1h-1zM72.8 26.6h1.3v1.3h-1.3zM71.5 37.6h1.1v1.1h-1.1zM41.8 9.0h1.1v1.1h-1.1zM65.5 11.6h1.1v1.1h-1.1zM41.4 34.1h1v1h-1zM62.7 24.8h0.9v0.9h-0.9zM34.3 35.0h0.8v0.8h-0.8zM8.7 34.2h0.8v0.8h-0.8zM75.4 43.4h0.8v0.8h-0.8zM71.3 51.5h1.3v1.3h-1.3zM35.3 6.0h1v1h-1zM30.0 53.8h0.9v0.9h-0.9zM51.7 0.7h1.1v1.1h-1.1zM62.5 39.9h1.1v1.1h-1.1zM71.4 46.3h0.8v0.8h-0.8zM55.9 47.4h1.3v1.3h-1.3zM63.9 6.7h0.9v0.9h-0.9zM39.0 39.6h0.8v0.8h-0.8zM23.1 31.4h0.9v0.9h-0.9zM59.3 22.5h0.9v0.9h-0.9zM6.3 16.1h0.9v0.9h-0.9zM47.6 3.9h0.8v0.8h-0.8zM29.5 14.4h1.1v1.1h-1.1zM28.8 41.0h1v1h-1zM54.4 14.5h0.8v0.8h-0.8zM50.4 42.6h1.3v1.3h-1.3zM67.1 48.0h0.9v0.9h-0.9zM10.3 20.5h1.1v1.1h-1.1zM50.1 41.7h0.8v0.8h-0.8zM15.5 27.1h1.3v1.3h-1.3zM45.0 5.4h1.1v1.1h-1.1zM64.5 14.2h0.8v0.8h-0.8zM11.7 47.3h0.8v0.8h-0.8zM19.9 -0.2h1.3v1.3h-1.3zM56.2 60.3h1.3v1.3h-1.3zM26.9 27.3h0.8v0.8h-0.8zM37.6 45.8h1.1v1.1h-1.1zM-0.3 37.3h1.3v1.3h-1.3zM25.1 0.0h0.8v0.8h-0.8zM21.7 30.2h0.9v0.9h-0.9zM50.2 41.6h1v1h-1zM39.4 19.0h0.9v0.9h-0.9zM70.7 18.7h1v1h-1zM38.1 50.0h1.3v1.3h-1.3zM33.0 25.3h1v1h-1zM11.4 8.8h1.3v1.3h-1.3zM29.7 31.7h0.9v0.9h-0.9zM65.9 30.1h0.8v0.8h-0.8zM10.4 48.9h0.9v0.9h-0.9zM9.4 10.8h1v1h-1zM12.2 40.0h1v1h-1zM60.7 5.9h1.1v1.1h-1.1zM25.5 7.7h1v1h-1zM55.0 44.4h1v1h-1zM34.8 27.8h0.8v0.8h-0.8zM77.3 34.0h0.8v0.8h-0.8zM19.8 55.6h1.3v1.3h-1.3zM11.0 58.8h1.3v1.3h-1.3zM36.8 -0.2h0.8v0.8h-0.8zM67.6 28.0h0.9v0.9h-0.9zM29.1 15.6h0.8v0.8h-0.8zM74.1 44.5h0.9v0.9h-0.9zM68.6 4.3h0.8v0.8h-0.8zM77.7 22.8h0.8v0.8h-0.8zM31.4 55.7h1.3v1.3h-1.3zM66.6 -0.7h0.9v0.9h-0.9zM35.9 39.0h1.1v1.1h-1.1zM39.2 21.5h1.1v1.1h-1.1zM19.6 5.4h1.1v1.1h-1.1zM64.7 36.6h0.9v0.9h-0.9zM74.4 41.0h1.3v1.3h-1.3zM28.8 35.0h0.9v0.9h-0.9zM77.5 45.0h1.1v1.1h-1.1zM61.0 44.6h0.8v0.8h-0.8zM48.8 53.8h0.8v0.8h-0.8zM49.4 15.0h0.8v0.8h-0.8zM25.6 57.1h1.3v1.3h-1.3zM22.3 28.4h0.9v0.9h-0.9zM56.0 12.6h1v1h-1zM13.7 6.2h1v1h-1zM48.0 25.7h0.9v0.9h-0.9zM18.1 26.3h1.3v1.3h-1.3zM57.8 57.7h0.8v0.8h-0.8zM73.6 6.8h1v1h-1zM19.7 32.8h1.1v1.1h-1.1zM24.2 3.2h1.1v1.1h-1.1zM41.6 19.9h1v1h-1zM76.3 49.5h0.8v0.8h-0.8zM-0.7 13.8h1.3v1.3h-1.3zM31.3 49.4h1.1v1.1h-1.1zM22.1 57.3h1v1h-1zM75.8 43.7h0.8v0.8h-0.8zM61.0 18.1h0.9v0.9h-0.9zM23.0 3.8h1v1h-1zM72.5 11.2h1.1v1.1h-1.1zM6.6 14.5h1v1h-1zM20.7 17.7h1.3v1.3h-1.3zM49.8 52.6h1.3v1.3h-1.3zM24.8 0.9h1.1v1.1h-1.1zM49.6 36.6h0.8v0.8h-0.8zM14.4 42.5h1.3v1.3h-1.3zM50.6 12.9h1.1v1.1h-1.1zM53.9 45.9h1.3v1.3h-1.3zM30.4 0.6h0.8v0.8h-0.8zM19.2 1.8h1.3v1.3h-1.3zM56.9 34.3h0.8v0.8h-0.8zM76.1 8.0h1.3v1.3h-1.3zM45.1 11.1h1.1v1.1h-1.1zM65.2 28.8h1.3v1.3h-1.3zM55.0 37.7h1.1v1.1h-1.1zM25.6 24.6h1.3v1.3h-1.3zM46.7 58.1h1.3v1.3h-1.3zM66.5 8.1h1v1h-1zM28.8 51.3h1v1h-1zM37.4 24.6h1.3v1.3h-1.3zM1.6 16.9h1.3v1.3h-1.3zM14.5 31.8h1v1h-1zM37.0 54.6h1v1h-1zM59.1 7.5h1.1v1.1h-1.1zM2.1 61.7h0.9v0.9h-0.9zM4.1 53.0h1.1v1.1h-1.1zM55.1 8.9h1v1h-1zM39.2 34.7h1.1v1.1h-1.1zM74.3 44.2h0.8v0.8h-0.8zM53.5 0.1h1.1v1.1h-1.1zM74.0 5.0h0.9v0.9h-0.9zM61.8 13.2h0.8v0.8h-0.8zM40.4 24.5h1.1v1.1h-1.1zM38.0 2.3h1.1v1.1h-1.1zM29.5 9.5h0.9v0.9h-0.9zM-0.6 8.9h0.8v0.8h-0.8zM75.3 15.7h0.8v0.8h-0.8zM47.0 58.1h0.8v0.8h-0.8zM22.9 3.4h1v1h-1zM5.2 61.3h1v1h-1zM40.3 42.7h1v1h-1zM10.8 56.2h1.1v1.1h-1.1zM33.1 32.7h0.9v0.9h-0.9zM34.6 29.9h0.8v0.8h-0.8zM4.1 53.4h1.3v1.3h-1.3zM9.3 7.1h1.3v1.3h-1.3zM37.3 33.7h0.9v0.9h-0.9zM42.3 1.1h1v1h-1zM33.1 56.0h1v1h-1zM6.0 28.3h0.8v0.8h-0.8zM55.5 2.9h1.3v1.3h-1.3zM5.8 55.2h1.1v1.1h-1.1zM54.7 43.9h1.3v1.3h-1.3zM42.2 22.6h0.8v0.8h-0.8zM1.1 24.3h1v1h-1zM65.3 31.7h1v1h-1zM49.2 4.5h1.3v1.3h-1.3zM15.1 31.6h0.8v0.8h-0.8zM38.0 48.8h0.9v0.9h-0.9zM10.1 24.0h1.1v1.1h-1.1zM25.9 30.5h1.1v1.1h-1.1zM6.1 51.1h1v1h-1zM42.3 54.3h0.9v0.9h-0.9zM33.4 60.5h0.9v0.9h-0.9zM45.4 25.8h0.9v0.9h-0.9zM12.8 11.6h1.3v1.3h-1.3zM24.4 39.1h1v1h-1zM40.7 8.2h0.8v0.8h-0.8zM54.1 7.9h1.3v1.3h-1.3zM54.0 7.1h0.9v0.9h-0.9zM69.1 6.8h1v1h-1zM49.6 60.1h1.3v1.3h-1.3zM1.3 2.9h1v1h-1zM8.1 0.0h1v1h-1zM20.0 5.2h1.3v1.3h-1.3zM33.4 59.8h1.3v1.3h-1.3zM13.8 17.2h0.9v0.9h-0.9zM73.8 36.2h0.8v0.8h-0.8zM75.8 24.4h0.8v0.8h-0.8zM13.1 28.2h1.1v1.1h-1.1zM27.7 17.2h0.9v0.9h-0.9zM10.9 23.9h0.9v0.9h-0.9zM50.9 31.6h1v1h-1zM62.0 47.0h1.1v1.1h-1.1zM45.5 40.0h1v1h-1zM6.4 19.7h0.8v0.8h-0.8zM61.1 20.9h0.9v0.9h-0.9zM41.2 51.8h1v1h-1zM13.2 26.1h0.9v0.9h-0.9zM68.2 42.2h1.1v1.1h-1.1zM19.8 43.4h1.1v1.1h-1.1zM15.8 35.2h1.3v1.3h-1.3zM13.8 16.2h1.1v1.1h-1.1zM11.7 12.7h0.9v0.9h-0.9zM58.9 2.3h1.1v1.1h-1.1zM2.2 56.0h1.3v1.3h-1.3zM68.6 12.3h1.3v1.3h-1.3zM42.4 29.2h1.3v1.3h-1.3zM18.2 59.7h1.3v1.3h-1.3zM29.6 28.1h0.8v0.8h-0.8zM45.5 46.3h0.8v0.8h-0.8zM5.8 2.4h1.3v1.3h-1.3zM53.8 11.6h0.8v0.8h-0.8zM2.6 21.9h0.8v0.8h-0.8zM67.4 36.2h1v1h-1zM68.8 23.9h0.9v0.9h-0.9zM37.3 61.4h1.3v1.3h-1.3zM3.0 38.8h1.3v1.3h-1.3zM13.8 11.7h0.8v0.8h-0.8zM1.8 5.6h0.9v0.9h-0.9zM17.9 3.1h1v1h-1zM50.0 22.9h0.8v0.8h-0.8zM58.2 1.1h0.9v0.9h-0.9zM54.9 14.8h1v1h-1zM32.0 30.0h1.1v1.1h-1.1zM12.7 39.6h1.1v1.1h-1.1zM40.2 38.2h1.1v1.1h-1.1zM3.8 25.7h1v1h-1zM54.8 21.7h1.3v1.3h-1.3zM56.1 32.4h0.9v0.9h-0.9zM57.4 53.4h1.1v1.1h-1.1zM17.6 29.3h0.9v0.9h-0.9zM11.9 16.0h0.9v0.9h-0.9zM16.9 16.1h1.3v1.3h-1.3zM13.7 48.5h0.9v0.9h-0.9zM65.4 57.3h0.9v0.9h-0.9zM39.3 38.9h1.1v1.1h-1.1zM42.3 14.3h1.1v1.1h-1.1zM25.7 28.7h0.9v0.9h-0.9zM64.6 15.2h1.3v1.3h-1.3zM38.9 22.2h0.8v0.8h-0.8zM41.7 35.1h0.8v0.8h-0.8zM45.8 25.9h1.1v1.1h-1.1zM1.2 4.3h1.3v1.3h-1.3zM30.1 3.1h1v1h-1zM62.1 4.1h1.1v1.1h-1.1zM37.2 54.2h1v1h-1zM3.8 43.2h0.8v0.8h-0.8zM62.0 47.5h0.8v0.8h-0.8zM69.0 8.7h1.3v1.3h-1.3zM38.0 47.6h1v1h-1zM62.1 52.0h0.9v0.9h-0.9zM72.8 21.7h1.3v1.3h-1.3zM74.1 5.6h1v1h-1zM63.3 29.2h0.8v0.8h-0.8zM49.3 18.3h0.9v0.9h-0.9zM73.7 45.6h0.9v0.9h-0.9zM49.2 51.5h0.9v0.9h-0.9zM74.5 24.4h1v1h-1zM67.6 -0.2h1.1v1.1h-1.1zM28.2 53.4h0.9v0.9h-0.9zM39.2 8.3h1.1v1.1h-1.1zM10.3 53.7h1v1h-1zM34.4 56.0h1v1h-1zM70.8 9.0h0.8v0.8h-0.8zM67.4 30.5h0.9v0.9h-0.9zM54.6 51.4h1v1h-1zM55.1 41.6h0.9v0.9h-0.9zM3.3 30.4h1.1v1.1h-1.1zM37.3 29.1h1.1v1.1h-1.1zM37.2 48.0h0.8v0.8h-0.8zM40.3 33.5h1v1h-1zM38.8 24.1h1.3v1.3h-1.3zM1.1 28.1h1.3v1.3h-1.3zM46.0 60.7h0.8v0.8h-0.8zM30.0 2.8h1.1v1.1h-1.1zM33.1 29.3h1v1h-1zM47.9 53.4h1v1h-1zM76.7 61.3h1v1h-1zM39.5 45.4h0.9v0.9h-0.9zM66.5 23.2h1.1v1.1h-1.1zM72.7 17.6h0.8v0.8h-0.8zM4.1 33.2h0.9v0.9h-0.9zM3.8 8.0h1.3v1.3h-1.3zM65.0 6.9h0.9v0.9h-0.9zM33.3 34.7h0.9v0.9h-0.9zM14.8 52.1h0.8v0.8h-0.8zM61.1 61.7h1v1h-1zM17.6 61.1h0.9v0.9h-0.9zM28.0 50.1h1.1v1.1h-1.1zM1.1 21.4h1.3v1.3h-1.3zM4.6 16.1h0.9v0.9h-0.9zM70.9 38.0h0.8v0.8h-0.8zM3.4 24.1h1v1h-1zM60.8 33.5h0.8v0.8h-0.8zM9.6 27.2h1v1h-1zM73.0 6.4h1.3v1.3h-1.3zM21.4 10.4h1.1v1.1h-1.1zM77.0 40.7h0.8v0.8h-0.8zM29.0 37.4h1.3v1.3h-1.3zM59.7 49.9h1.1v1.1h-1.1zM37.3 41.7h1.3v1.3h-1.3zM46.7 39.1h0.9v0.9h-0.9zM14.6 55.8h1.1v1.1h-1.1zM43.9 24.8h1v1h-1zM65.5 36.0h0.9v0.9h-0.9zM24.8 47.4h1.3v1.3h-1.3zM63.7 50.8h0.9v0.9h-0.9zM54.8 22.1h1v1h-1zM12.1 39.9h1.3v1.3h-1.3zM49.5 32.2h0.9v0.9h-0.9zM31.1 52.2h1.1v1.1h-1.1zM32.8 26.4h0.9v0.9h-0.9zM75.2 35.4h1.1v1.1h-1.1zM46.4 7.4h0.8v0.8h-0.8zM59.8 29.4h1v1h-1zM30.8 52.6h1v1h-1zM23.3 40.1h0.9v0.9h-0.9zM74.4 39.0h1.1v1.1h-1.1zM6.5 53.0h1.1v1.1h-1.1zM8.3 59.3h1.3v1.3h-1.3zM28.6 44.2h1.1v1.1h-1.1zM53.2 16.3h1.3v1.3h-1.3zM66.3 10.8h0.9v0.9h-0.9zM70.9 1.5h0.9v0.9h-0.9zM5.9 39.1h0.9v0.9h-0.9zM63.0 3.6h1.1v1.1h-1.1zM66.2 43.2h1.1v1.1h-1.1zM34.5 1.1h1.3v1.3h-1.3zM11.6 16.6h0.8v0.8h-0.8zM76.7 15.0h0.9v0.9h-0.9zM41.9 21.2h0.9v0.9h-0.9zM57.7 50.3h0.8v0.8h-0.8zM23.4 41.7h1.1v1.1h-1.1zM67.3 57.0h1.3v1.3h-1.3zM49.1 22.7h1.1v1.1h-1.1zM54.2 3.1h1.1v1.1h-1.1zM19.3 35.3h0.8v0.8h-0.8zM57.2 25.4h0.8v0.8h-0.8zM47.7 52.3h1v1h-1zM46.4 8.2h0.8v0.8h-0.8zM46.9 17.3h0.8v0.8h-0.8zM12.6 15.3h1.3v1.3h-1.3zM62.7 15.6h1v1h-1zM42.5 54.3h1.3v1.3h-1.3zM59.2 25.2h0.9v0.9h-0.9zM24.6 13.6h1.1v1.1h-1.1zM64.3 22.8h1.3v1.3h-1.3zM36.7 22.7h1v1h-1zM15.3 37.9h1.1v1.1h-1.1zM68.7 14.0h0.9v0.9h-0.9zM69.7 15.9h1.1v1.1h-1.1zM37.9 48.8h0.9v0.9h-0.9zM5.3 50.5h1v1h-1zM28.5 52.2h1.1v1.1h-1.1zM77.9 8.2h0.9v0.9h-0.9zM60.3 43.5h1v1h-1zM16.2 17.2h0.8v0.8h-0.8zM67.0 18.4h1.3v1.3h-1.3zM52.2 49.8h0.8v0.8h-0.8zM74.4 13.5h0.8v0.8h-0.8zM29.2 49.4h1.3v1.3h-1.3zM22.1 24.2h0.8v0.8h-0.8zM72.3 8.0h1v1h-1zM18.7 26.5h1v1h-1zM-0.6 16.1h1.1v1.1h-1.1zM62.5 54.7h0.9v0.9h-0.9zM53.6 26.1h0.8v0.8h-0.8zM22.7 38.2h1.3v1.3h-1.3zM10.9 24.7h1.1v1.1h-1.1zM36.6 9.9h0.9v0.9h-0.9zM21.6 55.9h1.3v1.3h-1.3zM40.5 49.5h1.3v1.3h-1.3zM73.3 1.7h1.3v1.3h-1.3zM62.7 36.7h1.1v1.1h-1.1zM50.3 26.9h1.1v1.1h-1.1zM46.0 46.8h1.3v1.3h-1.3zM66.6 15.2h1.3v1.3h-1.3zM42.0 50.9h1.1v1.1h-1.1zM68.8 8.0h0.8v0.8h-0.8zM58.0 29.9h0.8v0.8h-0.8zM77.4 36.7h1v1h-1zM70.9 40.5h0.8v0.8h-0.8zM11.7 17.3h1.3v1.3h-1.3zM46.2 39.0h1v1h-1zM39.2 -0.8h1.1v1.1h-1.1zM72.1 55.4h0.8v0.8h-0.8zM77.3 18.5h1v1h-1zM11.3 27.4h1v1h-1zM63.6 33.3h0.9v0.9h-0.9zM8.3 34.5h1.3v1.3h-1.3zM19.2 42.5h1.1v1.1h-1.1zM25.0 25.0h1v1h-1zM1.2 0.2h1v1h-1zM72.6 34.5h1v1h-1zM44.5 37.9h0.8v0.8h-0.8zM70.6 48.4h0.9v0.9h-0.9zM76.1 26.0h1.1v1.1h-1.1zM4.3 30.3h1.3v1.3h-1.3zM62.3 57.0h1.1v1.1h-1.1zM65.2 57.0h1.3v1.3h-1.3zM45.7 32.0h0.8v0.8h-0.8zM51.8 5.8h1v1h-1zM20.8 45.9h1.3v1.3h-1.3zM36.4 10.9h1.3v1.3h-1.3zM7.8 4.2h1.1v1.1h-1.1zM72.4 18.6h0.8v0.8h-0.8zM15.0 34.4h1.1v1.1h-1.1zM53.5 28.9h0.8v0.8h-0.8zM51.5 46.9h0.8v0.8h-0.8zM20.1 19.3h0.9v0.9h-0.9zM60.3 58.4h0.9v0.9h-0.9zM0.6 42.3h0.9v0.9h-0.9zM15.4 28.5h1v1h-1zM48.8 57.5h1v1h-1zM26.8 22.7h1.1v1.1h-1.1zM9.5 49.6h1v1h-1zM8.5 13.5h0.8v0.8h-0.8zM35.5 0.8h1v1h-1z" fill="#c8c8ca" filter="url(#bl4)"/>
<path d="M16.0 57.3h1v1h-1zM-0.4 17.4h1.3v1.3h-1.3zM14.5 25.7h0.9v0.9h-0.9zM67.5 6.7h1.1v1.1h-1.1zM1.0 21.5h1v1h-1zM48.0 55.2h1.1v1.1h-1.1zM46.5 9.0h0.8v0.8h-0.8zM35.1 22.0h1.3v1.3h-1.3zM47.2 33.4h0.8v0.8h-0.8zM8.7 32.3h0.9v0.9h-0.9zM60.3 25.2h0.8v0.8h-0.8zM25.9 23.7h0.9v0.9h-0.9zM2.5 55.5h0.8v0.8h-0.8zM68.1 42.3h1.1v1.1h-1.1zM47.4 15.2h0.9v0.9h-0.9zM25.3 55.1h1.3v1.3h-1.3zM5.3 54.3h1v1h-1zM64.7 4.4h0.9v0.9h-0.9zM61.5 18.6h1.1v1.1h-1.1zM6.6 6.2h1.3v1.3h-1.3zM78.4 25.2h0.8v0.8h-0.8zM48.9 58.2h1.1v1.1h-1.1zM55.1 19.5h1.3v1.3h-1.3zM40.8 31.8h1v1h-1zM47.4 18.7h1.3v1.3h-1.3zM34.1 7.8h1v1h-1zM21.7 58.1h1.3v1.3h-1.3zM0.6 58.7h0.8v0.8h-0.8zM54.9 18.5h1.3v1.3h-1.3zM48.8 61.7h1.3v1.3h-1.3zM30.8 50.4h1.3v1.3h-1.3zM46.9 18.6h1.1v1.1h-1.1zM12.3 54.0h1.3v1.3h-1.3zM53.2 53.2h0.8v0.8h-0.8zM46.6 1.3h1.3v1.3h-1.3zM67.1 40.6h1v1h-1zM63.1 4.2h0.8v0.8h-0.8zM24.6 12.5h1v1h-1zM25.3 56.1h1v1h-1zM69.7 30.4h0.8v0.8h-0.8zM66.0 6.2h1.3v1.3h-1.3zM62.3 23.7h1.3v1.3h-1.3zM13.4 21.5h1.3v1.3h-1.3zM67.7 58.1h1v1h-1zM41.5 6.0h0.9v0.9h-0.9zM64.5 45.0h0.8v0.8h-0.8zM61.3 37.0h1.3v1.3h-1.3zM66.8 52.1h0.8v0.8h-0.8zM2.4 16.1h1.3v1.3h-1.3zM18.7 38.3h1.3v1.3h-1.3zM73.9 9.2h1v1h-1zM55.0 32.6h1v1h-1zM49.6 11.2h0.8v0.8h-0.8zM29.7 38.8h1v1h-1zM43.3 60.3h0.9v0.9h-0.9zM6.3 5.3h1v1h-1zM38.3 58.3h1v1h-1zM60.4 48.8h1.1v1.1h-1.1zM9.5 -0.9h0.9v0.9h-0.9zM74.8 30.5h1.3v1.3h-1.3zM31.2 7.3h0.8v0.8h-0.8zM48.0 15.6h0.8v0.8h-0.8zM69.2 33.0h0.8v0.8h-0.8zM63.4 35.6h0.8v0.8h-0.8zM73.8 19.3h1.3v1.3h-1.3zM39.8 50.6h0.8v0.8h-0.8zM6.9 18.0h1.3v1.3h-1.3zM55.8 27.8h1.1v1.1h-1.1zM28.7 43.4h0.9v0.9h-0.9zM26.7 22.1h0.9v0.9h-0.9zM48.6 11.6h1.1v1.1h-1.1zM9.8 24.6h1.3v1.3h-1.3zM19.6 45.2h0.9v0.9h-0.9zM69.2 54.0h1.1v1.1h-1.1zM26.2 34.9h1.3v1.3h-1.3zM31.5 44.8h1.1v1.1h-1.1zM39.9 17.0h0.8v0.8h-0.8zM22.5 40.9h1v1h-1zM41.3 46.6h1.3v1.3h-1.3zM17.5 22.1h1.1v1.1h-1.1zM55.6 13.0h1v1h-1zM75.4 0.1h1v1h-1zM73.0 13.2h0.9v0.9h-0.9zM48.0 52.8h0.9v0.9h-0.9zM2.8 53.8h1.1v1.1h-1.1zM36.6 45.6h1v1h-1zM37.9 1.0h0.9v0.9h-0.9zM19.8 14.3h0.8v0.8h-0.8zM12.2 15.8h0.9v0.9h-0.9zM30.2 27.6h0.9v0.9h-0.9zM29.1 12.7h0.9v0.9h-0.9zM6.6 23.8h0.9v0.9h-0.9zM46.6 55.5h1.1v1.1h-1.1zM57.2 41.6h1.1v1.1h-1.1zM6.5 15.9h0.9v0.9h-0.9zM51.8 8.8h0.8v0.8h-0.8zM40.6 45.2h1v1h-1zM60.2 30.1h0.9v0.9h-0.9zM76.3 45.1h0.9v0.9h-0.9zM62.4 40.9h0.9v0.9h-0.9zM26.8 59.9h0.8v0.8h-0.8zM29.1 41.8h1.1v1.1h-1.1zM15.7 14.0h0.8v0.8h-0.8zM63.4 44.5h1v1h-1zM33.4 44.7h0.9v0.9h-0.9zM59.2 7.1h1.1v1.1h-1.1zM9.0 21.9h1.3v1.3h-1.3zM2.9 35.4h0.8v0.8h-0.8zM70.2 21.7h0.8v0.8h-0.8zM61.5 18.5h1.3v1.3h-1.3zM39.1 34.4h0.9v0.9h-0.9zM44.0 57.4h0.8v0.8h-0.8zM63.4 61.0h1.3v1.3h-1.3zM58.1 10.4h0.8v0.8h-0.8zM20.4 10.0h0.8v0.8h-0.8zM64.1 25.2h0.8v0.8h-0.8zM64.4 47.8h0.8v0.8h-0.8zM52.8 13.9h0.9v0.9h-0.9zM6.9 17.6h1.1v1.1h-1.1zM44.7 55.5h1.1v1.1h-1.1zM57.4 27.4h1.3v1.3h-1.3zM63.2 14.2h0.9v0.9h-0.9zM41.5 52.6h1.3v1.3h-1.3zM4.9 27.0h0.8v0.8h-0.8zM3.2 57.9h1.3v1.3h-1.3zM4.3 11.4h0.8v0.8h-0.8zM31.7 4.5h1v1h-1zM48.1 19.5h0.8v0.8h-0.8zM72.4 51.1h0.9v0.9h-0.9zM26.2 37.0h0.8v0.8h-0.8zM1.2 16.0h1.3v1.3h-1.3zM76.9 55.1h1.1v1.1h-1.1zM28.8 27.9h0.8v0.8h-0.8zM66.4 19.3h1v1h-1zM11.1 15.3h0.8v0.8h-0.8zM7.8 4.8h0.8v0.8h-0.8zM16.9 8.9h0.9v0.9h-0.9zM20.5 51.0h1.3v1.3h-1.3zM74.4 57.8h0.9v0.9h-0.9zM10.1 -1.0h1.3v1.3h-1.3zM48.5 27.7h1v1h-1zM49.7 8.1h1.1v1.1h-1.1zM53.6 7.7h1.3v1.3h-1.3zM72.5 54.2h1.3v1.3h-1.3zM51.8 26.0h1v1h-1zM37.0 5.9h1.1v1.1h-1.1zM9.0 48.9h0.8v0.8h-0.8zM46.1 0.0h1.1v1.1h-1.1zM36.2 20.4h1.1v1.1h-1.1zM32.3 44.1h1.1v1.1h-1.1zM78.3 29.6h1.1v1.1h-1.1zM10.9 56.2h1.1v1.1h-1.1zM18.8 14.0h1v1h-1zM29.3 45.4h1.1v1.1h-1.1zM4.3 48.8h1v1h-1zM7.3 24.5h0.8v0.8h-0.8zM62.4 54.9h0.9v0.9h-0.9zM32.9 55.7h1v1h-1zM14.9 49.5h0.9v0.9h-0.9zM14.5 21.4h1.1v1.1h-1.1zM22.6 29.8h0.9v0.9h-0.9zM53.8 40.6h1v1h-1zM72.3 50.8h1v1h-1zM-0.7 5.0h1.1v1.1h-1.1zM9.7 37.9h0.9v0.9h-0.9zM34.2 16.6h1v1h-1zM31.5 54.3h0.9v0.9h-0.9zM51.8 12.4h1.1v1.1h-1.1zM77.5 42.2h1.3v1.3h-1.3zM57.5 24.2h0.8v0.8h-0.8zM37.6 44.5h0.8v0.8h-0.8zM11.9 15.6h1.3v1.3h-1.3zM44.6 15.1h0.8v0.8h-0.8zM66.2 10.2h0.8v0.8h-0.8zM38.7 29.7h1v1h-1zM6.1 37.6h1.3v1.3h-1.3zM63.6 58.0h0.8v0.8h-0.8zM17.3 54.3h0.9v0.9h-0.9zM26.0 1.5h0.8v0.8h-0.8zM57.6 48.7h1.1v1.1h-1.1zM23.2 45.0h1.1v1.1h-1.1zM74.0 25.7h1v1h-1zM59.8 59.6h1.3v1.3h-1.3zM76.3 56.1h1v1h-1zM68.8 30.6h1v1h-1zM5.5 24.8h1.3v1.3h-1.3zM33.2 45.2h0.8v0.8h-0.8zM0.2 9.4h0.8v0.8h-0.8zM60.2 53.6h1.3v1.3h-1.3zM18.1 13.9h0.9v0.9h-0.9zM36.6 6.1h1v1h-1zM72.0 24.4h0.8v0.8h-0.8zM9.0 42.6h1.3v1.3h-1.3zM77.7 19.1h0.8v0.8h-0.8zM8.2 34.2h1v1h-1zM50.5 30.6h0.9v0.9h-0.9zM41.3 48.8h1.3v1.3h-1.3zM19.5 51.9h1.1v1.1h-1.1zM60.8 32.6h0.9v0.9h-0.9zM2.7 24.3h1.3v1.3h-1.3zM27.3 32.5h0.9v0.9h-0.9zM52.3 5.6h1.3v1.3h-1.3zM58.1 18.6h0.8v0.8h-0.8zM10.2 43.4h1v1h-1zM12.6 52.8h1v1h-1zM38.1 36.1h1.3v1.3h-1.3zM18.6 55.5h1v1h-1zM60.7 53.1h0.9v0.9h-0.9zM32.2 35.7h0.9v0.9h-0.9zM33.4 48.3h1v1h-1zM46.1 23.8h0.9v0.9h-0.9zM23.1 16.5h1.1v1.1h-1.1zM2.4 45.5h1.3v1.3h-1.3zM10.1 61.7h1.1v1.1h-1.1zM21.8 59.4h1.3v1.3h-1.3zM9.8 17.4h0.9v0.9h-0.9zM12.3 29.9h0.9v0.9h-0.9zM6.1 54.7h1.1v1.1h-1.1zM44.0 36.5h1.3v1.3h-1.3zM0.7 27.7h1.3v1.3h-1.3zM61.0 49.7h0.8v0.8h-0.8zM38.5 1.2h1v1h-1zM69.0 51.8h1.3v1.3h-1.3zM63.3 38.5h0.9v0.9h-0.9zM16.6 10.7h1.1v1.1h-1.1zM46.6 26.2h1.1v1.1h-1.1zM7.8 47.3h1v1h-1zM54.1 13.4h1v1h-1zM25.3 42.0h0.8v0.8h-0.8zM11.4 54.4h1v1h-1zM21.8 31.9h1.1v1.1h-1.1zM60.1 56.6h1v1h-1zM2.0 22.0h0.8v0.8h-0.8zM9.4 41.7h1.3v1.3h-1.3zM14.5 9.7h0.8v0.8h-0.8zM20.8 57.1h0.8v0.8h-0.8zM53.7 26.4h1v1h-1zM13.4 0.9h1.1v1.1h-1.1zM45.7 5.6h1v1h-1zM60.3 9.4h1.1v1.1h-1.1zM49.7 26.3h0.9v0.9h-0.9zM47.4 36.0h1.3v1.3h-1.3zM34.8 0.9h1v1h-1zM48.6 24.7h1.1v1.1h-1.1zM75.7 0.9h1.3v1.3h-1.3zM2.4 33.7h1.3v1.3h-1.3zM44.2 28.0h1.1v1.1h-1.1zM45.9 43.0h0.9v0.9h-0.9zM72.1 61.3h1.3v1.3h-1.3zM43.4 37.0h1.1v1.1h-1.1zM4.9 21.7h1.3v1.3h-1.3zM18.6 59.3h0.8v0.8h-0.8zM52.0 30.6h1v1h-1zM26.3 23.4h1.1v1.1h-1.1zM46.1 42.8h1v1h-1zM28.3 60.8h1.3v1.3h-1.3zM67.4 13.1h1.3v1.3h-1.3zM32.3 31.4h0.9v0.9h-0.9zM23.7 31.8h0.9v0.9h-0.9zM66.4 46.4h1.3v1.3h-1.3zM71.3 49.6h0.8v0.8h-0.8zM0.6 15.6h0.9v0.9h-0.9zM72.7 4.0h1v1h-1zM14.5 34.1h1.3v1.3h-1.3zM27.1 10.9h1.1v1.1h-1.1zM70.3 2.8h0.9v0.9h-0.9zM47.0 1.3h1v1h-1zM74.4 28.6h1v1h-1zM2.7 56.2h1v1h-1zM25.9 61.0h0.8v0.8h-0.8zM70.2 58.1h0.9v0.9h-0.9zM21.6 51.8h0.8v0.8h-0.8zM27.5 16.1h0.9v0.9h-0.9zM31.7 58.3h1.3v1.3h-1.3zM46.6 21.7h1.1v1.1h-1.1zM20.9 53.0h1.3v1.3h-1.3zM38.7 2.7h0.9v0.9h-0.9zM64.1 7.6h1v1h-1zM51.0 3.2h1.1v1.1h-1.1zM59.1 54.8h0.8v0.8h-0.8zM35.8 55.9h0.9v0.9h-0.9zM78.1 27.2h0.8v0.8h-0.8zM50.3 3.6h0.9v0.9h-0.9zM2.0 7.2h1.1v1.1h-1.1zM70.1 35.5h0.9v0.9h-0.9zM34.6 5.3h1.1v1.1h-1.1zM23.6 58.8h0.8v0.8h-0.8zM42.6 27.1h1v1h-1zM28.9 57.1h0.9v0.9h-0.9zM73.2 60.8h0.8v0.8h-0.8zM67.8 9.2h0.8v0.8h-0.8zM16.0 52.3h1.1v1.1h-1.1zM75.9 46.8h0.8v0.8h-0.8zM15.4 17.0h1v1h-1zM62.2 5.1h1v1h-1zM12.1 48.1h0.9v0.9h-0.9zM48.6 17.6h1.1v1.1h-1.1zM10.7 22.5h1.3v1.3h-1.3zM54.3 2.0h1v1h-1zM36.5 32.7h1.1v1.1h-1.1zM6.1 56.1h0.8v0.8h-0.8zM61.3 12.7h1.1v1.1h-1.1zM52.0 38.2h1.1v1.1h-1.1zM63.7 30.7h1.1v1.1h-1.1zM45.2 12.3h0.8v0.8h-0.8zM8.9 43.1h1.1v1.1h-1.1zM50.2 52.9h0.9v0.9h-0.9zM74.5 43.4h1v1h-1zM4.6 42.1h0.8v0.8h-0.8zM50.5 16.7h1.1v1.1h-1.1zM46.4 7.2h1v1h-1zM39.1 23.7h1.3v1.3h-1.3zM42.2 31.5h0.8v0.8h-0.8zM56.8 51.5h0.8v0.8h-0.8zM75.7 20.4h0.9v0.9h-0.9zM19.4 4.6h1.3v1.3h-1.3zM63.6 51.8h1.3v1.3h-1.3zM6.3 39.3h0.8v0.8h-0.8zM62.0 17.4h0.8v0.8h-0.8zM54.4 46.5h1.1v1.1h-1.1zM25.0 33.4h0.8v0.8h-0.8zM64.4 10.6h1v1h-1zM34.9 15.7h0.8v0.8h-0.8zM58.1 21.5h1v1h-1zM64.1 54.8h0.8v0.8h-0.8zM58.3 29.9h0.8v0.8h-0.8zM29.3 37.8h1.3v1.3h-1.3zM49.5 53.0h1.1v1.1h-1.1zM75.5 -0.4h1.1v1.1h-1.1zM77.1 11.5h1.3v1.3h-1.3zM37.2 50.5h0.8v0.8h-0.8zM7.4 47.9h1v1h-1zM45.4 43.5h0.9v0.9h-0.9zM-0.7 60.5h1v1h-1zM0.1 42.2h1.3v1.3h-1.3zM46.2 29.1h1.1v1.1h-1.1zM77.3 51.7h0.9v0.9h-0.9zM40.3 51.3h0.8v0.8h-0.8zM21.6 61.7h1v1h-1zM50.6 39.0h0.8v0.8h-0.8zM43.5 5.9h0.9v0.9h-0.9zM73.6 20.7h0.8v0.8h-0.8zM70.9 22.8h1.1v1.1h-1.1zM46.3 18.5h1.1v1.1h-1.1zM21.6 48.8h1.3v1.3h-1.3zM39.9 48.5h1.1v1.1h-1.1zM71.9 23.7h1v1h-1zM77.7 47.3h1.3v1.3h-1.3zM29.9 36.3h1.1v1.1h-1.1zM12.1 32.2h0.9v0.9h-0.9zM6.9 31.0h1v1h-1zM24.7 44.9h1.1v1.1h-1.1zM48.5 12.1h0.9v0.9h-0.9zM59.6 60.9h0.8v0.8h-0.8zM60.4 40.6h1.3v1.3h-1.3zM9.9 5.2h1.1v1.1h-1.1zM56.1 49.1h1.3v1.3h-1.3zM6.7 12.2h1.1v1.1h-1.1zM41.1 35.9h0.8v0.8h-0.8zM26.9 54.1h1v1h-1zM72.3 9.1h1v1h-1zM13.5 53.6h1.3v1.3h-1.3zM71.5 52.6h1.1v1.1h-1.1zM7.3 57.8h0.8v0.8h-0.8zM49.6 52.2h1v1h-1zM35.3 42.0h0.9v0.9h-0.9zM42.4 42.2h1v1h-1zM59.2 13.7h0.9v0.9h-0.9zM42.0 29.5h0.9v0.9h-0.9zM15.5 49.4h1.3v1.3h-1.3zM40.7 7.1h1v1h-1zM49.0 25.8h1v1h-1zM76.8 16.0h0.8v0.8h-0.8zM51.1 47.6h0.8v0.8h-0.8zM69.5 46.8h1v1h-1zM43.2 22.8h1.1v1.1h-1.1zM37.9 23.0h1v1h-1zM23.5 58.9h1.3v1.3h-1.3zM19.0 6.2h1v1h-1zM49.4 39.3h1v1h-1zM58.3 56.6h0.8v0.8h-0.8zM57.1 19.7h0.8v0.8h-0.8zM13.4 13.4h1v1h-1zM50.3 55.0h1.3v1.3h-1.3zM74.3 36.0h1.1v1.1h-1.1zM16.6 28.5h1.3v1.3h-1.3zM52.5 0.3h1v1h-1zM29.2 2.4h1.3v1.3h-1.3zM65.9 50.1h1.3v1.3h-1.3zM55.9 52.4h1v1h-1zM63.2 52.2h1.1v1.1h-1.1zM20.3 15.9h0.8v0.8h-0.8zM76.2 55.0h1.3v1.3h-1.3zM45.3 50.4h1.1v1.1h-1.1zM48.5 3.9h0.8v0.8h-0.8zM35.1 40.0h0.9v0.9h-0.9zM42.9 19.7h0.8v0.8h-0.8zM18.2 56.5h1.1v1.1h-1.1zM28.0 61.8h1.3v1.3h-1.3zM10.1 58.3h1v1h-1zM26.1 53.1h1.1v1.1h-1.1zM12.2 53.6h1.3v1.3h-1.3zM34.4 60.5h1.3v1.3h-1.3zM28.4 50.3h1v1h-1zM9.9 39.1h0.9v0.9h-0.9zM-0.9 45.7h0.8v0.8h-0.8zM64.6 18.9h1v1h-1zM36.3 29.5h1.3v1.3h-1.3zM42.7 47.9h0.9v0.9h-0.9zM70.5 59.2h1v1h-1zM75.9 40.4h1.1v1.1h-1.1zM66.1 30.6h0.9v0.9h-0.9zM38.6 56.1h1.3v1.3h-1.3zM18.0 38.4h1v1h-1zM44.7 60.9h1v1h-1zM63.1 14.9h0.8v0.8h-0.8zM47.3 3.8h1v1h-1zM73.3 -0.8h1.1v1.1h-1.1zM37.2 9.3h0.9v0.9h-0.9zM42.7 13.0h0.9v0.9h-0.9zM34.8 3.7h0.9v0.9h-0.9zM77.2 50.3h1.1v1.1h-1.1zM78.0 43.0h1v1h-1zM51.8 6.7h0.8v0.8h-0.8zM67.9 0.5h0.8v0.8h-0.8zM63.1 7.1h1v1h-1zM39.2 1.3h1v1h-1zM78.2 36.9h1.3v1.3h-1.3zM18.2 5.1h1.1v1.1h-1.1zM76.1 31.5h0.9v0.9h-0.9zM46.7 41.7h0.8v0.8h-0.8zM31.7 0.4h1v1h-1zM13.7 61.0h1.3v1.3h-1.3zM76.3 13.6h1.3v1.3h-1.3zM24.0 17.6h1v1h-1zM76.6 36.6h1v1h-1zM76.8 35.0h0.8v0.8h-0.8zM74.2 1.2h1.3v1.3h-1.3zM48.4 31.7h1.3v1.3h-1.3zM53.2 35.4h1v1h-1zM32.1 41.9h0.9v0.9h-0.9zM73.9 30.3h1.1v1.1h-1.1zM55.2 53.5h1.3v1.3h-1.3zM41.6 29.5h0.8v0.8h-0.8zM39.2 61.8h1.3v1.3h-1.3zM54.5 -0.2h1v1h-1zM51.4 28.9h1.3v1.3h-1.3zM46.3 12.7h1.3v1.3h-1.3zM19.2 2.8h1.1v1.1h-1.1zM61.8 9.0h0.8v0.8h-0.8zM23.2 23.4h0.8v0.8h-0.8zM45.8 11.9h0.9v0.9h-0.9zM23.8 12.2h1.3v1.3h-1.3zM25.2 25.3h0.8v0.8h-0.8zM25.3 27.5h0.9v0.9h-0.9zM19.7 12.8h1.3v1.3h-1.3zM77.1 11.8h1.3v1.3h-1.3zM67.1 6.6h1.3v1.3h-1.3zM0.8 3.5h0.8v0.8h-0.8zM8.5 3.4h1.3v1.3h-1.3zM43.8 26.0h0.8v0.8h-0.8zM36.2 59.4h1.3v1.3h-1.3zM29.5 54.9h1.1v1.1h-1.1zM17.1 43.8h1v1h-1zM36.3 33.1h0.8v0.8h-0.8zM25.6 34.4h0.9v0.9h-0.9zM35.4 53.6h1.3v1.3h-1.3zM56.1 61.0h0.9v0.9h-0.9zM24.9 17.4h1.1v1.1h-1.1zM63.2 14.0h0.8v0.8h-0.8zM76.4 40.8h1.3v1.3h-1.3zM11.1 35.0h0.8v0.8h-0.8zM3.9 44.5h1.1v1.1h-1.1zM3.5 3.4h0.8v0.8h-0.8zM32.1 13.3h1v1h-1zM39.7 57.5h1v1h-1zM61.6 56.5h1.3v1.3h-1.3zM4.7 27.7h1.1v1.1h-1.1zM49.9 51.7h1.3v1.3h-1.3zM20.9 43.9h0.8v0.8h-0.8zM53.4 33.5h0.9v0.9h-0.9zM64.5 5.8h1.3v1.3h-1.3zM50.7 21.4h1v1h-1zM26.5 39.3h1v1h-1zM44.7 54.9h0.9v0.9h-0.9zM56.2 36.4h1v1h-1zM72.5 17.7h0.9v0.9h-0.9zM35.4 11.5h0.9v0.9h-0.9zM22.6 38.3h0.8v0.8h-0.8zM42.9 13.1h1.1v1.1h-1.1zM62.4 15.2h1v1h-1zM65.7 -0.3h1.1v1.1h-1.1zM67.7 16.1h0.9v0.9h-0.9zM12.7 30.5h1.1v1.1h-1.1zM51.7 28.7h0.8v0.8h-0.8zM37.2 32.3h1.3v1.3h-1.3zM8.9 8.2h0.8v0.8h-0.8zM44.0 23.6h0.8v0.8h-0.8zM1.8 55.5h1.3v1.3h-1.3zM31.4 1.2h0.8v0.8h-0.8zM15.8 41.6h1v1h-1zM61.4 0.0h1.3v1.3h-1.3zM10.5 28.4h0.8v0.8h-0.8zM66.1 13.6h0.8v0.8h-0.8zM44.8 37.9h0.9v0.9h-0.9zM3.3 30.8h1.1v1.1h-1.1zM53.5 45.3h1v1h-1zM62.4 46.9h0.9v0.9h-0.9zM11.1 2.1h1.1v1.1h-1.1zM15.6 21.8h1.3v1.3h-1.3zM14.0 60.4h1.3v1.3h-1.3zM8.2 17.9h1.3v1.3h-1.3zM8.5 46.4h0.8v0.8h-0.8zM12.5 18.7h0.8v0.8h-0.8zM37.0 51.8h1.1v1.1h-1.1zM27.2 47.8h0.9v0.9h-0.9zM19.5 1.2h1.3v1.3h-1.3zM31.6 6.9h0.9v0.9h-0.9zM29.8 3.0h0.9v0.9h-0.9zM50.4 34.9h0.9v0.9h-0.9zM18.5 37.1h1v1h-1zM16.3 43.6h1.3v1.3h-1.3zM53.2 9.4h1.1v1.1h-1.1zM57.6 55.1h1.3v1.3h-1.3zM18.8 19.3h1v1h-1zM51.2 7.5h0.9v0.9h-0.9zM68.9 50.7h0.8v0.8h-0.8zM8.5 52.8h1.3v1.3h-1.3zM8.0 48.4h0.8v0.8h-0.8zM71.5 56.6h1.1v1.1h-1.1zM66.6 4.9h0.9v0.9h-0.9zM78.2 9.9h1.1v1.1h-1.1zM27.2 29.0h0.9v0.9h-0.9zM54.0 0.7h0.8v0.8h-0.8zM57.7 15.0h1v1h-1zM73.2 58.0h1.1v1.1h-1.1zM27.1 40.9h1.1v1.1h-1.1zM53.9 54.3h0.8v0.8h-0.8zM9.6 21.8h1v1h-1zM39.3 1.7h0.8v0.8h-0.8zM63.7 16.0h0.9v0.9h-0.9zM52.6 21.0h0.8v0.8h-0.8zM25.9 13.8h1.1v1.1h-1.1zM13.5 0.7h1.3v1.3h-1.3zM73.2 24.4h1.3v1.3h-1.3zM12.5 54.7h1.3v1.3h-1.3zM7.7 50.3h1.1v1.1h-1.1zM78.4 2.4h1.3v1.3h-1.3zM77.8 28.3h1.3v1.3h-1.3zM51.6 0.0h1.1v1.1h-1.1zM55.9 11.0h0.8v0.8h-0.8zM30.5 59.0h0.9v0.9h-0.9zM19.5 47.7h0.8v0.8h-0.8zM22.4 10.1h0.9v0.9h-0.9zM44.3 14.4h0.8v0.8h-0.8zM57.2 25.2h0.8v0.8h-0.8zM39.5 26.3h1v1h-1zM61.0 30.6h1.1v1.1h-1.1zM31.4 33.9h1v1h-1zM36.8 43.1h1.1v1.1h-1.1zM20.5 52.7h0.9v0.9h-0.9zM20.1 18.1h1.3v1.3h-1.3zM72.3 9.2h0.8v0.8h-0.8zM12.0 25.3h1.1v1.1h-1.1zM52.2 17.1h1.1v1.1h-1.1zM9.2 56.6h0.8v0.8h-0.8zM46.1 2.2h1.1v1.1h-1.1zM77.5 54.9h1.3v1.3h-1.3zM58.5 61.6h1.3v1.3h-1.3zM32.3 25.1h1v1h-1zM11.3 45.2h1.3v1.3h-1.3zM73.5 23.7h1.1v1.1h-1.1zM11.8 30.2h0.9v0.9h-0.9zM23.6 52.1h0.8v0.8h-0.8zM49.4 36.4h0.8v0.8h-0.8zM42.7 35.0h1v1h-1zM54.8 2.0h1v1h-1zM52.4 33.1h1v1h-1zM0.6 8.3h1.3v1.3h-1.3zM47.8 22.6h1.1v1.1h-1.1zM40.6 60.4h0.8v0.8h-0.8zM68.1 56.2h0.8v0.8h-0.8zM7.3 8.3h1.3v1.3h-1.3zM60.7 6.6h1v1h-1zM0.6 51.9h0.8v0.8h-0.8zM52.0 4.0h1.1v1.1h-1.1zM35.6 54.4h0.8v0.8h-0.8zM11.6 43.4h1.1v1.1h-1.1zM11.1 47.2h1.1v1.1h-1.1zM56.6 42.5h0.9v0.9h-0.9zM59.4 42.3h1.1v1.1h-1.1zM27.8 50.5h1.1v1.1h-1.1zM37.6 29.9h0.9v0.9h-0.9zM78.2 46.7h1v1h-1zM44.7 33.5h1v1h-1zM19.4 54.0h1v1h-1zM57.7 17.6h1.1v1.1h-1.1zM21.7 56.1h1.3v1.3h-1.3zM6.9 29.0h1.1v1.1h-1.1zM23.0 18.3h0.8v0.8h-0.8zM18.1 25.3h1.3v1.3h-1.3zM31.6 25.4h0.8v0.8h-0.8zM34.6 48.8h0.8v0.8h-0.8zM77.0 37.4h0.8v0.8h-0.8zM36.3 54.3h0.9v0.9h-0.9zM37.9 5.9h1.1v1.1h-1.1zM4.6 51.1h0.9v0.9h-0.9zM13.7 17.8h1.1v1.1h-1.1zM38.5 53.6h1.3v1.3h-1.3zM30.4 47.0h0.8v0.8h-0.8zM55.9 15.8h0.8v0.8h-0.8zM16.7 12.1h0.9v0.9h-0.9zM19.1 56.4h0.8v0.8h-0.8zM64.7 55.5h1.1v1.1h-1.1zM35.7 55.0h1.1v1.1h-1.1zM15.0 13.9h1.1v1.1h-1.1zM75.2 34.6h1.1v1.1h-1.1zM-0.8 57.7h1.3v1.3h-1.3zM55.9 39.4h1v1h-1zM-0.6 38.1h0.9v0.9h-0.9zM76.8 24.3h0.9v0.9h-0.9zM30.6 33.7h1.1v1.1h-1.1zM12.4 4.8h1.3v1.3h-1.3zM54.9 28.4h1.1v1.1h-1.1zM30.3 1.5h1.1v1.1h-1.1zM7.7 5.8h1.3v1.3h-1.3zM45.9 18.5h0.9v0.9h-0.9zM28.2 57.4h1v1h-1zM25.4 53.1h1.3v1.3h-1.3zM19.5 20.6h1.3v1.3h-1.3zM74.0 45.4h1v1h-1zM31.5 22.9h1.1v1.1h-1.1zM60.9 15.1h0.9v0.9h-0.9zM46.9 16.9h0.9v0.9h-0.9zM66.2 56.4h1v1h-1zM6.4 7.8h0.9v0.9h-0.9zM9.5 23.0h1v1h-1zM77.1 58.8h0.8v0.8h-0.8zM3.3 45.7h1v1h-1zM7.0 25.1h0.9v0.9h-0.9zM-0.7 17.9h0.9v0.9h-0.9zM40.8 59.8h0.8v0.8h-0.8zM27.5 23.4h0.8v0.8h-0.8zM55.0 6.7h0.9v0.9h-0.9zM37.8 22.6h0.9v0.9h-0.9zM42.6 49.7h1v1h-1zM54.4 51.8h1.1v1.1h-1.1zM28.3 19.6h1.1v1.1h-1.1zM74.0 39.7h0.8v0.8h-0.8zM11.2 11.4h1v1h-1zM63.7 22.6h1.1v1.1h-1.1zM33.1 38.7h0.8v0.8h-0.8zM11.7 60.8h1.1v1.1h-1.1zM34.6 22.2h1.3v1.3h-1.3zM37.6 16.4h1v1h-1zM1.8 31.1h0.8v0.8h-0.8zM22.9 29.0h1.3v1.3h-1.3zM24.0 30.5h1v1h-1zM7.1 2.8h1.1v1.1h-1.1zM42.2 40.8h0.9v0.9h-0.9zM38.1 58.2h0.9v0.9h-0.9zM54.8 23.0h1.3v1.3h-1.3zM0.9 42.4h1v1h-1zM36.0 35.8h0.9v0.9h-0.9zM7.6 25.8h0.8v0.8h-0.8zM5.7 41.0h1.3v1.3h-1.3zM29.1 15.5h0.8v0.8h-0.8zM73.9 50.5h1.1v1.1h-1.1zM10.0 50.8h1.3v1.3h-1.3zM25.5 2.3h1.3v1.3h-1.3zM59.2 59.1h1v1h-1zM32.9 61.4h1.3v1.3h-1.3zM31.0 39.8h1.3v1.3h-1.3zM51.6 9.2h1.3v1.3h-1.3zM71.7 38.1h1.3v1.3h-1.3zM11.7 50.3h1.1v1.1h-1.1zM36.3 36.9h0.8v0.8h-0.8zM20.1 17.8h0.8v0.8h-0.8zM30.1 10.2h1.1v1.1h-1.1zM69.7 54.7h0.9v0.9h-0.9zM61.9 -0.8h1.1v1.1h-1.1zM1.3 24.8h0.8v0.8h-0.8zM49.9 43.6h1.1v1.1h-1.1zM56.3 22.4h0.9v0.9h-0.9zM0.5 19.0h1.1v1.1h-1.1zM16.6 -0.4h0.9v0.9h-0.9zM23.3 60.0h1v1h-1zM60.9 21.8h1.1v1.1h-1.1zM50.7 55.1h1v1h-1zM74.2 5.9h0.9v0.9h-0.9zM23.7 25.2h0.9v0.9h-0.9zM26.3 35.2h1.3v1.3h-1.3zM25.1 34.1h0.9v0.9h-0.9zM9.4 37.9h1v1h-1zM51.9 23.8h0.8v0.8h-0.8zM50.9 11.5h1.1v1.1h-1.1zM76.1 8.5h1.1v1.1h-1.1zM32.1 29.9h1.3v1.3h-1.3zM23.8 13.4h1.1v1.1h-1.1zM25.6 5.2h1.3v1.3h-1.3z" fill="#b6b6ba" filter="url(#bl4)"/>
<path d="M14.4 18.5h1v1h-1zM5.9 37.1h0.9v0.9h-0.9zM13.1 28.8h1v1h-1zM35.7 61.7h1.1v1.1h-1.1zM7.0 2.9h1.3v1.3h-1.3zM0.4 17.2h1.1v1.1h-1.1zM3.7 2.5h0.9v0.9h-0.9zM13.9 1.3h0.9v0.9h-0.9zM69.7 18.8h1.1v1.1h-1.1zM75.4 40.1h0.8v0.8h-0.8zM38.2 4.8h0.9v0.9h-0.9zM25.7 40.3h1v1h-1zM63.7 32.2h1v1h-1zM42.7 54.3h1.3v1.3h-1.3zM76.3 -0.7h1v1h-1zM8.6 6.0h1.1v1.1h-1.1zM23.3 53.6h1.3v1.3h-1.3zM9.6 4.2h0.9v0.9h-0.9zM11.6 35.7h0.8v0.8h-0.8zM59.4 59.9h1.1v1.1h-1.1zM52.6 45.9h1v1h-1zM0.0 10.6h1.3v1.3h-1.3zM47.8 21.9h0.8v0.8h-0.8zM11.4 3.3h1v1h-1zM30.6 35.6h1.3v1.3h-1.3zM74.6 54.3h1v1h-1zM54.1 44.5h1.1v1.1h-1.1zM75.2 8.6h0.8v0.8h-0.8zM17.4 33.8h1.3v1.3h-1.3zM13.7 50.9h1.1v1.1h-1.1zM36.7 55.8h1.1v1.1h-1.1zM51.3 43.0h1.1v1.1h-1.1zM77.4 21.2h0.8v0.8h-0.8zM8.3 60.5h0.8v0.8h-0.8zM63.8 17.8h1.1v1.1h-1.1zM1.7 24.9h1.3v1.3h-1.3zM22.7 42.4h1.1v1.1h-1.1zM31.0 37.3h0.9v0.9h-0.9zM6.3 12.3h0.9v0.9h-0.9zM45.2 8.5h0.9v0.9h-0.9zM19.9 36.3h1.3v1.3h-1.3zM54.4 27.1h1.1v1.1h-1.1zM18.1 19.9h0.8v0.8h-0.8zM29.4 13.6h0.8v0.8h-0.8zM9.6 37.1h1v1h-1zM42.0 22.4h1.3v1.3h-1.3zM51.4 35.0h1v1h-1zM75.6 1.0h0.9v0.9h-0.9zM38.2 51.1h1.3v1.3h-1.3zM-0.2 -0.8h1.3v1.3h-1.3zM32.7 4.8h0.9v0.9h-0.9zM49.0 31.1h0.8v0.8h-0.8zM24.8 20.3h1.3v1.3h-1.3zM27.5 46.7h1.1v1.1h-1.1zM75.0 42.0h1.1v1.1h-1.1zM40.4 1.9h1.3v1.3h-1.3zM13.2 56.7h1.1v1.1h-1.1zM31.3 23.7h0.8v0.8h-0.8zM-1.0 21.9h0.9v0.9h-0.9zM37.9 57.9h0.8v0.8h-0.8zM59.2 54.6h1v1h-1zM69.0 60.6h1.1v1.1h-1.1zM33.5 44.1h1.3v1.3h-1.3zM12.0 25.9h0.8v0.8h-0.8zM40.3 47.9h0.9v0.9h-0.9zM47.8 47.8h1v1h-1zM72.3 26.7h0.8v0.8h-0.8zM27.6 15.7h1.1v1.1h-1.1zM19.2 38.1h1.3v1.3h-1.3zM13.0 0.1h1v1h-1zM16.8 49.2h0.9v0.9h-0.9zM37.9 23.4h0.8v0.8h-0.8zM66.1 44.6h1.1v1.1h-1.1zM1.7 38.7h1.1v1.1h-1.1zM20.4 -0.5h1v1h-1zM5.4 28.0h0.8v0.8h-0.8zM7.1 21.8h1.1v1.1h-1.1zM46.7 44.5h0.9v0.9h-0.9zM57.2 57.6h1.1v1.1h-1.1zM58.4 55.7h1.1v1.1h-1.1zM54.3 27.8h1.3v1.3h-1.3zM15.4 39.7h0.8v0.8h-0.8zM38.2 43.5h1v1h-1zM7.1 35.1h1v1h-1zM34.0 31.6h0.9v0.9h-0.9zM39.4 5.9h1.1v1.1h-1.1zM38.7 42.7h1v1h-1zM31.5 52.6h1v1h-1zM35.9 49.1h0.9v0.9h-0.9zM62.2 36.7h0.9v0.9h-0.9zM60.5 49.8h0.8v0.8h-0.8zM37.4 28.4h1.1v1.1h-1.1zM24.6 1.7h1.3v1.3h-1.3zM12.3 35.4h1v1h-1zM13.3 6.3h0.8v0.8h-0.8zM75.3 34.6h0.9v0.9h-0.9zM4.6 26.9h1.1v1.1h-1.1zM49.4 32.4h1v1h-1zM9.0 49.0h0.9v0.9h-0.9zM13.7 44.8h1.3v1.3h-1.3zM25.8 26.4h0.8v0.8h-0.8zM60.7 7.1h1v1h-1zM7.1 39.9h0.8v0.8h-0.8zM13.2 61.8h1.1v1.1h-1.1zM61.3 53.5h1.3v1.3h-1.3zM61.6 32.2h0.9v0.9h-0.9zM36.7 39.3h1v1h-1zM7.0 7.2h1.1v1.1h-1.1zM53.3 48.1h1v1h-1zM73.5 58.6h1.3v1.3h-1.3zM38.1 25.3h1.1v1.1h-1.1zM39.7 55.1h1v1h-1zM40.7 45.7h1.3v1.3h-1.3zM65.8 61.6h0.9v0.9h-0.9zM77.9 48.9h0.9v0.9h-0.9zM9.5 51.0h1v1h-1zM22.2 49.8h1v1h-1zM37.1 17.8h1.1v1.1h-1.1zM24.4 61.0h0.8v0.8h-0.8zM1.7 1.5h0.8v0.8h-0.8zM53.5 46.7h0.9v0.9h-0.9zM19.7 10.7h0.8v0.8h-0.8zM73.8 43.3h1.3v1.3h-1.3zM75.5 1.8h0.8v0.8h-0.8zM24.1 24.4h0.8v0.8h-0.8zM5.0 26.4h1.1v1.1h-1.1zM52.7 52.1h1.3v1.3h-1.3zM13.1 51.8h1v1h-1zM72.5 14.8h0.8v0.8h-0.8zM-0.0 19.6h1v1h-1zM64.5 43.3h1.1v1.1h-1.1zM66.2 44.0h1v1h-1zM73.9 43.6h0.9v0.9h-0.9zM43.7 36.8h1v1h-1zM41.9 36.1h0.9v0.9h-0.9zM11.2 24.6h0.9v0.9h-0.9zM59.7 37.1h0.8v0.8h-0.8zM13.2 18.4h0.8v0.8h-0.8zM0.0 15.4h1v1h-1zM7.5 38.1h1.1v1.1h-1.1zM3.0 23.7h1.3v1.3h-1.3zM77.7 51.8h0.9v0.9h-0.9zM24.4 35.7h1.1v1.1h-1.1zM43.7 19.3h1.3v1.3h-1.3zM36.6 22.7h1.1v1.1h-1.1zM54.1 18.2h0.9v0.9h-0.9zM43.2 48.5h1v1h-1zM3.2 16.4h0.9v0.9h-0.9zM74.7 50.4h0.8v0.8h-0.8zM7.1 43.3h0.8v0.8h-0.8zM0.6 39.2h0.9v0.9h-0.9zM57.4 5.3h1v1h-1zM46.8 17.3h1.1v1.1h-1.1zM67.1 52.2h1.3v1.3h-1.3zM61.4 54.7h0.8v0.8h-0.8zM39.9 38.7h0.8v0.8h-0.8zM32.7 13.7h0.9v0.9h-0.9zM2.2 37.8h1.1v1.1h-1.1zM8.6 40.9h0.8v0.8h-0.8zM1.0 57.3h1v1h-1zM61.6 39.2h1.3v1.3h-1.3zM20.4 55.3h0.9v0.9h-0.9zM64.7 8.8h0.8v0.8h-0.8zM63.0 58.5h0.9v0.9h-0.9zM60.3 31.8h1.1v1.1h-1.1zM67.9 18.3h1.3v1.3h-1.3zM25.6 15.4h1.3v1.3h-1.3zM66.0 11.3h0.9v0.9h-0.9zM0.8 30.8h0.9v0.9h-0.9zM51.5 33.4h0.9v0.9h-0.9zM26.0 22.8h0.8v0.8h-0.8zM25.9 34.1h0.8v0.8h-0.8zM30.4 40.6h0.8v0.8h-0.8zM64.0 46.5h1v1h-1zM-0.5 18.7h0.9v0.9h-0.9zM68.5 27.2h1.1v1.1h-1.1zM17.2 43.0h0.9v0.9h-0.9zM73.3 27.6h0.9v0.9h-0.9zM46.2 0.7h1.3v1.3h-1.3zM22.7 31.5h0.9v0.9h-0.9zM64.1 43.9h1.1v1.1h-1.1zM11.8 36.8h0.8v0.8h-0.8zM75.4 31.2h0.9v0.9h-0.9zM9.2 57.6h1v1h-1zM37.2 14.8h1v1h-1zM45.2 59.5h1v1h-1zM13.0 48.3h1v1h-1zM67.7 55.4h1.3v1.3h-1.3zM64.5 23.7h0.8v0.8h-0.8zM53.8 35.0h0.8v0.8h-0.8zM73.8 15.4h1v1h-1zM28.7 30.0h1.3v1.3h-1.3zM51.5 52.3h0.8v0.8h-0.8zM45.9 46.4h1.3v1.3h-1.3zM65.4 51.7h1.1v1.1h-1.1zM52.9 27.8h1.3v1.3h-1.3zM63.0 16.9h0.9v0.9h-0.9zM14.7 22.2h1.1v1.1h-1.1zM58.5 59.3h1v1h-1zM68.9 14.3h1v1h-1zM72.9 15.6h0.9v0.9h-0.9zM19.0 61.6h0.9v0.9h-0.9zM12.6 7.0h0.9v0.9h-0.9zM43.8 27.6h1.3v1.3h-1.3zM40.9 9.1h1.1v1.1h-1.1zM29.8 51.9h0.8v0.8h-0.8zM31.9 0.6h1v1h-1zM23.0 8.2h1.3v1.3h-1.3zM12.7 2.3h1.3v1.3h-1.3zM0.7 32.8h0.9v0.9h-0.9zM71.8 43.3h0.8v0.8h-0.8zM35.3 47.7h0.8v0.8h-0.8zM12.1 -0.5h1.1v1.1h-1.1zM5.9 27.5h1.3v1.3h-1.3zM7.7 6.0h1.3v1.3h-1.3zM66.2 10.0h1.1v1.1h-1.1zM75.9 32.2h0.9v0.9h-0.9zM16.0 52.0h1.1v1.1h-1.1zM48.4 -0.5h0.9v0.9h-0.9zM47.5 51.6h1.3v1.3h-1.3zM73.6 -0.1h1v1h-1zM34.8 9.3h1.3v1.3h-1.3zM9.6 56.6h0.9v0.9h-0.9zM15.5 56.8h1.3v1.3h-1.3zM62.6 18.6h1.3v1.3h-1.3zM18.3 33.8h0.8v0.8h-0.8zM49.5 28.6h1.3v1.3h-1.3zM1.3 10.6h0.9v0.9h-0.9zM0.6 42.4h0.9v0.9h-0.9zM14.0 36.9h1.3v1.3h-1.3zM4.7 14.5h1v1h-1zM16.1 60.4h1v1h-1zM14.3 60.4h1.1v1.1h-1.1zM26.5 25.4h1v1h-1zM45.1 28.7h1v1h-1zM32.7 46.9h1v1h-1zM41.8 37.6h1v1h-1zM13.4 13.2h0.9v0.9h-0.9zM23.5 32.1h0.9v0.9h-0.9zM43.3 1.4h0.9v0.9h-0.9zM55.2 35.6h1v1h-1zM75.6 28.7h0.8v0.8h-0.8zM71.9 14.8h1.3v1.3h-1.3zM15.2 52.0h1.1v1.1h-1.1zM13.6 6.2h1.1v1.1h-1.1zM75.3 42.4h0.9v0.9h-0.9zM70.7 49.1h1.1v1.1h-1.1zM11.8 14.3h0.8v0.8h-0.8zM58.1 3.2h1.1v1.1h-1.1zM14.3 37.9h0.9v0.9h-0.9zM53.5 56.7h1v1h-1zM66.0 48.5h1.1v1.1h-1.1zM50.2 5.7h1.3v1.3h-1.3zM24.8 0.2h0.8v0.8h-0.8zM20.0 19.6h1.3v1.3h-1.3zM52.5 22.6h1.3v1.3h-1.3zM16.4 54.0h1.3v1.3h-1.3zM27.4 45.9h1.1v1.1h-1.1zM2.8 53.6h1v1h-1zM41.1 33.0h0.8v0.8h-0.8zM23.7 22.4h1v1h-1zM75.7 18.2h1.3v1.3h-1.3zM15.9 31.7h1.3v1.3h-1.3zM18.6 30.5h0.9v0.9h-0.9zM42.8 1.5h1.1v1.1h-1.1zM17.3 57.5h1v1h-1zM31.4 7.7h1v1h-1zM42.8 45.5h1.3v1.3h-1.3zM24.7 45.9h1.3v1.3h-1.3zM75.2 58.8h0.8v0.8h-0.8zM15.0 20.4h1.1v1.1h-1.1zM-0.9 55.5h0.8v0.8h-0.8zM55.0 57.6h1.1v1.1h-1.1zM27.9 26.2h1v1h-1zM70.2 28.2h1.1v1.1h-1.1zM40.6 58.9h1.1v1.1h-1.1zM53.8 5.0h1.3v1.3h-1.3zM21.1 55.6h1v1h-1zM46.2 29.7h1.3v1.3h-1.3zM66.7 42.3h1.1v1.1h-1.1zM25.8 48.1h0.9v0.9h-0.9zM67.5 11.7h1.3v1.3h-1.3zM29.1 25.9h0.9v0.9h-0.9zM0.6 -0.3h1.3v1.3h-1.3zM37.6 47.8h1v1h-1zM50.0 35.4h1.3v1.3h-1.3zM7.8 12.8h1v1h-1zM45.0 24.5h0.8v0.8h-0.8zM45.0 31.6h1v1h-1zM11.0 52.2h0.8v0.8h-0.8zM47.6 6.2h0.9v0.9h-0.9zM40.8 35.1h0.8v0.8h-0.8zM8.8 49.6h1.3v1.3h-1.3zM29.5 28.5h0.8v0.8h-0.8zM35.8 23.7h0.8v0.8h-0.8zM33.1 28.6h1v1h-1zM49.7 29.2h0.9v0.9h-0.9zM24.0 55.6h1v1h-1zM26.0 45.6h1.1v1.1h-1.1zM57.4 16.6h1.1v1.1h-1.1zM57.6 23.5h0.9v0.9h-0.9zM65.9 55.6h1.3v1.3h-1.3zM19.0 1.2h0.8v0.8h-0.8zM57.4 27.8h1.3v1.3h-1.3zM5.1 19.4h0.9v0.9h-0.9zM61.8 34.9h1v1h-1zM48.5 22.4h0.8v0.8h-0.8zM58.0 21.6h1.1v1.1h-1.1zM68.8 43.2h1.1v1.1h-1.1zM19.0 6.2h0.8v0.8h-0.8zM21.2 32.3h0.8v0.8h-0.8zM53.5 34.1h1.3v1.3h-1.3zM62.3 9.6h0.9v0.9h-0.9zM64.1 7.7h1.3v1.3h-1.3zM23.7 24.8h0.9v0.9h-0.9zM26.1 53.5h1.3v1.3h-1.3zM16.9 14.5h1.3v1.3h-1.3zM43.4 19.1h1.3v1.3h-1.3zM72.2 51.6h1.1v1.1h-1.1zM34.9 43.5h1.1v1.1h-1.1zM67.2 53.9h1.3v1.3h-1.3zM35.2 3.8h1.1v1.1h-1.1zM69.5 57.5h1.3v1.3h-1.3zM61.5 2.3h0.9v0.9h-0.9zM59.4 28.0h0.9v0.9h-0.9zM33.6 47.9h1.1v1.1h-1.1zM75.7 34.6h1v1h-1zM7.7 29.4h1v1h-1zM25.6 58.2h1v1h-1zM4.1 46.5h0.9v0.9h-0.9zM20.9 7.9h0.9v0.9h-0.9zM77.4 49.5h1v1h-1zM0.9 52.5h1v1h-1zM73.0 61.1h1.1v1.1h-1.1zM55.9 13.6h0.8v0.8h-0.8zM61.5 26.0h1.3v1.3h-1.3zM63.3 14.2h1.3v1.3h-1.3zM2.7 23.6h1.1v1.1h-1.1zM26.7 27.2h1v1h-1zM17.2 42.5h0.8v0.8h-0.8zM38.8 53.0h0.8v0.8h-0.8zM16.4 51.3h1v1h-1zM69.9 16.2h1.1v1.1h-1.1zM40.2 43.3h1.3v1.3h-1.3zM62.4 58.4h1v1h-1zM28.6 4.1h1v1h-1zM57.7 39.0h1.3v1.3h-1.3zM33.3 3.5h1v1h-1zM70.2 19.2h1v1h-1zM10.9 43.6h0.8v0.8h-0.8zM11.3 46.5h0.9v0.9h-0.9zM65.8 52.5h1v1h-1zM4.7 60.7h1v1h-1zM36.3 38.9h0.8v0.8h-0.8zM73.0 22.9h1.1v1.1h-1.1zM24.6 45.0h1.3v1.3h-1.3zM40.5 50.2h1.1v1.1h-1.1zM75.1 46.1h1.1v1.1h-1.1zM43.2 51.9h0.8v0.8h-0.8zM62.8 52.9h0.9v0.9h-0.9zM66.5 34.7h1.1v1.1h-1.1zM32.1 24.5h1.1v1.1h-1.1zM52.7 17.5h0.8v0.8h-0.8zM77.1 60.5h0.9v0.9h-0.9zM2.7 42.2h1v1h-1zM16.1 53.8h1.3v1.3h-1.3zM34.3 7.2h1.3v1.3h-1.3zM5.2 41.3h1.1v1.1h-1.1zM44.4 53.6h1.3v1.3h-1.3zM26.2 47.8h1v1h-1zM40.0 5.7h1v1h-1zM27.4 47.0h0.9v0.9h-0.9zM69.6 57.9h1.3v1.3h-1.3zM41.5 28.2h1.1v1.1h-1.1zM55.5 24.9h0.8v0.8h-0.8zM21.4 9.3h1v1h-1zM24.8 33.3h1.3v1.3h-1.3zM35.1 36.9h0.8v0.8h-0.8zM52.9 40.5h1.1v1.1h-1.1zM0.6 18.1h1.3v1.3h-1.3zM60.9 17.5h1v1h-1zM19.4 58.2h0.9v0.9h-0.9zM17.6 47.8h1.3v1.3h-1.3zM74.9 5.1h0.8v0.8h-0.8zM29.0 47.8h1.3v1.3h-1.3zM-0.4 61.2h1.1v1.1h-1.1zM35.8 49.3h1.3v1.3h-1.3zM63.3 20.5h0.9v0.9h-0.9zM13.5 10.4h0.8v0.8h-0.8zM50.9 7.8h0.8v0.8h-0.8zM69.8 30.8h1.3v1.3h-1.3zM3.8 59.2h1.3v1.3h-1.3zM61.7 3.5h0.9v0.9h-0.9zM37.2 58.9h1.3v1.3h-1.3zM-0.6 1.9h0.8v0.8h-0.8zM1.9 23.3h1.3v1.3h-1.3zM5.1 49.5h1v1h-1zM69.3 6.9h1.3v1.3h-1.3zM63.6 49.4h0.8v0.8h-0.8zM26.3 30.0h0.8v0.8h-0.8zM62.2 -0.2h1.1v1.1h-1.1zM52.3 36.9h0.8v0.8h-0.8zM75.2 12.3h1v1h-1zM35.7 16.2h0.8v0.8h-0.8zM4.3 38.7h0.8v0.8h-0.8zM18.8 28.5h0.9v0.9h-0.9zM56.9 53.6h0.8v0.8h-0.8zM49.3 54.4h1.3v1.3h-1.3zM75.8 36.0h0.8v0.8h-0.8zM14.7 45.6h0.9v0.9h-0.9zM30.3 2.7h0.8v0.8h-0.8zM45.7 23.0h1.1v1.1h-1.1zM36.7 35.2h0.8v0.8h-0.8zM78.4 54.3h1.3v1.3h-1.3zM17.8 21.7h1v1h-1zM21.7 21.3h1.3v1.3h-1.3zM47.9 2.3h0.9v0.9h-0.9zM63.1 45.9h1v1h-1zM76.6 29.8h0.8v0.8h-0.8zM45.5 52.7h0.8v0.8h-0.8zM49.5 22.8h1.1v1.1h-1.1zM63.4 45.4h0.8v0.8h-0.8zM11.7 6.8h0.8v0.8h-0.8zM37.8 0.6h0.8v0.8h-0.8zM46.1 32.2h0.8v0.8h-0.8zM66.5 54.0h1.1v1.1h-1.1zM48.8 2.2h0.8v0.8h-0.8zM65.9 40.8h1.3v1.3h-1.3zM49.0 35.4h1.3v1.3h-1.3zM19.2 1.8h0.8v0.8h-0.8zM68.5 28.4h1.1v1.1h-1.1zM24.6 7.1h1v1h-1zM1.6 3.4h1.1v1.1h-1.1zM55.0 31.7h1.1v1.1h-1.1zM30.0 14.8h1.3v1.3h-1.3zM19.4 53.3h0.8v0.8h-0.8zM68.3 13.2h0.8v0.8h-0.8zM33.9 60.9h1.3v1.3h-1.3zM6.2 47.3h0.8v0.8h-0.8zM6.3 43.6h1.1v1.1h-1.1zM69.7 57.7h1.1v1.1h-1.1zM50.6 55.1h1.3v1.3h-1.3zM65.3 26.0h0.9v0.9h-0.9zM21.8 15.0h0.8v0.8h-0.8zM-0.4 33.0h1.3v1.3h-1.3zM64.5 51.5h1.3v1.3h-1.3zM26.6 2.2h0.9v0.9h-0.9zM30.6 52.3h1.3v1.3h-1.3zM58.6 1.3h0.9v0.9h-0.9zM10.2 32.2h1.1v1.1h-1.1zM76.5 42.1h0.8v0.8h-0.8zM0.1 36.3h0.9v0.9h-0.9zM43.2 44.4h1.3v1.3h-1.3zM7.9 18.6h0.9v0.9h-0.9zM15.0 9.3h1.1v1.1h-1.1zM3.2 21.0h0.8v0.8h-0.8zM14.6 17.5h1.3v1.3h-1.3zM52.9 54.1h1v1h-1zM-1.0 9.5h0.8v0.8h-0.8zM10.9 30.4h1.1v1.1h-1.1zM13.1 28.3h0.8v0.8h-0.8zM43.6 24.4h1.1v1.1h-1.1zM20.0 38.9h1.1v1.1h-1.1zM43.1 26.9h0.8v0.8h-0.8zM45.2 0.3h1.1v1.1h-1.1zM53.3 32.2h1.1v1.1h-1.1zM41.7 11.8h0.9v0.9h-0.9zM63.6 40.0h0.8v0.8h-0.8zM8.9 20.3h1.3v1.3h-1.3zM11.4 1.5h1.3v1.3h-1.3zM75.2 31.3h1v1h-1zM5.4 5.7h1v1h-1zM1.2 39.2h1.3v1.3h-1.3zM47.7 55.3h1.1v1.1h-1.1zM23.7 41.9h0.8v0.8h-0.8zM15.0 9.1h1.1v1.1h-1.1zM74.9 12.2h0.9v0.9h-0.9zM18.5 1.9h1.3v1.3h-1.3zM24.9 48.2h1v1h-1zM40.0 28.4h1v1h-1zM60.9 38.9h0.9v0.9h-0.9zM47.4 5.2h0.9v0.9h-0.9zM68.6 7.2h1v1h-1zM32.4 2.6h0.9v0.9h-0.9zM78.1 32.0h1v1h-1zM20.6 44.6h1v1h-1zM56.1 33.2h0.8v0.8h-0.8zM32.6 56.0h0.9v0.9h-0.9zM28.1 30.8h1v1h-1zM-0.0 16.9h1.3v1.3h-1.3zM52.4 42.1h0.8v0.8h-0.8zM76.3 8.2h1.1v1.1h-1.1zM31.5 21.1h1.1v1.1h-1.1zM68.4 43.4h0.9v0.9h-0.9zM62.3 46.5h0.8v0.8h-0.8zM8.0 24.8h0.8v0.8h-0.8zM78.2 50.3h1.3v1.3h-1.3zM18.8 50.5h0.9v0.9h-0.9zM49.3 28.7h1v1h-1zM50.9 24.6h1v1h-1zM3.7 40.7h1.1v1.1h-1.1zM57.1 0.3h1.3v1.3h-1.3zM50.4 59.9h1.3v1.3h-1.3zM17.2 50.2h0.8v0.8h-0.8zM27.4 43.0h0.8v0.8h-0.8zM26.7 51.0h1v1h-1zM61.1 13.7h0.9v0.9h-0.9zM46.0 31.6h1.1v1.1h-1.1zM1.6 44.9h0.9v0.9h-0.9zM32.9 54.9h0.8v0.8h-0.8zM78.3 5.2h1.1v1.1h-1.1zM78.1 57.0h1.1v1.1h-1.1zM68.3 7.6h1.1v1.1h-1.1zM13.8 51.2h1v1h-1zM37.1 36.5h1.1v1.1h-1.1zM56.1 38.5h0.9v0.9h-0.9zM59.2 59.2h1v1h-1zM25.8 28.3h1v1h-1zM1.3 2.2h1.1v1.1h-1.1zM49.2 57.3h1.3v1.3h-1.3zM8.1 44.2h1v1h-1zM74.6 3.3h1.3v1.3h-1.3zM30.2 51.1h1.1v1.1h-1.1zM-0.3 20.6h1.1v1.1h-1.1zM70.1 25.2h1.3v1.3h-1.3zM73.5 20.3h1.1v1.1h-1.1zM6.1 48.2h1v1h-1zM77.4 61.8h1v1h-1zM39.6 44.3h1.3v1.3h-1.3zM61.1 50.2h1v1h-1zM48.3 13.6h0.9v0.9h-0.9zM53.5 28.6h1.1v1.1h-1.1zM65.6 28.5h1.1v1.1h-1.1zM77.9 15.1h0.8v0.8h-0.8zM28.5 32.1h1v1h-1zM36.9 15.1h1.1v1.1h-1.1zM43.0 0.6h1.1v1.1h-1.1zM4.3 58.9h1v1h-1zM56.1 54.4h0.8v0.8h-0.8zM39.7 49.4h1.1v1.1h-1.1zM24.2 55.3h1v1h-1zM50.4 47.3h1.3v1.3h-1.3zM45.5 7.3h0.9v0.9h-0.9zM75.7 55.7h1.3v1.3h-1.3zM76.4 24.5h1v1h-1zM13.8 57.3h0.8v0.8h-0.8zM61.3 20.2h1.1v1.1h-1.1zM54.8 7.2h1.3v1.3h-1.3zM21.0 59.3h1v1h-1zM4.6 6.6h0.8v0.8h-0.8zM0.4 41.7h1.3v1.3h-1.3zM37.3 56.0h1.3v1.3h-1.3zM45.3 12.4h1.3v1.3h-1.3zM48.9 60.7h1v1h-1zM11.7 20.5h1.3v1.3h-1.3zM74.8 12.0h1.3v1.3h-1.3zM28.5 5.8h0.9v0.9h-0.9zM70.4 46.0h1.3v1.3h-1.3zM50.8 33.5h1v1h-1zM7.4 18.8h1.1v1.1h-1.1zM9.4 10.5h0.9v0.9h-0.9zM31.5 49.9h0.8v0.8h-0.8zM2.5 8.1h0.9v0.9h-0.9zM20.0 0.9h1v1h-1zM57.5 14.8h0.9v0.9h-0.9zM11.0 -0.4h0.8v0.8h-0.8zM34.9 25.0h0.8v0.8h-0.8zM47.2 20.6h1.1v1.1h-1.1zM75.4 10.6h1.1v1.1h-1.1zM64.5 51.9h1v1h-1zM30.9 11.2h1.3v1.3h-1.3zM53.1 19.6h0.9v0.9h-0.9zM4.4 14.9h0.9v0.9h-0.9zM51.0 39.1h0.8v0.8h-0.8zM22.4 -0.7h1.3v1.3h-1.3zM75.3 44.2h1v1h-1zM44.8 30.4h1.1v1.1h-1.1zM59.0 15.8h0.9v0.9h-0.9zM75.8 51.2h1.1v1.1h-1.1zM14.4 7.6h1v1h-1zM23.5 2.2h0.8v0.8h-0.8zM71.5 10.5h1v1h-1zM66.6 4.1h1.1v1.1h-1.1zM72.8 9.8h1v1h-1zM29.8 49.0h0.9v0.9h-0.9zM33.4 59.9h1v1h-1zM45.7 12.9h1.1v1.1h-1.1zM16.7 30.2h1v1h-1zM36.4 5.0h0.9v0.9h-0.9zM60.7 23.5h1.1v1.1h-1.1zM22.8 19.5h1.1v1.1h-1.1zM19.4 21.2h0.9v0.9h-0.9zM25.4 56.7h1.1v1.1h-1.1zM40.7 50.4h0.8v0.8h-0.8zM9.4 38.4h0.8v0.8h-0.8zM73.8 7.6h0.8v0.8h-0.8zM0.7 19.0h1.1v1.1h-1.1zM5.7 40.8h0.9v0.9h-0.9zM43.6 52.3h0.9v0.9h-0.9zM69.0 33.9h0.9v0.9h-0.9zM8.1 17.6h1.3v1.3h-1.3zM9.1 11.7h1.1v1.1h-1.1zM62.6 54.9h1v1h-1zM61.2 25.1h1.1v1.1h-1.1zM19.4 32.7h0.8v0.8h-0.8zM63.7 60.3h0.9v0.9h-0.9zM67.2 3.7h1.3v1.3h-1.3zM43.4 46.0h1v1h-1zM24.8 45.2h0.9v0.9h-0.9zM53.3 3.6h1v1h-1zM49.7 32.6h1v1h-1zM54.2 60.6h1.3v1.3h-1.3zM4.2 34.7h1.1v1.1h-1.1zM38.8 57.1h0.8v0.8h-0.8zM47.0 56.7h0.8v0.8h-0.8zM69.8 55.9h0.9v0.9h-0.9zM28.2 3.8h1v1h-1zM14.6 12.0h1v1h-1zM76.2 32.4h1.1v1.1h-1.1zM37.8 13.0h1v1h-1zM43.7 0.2h0.8v0.8h-0.8zM6.8 30.7h1.3v1.3h-1.3zM15.4 17.8h1.1v1.1h-1.1zM58.5 49.2h1.3v1.3h-1.3zM22.6 55.3h1.3v1.3h-1.3zM3.2 22.7h1.1v1.1h-1.1zM18.9 14.2h0.9v0.9h-0.9zM38.5 21.6h0.8v0.8h-0.8zM67.6 6.5h0.8v0.8h-0.8zM51.1 2.6h1v1h-1zM37.3 18.0h1.3v1.3h-1.3zM29.6 17.9h1v1h-1zM10.5 29.8h1.1v1.1h-1.1zM22.4 20.4h0.8v0.8h-0.8zM55.8 4.1h1.3v1.3h-1.3zM34.9 59.7h0.8v0.8h-0.8zM59.1 8.4h1.1v1.1h-1.1zM61.4 40.7h1v1h-1zM42.9 28.0h1.3v1.3h-1.3zM22.6 28.6h1v1h-1zM6.1 25.1h1.1v1.1h-1.1zM29.2 6.9h0.9v0.9h-0.9zM0.1 40.7h0.9v0.9h-0.9zM1.8 5.5h0.8v0.8h-0.8zM1.6 6.2h1.1v1.1h-1.1zM10.9 24.1h1.1v1.1h-1.1zM2.5 5.4h1.1v1.1h-1.1zM69.8 28.1h1v1h-1zM12.6 34.3h0.9v0.9h-0.9zM1.7 8.9h1.3v1.3h-1.3zM43.5 22.9h0.8v0.8h-0.8zM69.2 6.3h0.8v0.8h-0.8zM6.2 30.5h1.1v1.1h-1.1zM8.2 50.9h0.8v0.8h-0.8zM29.9 10.9h0.8v0.8h-0.8zM57.6 57.8h1.1v1.1h-1.1zM56.8 25.0h1v1h-1zM38.9 12.8h1v1h-1zM18.4 58.8h0.8v0.8h-0.8zM0.7 24.7h0.9v0.9h-0.9zM73.7 18.6h1.3v1.3h-1.3zM43.7 42.7h0.9v0.9h-0.9zM23.5 49.6h1.3v1.3h-1.3zM11.9 43.6h0.9v0.9h-0.9zM11.7 33.5h0.9v0.9h-0.9zM31.2 13.6h1.1v1.1h-1.1zM8.0 -0.3h1v1h-1zM52.8 1.2h0.9v0.9h-0.9zM17.4 18.8h1.1v1.1h-1.1zM19.6 48.3h0.8v0.8h-0.8zM3.7 4.5h0.9v0.9h-0.9zM28.8 6.7h1.3v1.3h-1.3zM54.5 32.7h1v1h-1zM32.5 3.8h1v1h-1zM25.8 54.8h0.9v0.9h-0.9zM37.5 1.5h0.8v0.8h-0.8zM20.3 48.4h1v1h-1zM32.5 38.0h0.8v0.8h-0.8zM11.6 29.7h1v1h-1zM68.7 44.7h0.9v0.9h-0.9zM38.8 32.9h1.1v1.1h-1.1zM76.1 58.9h0.8v0.8h-0.8zM36.6 33.2h1v1h-1zM26.7 24.7h0.8v0.8h-0.8zM22.6 10.2h1.3v1.3h-1.3zM36.9 33.8h1.1v1.1h-1.1zM28.2 31.0h0.8v0.8h-0.8zM27.5 40.6h1.1v1.1h-1.1zM45.2 9.6h1.1v1.1h-1.1zM73.4 29.0h1v1h-1zM66.7 41.5h0.9v0.9h-0.9zM69.1 14.8h0.9v0.9h-0.9zM47.2 19.0h0.8v0.8h-0.8zM41.9 14.4h0.9v0.9h-0.9zM57.1 27.6h1.1v1.1h-1.1zM68.6 30.1h1.3v1.3h-1.3z" fill="#d8d8da" filter="url(#bl4)"/>
<path d="M12.3 28.8h1.3v1.3h-1.3zM26.9 11.9h1v1h-1zM31.1 5.7h1v1h-1zM38.3 11.7h1.1v1.1h-1.1zM33.8 8.0h1.1v1.1h-1.1zM30.0 46.9h0.8v0.8h-0.8zM36.4 2.4h0.9v0.9h-0.9zM9.6 33.3h0.8v0.8h-0.8zM37.2 7.7h0.9v0.9h-0.9zM16.8 29.4h1v1h-1zM27.9 10.1h1.1v1.1h-1.1zM4.8 38.9h1v1h-1zM33.6 10.2h1.1v1.1h-1.1z" fill="#c8a088" filter="url(#bl4)"/>
<path d="M32.8 9.3h1v1h-1zM18.5 45.6h0.8v0.8h-0.8zM7.1 28.5h1v1h-1zM24.9 14.9h1.1v1.1h-1.1zM30.4 6.0h1.1v1.1h-1.1zM14.2 29.9h1.1v1.1h-1.1zM36.9 9.7h1v1h-1zM32.6 19.8h1.3v1.3h-1.3zM31.9 16.6h1.1v1.1h-1.1zM35.5 8.7h1.1v1.1h-1.1zM20.4 40.8h1v1h-1zM28.2 11.3h0.8v0.8h-0.8zM31.5 7.4h0.9v0.9h-0.9z" fill="#b89078" filter="url(#bl4)"/>
<path d="M21.9 25.2h1.3v1.3h-1.3zM33.1 6.4h0.8v0.8h-0.8zM27.8 61.1h0.8v0.8h-0.8zM6.7 25.1h0.9v0.9h-0.9zM31.0 5.2h1.1v1.1h-1.1zM22.9 36.1h0.9v0.9h-0.9zM39.9 16.5h1.1v1.1h-1.1zM12.8 34.6h1.3v1.3h-1.3z" fill="#d8b8a0" filter="url(#bl4)"/>
</svg>
</svg>
</body></html>
